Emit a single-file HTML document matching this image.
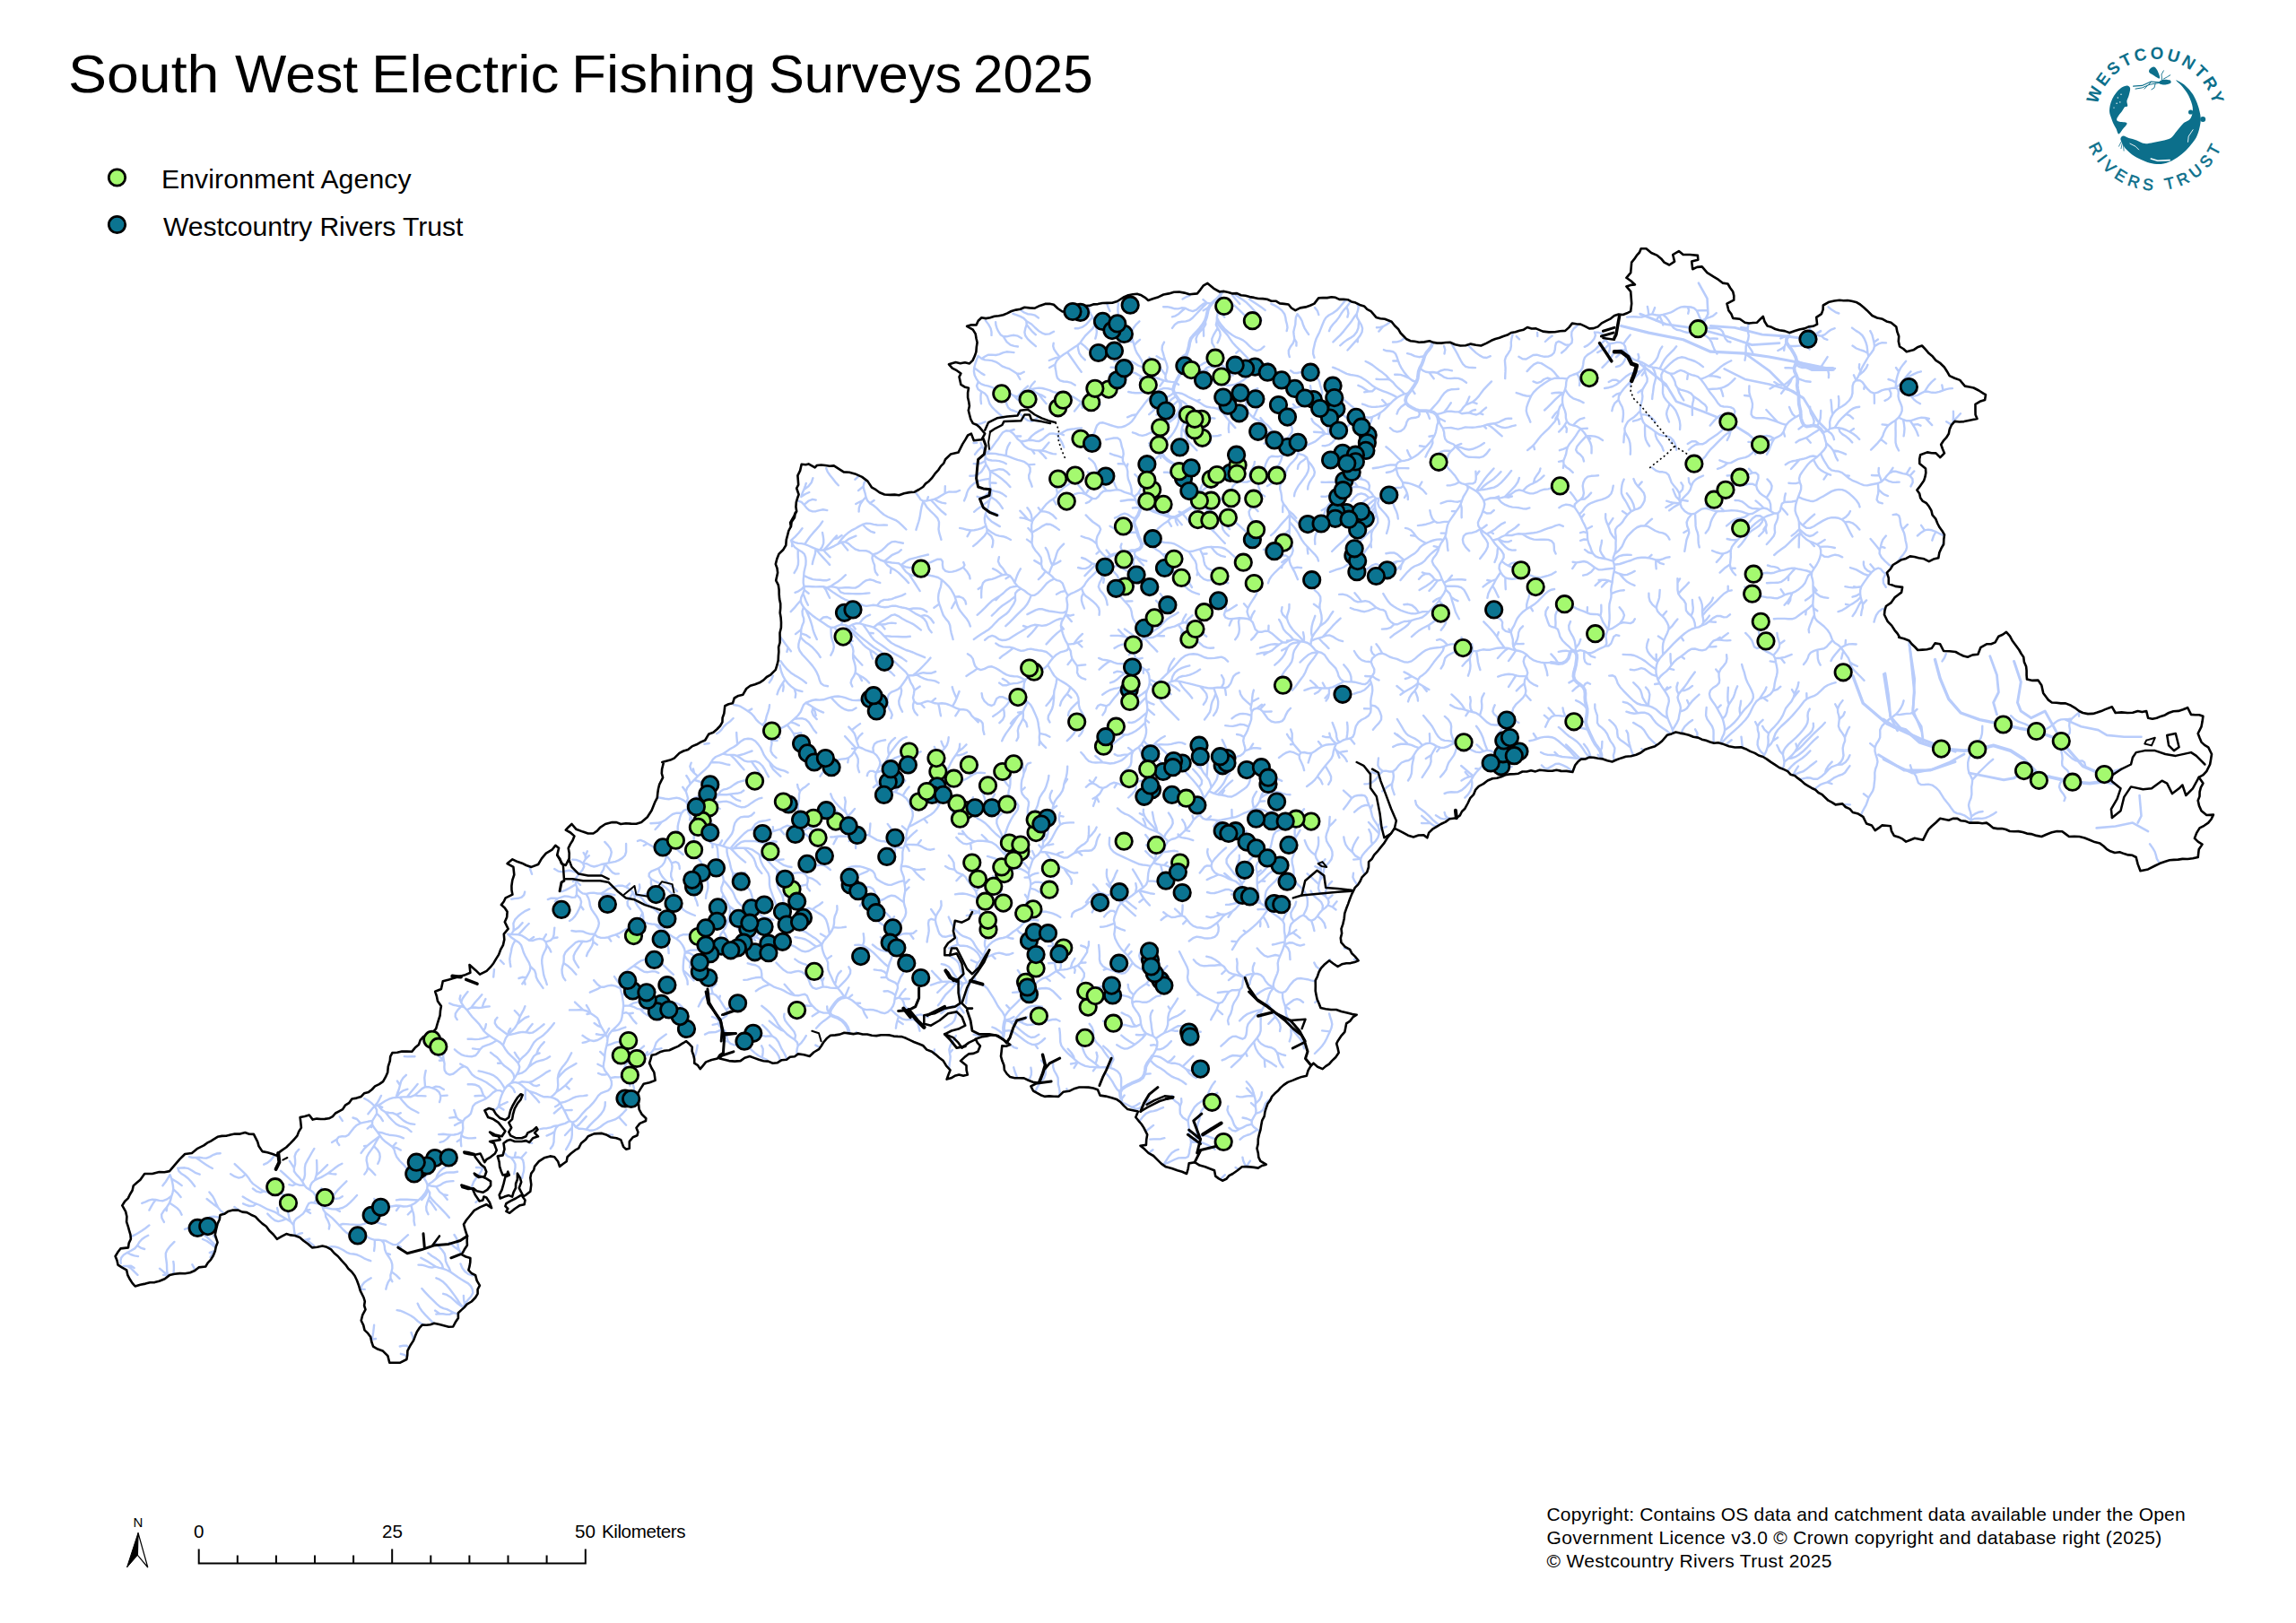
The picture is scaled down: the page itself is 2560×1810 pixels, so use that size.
<!DOCTYPE html>
<html><head><meta charset="utf-8"><title>South West Electric Fishing Surveys 2025</title>
<style>
html,body{margin:0;padding:0;background:#fff;}
body{width:2560px;height:1810px;position:relative;overflow:hidden;font-family:"Liberation Sans",sans-serif;color:#000;}
#title{position:absolute;left:0;top:47.5px;font-size:60px;line-height:70px;white-space:nowrap;}
.leg{position:absolute;left:180px;font-size:30.2px;line-height:34px;white-space:nowrap;letter-spacing:0.1px;transform-origin:0 50%;}
#copy{position:absolute;left:1724.5px;top:1676px;font-size:21px;line-height:26px;white-space:nowrap;letter-spacing:0.2px;}
#copy div{transform-origin:0 0;}
.sb{position:absolute;font-size:20.6px;line-height:22px;white-space:nowrap;}
svg{position:absolute;left:0;top:0;}
</style></head><body>
<svg width="2560" height="1810" viewBox="0 0 2560 1810">
<defs><clipPath id="land"><path d="M310.2 1285.9l4.4 -3.3l4.6 -3.1l4.5 -4.4l4.4 -4.6l3.3 -3.9l1.8 -4.7l2.7 -4.3l-0.6 -5.8l-0.7 -5.8l5.1 -1.1l5.1 -1.4l3.9 5.1l4.5 -1l4.5 0.4l4.5 -0.1l4.5 -0.6l4.2 -2.1l3.1 -3.7l4 -2.2l4.1 -2.2l2.8 -4.4l4.5 -2.9l3 -4.3l5.2 -0.9l5.1 -1.7l3.3 -3.6l5 -1.4l3.8 -2.9l3.3 -3.6l4.7 -2.3l4.3 -2.9l2.8 -5l2.3 -5.3l0.6 -6.5l2 -6.3l0.4 -4.8l2.2 -4.2l5.5 -0.3l5.3 -1.2l5.5 -0.1l5.5 0.3l3.5 -4.2l4.2 -3.5l1.7 -5l3.4 -4l7.8 -1.3l3.1 -3.9l3.3 -3.8l1.3 -4.8l1.5 -4.8l1.6 -5l0.4 -5.3l0.9 -5.1l-3.9 -5.7l-1.1 -5.4l-1.7 -5.2l6.7 -2.8l1.9 -8.7l6.7 -1.9l4.8 -1.5l4.8 -1.4l7.6 -1.9l6.7 -2.8l-0.9 -8.7l6.7 5.8l4.8 4.8l7.6 -3.9l4.1 -4.1l3.6 -4.5l2.8 -4.8l3 -4.8l2 -5.4l2.8 -5.1l1.4 -6.2l-0.5 -6.3l4.8 -5.7l-3.8 -7.7l2.4 -5.5l0.4 -6l-2.8 -4.2l-3.9 -3.4l2.8 -3.6l2 -4.1l7.7 -3.8l-0.9 -4.8l-0.1 -4.8l0.9 -6.4l2 -6.1l-0.9 -8.6l-6.8 -3.8l5.8 -4.8l5.7 2.8l5 1.6l4.6 2.3l5.8 1.9l7.6 -2.9l3.9 -6.7l4.8 -5.7l6.7 -3.9l3.8 -4.8l3.8 2.9l-1.9 7.7l3.2 4.4l1.6 5.2l4.8 1.9l3.8 -7.7l0.1 -5.8l-1 -5.7l2.2 -4.4l2.6 -4.2l1.9 -4.8l-4.4 -3.9l-5.2 -2.8l3.2 -3.5l3.5 -3.2l4.8 5.7l7.7 2.9l5.6 1.9l5.9 0l4.3 -2.8l3.3 -3.9l5.8 -3.8l7.6 -1.9l5 0l4.6 1.9l5.7 -0.8l5.8 0.4l5.9 0.1l5.6 -1.6l6.7 -5.8l4.8 -7.6l1.9 -4.8l2 -4.8l2.3 -4.5l0.5 -5.1l0.7 -4.8l1.2 -4.8l3.9 -7.7l-1.3 -4.7l0.3 -4.8l1.9 -7.7l-1.7 0l4.5 -1.2l4.6 -1.2l4.3 -2l5.8 -5.7l4.6 -2.4l5 -1.5l4.4 -3.6l5.2 -2.1l4.6 -2.7l4.9 -2.1l3.9 -6.7l5.3 -2.1l4.3 -3.7l3.3 -3.5l2.4 -4.1l0.2 -4.9l1.7 -4.7l1 -8.6l4.1 -1.9l4.5 -1l1.9 -5.8l4.5 -2.6l5.1 -1.2l3.8 -6.7l4.4 -3.2l5.2 -1.6l5.1 -1.9l4.5 -2.9l3.5 -3.4l4.2 -2.3l5.7 -5.8l1.6 -5.2l1.3 -5.3l0.2 -4.8l0.4 -4.8l-0.2 -5.2l1.5 -5l0 -5.1l-0.1 -5.8l1.4 -5.7l0.1 -5.8l-0.4 -5.7l-0.9 -5.1l0.5 -5.2l0 -5.1l-1.1 -5l-0.4 -5.2l-0.1 -5.1l-0.8 -5.5l-2.6 -5l1.9 -8.6l-0.6 -4.9l-1.7 -4.7l1.5 -5.9l2.3 -5.6l4.5 -4.3l3.2 -5.3l0.4 -5.8l1.5 -5.7l1.1 -4.5l2.2 -4.2l0.6 -4.7l2.6 -5.6l2.1 -5.9l-0.9 5.6l-3.3 4.8l-0.7 5.6l-0.8 -4.7l4 -7.1l3.1 -5.5l-0.8 -5l0.4 -5.1l1.6 -5.5l1.2 -3.2l-2.4 -7l2 -3.9l-0.4 -5.5l-0.4 -4.7l2.7 -5.5l1.6 -7.1l4.7 0.4l3.1 -0.8l7.1 4l2.3 -2.4l4.7 -0.5l4.7 0.5l4.7 0.7l4.8 -0.3l6.2 3.9l4.7 3.1l6.3 0.4l6.3 1.6l7.8 3.5l6.3 4.7l4.7 7.1l4.5 2.5l4.1 3l5.5 2.3l6.3 0.4l5 -0.3l4.9 0.6l5.6 -2l5.8 -1.1l5.9 -0.4l4.8 -2.7l4.7 -3l2.8 -3.6l3.7 -2.7l3.1 -3.3l3.6 -5l4.1 -4.6l2.5 -3.9l3.3 -3.3l1.8 -4.3l5.8 -5.7l8.6 -2l2.4 -4.8l2.4 -4.7l3 -4.7l2.8 -4.9l3.8 -1.9l2.9 7.6l8.6 -0.9l3.8 -6.7l-5.7 -6.8l-3.5 -3l-4.2 -1.7l-2.5 -4.6l-1.3 -5l-1.2 -4.7l1.1 -5l-0.7 -4.8l-1.1 -4.7l0 -5.3l0.9 -5.2l-4.6 -1.4l-4 -2.5l-1.9 -8.6l1.9 -3.8l-4.6 -3.3l-5 -2.5l-3.8 -4.4l7.6 -2.3l5.1 1.3l5.2 -1l5.1 1.1l3.6 -3.5l2.1 -4.6l1.7 -5l0.4 -5.2l0.8 -5.1l-1.1 -4.8l-0.8 -4.8l-2.9 -4.8l-6.7 -3.8l5.1 -1.5l5.4 0.1l2.1 -4.6l3.7 -3.6l4.8 0.9l4.8 -0.9l4.7 -1.5l4.9 -0.4l4.9 -1.1l4.6 -1.8l4.6 -2.4l5 -1.4l5 -0.8l4.6 -2.1l5.7 0.7l5.8 0.3l5.6 -2.8l5.9 -2l4.9 -0.2l4.7 1.1l4.5 4.2l5.1 3.5l7.6 0l4.1 -2.7l4.6 -1.7l4.7 -1.4l4.5 -0.6l4.6 -0.2l4.4 -1.5l5.1 -0.3l5.1 -1.1l5.1 -0.1l5.9 -0.1l5.6 -1.8l7.6 -4.8l4.6 -2l5 -0.9l4.9 -0.5l4.7 1.5l4.1 2.5l3.6 3.2l5.7 -2l5.8 -1.8l5.5 -2.7l6 -1.1l5.6 -1.6l5.9 -0.3l5.8 1.1l5.7 1.7l8.6 -0.9l3.5 -4.3l3.2 -4.4l4.8 -2.8l6.7 5.7l6.9 3.9l0 -0.3l4.9 -0.3l4.7 1l4.7 1.5l4.9 -0.3l4.5 2.1l5 0.6l4.7 1.3l4.9 0.8l4.8 1.1l4.9 0.1l4.9 0.7l4.6 1.9l5 0l4.4 2.7l4.9 0.5l4.9 0.6l3.2 4l4.4 2.7l5.4 -2.8l6.1 -1l4.9 -1.6l4.7 -2.2l4.8 -6.2l4.8 -0.4l4.8 0.1l4.8 -0.8l4.5 0.5l4.3 2.1l4.6 -0.1l4.7 0.4l4.2 2.2l4.5 1.2l4.6 2.3l5 1.5l3.3 3.5l4.3 2.3l5.8 6.7l4.7 1.4l4.9 0.5l7.6 2.9l3.5 4.6l4.2 4l2.4 4.2l3.4 3.5l3.3 3.3l4.3 2l4.8 0.4l4.8 1l5.8 -0.3l5.7 -1.1l4.3 1.6l4.5 0.7l4.6 0l4.8 -0.6l4.8 -0.3l5.6 2.5l5.9 1.3l5.9 -0.2l5.6 -1.7l5.7 1.1l5.8 0.8l5.9 -2.6l5.6 -3.1l4.4 -1.8l4.6 -1.2l4.4 -1.8l4.5 -1.4l4.2 -2.6l4.7 -0.8l4.6 -1.5l4.7 -1l4.1 -2.7l4.7 1.5l4.9 -0.1l7.7 3.2l6.7 0.8l6.7 -0.2l5.7 -0.9l5.8 -0.4l4.2 -3.8l3.5 -4.5l4.7 0.7l4.8 0.3l4.9 2.3l4.7 2.5l4.9 -0.3l4.7 -1.7l4.3 -4l5.3 -2.7l4.7 -2.4l4.1 -3.3l0 0l4.7 -1.4l4.9 0.4l4.4 -1.7l4.2 -2.1l1 -8.6l-0.5 -6.7l-0.5 -6.7l-4.8 -5.8l4.7 -1.5l4.9 -0.4l-4.6 -4.2l-5 -3.5l4.8 -5.7l0.5 -5.8l0.5 -5.7l3 -3.7l2.7 -4l3.1 -3.4l1.7 -4.3l5.8 0l5.7 4.8l6.7 2.9l4.2 3.5l3.5 4.2l5.7 2.9l5.8 -3.9l-1.9 -7.6l6.7 -3.9l4.8 3.9l7.6 0l8.6 0.9l0.4 4.8l-7.1 1.9l1 8.6l5 -2.3l5.5 -0.5l5.8 6.7l7.6 4.8l5 3l4.6 3.7l5.8 0.9l2.6 4.5l3.1 4.2l1.1 4.7l-0.1 4.8l-7.7 3.9l1.9 7.6l3 4l1.8 4.7l7.7 0.9l5.7 3.9l4.5 0.8l4.5 -0.5l4.5 -0.3l3.3 -3.5l3.4 -3.3l1.7 5.6l3.1 5l4.6 1.3l4.2 2.2l4.6 1.3l5.9 0.8l5.6 2l5.7 -2l5.8 -1.8l5 -0.9l4.6 -2l5 -0.6l4.5 -2.2l-0.9 -7.7l5.7 -3.8l1.7 -4.7l0.2 -4.9l6.7 -3.8l5.7 -1.2l5.8 -0.8l4.5 0.5l4.5 -0.2l4.5 0.7l5 1.2l4.5 2.6l3.9 3.3l3.8 3.4l5.8 5.8l5.5 2.5l6 1.3l4.5 2.6l5 1.3l5.8 4.7l1 5.4l1.9 5.2l-0.4 5.8l1.3 5.7l4.1 2.5l3.6 3.2l7.6 -1.9l4.5 -3l5.1 -1.8l3.9 4.2l3.8 4.4l4.2 3.5l3.5 4.2l5.1 3.4l4.4 4.3l3 4.7l2.8 4.9l5.7 2.6l5.8 2.2l5.7 6.7l4.8 0.9l4.8 1l5.9 3l5.6 3.7l2 1l-0.9 5.8l-5.6 1.8l-5 3l0 6.7l0.1 5l1.9 4.6l-4.8 1l-4.8 0.9l-5.1 1.1l-5.1 0.4l-5.2 -0.6l-3.5 3.9l-2.2 4.8l-1 5.1l-2.8 4.5l-3.2 3.5l-2.6 4.1l1.8 4.9l2 4.7l-4.7 4.8l-4.8 -4.8l-4.8 -0.1l-4.8 -0.9l-7.7 2.9l-1 4.7l0.1 4.9l6.7 5.7l0.3 4.6l-0.8 4.5l-1.4 4.4l-3.8 5.3l-3.9 5.2l2.8 3.9l1 4.7l2.7 3.7l4.1 2.3l2.8 3.6l2.6 4.5l1.2 5.1l3.7 4.3l2.1 5.3l2.3 4.3l2.9 3.9l2.4 4.2l-0.7 5.3l-0.2 5.3l-2.7 4.7l-2.1 4.9l-1 5.7l-5.5 1.3l-5 2.5l-5.5 -2.8l-6 -1l-4.7 -1.3l-4.9 -0.6l-4.6 2.5l-5 1.3l-4.7 2.9l-4.8 2.9l-2.8 4.7l-3.9 3.9l1.9 6.1l0 6.3l7.6 2.9l7.7 1l-1 5.7l-3.8 2.9l-3.8 2.9l-3.9 5.7l-5.7 3.9l-1.4 4.7l-0.5 4.8l3.8 7.7l4.4 4.4l3.3 5.2l3.2 3.8l2.5 4.4l-1 -0.3l5.8 1.6l5.7 2.2l2.9 3.8l3.5 3.2l3.2 3.5l5.2 -0.4l5.1 -0.4l5.1 -1.1l3.8 -5.7l5.7 0.9l3.9 7.7l6.7 0.3l6.7 0.7l4.2 2.4l4.4 2.1l4.8 1.2l5.5 -2.3l6 -0.6l2.9 -7.6l6.7 -3.9l5 -0.1l4.6 -1.8l3.8 -6.7l4.5 -2l4.1 -2.8l4 4.4l2.7 5.2l3.9 5.2l3.8 5.3l2.2 4l2.6 3.7l0.7 5.5l2.2 5l0.5 4.8l0 4.8l0.4 4.8l6.2 1.3l6.3 -0.3l3.8 5.7l1.9 8.6l2.8 3.9l2.9 3.8l3.9 2.9l5.1 0.2l5.1 0.7l5.1 0l6 2.4l5.5 3.4l3.6 2.8l4.1 2l5.7 1.1l5.8 -0.2l4.6 -1.3l4.5 -1.5l4.3 -2l7.7 -2.8l3.8 6.7l6.7 -0.6l6.7 0.6l5.9 -0.2l5.6 -1.7l4.8 1l4.8 -1l1.9 7.6l4.8 1l4.8 -1l4.5 -1.8l4.7 -1.5l4.2 -2.4l5.2 -1.8l5.6 -0.3l5.2 -1.6l5.1 -2.1l3.8 7.7l4.5 0.3l4.6 0.1l4.3 1.5l-0.8 5.8l-1.1 5.7l-3.8 7.7l1.8 4.8l2 4.8l3.5 3.3l4.2 2.4l3.8 7.7l-0.9 5.8l-1 5.7l-3.8 7.6l-3.7 4.1l-4.9 2.6l4.7 6.8l-2.5 4.5l-1.3 5l-0.1 5l-1.8 4.6l1.3 5.9l2.5 5.6l5.8 4.8l7.6 -0.4l-2.3 4.9l-3.4 4.1l-4.6 3.2l-5 2.6l-3.4 5.5l-2.3 6l3.8 3.8l4.8 2.9l-3.8 5.7l-1 8.7l-5.7 1.3l-5.8 0.7l-5.8 -0.1l-4.8 0.7l-4.8 0.3l-4.8 0.4l-4.7 1.4l-5.9 2.1l-5.6 2.7l-7.7 3.9l-8.6 1.9l-2.9 -7.7l-1.9 -7.6l-4.2 -2.2l-4.7 -0.4l-4.5 -1.3l-4.9 -1.8l-5.4 0.7l-5 -1.7l-4.2 -2.5l-3.4 -3.3l-3.9 -2.9l-5.9 -1.5l-5.6 -2.3l-5.6 -2.3l-5.9 -1.5l-5.7 -0.3l-5.8 0.3l-3.8 -2.9l-3.9 -2.9l-5.8 -0.2l-5.7 1.2l-5.8 2.3l-5.7 2.5l-5.8 -1.1l-5.7 -1.8l-4.8 -0.5l-4.7 -1.6l-4.8 -0.9l-4.9 0.1l-4.7 -0.2l-4.4 -2l-4.5 -1l-4.8 0.1l-4.6 -0.7l-3.7 -3l-3.9 -2.8l-4.8 0.6l-4.8 -0.7l-4.8 0.1l-4.8 0l-4.4 -1.8l-4.9 -0.5l-4.1 -2.5l-5 0.1l-4.6 1.9l-4.8 -1l-4.8 -1l-4.6 4.5l-4.9 4.2l-3.4 3.4l-2.4 4.2l-3.8 7.7l-4.6 -1.1l-4.7 -0.9l-4.8 1.9l-4.8 1.9l-3.8 -2.9l-4.7 -2.3l-4.9 -1.5l-2.8 -5l-1.1 -5.6l-4.7 -0.5l-4.8 -0.4l-3.7 3l-4 2.7l-3.8 -5.7l-5.8 -1.9l-3.8 -7.7l-5.4 -3.2l-6.1 -1.6l-3.3 -3.9l-4.7 -2.1l-3.5 -3.6l-7.7 1l-3.9 -2.6l-4.2 -2.1l-3.4 -3.2l-3.4 -3.3l-4.2 -2.2l-3.4 -3.3l-4.3 -2l-4 -2.4l-4 -2.5l-3.5 -3.2l-3.7 -2.7l-3.5 -3l-4.7 -1.2l-3.2 -3.6l-4.1 -2l-5.3 -2.1l-4.6 -3.1l-4.7 -3l-4.5 -3.3l-4.3 -2.6l-4.8 -1.5l-4.3 -2.6l-5.2 -2l-5 -2.7l-5.2 -2l-6.8 0.3l-6.6 -1.3l-7.7 -2.8l-4.4 -1.1l-4.6 0.5l-4.4 -1.4l-4.5 -1.6l-4.6 -1.1l-4.3 -2.1l-5.3 -0.8l-4.9 -2.1l-5.1 -1.3l-4.8 -0.8l-4.8 -1.1l-4.7 1.9l-4.9 1.4l-5.7 6.7l-3.7 3l-4 2.7l-5.8 1.9l-5.7 2l-4.5 3.4l-5.1 2.3l-5.7 1.5l-5.8 0.4l-5.2 1.7l-5.1 1.9l-5 2.2l-5.3 -1.3l-5.1 -1.8l-5.4 -0.7l-5.3 -1l-4.6 -0.1l-4.3 1.9l-4.5 0.1l-3.7 3l-3 3.7l-2.9 7.7l-6.7 -1.1l-6.7 0.1l0 -0.4l-4.6 -0.9l-4.6 1.1l-4.6 -0.1l-4.6 -0.5l-4.9 -0.5l-4.7 1.7l-4.9 -1.2l-4.7 1.3l-4.9 0l-4.5 2.2l-4.8 0.5l-4.9 0.2l-4.9 0.8l-4.6 2.1l-4.7 1.5l-5 0.4l-5.4 2.3l-4.7 3.6l-5.2 2.7l-3.7 4.1l-2.1 5.3l-3.8 4l-2.7 5.8l-3.1 5.7l-3.4 3.3l-2.2 4.4l-3.9 2.9l-7.7 0.9l-4.5 3.4l-5.1 2.4l-4.7 2.9l-4.7 2.8l-4 3.9l-1.9 5.7l-3.8 -2.9l-5.9 0.1l-5.6 1.9l-6 -1.7l-5.5 -3.1l-4.8 -2.4l-4.8 -2.4l-3.9 5.7l-4.2 5l-3.4 5.6l-3.9 4.8l-3.8 4.8l-3.5 3.6l-2.4 4.4l-3.7 3.4l-0.1 5.9l-1.8 5.6l-5.7 5.8l-1.9 4.3l-2.5 3.9l-3.3 3.3l-3.8 7.7l-2 5.2l-1.9 5.3l-2 5.2l-1.8 5.3l-0.6 5.9l-1.3 5.8l-1.9 5.6l0.6 5.1l-1.3 5.1l0.7 5.1l4.2 4.6l5.4 3.1l2.2 4.4l3.5 3.3l3.8 4.7l-4.3 1.8l-4.4 1l-4.7 0.1l-5.1 1.1l-4.5 2.7l-4.8 -3.3l-4.7 -3.4l-5.8 4.8l-3.3 3.5l-2.4 4.2l-1.6 4.9l-2.3 4.7l0.1 5.8l-0.1 5.7l0.9 4.8l1 4.8l2.1 4.7l1.8 4.8l5.7 1.2l5.8 0.8l5.9 0l5.6 1.9l7.6 1.9l4.7 1.3l4.9 0.6l-4.3 2.7l-3 4.2l-4.2 2.7l-0.9 4.8l-1 4.8l-4.2 4.8l-3.5 5.3l-1.4 2.8l1.4 5.1l1.1 5.2l-3.4 4.9l-4.3 4.1l-3 3.5l-3.9 2.5l-3.4 3l-5.6 -2.4l-4.6 -4l-2.6 2.5l-3.3 5.5l-1.8 6.1l-5.4 1.1l-5.1 1.9l-5 2.1l-5.4 2l-4.8 3.2l-3.4 3l-2.9 3.5l-3.5 3l-3.1 3.3l-1.9 4.2l-2.8 3.7l-1.6 4.4l-1.4 4.4l-0.8 5.3l-2.5 4.8l-1 5.2l-0.8 5.3l-1.5 5l-1.1 5.1l-0.1 5.3l-1.2 5.1l1.3 5.2l0.5 4.7l2.1 4.3l6.4 3.8l-4.8 1.3l-4.2 2.6l-4.5 -0.7l-4.5 -0.5l-4.5 -0.3l-4.5 0.2l-5 4l-5.3 3.7l-4.1 2.2l-3.1 3.6l-4.3 1.9l-4.1 -2.3l-3.7 -2.8l-1.2 -6.4l-5.2 -1.9l-5.1 -2l-6.2 -1.7l-5.4 -3.4l-6.4 1.2l-1 5.9l-1.6 5.7l-5.1 -2.2l-5.2 -1.6l-6.3 -2.2l-6.5 -1.7l0 0l-5 -3.4l-4.3 -4.3l-4.6 -4.6l-5.6 -3.1l-4.3 -4.3l-4.7 -3.9l6.4 -0.8l0.3 -5.8l1 -5.8l-3.9 -7.7l-2.7 -4.1l-3.2 -3.7l-3.1 -3.8l2.6 -6.4l-5.8 -1.3l-5.8 -1.2l-4 -3.7l-3.7 -4.1l-4.7 -3.4l-5.5 -1.7l-6.4 -1.6l-6.5 -1l-2.6 -6.4l-5 -1.7l-5.2 -0.9l-5.2 -0.1l-5.2 0l-5.1 1.4l-6.1 2.9l-6.7 1l-5.1 5.1l-5.2 -0.2l-5.1 -0.3l-5.2 0.5l-4.5 -1.7l-4.1 -2.4l-4.2 -2.3l-2.6 -5.1l7.7 -3.9l-5.4 -0.8l-5.1 -2l-4.9 -2.3l-5.2 -0.2l-5.1 0.1l-5.1 -1.2l-3.6 -3.5l-2.8 -4.2l-0.5 -5.3l-2 -5l-1.4 -5.1l0.7 -5.8l0.6 -5.8l4.6 0.3l4.4 -1.6l-5.2 -3.9l-5 -3.3l-5.2 -3.1l-5.2 -0.6l-5.1 1.2l-5.1 0.7l-7.8 2.6l2.1 4.2l3.1 3.5l-2.6 6.4l-4.9 2.1l-5.4 0.5l-4.6 3.7l-4.4 4l6.5 5.1l0.1 5.2l1.2 5.1l-4.7 1.3l-4.8 -1.3l-4.7 1.3l-4.2 2.5l-4.8 1.3l1.9 -5.1l2 -5.1l-4.4 -4.8l-3.3 -5.5l-4.3 -3.4l-4.2 -3.6l-4.4 -3.3l-5.6 -2.2l-4.2 -4.6l-5.6 -2.2l-4.6 -1.8l-4.4 -2.1l-4.4 -2.1l-4.6 -1.7l-4.5 -0.2l-4.5 -0.3l-4.5 -1.2l-4.5 -0.1l-5.1 0l-5.2 0.8l-5.1 -0.3l-5.1 -1.3l-5.2 0l-5.1 -1.2l-5.2 0.8l-5.1 -0.7l-5.1 -0.7l-5 1.9l-5.1 0.8l-5.3 0.4l-4.3 3.5l-3.5 4.2l-2.4 4l-2.7 3.7l-5.6 3.3l-4.7 4.5l-6.3 -1.8l-6.5 -0.8l-3.9 2.9l-5.1 0.5l-3.9 3l-5.4 0.4l-4.7 3l-5.3 0.5l-4.9 -2.1l-5.4 -0.4l-5.1 -1.4l-5.2 -1.9l-5.1 -1.9l-5.6 1.7l-4.7 3.4l-6.4 0.5l-6.4 -0.5l-5.1 -1.3l-5.2 -1.3l3.9 -6.4l-3.9 2.6l-2.6 3.8l-6.5 1.5l-6.3 2.4l-3.2 3.9l-3.2 3.8l-2.6 -3.9l-3.9 -2.5l0 -4.6l-1 -4.4l-1.6 -4.4l0.1 -4.6l-3.1 -3.4l-3.4 -3.1l-4.7 2.7l-4.4 3l-5 2.1l-4.9 2.3l-5.4 0.5l-5.1 1.5l-4.2 2.4l-4.8 1l-1.2 4.5l-1.4 4.5l2.3 5.3l2.9 4.9l0.7 4.5l0.6 4.5l-6.3 2.4l-6.6 1.5l-3.3 5.1l-3.1 5.2l0.5 4.5l-0.4 4.5l0.8 4.5l0.4 4.5l3.1 5.7l4.6 4.5l-0.3 2.7l-6.6 2.9l-3.9 4.8l1.9 4.8l-0.9 3.8l-4.8 1.9l-3.9 4.8l0 7.7l-3.8 1l-2.9 -2.9l-2.9 -7.7l-4.8 -1.9l-6.7 -1l-4.8 -2.8l-4.8 -1.5l-8.7 0.5l-6.7 2.9l-2.9 3.8l-4.8 3.9l-2.9 5.7l-3.8 2l-4.8 3.8l-3.9 3.8l-0.9 4.9l-3.9 2.8l-3.8 2.9l-1.9 -5.7l-3.9 -4.9l-4.8 -0.9l-6.7 1.9l-5.8 3.9l-4.8 5.7l-0.9 3.9l-2.9 3.8l-1 4.8l1 7.7l-1 7.7l-4.8 3.8l-3.8 2l2.8 3.8l-0.9 4.8l-4.8 1l-5.8 3.8l-5.8 4.8l-3.8 -1.9l1.9 -2.9l-2.9 -2.9l1 -2.9l4.8 -2.8l5.8 -2.9l4.8 -2.9l2.9 -1l-3.9 -7.7l2.4 -6.7l-1.4 -4.8l-2.9 -4.8l0 6.7l-1.8 4.6l-0.1 5l-2.4 4.7l-1.5 5l-3.8 -1.5l-4.8 1.5l-4.8 1.9l-1 -3.9l2.9 -5.7l1.9 -6.8l1.9 -7.6l4.4 -2l-1.5 -3.8l-0.9 2.9l-4.8 0.9l-2 -4.8l-1.5 -4.7l-0.4 -4.9l-1.9 -6.7l5.8 -1l1.9 -6.7l-1 -6.7l3.9 -2.9l3.8 -1l4.8 1.9l7.7 0l4.8 -0.9l3.8 1.9l3.9 -4.8l5.8 -1.9l-3.9 -3.9l3.4 -3.8l-1.5 -2.4l-3.8 3.4l-5.8 2.8l-1.9 3.9l-4.8 1.9l-6.7 0l-5.8 -2.9l-1.9 -3.8l2.9 -4.8l-2.9 -5.8l3.8 -3.8l1 -5.8l1.7 -6l3.1 -5.5l3.6 -4.4l2.2 -5.3l-2 -0.9l-3.8 4l-2.9 4.6l-2.6 4.7l-2.2 4.9l-1.9 7.7l-3.9 2.9l-5.7 -1.9l-4.8 -4.8l-2.9 -4.8l-4.8 -1.5l-4.8 2.4l3.8 7.7l5.8 2l5.7 3.8l3.9 4.8l3.8 4.8l-3.8 5.8l-7.7 -1.9l-5.8 -2.9l3.9 3.8l5.7 1l2 3.8l-5.8 1l-5.8 0.9l4.8 2l2.9 7.7l-1.9 3.8l-4.8 3.8l-4.8 2.9l-1.9 2.9l-2 -3.8l-2.8 -5.8l-6.8 1.4l-5.5 -0.7l-5.5 -1.2l-0.5 -1.4l5.8 0.8l5.7 1.6l1 3.3l3.8 4.9l2.9 3.8l3.9 2.9l1.9 4.8l-1.9 5.3l-6.8 0.9l-3.8 -2.4l-1 -1.9l4.8 2.9l4.8 1l3.9 1.9l4.8 2.9l0 4.8l-3.8 4.8l-4.9 2.9l-6.7 -1.5l-3.8 -2.9l-5.8 0.5l-6.7 -1.9l-1 -2.4l7.7 2.4l4.8 1.9l2.9 6.7l4.8 6.8l3.8 -1l1 -3.8l2.9 0.9l3.8 5.8l2 5.8l-5.8 -3.9l-6.7 2.9l-6.8 3.8l-5.4 6.6l-3.5 4.3l-2.9 4.7l1.8 6.5l2.1 6.4l-0.2 5.2l0.2 5.1l-3.3 5.1l-2.8 5.3l4.6 2.4l5 1.4l-0.1 4.6l-0.7 4.4l-1.2 4.4l3.3 3.7l4.4 2.1l1.6 6.1l3.2 5.4l-2.3 4.2l0 5l-2.5 4.2l-4.3 4.5l-5.3 3.1l-2.9 3.5l-3.4 3l-3.3 3.1l0 5.8l-3.1 4.6l-2.6 4.9l-4.9 0.3l-4.7 -1.2l-5.7 -1.5l-5.8 -1.4l-4.3 1.5l-4.5 0.6l-4.6 -0.2l-3.2 3.6l-2.6 4.1l-2 4.8l-1.8 4.8l-3.6 5.6l-3.1 5.9l-0.2 4.8l-0.8 4.8l-7.6 3.8l-5.7 0l-5.8 0l-1.9 -7.7l-5.8 -5.7l-5.5 -1.9l-5 -2.9l-1.8 -5.2l-1.1 -5.4l-3 -4.1l-3.7 -3.5l-1.3 -5.5l-2.5 -5.1l1.6 -6.5l3.2 -5.9l-1.4 -4.4l0.7 -4.6l-1.3 -4.4l-3.8 -7.7l-1.7 -5.8l-2.1 -5.7l-2.4 -5.1l-3.4 -4.5l-3.8 -3.4l-2.9 -4.2l-4.4 -4.7l-4.2 -4.9l-4.2 -3.5l-3.5 -4.2l-4.6 -2.5l-5 -1.3l-5.7 1.2l-5.8 0.7l-4.6 -4.1l-4.9 -3.6l-4.3 -3.7l-5.3 -2l-4.9 -0.6l-4.7 -1.3l-5.3 2.8l-5.2 2.9l-4 -5.1l-4.7 -4.5l-3.2 -4.4l-4.4 -3.2l-4 -3.7l-3.7 -4l-4.9 -2.2l-4.7 -2.6l-5 -0.5l-4.6 -2l-5.8 0l-5.7 1.5l-4 2.7l-4.6 1.2l-0.7 5l-2.2 4.6l-1.5 6.2l-1.3 6.2l1.4 4.3l1.4 4.3l-1.8 4.7l-1 4.9l-2 5l-2.8 4.6l-3.3 3.5l-2.5 4.2l-7.6 0.9l-4.4 3.6l-5.2 2.2l-5.7 1l-5.8 -0.1l-5.8 0.7l-5.7 1.3l-5.3 4.1l-6.2 2.6l-5 1.3l-5.3 0.1l-5 1.4l-5.8 1.1l-5.7 1.8l-3.2 -3.6l-2.6 -4.1l-2.6 -5l-1.2 -5.5l-4.9 -2.6l-4.7 -3.1l-1 -4.9l-1.9 -4.7l2.7 -4.4l3.1 -4.2l8.6 -1l0.7 -5l2.2 -4.6l-0.5 -4.9l-1.4 -4.7l-1.3 -4.8l-1.6 -4.8l0.3 -5.8l-1.3 -5.7l-3.8 -6.7l2.9 -4.7l3.6 -3.3l2.1 -4.4l2.7 -4.5l1.1 -5.1l3.8 -3.4l3.9 -3.3l4.8 -6.7l8.6 0l7.7 -1.9l5.8 0.1l5.7 -1.1l5.7 -6.7l5.8 -6.7l5.7 -5.7l7.7 -1l5.8 -4.8l7.6 -3.8l3.6 -2.7l4.1 -2.1l7.6 -4.8l4.8 -0.9l4.8 -0.1l4.8 -1.3l4.8 -1l5.9 0.1l5.6 -1.6l4.6 1.7l5 0.2l1.9 3.8l2.4 4.6l1.4 5l3.9 5.8l5.8 1.2l5.7 1.7l4.8 1.9z"/></clipPath></defs>
<g clip-path="url(#land)" fill="none" stroke="#b8ccfb" stroke-width="2.4" stroke-linecap="round" stroke-linejoin="round"><path d="M1205.3 839l3.3 3.6l2.6 3.6l2.9 2.7l3.7 1.2l4 0.4l3.9-0.1l3.8-0.2l3.9 0.6l4.2 0.7l4.5-0.5l4.2-1.3l3.9-1.5l3.6-2.7l4.1-3.9l5.4-3.6l2.9-2.6l3.5-2.2l3.1-3.1l2.4-4l1.8-4.4l1-4.2l0.1-4l-0.7-3.6l-0.6-3.7l0.3-3.9l0.8-3.7l0.8-4l0.6-4.2l-0.3-4.3l-0.6-4.2l-0.4-4.2l0-4.1l1.1-3.9l1.8-4l0.9-4.2l-0.1-3.9l-0.4-3.7l-1-3.5l-2.3-2.8l-3.5-2.4l-3.9-3l-2.9-4.1l-1.7-4.3l-1-3.9l-0.1-3.7l1.6-3.9l3.2-3.8l3.3-3.9l1.8-3.8l-0.6-3.9l-2.3-4.2l-3-4.3l-3.2-4.3l-2.4-4.1l-1.1-3.9l-0.5-3.8l-1.1-3.7l-2.7-3.8l-3.8-4.1l-4-4.4l-2.7-4.5l-1.1-4.1l0-3.8l0.8-3.6l0.5-3.9l-1.7-4.3l-3.7-4.1l-4.1-3.9l-3-3.8l-1-3.9l0.2-4.1M1234.6 809.5l3.5 1.8l4 1.2l3.9 2.2l3.9 3l3.9 1.8l4.2-0.3l4.3-1.8l3.9-2.2l3.4-2.4l3.3-3l3.9-3.6M1221.3 843l4.4 3.5l3.8 3.7M1262.7 774.3l3.2 2.4l3.5 0l4.2-2.7l5.5-4.3M1203 820.9l2.8-3.1l1.6-3.4l0.2-3.7l0.2-4l0.9-4l-0.3-4.1l-2.2-4.2l-2.3-4.1l-1-4l-0.2-4.3l-0.4-4.1l-1.7-3.8l-3.2-4l-4.1-3.9l-4-3.1l-3.7-2.2l-3.6-2.1l-3.6-2.3l-3-3l-2.2-3.5l-2.3-4l-2.7-4.4l2.6-3.8l3.3-4.1l3.9-3.8l4.1-2.5l4-1l3.7-1.3l1.7-2.8l-1.1-3.9l-2.4-4.1l-1.8-4l-1.3-4l-1.2-4.2l-0.8-4.3l0.7-4.1l2.3-4.1l2.2-4.1l1.2-3.9l0.7-3.9l0.2-3.6l-0.6-3.5l-0.4-3.5l1.5-3l3.2-1.9l4-1.7l4.2-2.1l3.9-2.4l2.8-2.9l2.1-3.6l2.8-3.6l4-3.7l4.1-4l3.2-4.4l2.5-4.4l2.9-3.8l3.9-3.3M1189.8 826.2l4.1-4.1l3.6-4.1l2.1-4.2l1-4.1l2.3-3.9l3.4-3.8l2.1-3.4M1234.6 831l3.4 0.4l3.8-2.2l4.2-3.6l4.1-3.1l3.7-3M1229.4 797.4l2.8-4.1l1.6-6l3.1-1.7l2.7-3.6l3.1-4l3.5-3.9l2.7-4l2.5-4l3.1-4l3.6-3.7l2.8-4l2.5-4.2l3.2-4l4-4M1366.5 674.8l0.7 3.6l-1.3 3.7l-1.1 3.6l1.6 2.9l3.8 1.5l4 0l3.7-0.5l4-0.3l4.3 0.2l4.3 0.5l3.7 1.5l2.6 2.7l1.4 3.7l1.4 3.9l3.1 2.7l4 0.3l4-1.2l3.6 0.3l3.9 2.5l4 3.4l4 3.7l4.1 2.7l4.1 0.3l3.9-2l3.8-1.4l3.8 0.8l4 1.3l4.1 0.6l4 1.2l3.5 2.4l2.8 3l2.4 2.8l3 1.7l3.8 1.1l3.3 2.2l2.4 3.6l2.7 3.8l3.7 3.8l3.8 4l2 4.3l1.1 4.2l2.3 3.6l3.6 2.4l4.2 0.5l4.1-0.1l3.8 0.4l3.7 0.9l4 1.1l3.9 0.4l3-1.9l2.3-3.6l2.6-3.7l2.2-3.8l0.1-3.9l-2.1-4l-1.5-4l1.3-3.8l3.4-3.1l3.8-2l4-0.6l4.2 1.5l4 2.3l4 1.3l4.1 1.1l3.8 1.8l4 1.5l4.3 0.4l4.2-1.2l4.1-3l4.2-3.7l4-3.2l3.8-2.4l4.1-1.6l4.2-0.8l4.1-0.4l3.9-0.4l4-1.1l3.8-1.5l3.9-0.9l4.1 0l4.2 0.4l4.2 1.1l4 2.1l3.6 2.3l3.9 1.6l4.2 0.4l3.9-1.1l3.7-0.9l3.8 0.4l3.9 0l4.1-1.1l4-0.9l3.9-0.2l4.2 0l4.3 0.5l4.3 1.3l4 1l3.9 0.7l4.1 1.4l4 2.7l3.4 3.4l3.8 2.6l4.2 1.5l4.3 1l3.9 0.7l3.7-0.2l3.9-0.2M1281.2 746.4l-3.2 1.2M1266.8 789.6l3.3-4l3.8-4l4.1-3.9M1258.3 805.6l3.4 0.4l3.7-1l4.2-2.7l4.4-3.7l4.7-4M1190.2 854.7l-0.2 3.9l-0.4 4l-0.9 4.2l-1.4 4l-1 3.7l-0.5 3.6l-1.2 3.8l-2.6 4.2l-3.5 4.1l-2.5 3.7l-1.4 3.8l-1 4.2l-1.1 4.2l-1.3 3.9l-0.9 3.8l-0.6 4l-0.6 4l-0.4 3.9l-0.3 4.2l-1.3 4.5l-3.8 4.2l-0.5 3.8l-1.2 3.9l-1.6 3.8l-2.6 3.1l-3.3 2.5l-2.5 3l-1.4 3.6l-1.2 3.8l-1.4 3.9l-0.7 4.2l0.7 4l1.2 4l0.5 4.2l-0.6 4.2l-1.1 3.9l-0.8 3.7l-0.8 4l-1.3 4.3l-1.7 4.1l-1 3.8l0 3.8l0.2 4l-0.1 3.9l-1.3 3.6l-3.1 3.6l-4.1 3.2l-4.1 2.7l-3.7 3l-3.6 2.6l-3.9 1.2l-4.4 0.8l-4 1.6l-3.8 2.4l-3.7 3.4l-3 4l-1.5 3.9l-1.5 3.9l-2.8 4.1l-3.3 4l-1.8 3.8l-0.4 3.8l-0.9 4l-0.7 4.1l1.1 3.8l2.7 2.8l3.7 1.6l3.8 1.6l3 2.7l2.3 3.6l2.4 3.8l2.6 4l2.3 4.1l2.1 3.9l2.5 3.6l3 3.8l2.3 4.3l0.2 4.6M1274.9 750.7l-0.4-5.5M1309.3 734.5l-2.6 3.6l-2.2 3.9l-1.6 4.1l-0.7 4.2l-3.8 3.8l-3.9 3.8l-4.3 3.8l-4.1-1.8l-4.4-2.3M1353.9 669.3l-2.8 4.5l-2.2 4.3l-1.9 3.8l-2.2 3.6l-3 3.7l-3.9 3.9l-4.3 2.7l-4 0.3l-3.8-1.3l-4-0.8l-4 0.8l-4 1.9l-4.2 1.9l-4.2 1.1l-3.9 0.8l-3.7 2.1l-3.8 3.2l-4.1 3l-3.9 1.9l-4.4 0.7l-6.8-0.6M1318.9 709.5l-1.7-3.2l0.4-4.2l-3.8-5.4M1166.1 833.9l-4.3-4.2l-2.7-3.8l-0.3-3.8l0.4-4.3l-0.5-4.3l-0.7-4l-0.5-3.8l-1-3.9l-1.6-3.9l-1.6-3.7l-1.8-4l-2.5-4.3l-4.4-4.1l-1.6-3.8l-1.3-3.7l-0.3-3.8l0.1-4l0.3-4.2l1.4-3.9l2.9-2.9l3.7-1.8l3.9-1.9l4.2-2.6l4-2.5l3.5-2.2l2.8-2.9M1222.2 866.9l-4 6.4l3.6 1.7l3.9 2.8l4.1 1.1l4.2-1.6l3.9-2.9l3.8-1.6l3.9 0.7l4.3 1.7l4.2 0.5l2.7-1.9l-0.4-3.6l-2.5-4.1l-1.2-3.9l1.9-3.1l3.4-2.5l2.4-2.9l1-3.8l0.1-4.1l0.4-4.1l1.4-3.7M1369.4 650.2l-3.6-0.4l-4-1l-3.8-1.4l-3.5-0.7l-3.7 0.4l-4.1 0.2l-4.4-1.5l-4.1-3.5l-2.9-4.3l-1.1-4.2l-0.2-4.1l-1.3-4l-3.1-4.2l-3.8-6.2l-3.8-1.4l-4.2-2.6l-4.2-2.6l-3.8-2l-3.7-1.1l-3.8-0.4l-3.8-0.2l-4-0.7l-4.1-1l-4.1 0.4l-4 2.1l-4.2 1.2l-5.3-1.3M1222.5 790.2l1.7-3.1l2.6-1.4l3.4 0.8l3.6 0.8M1378.9 674.7l-4.6 3.1l-4.2 2.6l-4.2 1.7M1242.7 841.1l3.2 1.6l3.8-0.2l3.9-0.9l4.3 0M1170.5 821.7l-4.6-2.3l-6.7-1.6M1387 673.2l4.4 5.1l-0.9 3.8l1.1 4l2.6 5.4M1397.5 649.6l2.8 4.4l1.4 4.3l-0.7 4l-2.1 3.7l-2.4 3.7l-2.7 4.2l-2.4 4.4M1214.9 870.3l3.3 3M1290.3 726.6l-4.2-4.4l-3.9-3.9l-3.3-3.7l-4.1-3.8M1329.6 686.2l-4.1 3.6l-3.7 4.2M1229.2 774.8l4.3-3.1l4.1-2.2l3.8-1.2l4.4-0.9l5.6-1.3M1413.9 650.4l1.5-4.2l2.6-4l3.6-3.9l4.1-4l4.1-3.9l3.9-4l3.8-4.1l2.9-4.2l1.3-4.1l-0.7-3.8l-1.6-4l-1.1-3.9l-0.6-3.8l-0.1-4l0.2-4l0.1-4.2l0-4.2l0.1-4.1l0-4.1l-1.1-4.1l-2.8-4.2l-3.1-3.9l-1.8-3.9l-0.2-4.1l-0.6-4.1l-1.2-4.2l0.1-3.9l2.2-3.8l2.4-3.8l1.3-3.8l0.7-3.9l1.6-4.2l3-4.1l3.9-3.9l3.3-3.9l1.6-4.1l0.7-3.5l2.1-2.7l4.1-2.1l4.4-1.9l4.1-1.6l3.8-1.8l3.5-2.9l3.6-3.4l4-2.3l4.3 0.1l4.3 1.1l4.4-0.5l4.2-2.7l4-3.7l3.9-3l3.5-2.5l2.5-2.8l2.2-3.3l3.2-2.4l4.1-0.2l4.1 1.2l3.9 0.7l4-0.9l4.2-1.9l4.3-2.4l4-3l3.9-3.7l3.8-3.9l3.8-3.8l3.8-3l3.9-2.2l4.2-1.6l4.7-1.1M1345.2 709.8l-3.7-2.8l-3.7-1.7l-3.6-1.2l-3.7-2.3l-4.2-3.8l-4.5-4M1158.6 831l0.5-5.1M1149.2 850.7l-3.2 1l-1.8 2.7l-0.9 4l-1.8 4l-0.7 3.5l-1.4 3.7l-0.6 4.2l-0.1 4.3l0.1 3.9l1 3.6l2.6 3.2l3.1 2.7l1.6 3.1l-0.3 3.7l-0.8 3.8l-0.2 3.7l0.2 3.9l1.3 3.9l2.7 4.1l2.9 4.2l2.4 4.3l2.8 4.3l3.4 4.1l1.8 4M1273.7 733.9l-3.8 0.9l-3.9-1M1286.6 785.6l-4-1.5l-4.2-2.2M1366.9 637.1l-4.7-0.8l-4-0.3l-3.9 0.1l-4.2-0.5l-4-2l-2.7-3.7l-1.1-4.2l-0.5-3.9l-1.4-4.1l-2.5-5.3l-4.4 1.2l-4 1.2l-3.7 0.5M1238 761.3l4.2-1.3l4-2.8l3.8-3.5l4-2.5l4.3-1l5.1 0M1258 833.9l5.3 4.1M1190 869.1l-3.7 5.4M1191 797.9l0.7-3.8l2.5-3.8l4.1-4.1l4.4-4.2M1169.4 865l-0.6 4.4l-1.3 4.2l-1.2 3.9l-1.7 3.8l-2.9 4l-2.5 4.2l-1.2 4.3l-1 4.3l-1.9 4.3l-2.4 4.2l-2.9 3.7l-2.5 3.3M1322.5 685.2l-2.9 4.6l-1.8 5M1298 709.3l-3.9 0l-4.2-0.5M1370.7 697.6l1.5-3.9l2-3.6M1210.8 877.8l3.7-3.3l3.7-1.2M1326.3 742.3l-4.1 1.1l-4.3 1.5l-4.3 2.1l-3.7 3.1l-2.5 4.3l-1.5 5.6l-4.2 2.3l-3.9 1.6l-3.8-0.6l-3.8-1.6M1336.9 662.7l-3.3-1.1l-4-1.4l-4-2.4l-3.6-3.1l-3.7-2.8l-3.7-2.6l-3.2-3.2l-2.4-3.9l-1.8-4l-1.1-3.8l-1.2-4.1l-2.4-4.2l-3.1-4.1l-2.9-3.7l-3.2-3l-3.9-2.3l-3.8-2.9l-3.3-4.3M1297.2 778.3l-3.7-4.2l-4.9-4.2l-2.7-4l-4.1-4.4M1170.5 805.5l-1.9-3.6l0.3-3.6l2.1-3.8l2.1-4.1l1.1-4.2l0.5-4l0.4-3.8l0-3.8l0.3-4.1l1.2-4.2l1.1-4.6l0.7-5.2M1447 646.2l-1.9-4.5l-1.8-4.1l-2.1-3.8l-2.1-3.7l-1.2-3.8l-0.4-4M1242.1 750.2l3.6-1.5l3.9 0.4l4.4 2.1M1301 773.9l-2-4l-1.2-6M1287 797.1l-3.7-3.1l-4-3.6M1281 805.7l-3.9-3.4M1242.7 878.2l2.9-4.7M1398.8 681.4l-2.8 4.8l-1.8 5.3M1305.5 774.3l-3.5-4.1l-4.2-6.3M1313.7 683.1l-3.7 2.3l-4.2 2.2l-4.3 2.8l-3.9 3.8l-3.7 3.8l-4.1 3.3l-4.1 2.6l-5.2 2.3l-5.7 4.6M1353.2 722.5l-3.4 0.2l-3.8-0.3l-4.1-1.6l-3.9-3.3l-3.7-3.7l-3.8-2.6l-4.3-2l-4.5-2.8l-4.1-4.3M1137.1 845.4l2.1 4.3l1.2 4.4l0.8 4.3l0.3 4M1382.9 631l-1.3-6.9l-4.3-2.4l-4-3.5l-3.7-3.5l-3.8-2.7l-4-1.4l-4-0.5l-3.7 0l-3.7-0.1l-4 0.1l-4.2 0.9l-4.3 1.4M1258.7 730.2l6.2-4M1315.1 770.4l-4.6-3.9l-4.6-2.8l-4.2-1.4M1218.5 890.7l4-2.2l3.9-3.5l3.4-6.1M1225.1 894.2l-2.6-5.7M1429 633.1l0.8-2.7M1145.3 810.4l-1.1-4.5l-3.6-4.4l0.3-3.9l-0.2-3.8l1.5-3.8l2.2-4.1l0.2-4.1M1126.5 866.5l0 3.9l-0.1 4l-0.5 3.7l-1.1 3.5l-0.5 3.6l1.6 3.5l3.6 3l3.9 3.2l2.1 3.6l-0.6 3.8l-2.3 3.7l-2.9 3.9l-2.5 4.2l-2 4l-1.7 3.9l-1.4 4l-1.6 4.5l-3 5.2l1.8 2.7l0.2 3.4l0.2 4l1.2 4.3l1 4.2l-0.6 3.9l-0.7 3.6l1.3 3.1l3.5 2.2l4.3 0.9l4.3 0.2l4.2 0.8l4.1 2.1l4.6 3.1M1365.8 620.9l-4.3-1l-4.1-2.1l-3.6-3.5l-3.4-4.3M1465.8 658.2l4 3.4l2.4 3.9l0.2 4.4l-0.9 4.4l0 4.1l1 4l0.9 3.9l0.3 4l-0.5 3.9l-1.5 4l-2.7 3.8l-3.3 4.2l-2.6 4.4l-1.3 4.4l-0.3 4.4M1329 655l-3-4.9l-3.7-4.2l-4.2-2.8l-4.2-2.1l-3.9-2.8l-3.9-3.8M1194.4 778l-4.7-4.2l2.5-3.9l1.1-3.7M1386.2 625.1l-4.6-1M1338.1 746.6l-3.7 2.4l-3.9 2l-4 1.7l-4 0.9l-4 0.4l-4.1 1.4l-4.3 3.7l-4.2 0.9M1181.9 786.8l1.4-4.5l2.9-4.4l3.5-4.1M1173 881.8l-2 4.1l-0.5 3.9l1.4 3.8l2.7 4.1M1142.7 878.3l-3.9 3.7M1451.1 633.2l-4.7-0.6l-5.2 1.2M1246 901.4l4.2 3.9l4.1 2.3l3.7 1.4l3.6 2.2l4 3.2l4.4 3.1l4 2.7l3.8 2.3l4.1 2.2l4.2 1.5l4.2 1.6l3.8 2.7l3.9 3.5l4.4 4.2l-2.5 3.8l-1.5 4.2l-1.7 4l-3 4.1l-3.7 3.9l-3.9 3.9l-3.1 3.8l-1.8 3.9l-0.9 4.1l-0.4 4.5l-0.3 4.2l-1.6 3.9l-3.6 3.5l-4.4 3l-4.1 2.8l-3.7 2.9l-3.7 2.6l-4.2 2.5l-4.1 3.2l-3 3.8l-1.7 3.9l-1.3 3.7l-1.5 3.9l-0.8 3.8l0.8 3.5l0.7 3.8l-0.5 4.2l-0.6 4.4l1 4.4l2 4.2l2.2 3.9l2.6 3.6l3.4 3.7l3.7 3.8l3.1 4.1l2.6 4l3.1 3.2l3.8 2.3l4 2.1l3.8 2.4l3.1 3.1l1.2 3.6l-1.1 3.6l-2.7 2.9l-3.5 2.3l-4 2.8l-3.7 3.5l-3 4l-1.5 4.3l-0.1 4.4l1.2 4.1l2.6 3.9l2.9 3.9l2 4l0.7 4l0.4 3.9l1.1 3.8l2 3.9l2.9 3l3.7 1.4l3.9 1.3l3.2 2.7l1.5 3.9l-0.2 4.2l-1.2 4.2l-2 3.8l-2.2 3.6M1334.7 641.3l0.6-3.3M1225.6 746.7l4.6-4.2l4.2-3.2l3.6-2.1l4 1.6l4 1.3l4.3 0.2l4.2-0.4l3.7-0.9l3.8-2.2l4-3M1437.5 673.9l-0.1 4.7l-1 4.1l-1.3 3.8l-0.1 3.7l1.4 4l2.1 4l2.9 4l3.7 4l4.3 4.3l4.6 5.3M1429.5 677.2l-0.8 4.4l1.7 4.1l4.6 4.5M1219 898.9l1.8-5.1l1.7-5.3M1377.2 713.3l2.7-3.8l1.5-3.8l0.5-3.9l-0.4-4l-0.5-4.2l0.9-4.3M1345.6 617.5l-5.2 0.2M1133.4 826l1.9-3.6l0-3.8l-0.5-3.9l1.1-4.3l2.5-4.6l2.2-4.3M1210.3 757.7l-4.2-1.5l-3.5-2.7l-1.6-3.5l0.3-3.9l-0.5-3.7l-2.6-3.7l-2.8-3.9l-1.1-4.3l-0.5-4.3l-2.3-3.9M1429.3 627l4.1-3l4.1-1.7M1274.3 850.3l-0.1-4.5l-1-4.3l-1.7-4l-1.8-4.3M1166.5 787l3.6-4.2l2.8-4.1l2.2-4.1M1306.1 669.2l-4.6 4.3l-5.3 4.6l-1.4 3.9l-1.1 4.2l-1.5 4.3l-2.7 4.3l-3.2 3.8l-2.7 3.6l-3.1 4M1418.4 621l3.7 0.6l3.8-0.9l4.1-1.4l3.9 0.3l3.6 2.7M1258.2 889.5l4-3.8l3.4-4l1.3-4.3l-1.3-5.7l-4-0.6l-5.2-0.9M1109.1 885.6l-2.3 3.9l-1.4 4.2l-1.5 4.1l-2.7 2.9l-4.4 1.1l-3.2 2.6l-3.9 2.5l-3 2.9l3.2 2.9l4.3 2.3l4.3 3l4 3.9l3.9 4.3l3.9 3.8l3.8 3.1l3.4 2.6M1482.9 637.8l3.4-1.2l3.9-1.4l4.2-1.2l3.9-1.5l3.7-2.4l3.8-2.5l4-1.6l3.9-1.6l3.3-2.7l2.7-3.5l2.8-4l3.3-4.3l2.6-4.1l0.8-3.8l-0.3-4l0.4-4l1.8-3.8l2.9-3.7l2.3-3.9l-0.1-4.3l-1.4-4.6l-1-4.4l-0.6-3.9l-0.1-4.1l1.1-5.4l3.3 0.1l3.8-2.3l4.4-3.5l4.4-3.5l4.1-2.4l4-0.4l3.9-0.1l2.4-2l-0.5-3.8l-2.6-4.1l-2.6-3.8l-1.2-4l-0.8-3.9l-0.1-3.8l2.2-2.9l3.7-1.4l3.8-0.4l3.5-0.8l3.8-1.7l3.9-2.2l4-2.8l4.1-3.8l4.3-4.3l4-4.2l3.1-4.1l2.3-4l1.4-3.7l0.8-3.8l0.7-4.2l1.7-4.6M1114.9 861.6l2.3 4.3l2.1 3.8l2.8 4.1l3.8 4.3M1242.5 722.9l3.7-2.2l3.9-1.7l3.7-0.6l3.7 0.8l4.1 1.5l4.9 1.6M1277.2 694.1l1.5 3.7l-1.8 2.9l-5 2M1225.1 733.9l4.1 1.7l4.4 0.7l4.4 0.9M1426.1 690.9l2.3 3.9l1.3 3.5l1.4 3.4l3.1 3.7l4.1 3.5l3.8 4.2M1298.8 821l-4.1 2.2l-4.4 3.4l-4.4 4.5l-3.9 0.4l-3.6-1.7l-3.2-3.7M1414.5 697.8l-0.2 6.1M1329.2 778.5l-3.5-4.4l-3.7-3.9l-3.9-4.5l-4-6.1l-4-0.5M1365.8 605.9l-3.8-3.9l-3.7-4l-3.9-4.2l-4.2-4l-4.5-4.1l-4.8-4.5l-2.5-3.7l-2.6-3.6l-2.7-3.9l-3.1-5M1464.9 673.8l6.6 4.6M1395.1 713.6l3.6-3.8l4-5.3M1178.2 898.8l-4.6 3.1M1314.1 802.6l-4-4.1l-4-4.1l-4.1-4.1l-3.9-4l-3.4-4.1l-2.6-4.2l-1.8-4.2l-1.7-3.9M1135 794.6l5.7-0.8M1409 613l5-1.8l4.4-2.2l3.9-3.2l3.7-4.1l4-3.8l4-3.6l3.8-3.8M1493.2 662.9l4.4-0.1l4.4 1.1l4.2 2.7l3.9 3.2l3.9 1.6l4.1-0.5l4.1-0.7l4.1 0.9l4.2 3l4 3.6l4.1 1.9l3.8 0.6l2.4 1.7l1.2 3.6l1.6 4.2l3.1 3.8l3.8 2.6l3.8 0.2l3.8-1.9l3.7-1.4l3.8-0.2l4-0.7l4.2-1.5l4.1-1l3.8-1.1l3.7-2.7l4-3.8l4.2-4.1l3.8-4l3.1-3.9l2.6-4l2.8-4.1l2-4.3l-0.1-3.9l-1.9-3.7l-2-3.7l-1.3-3.7l-1.7-4l-3.1-4.3l-3.5-4.5l-1.6-3.9l1.4-3.5l3.2-4l2.2-4.1l1.1-3.8l1.8-4.1l2.9-4.2l2.1-3.9l1-3.9l0.6-4.2l0.9-4.3l1.7-4l2.5-3.8l2.7-3.8l2.7-4l2.9-4.1l2.3-4l1.3-3.9l1.6-4.3l2.7-4.4l2.3-4.1l-0.3-3.4l-2.9-2l-3.7-1l-2.7-1.5l-2.1-3.1l-2.7-4.1l-3.7-4.2l-3.9-4l-2.1-4l0.3-4.1l1-3.9l1.5-3.9l2.6-3.3l3.1-2.8l1.4-2.6l-1.6-2.1l-3.5-1.4l-3.6-1.7l-2.4-2.9l-0.9-3.6l-0.3-4l-1.4-4.3l-2.7-4.1l-2-4M1470 625.5l-1.1-3.5l-2.9-3.7l-4.2-4.3l-4.1-4.3l-3.6-4l-2.7-3.8l-2.1-4l-2.2-4l-2.5-3.9l-3.2-3.9l-3.5-4M1210.2 741.4l-4.4 0.3l-5 0.7M1369.1 737.7l-3.7-3.6l-3.6-1.5l-3.6 0.6l-3.9 0.7l-4.1 0.2l-3.9-0.1l-3.7-1l-3.8-1.9l-3.9-1.4l-4.2-0.4l-4.4 0.3l-4.4 1.5l-4.1 2.8l-3.6 3.8l-3.7 4.3l-4.1 4.4l-4.2 3.9M1126.9 806.8l3.4-4.2l5.2-4.6l5.2-4.2M1458.4 617.5l-0.6-4.2l-0.1-3.6M1517.6 637l4.1-0.9l3.9-2.2l4.1-3.2l4.1-1.7l3.7 1.1l3.7 2.3l3.9 0.3l4.1-2.4l4.2-2.8l4.1-1.4l4.2-0.4l4-1.1l3.7-2.3l4.1-2.7l4.1-2.6l3.2-3.1l2.4-3.4l3.1-2.6l3.7-2l4.2-1.9l4.2-1.5l3.9-0.9l3.6-0.2l3.4 0.8M1289 669.8l4.1 4.2l3.1 4.1M1117.2 826.3l1.8-4l2.5-4.2l2.9-4l2.8-3.9l2.9-4.1l2.5-4l2.9-4.1M1253.9 701.5l4.2 3.1l4 2.9l3.7 3.1l3.7 3.7l3.5 0.3M1093.1 878.4l1.4 3.5l1.8 3.8l1.5 4.3l0.7 4.3l-0.1 4l-1.6 3.5M1084.9 889.2l-1.7 4.6l-1.1 4.9l-0.9 6.5l2.9 1.5l2.6 3.1M1114.2 897.5l-1.5 4.4l-0.1 3.9l1 4.3l-2.2 3.8l-0.1 4.3l1.6 4.3l2.1 4l1.8 4.1l0.7 5.1M1181.9 906.3l-1 3.3l-0.1 4.2l1.4 5.9l-2.8 3.1l-2.2 3.7l-2 3.8l-2.1 4l-2.7 4.2l-4 4l-4.8 3.8M1293.7 662.1l2.8 3.8l1.2 4l-0.3 4.1l-1.2 4.1M1370 597.7l-3.9-3.5l-2.6-3.9l-0.9-4.6l-0.1-5.5l-4.3-1l-4.2-2.1l-3.8-3.3l-3.7-4.1l-3.7-4.1l-3.3-3.8l-4.2-3.6M1362 753l2.5 4.6l-0.2 4.5l-2.6 4.7l-4.4-0.2l-4 0.6l-3.5 0.3l-3.4-0.3l-4-0.8l-4.3-1l-4.1-1l-3.8-1.1l-4.1-1l-4.3-0.9l-4-1l-3.7-0.8M1534.6 638.2l3-2.9l3.6-2.9M1346 589l-2.7-3.9l-2.4-3.9M1238.6 708.9l3.9 0l4 0l4.1 0.4l4.1 0.8l3.9 1.2l3.5 1.5l3.6 1l3.8 0.5M1295.1 851l-4.9-5l-4.2-3.4l-3.9-2.3l-3.6-2.8l-2.9-3.6l-2.8-3.8M1222.7 922.6l-1.8 3.7l-3.1 3.8l-4.3 4.4l-1.2 3.5l-2.7 2.7l-4 2.4l-4.1 3.4l-3.6 4.8l-3.8 2.5l-3.8 2.4l-4 0.4l-4.2-1.7l-4.4-1.8l-4.1-1.1l-3.9-1.1l-4.3-0.6l-5.4-0.2M1286.9 866.4l-4.7 2.5l-4.8 2.4l-4.1-0.6l-3.9 0.6l-3.8 0.4M1098 862.1l-4.4-0.4l-4.1 0.2l-3.7 1.4l-3.8 2.4l-4 2.6l-4.1 1.8l-3.9 1.5l-3.9 1.7l-4 2.2l-3.8 3.1l-1.9 3.8l0.1 3.8l-0.3 3.5l-2.6 2.7l-5 1.5l-1.6 3.9l-2.4 4l-3.1 3.8l-3.6 2.9l-3.9 2.3l-3.9 2.2l-4 2.3l-3.8 2.1l-4.2 2.3l-5 2.6l-1.5 4l-0.9 3.9l-0.3 3.8l-0.3 3.8l-1.1 4.1l-1.7 4l-0.9 4l-0.1 4.1l0 4.3l-0.6 3.9l-0.9 3.9l-0.1 4l1.4 3.9l1.5 3.9l0.5 4.1l0.5 4.2l0.6 4.1l0 3.7l-0.8 4l-0.6 4.2l0 4.2l0.9 4l1.2 3.8l0.3 3.7l-1 3.9l-2.5 4.2l-2.6 3.9l-1.7 3.7l-1.5 4l-1.7 4.3l-0.2 4.2l0.5 4l-1.5 4.1l-2.5 4l-0.8 3.7l0.1 3.8l-1.2 4.1l-1.9 4.3l-1.1 4.1l-0.8 4l-1.2 4l-0.3 3.5l2.1 2.6l3.9 1.8l3.9 1.7l2.5 2.6l0.3 3.5l-1.3 3.8l-1.4 4.1l-0.7 4.2l-0.5 4.1l-1.4 3.9l-2.5 3.7l-3.3 3l-3.5 1.4l-3.9-0.8l-4.2-1.8l-4.2-1.2l-4-0.3l-4.1 0.1l-4.1-1l-4-2.8l-3.9-3.6l-4-3.2l-4.2-2.3l-4-1M1185.6 910.6l-4.7-1M1247 702.2l3.7 3.9l4 4M1302.3 841.9l-4.2-4l-4-3.8l-3.9-3.7l-4.3 0.7M1353.7 589.9l-4-4l-3.9-4l-3.7-3l-3.7-1.4M1554.1 637.3l4.5-3.5l4-3.9l3.1-5.3M1510.5 661.2l3.9 4.7l3.7 5M1466.3 686.8l-1.2 3.5l-1.4 3.9l-1 4l-0.5 3.9l-0.1 4l1 4.5M1397.1 602.4l-3.3-4.5l-3.7-4.2l-4.3-3.9l-4.3-3.9l-4.1-3.5l-3.9-1.9l-3.7-0.2l-3.6 0.1l-3.7-0.2M1509.8 630.4l3.9-6M1533.3 650.4l4.6-3.9l4-4.2l3.8-4.1l4-3.8l4-4.1l3.8-4.2M1270.8 907.1l5.1 2.5l2.5 4.3l3.7 4.2l4.1 4.3l4.1 5.4M1214 921.6l0.1 4.6l-0.2 4.2l-0.4 4.1M1486.3 682l-3 4.3l-2.5 4.1l-3.4 3.9l-5.7 3.9M1341.8 785.7l2.8-4l1.4-4l-0.8-3.8l-3-4l-4.1-4.5M1237.1 934.3l-0.2 3.4l-0.1 4.1l1.4 4.3l3.4 3.9l4.2 2.7l4.3 2l4.2 1.9l4.1 1.9l4 1.8l4.1 1.9l3.9 1.6l3.6 0.7l3.9 0.4l5.1 1M1405 722.4l4.4-1.3l4-1.5l3.9-1l4.3-0.4l4.7 0.6l4-2.6M1274.9 902.7l-0.1 3l1.1 3.9M1197 917.4l-3.8 0l-3.8 0.2l-3.8 0.5l-3.4 1.6M1166.3 910l4 3.8M1114.4 806.2l3.6-3.5l1.8-3.9l-0.1-4.3l-0.9-4.5l3.8-3.9l3.6-5.1l4.1 0.8l3.4-1.2l2.1-2.9l0.8-4l1.6-3.8l3.3-3.4M1117 907.1l-3.4 3M1226.3 930.5l-2.2 3.7l-1.3 3.6l-0.8 3.9l-1.7 3.8l-2.9 2.7l-3.7 0.6l-3.9-0.2l-3.8 0.5l-4.1 0.9l-4 1.3M1561.5 634.8l1.1-4.9M1371 590.1l-4.1-4.3l-4.4-5.6M1190.6 741.1l2.4-3l2.4-3.3M1401.5 729.4l4.3-1.1l4.1-0.6l4.3-0.4l4.2-2l3.9-3.5l4-3M1061.8 905.9l4.3 2.2l4.1 0.4l3.9-1.2l3.6-1.5l3.5-0.6M1417 597.1l3.8-3.2l3.2-3.6l3.1-3.9l3.5-4l3.9-4.2l3.5-4.3M1070.9 893.8l4 3.6l3.5 3.4l2.8 4.4M1274.5 913.1l2 4.5l1.3 4.9M1329.7 586.7l-3.6-4.8l-3.8-4.6l-4-4.9M1466.3 606.9l-0.3-4.9l0.5-4.4l1.5-4l2.1-3.7l1.4-3.8l1-3.9l1.6-4l2-4.1l1.4-4.2l1.7-3.9l2.8-3.8l3.5-3.9l3.9-3.8l3.9-3.1l4.2-2.4l4.3-2.4l4.1-2.3l4.1-1.3l4.1-0.1l4.1 0.7l4.1 1.4l3.9 1.9l3.1 3l2.3 3.5l2.6 2.5M1289.7 878.6l-3.9-2.9l-4.2-2.6l-4.2-1.8M1485.1 615l4.8-4.8l4.4-4l3.9-3.6l3.7-4l4-4.3l3.9-4.3l4.2-4l4.3-3.9l3.9-3.8l3.9-4.1l3.8-4.4l3.3-4.4M1309 621l-2.9-3.2l-4.2 0.4l-5.4 0.1M1206.5 721.5l-5-4.9l-4.2 1.3l-3.6 0.5l-3.3 0M1381.6 750.2l-3.5 1.4l-2.7 2.5l-1.6 3.7l-1.6 4.3l-2.7 3.7l-3.6 1.5l-4.2-0.5M1561.5 647l4-4.8l3.9-4.4l3.9-3.7l3.9-2.6l4.3-1.7l4-1.9l3.3-2.8l2.8-3.5l3.3-3.4l4.2-3.7l5.5-4M1090.4 853l-1.9 5l-2.7 5.3M1309.9 617.5l-3.8 0.3M1505.8 678l4 1.6l3.7 0.8l4 1.1l4 0.7l4.1-1l4.2-1.7l4.7-1.8M1585.8 638.4l4 1.4l3.9 0.2l3.3 2.7l2.6 3.5l3.2 1.4l5.1-1.3M1435 714.4l3.3 0.1M1321.5 829.8l-3.5-1.4l-3.6-0.5l-4.1 0.8l-4.4 1.2l-4 0.5l-3.5 0l-3.8-0.2l-4.4 0.2M1409.4 730.2l4.8-2.9M1343 802.5l3.2-4.3l2.6-3.9l1.2-3.9l0.5-4.1l1.1-3.8l1.9-3.8l2-5l-2.2-6.5M1494.6 689.6l-4.7 4.4l-4.1 4.2l-3.5 4l-3.7 3.9l-4.1 4.4l-4.1 1.2l-4.4 1.2l-4.2 2.1M1453 705.1l0.9 4.9l0.1 5.8M1367 775.1l-1.1-7.8M1107.1 798.9l3.6-2.3l4-3l4.1-3.6M1262.4 670.4l-4.4 0.1l-3.9 0.2M1206.2 714.7l-4.7 1.9M1542.3 662.1l2.6 4.2l2.6 4.1l2.9 3.4l3.5 2.5l3.7 2.2l4.1 2.1l4.1 1.5l3.9 1.2l4.2 1l4.3 0.1l3.9-1.1l3.5-1l3.7-0.2l4.1-0.1M1284.9 905.7l0.8 4.3l0.8 4.3l1.3 4.2l1.5 4.2l1 5.1M1297.7 625.3l1.7-3.3M1097.4 818.8l-1.3-4.6l-0.1-4.1l-0.4-3.5l-2.2-2.8l-3.4-1.6l-3.7-1.4l-2.9-2.7l-2.2-3.6l-3.1-2.6l-4-0.6l-4.1-0.2l-4-1.4l-4-2.1l-3.9-1.6l-4-1.3l-4.1-0.5l-3.9 0.4l-3.7-0.3l-4-1.5l-4-0.9l-3.9 1.1l-4 1.7l-4 0l-3.3-2.6l-1.2-4l0.9-4.2l0.6-4.2l-1.5-4.3l-2.5-4.1l-1.6-4.1l-1.3-4l-2.8-3.8l-3.8-3.5l-3.9-3.6l-4-3.8l-4.2-3.1l-4-2.4l-3.6-2.9l-3.8-3l-4.1-2.6l-4.2-2.7l-4.1-3.3l-3.9-3.1l-3.8-2.9l-4.1-3.4l-4.2-3.6l-4-3.6l-3.9-3l-4-2l-4.2-0.3l-3.9 1.2l-3.8 1.8l-3.8 0.2l-4.1-2l-4.3-3.1l-4.2-2.8l-4.2-2.6l-4.1-3.1l-3.8-3.2l-3.2-2.8l-2.7-3.1l-2.2-3.7l-1-3.6l0.7-3.8l1.9-4l1.4-4.1l-0.2-3.9l-0.8-4l0.1-4.1l0.4-4.1l0.3-3.9l0.9-4l1-4.2l0.2-4.2l-0.4-4l-1.4-3.6l-3-2.7l-4-2.2l-3.8-2.9l-2.7-3.7l-1.3-3.7M1277.2 931l2.8 3.6l1.8 3.8l1.8 3.8l2.6 3.9l2.4 4.1l0.3 4.2l-1.4 4l-1.4 3.7M1402.1 585l-4.2-3l-3.2-3.6l-1.7-4l-0.5-3.7l1.7-3.3l3.4-2.8l3.2-3l2.3-3.4l1.7-3.9l0.5-3.9l-0.8-3.9l-1.3-4l-0.8-4.1l0.7-4.7l2.4-5.5l3-3.1l1.6-3.5l1.1-4.1l1.8-4l2.2-3.3l2.6-1.5l3.5 0.3l4 0.2l4.5-1.1l4.5-1.6l4.1-1.7l4.1-1.6l5.5-0.7M1161.3 922.2l2.1 4l2.1 4.1l1.6 4.1M1350.8 569.8l-4.1-2.3l-3.9-1.9M1086.4 846.1l-3.8 3.6l-1.7 3.8l0.3 4.3l0.7 4.1l0.1 3.8M1453.7 589.8l-4-4.2l-3.8-3.8l-3.8-3.7l-4.1-4.2M1582 645.9l3.7-3.9l4.1-2.2M1666.5 627l2.1-5.3l0.9-4.5l0.2-3.8l0.6-3.2l-3.3-3.7l-2.7-3.9l-2.9-4l-3.7-3.2l-3.8-2.5l-3.3-2.9l-2.3-3.6l-0.4-3.7l1.7-4l2.2-4.3l1.5-4.3l1.3-4.1l0.8-3.9l-1.1-4l-2.4-3.9l-2.7-3.7l-3.3-2.8l-4.1-2.5l-5.5-3.1M1317.8 585.2l-3.4-3.9l-3.9-4.7M1545.4 617.2l4.6-0.7l4.2-0.1l3.7 1.8l3.8 3.3l4 3.1M1353.1 797.9l3-4.4l1.5-4.1l0.5-3.6l0.1-3.5l-0.8-3.8l-1.9-4.8M1429.1 725.4l6.7-3.6l2.6-2.9l3.5-1.7l3.9-0.7l4.1-1.3M1509.1 610.1l4.7-4l4.3-4.1l4.1-4.2l4.1-4l4.8-3.6M1206.9 706.9l-3.6 3.4l-3.1 3.8l-2.9 3.8M1033.8 917.4l-3.7-4.4M1278 942.3l4 3.9l4 4.1l2.9 4.1M1650.2 623.1l3.8-5l2.9-4.3l1.9-4l0.2-3.8l-2-4l-3.2-4.2l-2.3-4l-0.9-3.8M1263 969.6l2.7 4.2l2.6 4.5l2.5 4.2l2.1 3.9l1.5 3.6M1689.6 627.1l-3.8 1l-4.3 2.7l-3.6-2.1l-3.5-2.9l2.2-3.8l0-3.7l-2.5-4.1l-3.8-4M1312.9 585.6l-1.8-3.8l-0.6-5.2M1277.2 949.2l4.7 4.8l5.6 4.4M1382.3 770.5l0.9 3.9l2.5 3.9l4.2 4.1l5.2 4.4l-0.6 3.5l1.2 3.6l-0.4 4.1l-0.1 4.1l-1.3 4.1l-1.6 4.1l-1.2 3.9l-1.9 3.9l-2.2 3.8l-0.8 4.1l0.9 4.1l1.2 3.8l-0.2 3.6l-2.1 3.1l-3.4 2.3l-4 1l-4.2-0.1l-4.3 0.4l-4.3 2.4l-3.7 3.5l-2.5 3.9l-1.2 4.2l-0.5 4l-0.3 3.7l-1.2 3.8l-2.7 4.2l-3.1 4.3l-2.6 4.1l-2.8 4.1l-3 3.8l-2 3.7l-0.3 3.8l0.6 4.2l-0.4 4l-2.5 3l-3.5 2.2l-3.2 3.1l-2.4 4l-3 4l-3.8 3.6l-3.8 3.7l-3.7 3.4l-3.9 2.1l-4.1 1l-3.8 2.2M1262.8 657.6l-4.7-2.7l-3.8-2.2l-3-2.7l-3.7-3.6M1073.1 926.7l2.5 3.5l3 3.4l3.6 2.7l4.1 2.3l3.9-0.9l3.8-0.1l4 0.4l4.1 0.5l4.2 1.2l3.9 2.5l3.7 3.8l4 4.3l4 4M1225.6 685.9l0.3-4.1l-0.8-3.8l-2.9-3.9l-4.2-3.9l-4.1-3.2l-3.5-2.4l-2.5-3.3l-1.9-5.3M1022.3 926.2l-4.1 3.4l-4 3.8l-4.1 4.4M1528.9 610.4l-0.5-4.6M1618.9 641.7l-4.8 5.9l-4.2 2.4M1786 602.8l-0.5 3.7l-1 3.8l-0.4 3.7l1.9 4.1l3.9 5.1l4.1 1.2l4.7 1.4l1.1 3.9l0.4 3.9l-0.6 3.8l-0.9 3.9l-0.6 4.1l-0.4 4l-0.9 4.1l-0.6 4.3l0.3 4.3l-0.1 4.1l-1 3.8l-0.9 3.6l-0.2 3.8l0.1 4.2l0.2 4.2l0 4.1l-0.3 4.1l-0.5 4.3l-1.1 4.1l-1.5 3.8l-0.8 3.6l0.6 3.8l0.4 4l-1.6 3l-3.1 1.6l-3.9 1.7l-4.4 2.4l-4.5 2l-4-0.2l-3.7-2l-4.3-0.9l-5.5 1.8M1734.6 617.6l-1.7-3.8l-0.1-3.9l-0.4-3.7l-2.3-2.8l-3.8-1.5l-4.4-0.3l-4.2 0.1l-3.8 0.2l-3.7-0.3l-4.1-1.2l-4.4-2.1l-4.5-2.8l-3.9-0.2l-3.7 0.6l-3.7 1.1l-3.9 0l-3.9 0l-3.6 1.5l-4.3 2.5l-5.9 1.6M1689.8 613.5l-4 0.1l-3.9-1.1l-3.7-2.8l-3.7-3.8l-4.3-4.9M1068.9 929.8l6.7 0.4M1762.1 602.8l4.1-1.3l4 0.5l1.2 3.9l1.7 3.9l1.3 3.9l1.7 3.6l2.9 3l3.5 1.6l3.6 0.6l3.8 0.7M1114.1 761.6l3.9 2.6l3.9 0.1l4.2-1.4l4.4-0.8l4-0.2l3.8-1.2l4.9-2.3M1061.1 870.8l1 4.7M1322.3 861.4l3.7 4.1l3.7 4l3.6 4.2l3.3 4.2l2.5 3.9l1.8 4.1l1.3 4.3M1090.7 805.4l-4.4-4.6M1078 839l-4 2.1l-4.2 1.1l-4.3 0.1l-2.8 3.9l-2.3 4.1l-2 4.3l-2.3 4l-3.6 3.6l1.1 3.8l0 4.1l-0.8 4.3l-1.7 4.2l-1.8 4l-0.6 3.8l0.2 3.8l-0.3 3.7M1334.8 842.8l1.9 3.6l1 3.5l0.6 3.6l1.2 4.1l2.6 4.5l3.4 4.2l2.8 4l1.4 4l0.9 3.9M1767 612.9l4 3.1l5.1 1.3M1421.3 741.7l4.3-3.9l4-4.1l2.9-4.3l1.7-4l1.6-3.6M1094.7 931l3.8 3.6l3.6 3.9M1445.3 577.7l-3.4-4l-5-3.9M1614.5 614l-0.6-3.9l-0.2-3.9l-0.5-3.8l-1.8-4.1M1638.2 614.4l-4-4.3l-2.6-4.2l-0.7-4.2l1-3.8l2.4-2.4l3.2-0.9l3.8-0.4l4.4-1.3l4.9-2.9M1314.6 570.7l3.7 1.7M1582.6 658.1l3.7-2.3l3.9-2.3l4.3-2.9l5.1-4.4M1702.4 629.4l-4.6 2.1l-4.4 1.5l-4.2 0.3l-3.9-1l-3.8-1.5M1234.7 674.6l-0.8-4.4l-1.4-4.1l-2.6-4l-3.4-3.9l-1.7-4l1.1-4l2.3-4.1l0.7-4.3l-1.3-4.1l-2.6-3.9M1117.8 756.9l4.1 2.3l4.2 3.7M1306 586.8l-3.6-5.9l3.8-4M1245.8 970.7l-2 3.9l-1.5 4l-1.9 3.8l-2.7 3.7l2.5 4.3l2.2 4.2l1.8 4.1l1.7 3.9l4.3 4.4M1094.6 773.1l0.8 4.9l2.4 4.2l3.9 3.4l4 1.4l2.8-1.5l1.3-3.2l1.5-3.3l3-1.8l3.8 0.1l3.9 1.8l4.2 1.9M1066.3 933.8l3.8 4l3.9 2.8l3.9 0.8l4.2-1.1l4.2-1.7M1266.3 985.2l0.9 4.8l-1.3 5.8M1077.5 830.3l-4.1 4.2l-5.2 3.7l-2.7 4.1M1302.9 906.5l2.4 3.7l2 3.8l0.4 4.2l-2 4.4l-3.5 4.2l-2.8 3.7l-1.4 3.5M1140.9 933.1l0.5 4.8l-0.1 4.5l-0.1 4.2l1.5 3.9l3.7 3.9l5.2 4.3M1330.1 857.7l3.9 4.4l3.7 4.4l2.4 3.9l-0.3 3.8l-3.2 3.7M1130.7 933.8l-4.7 2.6l-6.7 2M1402.6 570.2l-5-5.6M1634 646.7l-4-0.4l-4 0l-3.8 0.1l-3.9 0.1l-4.2 1.1M1598.7 609.1l5.9 1.4M1877.3 594l5.5-3.3l-1.6-3.9l-0.6-4.3l1.8-4.5l3.8-4.6l3.9-0.8l3.6-2.5l3.8-2.5l4.1-0.7l4.4 1l4.3 1.5l4.1 0.8l3.9-0.1l4-0.2l4.1-0.3l4-0.3l3.9 0.1l3.8 0.4l4 0.9l4 1.5l4 1.2l4.1-0.6l4.1-2.5l4.2-2.6l4-1.2l4 1l4 2.7l4.2 2.3l3.7-0.1l2.4-2.8l1-4.1l1-3.7l2.6-1.8l3.9-0.3l4.6-0.2l5.5-1.1l1.6-4.3l1.7-4.3l1.4-4.2l0.1-3.9l-1.4-3.9l-0.8-3.9l1-3.9l2.5-3.9l3-4l2.9-3.8l2.9-3.1l3.7-2.6l4.1-3.1l4.1-3.9l3.7-3.9l2.3-3.7l0-3.8l-1.2-4.1l-1-4l-1.4-3.9M1278.3 625.7l-4.6-1.2l-4.3-1.9l-3.5-2.5l-1.1-2.8l1.4-3.5M1593.5 658.9l4.6-4.9l4.7-6.4M1275 630.5l-4.6-4.8l-4.5-5.6M1333.1 852.9l6.4 4.7M1174.3 941.4l-3.8 0.8l-4.1 0.3M1366.9 558.5l-4.3-1.6l-4.1-2.3l-4.2-1.6l-4.1 0.3l-4.1 1.9l-4.5 1.9l-6.3 1.1M1397.9 769.6l-1.1 4l-0.6 4.4l-0.3 4.6l-0.8 4.2M1206.2 953.7l-4.3-3.7M1041.8 885.8l0 4l1.5 4.1l3.7 3.9M1470.1 577l4 1.2M1762 594.1l3.7-1l4.1 1.3l0.1 3.8l0.3 3.8M1753.6 626.7l4.2 0.7l4.1-0.7l4-0.7l3.9 1l4.1 2.7l4.3 3.3l4.1 2.2l3.8 0.2l3.9-0.6l4.6-0.5l5.6-0.7M993.5 933.8l4.1 4.7l4.7 6.6l5 0.8M1430.2 571l0-4.9l0.8-4.4M1026.9 936.9l-4.2 5.3l-3.9-0.2l-4.5-0.1l-5.3 0M1366.2 809.1l4.2 0.5l4.2 0.3l4-0.9l3.8-1.2l4.3 0.3l5.6 2.2M1234.1 969.8l-0.3 4.2l0.3 3.8l1.3 4l2.3 4.3M1497.1 715.1l-3.7-0.9l-3.8-1.9l-3.7-2.5l-3.7-1.4l-3.9 0.5l-3.8 1.6M1267 634.3l-3.1-4.2l-0.4-4.6l2.4-5.4M1658.3 647l4.6 1l5.2-2l2.5-4l2.6-3.8l-1.7-4.2l0.4-4.2l2.5-4M1565.3 674.2l4.6-0.4l4.4 1.2l4 3.3l3.8 5M1005.9 921.3l5.7 5M1158.4 942.5l3.2 3.8M1194.8 693.1l-3.3-3.9l-3.4-3.7M1185.9 701.5l-3-3.7M1373.5 801.3l4.2-3.2l4.1-1.8l4.1-0.4l4.4 0.5l5 1.6M1517.6 594.9l4.4-4.8l4.2-4.4l3.7-3.9l2.7-3.8l2.2-4.3M1185 950.2l-3.8 0.9l-3.5 2M1321.4 882.4l4.2 4.1l3.2 3.7l2.6 3.5l3 3.8l5.5 0.2M1070.2 829.6l-0.4 4.4l-1.6 4.2M1314.6 898.5l3.7-4.2l3.7-1.7l3.7 1.4l4.1 2.4l4.6 1.1M1684.9 603l-3.3 1.4l-3.6-0.1l-3.6-1.2l-4.2-2.1M1166.6 718.4l3.9-4.3l3.8-4l4.3-4l5.1-4M1842 578.7l-4 3.5l-4.2 4.1l-4.1 0.2l-4.2 1.5l-3.9 2.9l-3.8 3.7l-3.5 3.7l-2.5 3.8l-1.6 3.7l-1.7 3.7l-3.2 4.1l-5.2 4.5l-1.4 3.9l0 3.8M1481.5 723.1l-3.3-3.4l-3.6-3.4l-4.2-4.6M1209 678.6l-2-4.8l-1.1-4.2l0.1-3.8l1.9-4.5M1258.2 637.9l-4.4-2.9l-4.2-2.5l-4.3-1.4l-3.9 0.7l-3.3 2.3M1861.2 569.2l5.2-3.8l7-3.9l1.6 4.5l3.4 4l3.8 2.5l4 0.9M1197 685.7l-3.8 1l-5.1-1.2M1514.2 589.1l4.2-3.7l4-3.8l4-3.7l3.9-4.1l3.5-4.5M1449.5 738.6l4.6-4.4l4.5-3.9l4.1-2.1l3.7-0.4l3.3-0.9M1861.5 601.6l-1.7-3.1l-2.6-2.6l-3.3-1.5l-3.9-0.8l-4.3-1.6l-4.2-2.5l-3.8-2.3l-3.9-0.9M1326.2 549.7l3.8-3.2M1775 587l-6.1 3.3l0.9 4.1M1290.7 590l4.1-3.6l3.8-3l3.8-2.5M1573.1 597.1l5.4 0.7l3.2 3.2l4 2.5l4.3 2.4M1346.3 850.2l0.1 3.7l-0.3 4l-0.3 4.2l-0.3 4.2M1041.3 946.8l-3.7 0.9l-3.9-0.6l-3.8-1.8l-3.6-1.9l-3.6-1.2M1546 594.8l1.5-4.8l1-4.4l0.4-4.1l-1-4l-2.9-4l-3.9-4.2l-3.5-4.1l-1.4-4.1l1.3-5.1M1403.1 778.8l-7.2 3.8M1270.4 1006l4.9-3.9l-2.6-4.1l-2.7-5M1429 753.8l2.4-4l2.9-3.8l3.3-4l2.7-4.2l1.1-4.2l0.4-4.1l1.3-4.1l2.9-4.5l3.9-5.7M1362.7 824.9l2.3 4.7l2 4.7l1.7 4.5l1.4 5.4M1353.8 838.4l1.3 4l2.8 3.8l4.2 3.9M1489.1 578.6l4.6-4l4.3-2.9l4-2.1l4.2-1.6l3.8-1.3l3.6-1.6l4.2-3.2l4.4-3.9l4.4-2.9l5-1.7M1753.2 634.1l4.6-6.7M1082.9 947l-0.8-6.7M1350.4 540.9l-4.4 1.9l-4.2 3.3l-5.1 4.1l-3 4.1M1653.6 654.4l4.7-3.6l4.6-2.8M1473.6 569.2l5.6-3.2M1373.6 549.3l-0.4-3.7l1.6-3.7l3.2-3l3.9-2.5l4.2 1.2l4.4-0.1l4.1-1.3l3.7-2.5l3.5-2.8l3.7-2.7M1742.9 586.9l-4.3-1.7l-4.1 0.9l-4.2 1.9l-4.2 1.2l-4.2 1.5l-4.2 1.7l-4 1.2l-3.8 0.6l-4.1 0.5l-4.4 0.6l-4.2 0.2M1734.6 637.7l-4.2 2.6l-4.2 1.5l-4.2 1.2l-4.3 1.1l-4.2-0.3l-3.7-1l-3.5-1.2l-3.9-0.6l-4.4 0.8l-4.2 1.8l-3.8 1.7l-4 0.4l-4.1-0.4l-3.5-1.2l-2.8-2.3l-2.4-3.6M1857.4 566l4.3-2.5l4.9-2.7l6.8 0.7M1045.6 863l4.3 3.2l3.7 3.9M1506.7 582.7l3.9-4.8l4-4.4l3.9-3.9l3.9-3.8l3.8-3.5l3.8-3l4.2-3.4M1598 671l4.1-3l5-2M1150.9 948.9l3.2 6.8M1901.7 594.5l3.1-4l1.7-4.1l1-4.1l1.6-4l2.3-4l3-4.1M1798.4 578.1l-2.7 4.1l-2.7 3.9l1.4 3.8l1.2 3.9l2.4 3.9l3.7 4l-0.2 4.1l0.1 4.1l-0.2 4.1l-1.3 4.1M1894.8 610.4l-1-4.2l-0.3-4.4l0-4.2l-0.8-3.9l-1.4-3.6l-0.7-3.7l-0.1-3.8l-0.2-4.3l-0.2-5.7M986.8 945.3l3.3 0.9l3.8-0.1l4.3-2l4.1 1M1297.7 557.6l1.7 4.5l2.3 4.2l1.2 4.3l-0.9 4.9M1502.6 576.9l3.8-3.5l3.6-3.7l3.6-4.6M1077.4 753.9l4-2.6l4-2.6l4.3-3.1l3.9 1.5l4.1-1.2l4.2-2.2l4-0.4l4.1 1.7l4.2 2.4l3.9 2.7l4 2.3l4.4 1.4l4.1 0.4l3.7 0.2l3.8 1.3l5.1 2.7M1664.9 595.1l-2.9-1.8l-4.3 2.1M1013.8 949l-1.7-3.6l-3.1-3.5M1606.7 594.6l5.7-0.2M1567 588.9l3.2 0.8l3.1 1.6l2.7 2.9l2.5 3.6M1057.9 953.9l3.5 4.3l2.1 4l0.2 3.9l0.7 3.8l2.5 2.9l3.5 1.5l3.4 1.3l2.8 2.5l2.3 3.7l3 4.1l3.6 4.2l2.6 4.1l1.1 3.9l0.5 3.7l1.1 3.7l0.9 3.9l0 4l0.3 3.9l1.3 4l0.9 4.1l0.8 4.3l2.3 4.3l2.6 4l0.4 4l-1.3 4.4l-1 4.2l0 3.9l1.4 3.7M1318.1 913.9l2.7 4.2l1.2 3.9l-0.3 3.8M1301.2 961.7l-3 3.1l-4.2-0.4l-4.1-0.9l-3.8-1.4M1410.2 553.4l-4.9-3M1233.9 985.7l4.3 4.5l4.2 4.4M1818.7 618.9l-4.5-0.1l-4.3 0.2l-4.3 1.1l-3.9 2.5l-3 3.2M1881.7 558.8l-4-0.8l-2.9-0.7l-1.4 4.2M1230.2 649.7l0.8-4.2l-2.1-3.7M1379 819l3.7 0.6l4.3 2.3M989.7 918.9l2.6 3.5l2.5 4l2.7 4.2l2.6 4l1.5 4.5l0.7 6M1313.6 930.4l0.6 2.5M1540.9 701.6l5.2-0.3l4.5-1.4l3.9-3.8M1509.9 726l2.4 4l2.7 3.5l3.2 2.6l4.2 1.5l6.3 0.6M1406.9 785.8l-5.6 4.1l-3.5 1.1l-2.1 2.9M1286.8 996.9l-4.7-0.7l-4.4-1.2l-4-1l-3.7-1M1266.7 1013.2l-4.8-3.6l-4-3.3l-3.6-2.5M1678.8 657.2l-0.2-3.7l-0.2-4.2l0-5.2M1514 577.3l0.6-3.8M1901.9 562.2l4.1 5.7M1790.2 573.2l-0.1 4.6l1.1 4.3l1.8 4M1443 553.2l0.6-3.4l1.6-3.7l2.5-4.2l3.1-4.2l3.1-4.2l2.6-3.9l1.9-3.8l0.8-3.9l-0.2-3.9l-0.6-4l-1.2-3.7l-3.4-2.6l-6.5-1.7M1878.3 614.8l0.8-4.5l0.7-4.2l0.7-4.1l1.5-4l1.3-3.7l-0.5-3.6M1858.2 558.7l3.8 1.1l4.6 1M1057.7 822.3l-0.5 4.3l-1.3 4.1l-2.7 3.8l-3.4 3.6l-2.5 4l-0.9 4l0 4.1l1.2 4.1l2.5 4.1l2.4 3.8M1101 954.9l4.2 1.2l4.4 1.4l4.8 1.9l6.2 2.4M1281.9 1009.6l-3.7-3.9l-2.9-3.6M1519.1 577.3l3.2-3.5l3.2-3.5l3.4-4l4.2-5M1065.3 798.3l4.7-7.2M1114.8 734l3.2-2.8l3.7-2.4l4.1-3l4.1-3.2l4.4 1.9l4.1 1.4l3.6-0.4l3.7-1.4l3.7-0.5l4 0.9l4.3 0.8l4.6 0.5l4.3 1.2l3.7 2.9l3.8 3.8M1765.2 641.7l4.6-1.1l4.4-2.9l4-4.7M1293.3 985.2l-3.4-1.9l-4.2-0.7l-6.1 0M1693.5 585l-3.9 3.5l-4 2.7l-3.9 2.4l-3.6 3.4M1018.1 886.4l-2.4 4l-2.5 3.8l1.6 4.2l1.6 3.6l1.2 3.7l0.2 4.1l-1 4.3l-1.8 4.1l-1.9 4.1M1625.5 670.2l-3.6-1.6l-3.8-2.6l-1.9-4.4l-4.3-4M1918.9 566.6l3.4 3.3M1808.9 570.1l5.8 3.9l-3.2 4.2l-2.4 3.9l-2.7 2.9l-3.2 2.4l-2 3l-0.1 3.7l0.5 3.7l0.1 3.9M1410 785.7l-5 5.2l-3.7-1M997.5 954l0.3-4.1l0.4-5.8M1766.3 573.6l-3.3 4.2l1.8 3.9l2.2 4.2l1.9 4.4M1841.5 618.8l-3.5 3.4l-3.7-0.4l-4.1-0.1l-4.2 0.5l-3.9 1.2l-3.7 1.6l-3.9 1.2l-4 1.3l-4.6 1.5l-6.1 0.7M1069.6 771l-1.5 3.9l-1.5 3.9l-1.8 4.1l-2.8 4.7M1201.2 973.3l-3.6 0.3l-3.6-0.9l-3.7-2.1l-3.8-2.1l-4-1.8l-4.3-2l-3.9-2.9l-3.1-3.8l-2.8-4l-3-3.7M1580.9 586.1l4.8-0.6l4.4-0.8l4.4-1.4l4.9-2l3 1.6l3.7-0.3l4.4-0.7l5.1 0M986 954.5l3.8-4l4.1-4.4M954.1 946l0.1-4.1l-0.1-4.3l0.9-3.8l2.4-3.4l3.8 0.3l4 0l4.1 1l4.3 2.6l4.4 2.6l4.3 1.1l4.1 0.3l3.9 1.3l3.9 2.5l4 2M1657.7 585.5l-3.9 3l-3.2 1.5M1353.8 530.7l-4 2.6l-3.8 2.3l-3.6 2.7l-2.6 3.5l-1.5 4.2l-1.6 4.2M1658.4 666.8l1-4.8l2.2-4.6l2.6-4l2-3.6l1.9-3.8M1638.3 669.3l-1.6-3.4l-2-4l-2.3-4l-3.2-2.8l-3.8-1.1l-3.7-0.3l-4.1-0.1l-5.8 0.1M1313.1 949.6l-3.4-0.8l-3.7 0.3l-4.3 0.7l-5 0.4M1146 710.2l4-4l3.8-4.5l3.7-4.6l4.3 0.8l4.4-0.6l4.3-1.8l3.9-2.2l3.8-2l3.9-1.3l3.8-0.4M963 934.7l2.2-4M1218.9 986.4l3.6 3.8l3.3 5.2l4.3 1.3l4.3 2l4.3-1.5l3.6 1.6l3.6 3.8M1049.5 826.7l1.4 3.7l2.3 4.1M1329.5 909.5l1.4 4.7M1473.4 553.8l4.4 0.1l4.3-0.9l4-1.6l3.9-2.3l4.1-2.9l4-1.2l3.7 1.6M1909.1 614.1l4.7 1.9l4.1 1.2l3.8 0.2l3.9-1.2l4.2-2.6l1.2-3.7l2.9-3.9l4-4.4l4.2-4l4.1-3.5l3.8-3.5l3.8-3.8l4.1-3.7l4.2-3.1l4-2.5l4-2l4.2-1.3l4.4-1.7M1670.8 665.9l-1.7-3.5l-2-4.2l-2.9-4.8M1266 1021.3l-4-3.5l-4.1-3.6l-4-3.7l-3.7-3.5M1141.1 961.8l3.4 4.1l3.1 4.1M1677.9 582.6l-3.6 1.7l-3.8 2.9l-4.1 3.4l-4.4 2.7M1534.5 718.3l3.2 4.2l3.5 6.2M1054 966l4.4 2.6l6 1.3M1558.8 578.6l-0.6-4.5l-1.4-4.1l-1.9-3.9l-1.4-4l-1.2-4l-2.7-3.9l-3.9-4M1865.3 545.6l1.7 4.3l1.7 3.9l3.6 3.5l1.1 4.2M1458.1 545.6l0.3-3.3l1.4-3.9l2.6-4.3l2.7-3.8l0.8-3.7l-1.3-4.2l-2.8-4.4l-3.4-4M1861.6 621.2l-3.9 0.7l-3.6 1.4l-3.7 1.2l-4.1-0.1l-4.3-1.2l-4-1M1529.1 721.4l-0.4 3.9l1.5 3.3l3.2 2.7M1705.5 662.7l-1 3.6l-1.3 3.8l-1 4.1l0 4.9l-4 3.1l-3.7 3.8l-2.8 3.8l-1.8 3.8l-1.7 4l-2.4 4l-1.1 3.8l1.1 3.9l1.1 4.1l-0.1 4.3l0.7 4.1l2.7 3.5M1326.1 926.9l-4.4-1.1M1550.4 710.9l3.7-3.1l3.9-2.6l4.2-2.7l4-2.8l3.7-3l3.7-4.6M1013.6 877.4l-3.8 4.7l-3.2 5.2l3.8 2.9l2.8 4M1413 542.1l4.6-2.9l4.5-1.2l4-0.2l3.4-0.1M1041.8 832.9l2.5 4.9l3 4.3M1440.9 769.8l3.6-4.1l2.8-4l2.9-4l3.1-4.1l2.1-3.9l1.5-3.8l1.7-3.7l2.9-4l3.8-4.8l4.4-6.5M970.4 918.5l-0.2 3.5l-0.4 4l-0.5 5.7M1061.7 766.1l1.1 3.8l1.6 4.2l2.2 4.7M1498.2 741.3l4 4.7l2.8 4.3l1.4 4.4l0.3 5.6M1493.1 558.2l4.3-4.1l3.1-3.9l1.3-3.6M1461.1 758.9l4.6 3.9l4.1 4.2l4 0.5l4.2 0l4-0.3l3.8-0.9l3.8-1.6l4.1-2l4.7-2.8M1306.7 984.9l-4.6-3.2l-3.8-3.6l-2-4l-0.9-4.3l-1.4-5.4M1782.6 647l3.4-0.2l3.8 0l4 0.8l3.9 1.8M1913.9 626.9l4.2-4.7l3.6-4.8M1733.1 657l-3.4 0.7l-3.4 1.6l-3.7 3.1l-3.9 4.1l-4 4.1l-4.1 3.5l-4.2 2.7l-4.2 2.3M1738.3 566.2l3.8-2.4l3.9-1.2l4.2 0.6l5.4 2.4l2.5 3.8l2.8 4.2l2.1 4.2M1629.7 577.2l-0.1-3.5l0.1-3.6l0-3.8l-1-4.1M1112.9 966l7.7-4.2M1417.7 793.5l-4.4 0.1l-5.2 0.1l-3.1-2.8M1934.5 558l3.9 0.1l3.9 1.2l3.8 2.8l3.7 3.2l3.9 1.8l4.2 0.2l4.6 0.4M1313.8 979.1l-1.1-5.1l-2.6-5.5l-3.8-0.5l-4.1-1.9l-4-1.3M1250.5 606.5l-1.1 3.4l1.3 3.7l3.2 3.4M1874.3 538.2l2.2 3.5l-0.4 4l-3.7 4.3l0.4 3.6l-0.5 3.7M1281.7 546.3l-4.1 3.4l-3.9 1.5l-4.6-1.1l-4.3 3.9l1.5 3.8l1.6 3.9l4.1 4.7M946.7 938l3.5-3.9l4-5.3l3.2 1.6M957.3 922.5l-5.8-0.5l0.8 3.9l1.9 2.9M1031 969.3l-4.9 0.5l-4.5 0.1l-4-1l-3.8-1.9l-4.1-1l-4.9 0.1M1854.9 629.1l-4.2-1.3l-4.4-3.4M1377.2 525.6l0.5 4.1l1.3 3.8l2.9 2.9M1506.5 558.9l3.6-4.2l3.6-3.2l4.1-1.2l4.3 1.2l4.5 3.6M1297.9 526.8l4 0l3.9 0.7l4 1.1l3.6-0.3l2.8-2.5M1925.1 586.4l4.7-3.8l4.2-3l3.8-1.4l3.9-0.6l4.2-1.3l4.2-2.9M1049 798.3l-0.9-4.1l-0.7-4.5l-1.3-5.1M1330.3 937.1l-4.5-1.5l-4.1-0.9l-3.8-0.6l-3.7-1.2M926.2 957.6l-3.5 1.4l-3.9 2.3l-4.3 3.3l-3.9 0.6l-4 0.6l-4.3 0.2l-4.2 1.8l-4.1 5.3l-4.4 0.1l-4 0.6l-3.9 0.3l-3.8 0.2l-3.9-0.3l-3.8-1.2l-3.9-2.7l-4.2-3.8l-4.1-4.3l-4-4l-3.7-2.8l-3.6-2.2l-4-2.8l-4.4-2.9l-4.6-1.4l-4.3-0.2l-4-0.1l-3.7 0.1l-3.5 0.5l-3.7 0l-4.1-1l-4.3-1.6l-3.9-1.2l-3.7-0.5l-4.1-1l-4.2-2.8l-4.1-4.1l-4.2-4.1l-4.2-3.1l-3.7-2.4l-1.8-3.2l0-3.8l-0.3-3.7l-2.1-3.6l-2.4-3.8l-0.7-4l0.1-4l-1.5-3.4l-3.3-2.5l-3.9-1.9l-3.8-0.8l-4.3 0.7l-4.3 0.8l-4.1-0.4l-4-0.8l-4.3-0.8M1174.6 978.5l-0.7-4.6l-0.3-4.2l0-4l0.7-3.9M1157.5 973.6l-3.7 0.7l-3.3 1.4l-2.9 2.5M1194.6 985.9l0.4-3.8l-1.8-3.7l-3.3-4.4l-3.4-5.5M1370.9 862.3l-2.9 3.8l-1.8 3.6l-1.9 3.8l-3.1 4.1l-3.8 4.2l-3.8 3.1l-5.6-2.6M1778.6 653.1l3.4-3.3l4-3M1110.3 717.4l4.2 2.8l3.8 1.2l3.6 0.2l3.8 0l4.2 1M1209.5 642.2l4.1-4.3l4.1-4.2l4.4-4.2l5.4-0.1M1141 698l4.8 1.6l3.8-1.8l3.9-1l4 0.3M1078.9 729.2l3.4 2.2l2.4 3.2l1 3.9l1.3 3.9l2.7 3.2M1322.3 964.9l-4.6 2.1l-4 0.9l-3.6 0.6M1294.6 1026l3.7-3l3.6-2.1l4.2 2.1l3.9-0.1l4-1.2l3.7-0.7l3.2 1.4l2.7 3.3l3.1 3.9l3.7 3.1l3.9 1.5l4 0.3l3.8 0.7l4.1 0.2l3.9-1.4l3.6-2.5l3.4-2.5l3.3-3.1l2.7-3.5l3.2-2.6l3.9-1.7l3.9-1.8l3.5-2.8l3.1-3.5l2.8-3l3.2-1.6l3.8 0.7l3.9 1.2l3.6-0.3l3.5-0.8l4 1l4.3 3.1l4.2 3.8l4.1 3.5l4 3l4.3 2.9l3.7 3.3l1.8 3.8l0 4l0.1 4.1l0.7 4.1l0.2 3.9l-0.3 3.6l-0.6 3.4l-1.3 4l-1.7 4.3l-1.7 4.1l-1.7 4l-0.9 4.2l0.3 4.1l0.1 3.7l-1 3.5l-1.6 3.9l-1.7 4.3l-1.1 4.3l0.5 3.5l2.5 2.8l3.4 2l3.8 0.7l3.3-1.4l2.6-3.3l2.8-4.2l3.6-4.1l3.9-2.7l3.9-0.4l3.9 0.6l3.9 0.6l3.9 1.1l3.9 0.9l3.5 0.1M1454.4 769.8l3.8-1.3l4-1.3l3.9-0.6l3.7 0.4M1009.3 870.6l-4 3.6l-3.5 4l-3.1 5.3l3.9 1.8l4 2M1705.4 566.4l-3.7 1.1l-4-0.3l-3.8-0.9l-3.7-0.4l-3.9-0.3l-3.9-1l-4.2-1.7l-4.2-2.7l-4-4.6l-4-0.3l-4.3 0.2l-3.9 1.4l-3.5 1.2M1822.7 636.9l-4.3 2.3l-4.1 1.7l-3.9 0.3l-4.6-1.2l-6.2-2.6M1297.2 1017.2l4.7 3.7M1846.7 634.4l-0.4-4.6l0-5.4M1178 662.8l4.5-2.6l5.3-1.2l2.9 5.1M1917.6 638.6l5.1-4.8l6.2-4.3l0.5-4.2l0.4-3.9l-0.1-4l0.1-3.8M1594.3 569.1l1 4.9l1.7 4.2l2.4 3.1M925.8 970l-3.8-3l-3.7-2l-3.8-0.4M1925.7 601l4.4 1l4.1 0.2l3.7-0.6M1665.8 569l-3.8 3.3l-4.3 0.2l-4.4-2.4M1127 974.5l2.7-6.5M1473.5 537.7l4.4 0.2l4.1-0.2l3.9-0.1l3.9 0.1l4.1 0.1l4.3-0.5l4.1-1l4.1-0.3l4 2.2l3.7 4.7M1618.9 570.1l4.6 0.2M1786 654.5l3.6-3.9l4.2-3M1573.9 710.1l4.5-4l4.1-3.2l3.6-2.2l3.4-1.7l3.8-1.9l4-2.8l4-3l3.9-2.4l3.1-2.8l1.6-3.8l0.3-4.1l-1.6-4.1l-4.1-4.1M1474.8 761.5l3.2 6M1813.8 550.1l2.8 3.9l2.6 3.9l2.1 4.5l1.4 6l-4 2l-4 3.6M1626.9 690.3l-1.9-3.6l-2-3.9l-1.3-4.3l-1.2-4.2l-1.4-4.1l-1-4.2M1882.7 533.2l0.6 4.6l2.6 4.1l-1.2 4.1l-2.5 3.9l-3.8 3.7l-3.6 3.7M1397.2 829.4l-3.8 6l-5.3 2.1M1233.6 613.4l4.8 6.3M1593.5 701.7l-0.2-4.6M1334.1 513.5l-4 1.5l-3.2 2.9l-1.4 4.2l-0.3 4.4l-1 3.8l-2.5 2.4M1026.6 838.3l-4.3 2.4l-4.2 1.1l-3.9 0.1l-3.9 0.1l-3.8 0.6l-4 0.9l-4.2 1.6l-3.9 2.1l-3.9 2.1l-4.3 2.3l-5.5 2.8l-1.9 3.8l-1.9 3.5l-0.8 3.7l0.6 4.2l1.8 4.6l2 4.4l2.4 3.5l3.3 1.6l4.1-0.4l4.3-0.6l4.1 0.8M1365.1 881.4l-3.2 5.1l-3.8-0.3l-4.5-1.3M1142.6 978.6l5-0.4M953 914.1l1 3.8l-2.5 4.1M1925.6 541.8l4.7-0.6l4.1-0.6l3.8 0.2l3.9 0.6l3.8-0.5l3.8-1.2l4.1 0l4.4 2l1.1 4.1l2.8 3.9l3.6 2.9l3.9 2.5l3.1 3.3l1.4 3.9l0.2 3.9l0.2 4M1145.4 685.1l4.9-2.5l4.4-2.2l3.9-1.3l3.7 0.2l3.6 1.2l3.7 1l4 0.5l4.2 0.6l4.3 0.8l3.9-0.2l3.3-1.6M1439 789.8l-3.3 3.6l-2.1 4l-1.6 4l-2.4 2.7l-3.6 1.2l-4.2 0.3l-4.3-1.1l-3.8-2.9l-2.9-4.1l-2.7-3.8M1374.1 870.4l-4.3 3.7l-4 3.9l-3.8 4.2l-3.9 4M1350 910.3l-4.6 3.8l-3.9-1.3l-3.9-3.9M1106.9 977.3l3.4 1.9l3.6-1.1l3.1-3.7l2.3-4.5l2.6-5M929.4 941.3l2-3.9l2.6-4.6l3.7-0.3l4.1 0.2l4.4-0.2l4.1-1.4l3.9-2.3M1774.1 549.6l-3.6 4l-3.7 2.9l-4.4 0.6l-3.7 2.5l-2.9 2.7l-0.2 3.3M1254 1037.7l-4.4-1.5l-6.2-2.8M1542.1 558.9l-0.8-5.2M1666.3 687l4 2.2l3.4 2.1l1.5 2.7l-0.3 3.6l0.7 3.6l3.1 2.6l6 1.6M1066.4 982.2l3.7-4.1l3.7-2.5M1098.1 713.7l4.1-3.3l4-1.5l3.7 1.3l3.6 2.6l3.8 1.2l4-0.2l4.2-1.5l4.2-2.7l4.4-2.9l4.3-2.4l3.8-2.4l3.6-2.3M1262.9 566.5l3.7-0.5l5.4 0.4M1167 985.4l-4.7-0.7l-4.2-1.1l-4.2 0.2l-4.6 2.6M1937.3 581.6l4.4-4M1606.7 702.7l3.2-4.2l2.2-3.9l-0.2-4l-3.6-4.5M906.7 961.8l-4.4 4.2M1046.6 761.5l-4.1-2.1l-4.1-0.8l-4-0.5l-3.9-1.3l-4-1.8l-4.5-2.5l-4.2 0.8l-5.2-0.1M1465.9 773.7l3.9-2.1l4-4.1M1029.9 981.1l-3.9-3.1l-4.2-3.9l-4.2-5.2M1210.9 1006.3l3.5-4.6l3.5-3.8l3.8-2.3l4.1-0.2M1222.5 617.6l3.7-3.3l3.7 4.1l4.4 3.9M1310 1013.6l4.1 3.7l3.6 3.7M1751 549l3.8 4.8l3.9 5.8M1013.7 980.9l-5.1 5.3M1285 514.9l4.6-4.4l5.9-4.7M1739.1 549.3l-4.4-2.5l-4.7-2.6l-3.6 1.2l-4.3 0.3l-4 1.1l-3.9 2l-4.1 1.4l-4.3 0.2l-4-1.2l-3.8-1.9l-4.1-1l-4.2 1.2l-4.2 2.9l-3.9 2.5l-3.8 1.2l-3.9 1l-3.9 0.5M1606.5 561.3l3.6-1.2l3.6-1.2l3.8-0.3l3.9 0.8l4.1 0.3l4.5-1.4M1202.1 633l4 1l4 0.1l4-1.7l3.9-3.9l4.1 1M953.3 979l4.9-3.5l4.4-1.9l3.7-1.4l3.4-2.6l3.5 2l2.1 3.1l0.8 3.4l1.9 2.7l3.9 2.3l4.5 2.4l4.1 1.4l3.8-0.2l3.9-1.5l4.5-1.8l5.4-1.4M1709 681.3l-2.6-4.5M1121.3 698.2l4.1-3.8l4.2-4.2l4.1-4.3l4.1-4l3.9-3.7l3.2-3.9l2.5-4.4l2.3-5.8l3.9-0.3l3.9-2.6l3.7-3.7l3.2-3.8l2.7-3.2l3.5-2.6l4.9-2.4l2.8 1.6l3.4 0.8l2.9 2.4l1.6 4.1l1.6 4.6M1830.7 537.4l-4.4 5l3.5 3.5l3 3.8l1.3 4.3l-0.5 4.4l-1.9 3.9l-2.4 3.3l-3 1.8l-3.6 1M1569.8 557l0-3l-0.8-3.8l-1.7-4.2l-2.8-4.2M1522.2 754l4.2 0.2l3.6-0.3M1043 778.9l-4.6 3.9M1231 1022.4l3.3-4l3.9-2.6l3.6 0.1l2.4 2.5M1899 530.5l-4.7 2.1l-3.9 2.4l-2.8 3l-1.7 3.9M1726.1 677.2l-2.6 4.4l-0.3 4.3l1.5 4.3l1.4 4.1l1.5 3.4l3 1.5l3.7 0.8l2.7 2l1.3 3.8l1.2 4.4l2.8 4.3l3.9 3.9l3.8 3.3l3.5 3.8M1085.8 713l4.5-3.2l4.1-2.8l4-2.4l4.1-2.7l3.9-3.6l3.7-4l3.7-3.8l4-3l3.9-2.7l3-3l2.7-4l2.9-4.3l1.8-4.1l-0.2-4.1l0.2-3.8l2.5-2.9l3.8-2.1l3.9 2.3l3.6 2.9l3.8 2.4M1405.3 834.8l-3.8-0.6l-3.9 0l-4.2 1.2M1422.4 522.8l3.6-4.5l2.3-4.8l1.5-5.4M1751 673.9l2.9 2.5l3.8 2.2l4.3 1.8l4.1 1.5l3.6 1.6l3.8 1.3l4 0.2l4 0.1l2.9 1.7l1.3 3l1.5 3.7l2.7 4.2l2.8 4.7M1654.3 693.3l3.9 4l3.9 4.2l3.7 4.3l3.2 4.3l2.5 4l2.8 3.9l3.3 4.5M1798.8 541.6l-0.9 4.7l-1.5 4.2l-2.9 3.1l-3.7 2.1l-3.9 1.4l-3.9 1l-3.8 1.2l-3.8 1.5l-3.8 2.1l-3.3 3.1l-2.8 4l-3.6 3.6M937.4 921.1l4.5 2l4.6 1.7l5.8 1.1M1294.1 510.7l1.4-4.9M1566 554.9l3-4.7M1934.7 633.8l-5.1-0.1l-0.7-4.2M1043.1 749l-5.1 1.8l-4.5-0.1l-3.9-0.5l-3.8 0.8l-3.8 1.5M1094.5 986.2l-3 4.4l-3.4 3.6M1446.9 522.9l0.7-4.2l2.5-3.2l3.8-2.6l3.3-2.6M1935.1 641.3l-3.2-3.6l-2.3-4M1870.4 645.1l0.1 4.7l0 4.2l0 4l0.8 4.1l2.7 4l3.5 3.6l2.1 3.7l0.1 3.9l0.3 3.6l2.3 3.1l3.3 2.9l2.6 3.5l1.4 4.3l0.7 5.5l-4 1.3l-4 2.1l-4 2.9l-4.1 3.5l-4.3 4l-4.3 4.1l-3.9 4.3l-3.8 3.9l-3.7 3.8l-3.4 3.9l-2.6 4l-1.3 4.1l-0.5 4.3l0.1 4.1l0.8 3.7l1.3 3.9l1.9 4.1l2.7 4.2l2.8 4l2.4 3.7l2 3.9l0.5 4l-0.9 3.9l-1.1 3.8l-0.6 3.8l0.2 3.9l1 3.9l1.8 4.2l2 4.4l1.6 4.1l0.6 3.7l-0.2 3.2M1873.1 645.4l-2.6 4.4M937.8 982.9l2.8-4.8l1.4-4.3l1.3-3.6l2.7-2.5l3.8-1.3l4.2-0.4l4.4 0.2l3.9 1l3.7 1.2l3.7 1.2M1926.7 653.6l0 5.6l-4.4 2.8l-4.4 4.2l-4.1 4.2l-4 3.8l-3.9 3.7l-3.9 4.1l-3.7 4.5l0.8 4.1l0.1 3.8l-1.9 3.2l-3.3 1.8l-3.7 0.8M1738.2 678.4l-2.6 3.7l-1.3 3.9l-0.1 4.1l0.3 4.3l-0.2 5.6M1353.2 921.6l5.1-6.6l-4.1-0.5l-4.5-0.5l-4.3 0.1M926.2 933.5l4-0.2l3.8-0.5M953 902l-3.5 4.1l-4.1 4l2.5 3.9l2.3 3.9l1.3 4.1M1318.6 1009.5l-0.1 4.8l-0.8 6.7M1217.7 1017.4l1.9-3.7l2.9-3.8l3.3-5.3l4.2-2.6l4.4-3.3M1938.3 610.1l3.6-3.8l3.1-4l2.4-4l2.7-3.9l3.6-3l4.2-2.6l3.8-2.7l2.9-3.8l1.5-4.8M1334.4 502.3l-4.2-4.5l-3.9-3.9l-2.4-3.4l-1-3.8l-1.9-4.5l-3.2-4.8l1.4-3.6l1.7-3.9l-0.1-3.9l-2.5-3.8l-3.5-3.7M1398.9 514.9l-0.5 3l-1.5 3.6l-2.6 4.4l-1.6 4.2l1.6 2.8l4 0.8M1822.5 652.9l-4.4-1.9l-3.9-2.2l-3.7-3.4l-4.7-5.4M890.3 989.1l3.9-1.5l5.6-1.1l0.9-4l-0.4-4.1l-2.4-3.6l-3.9-1.7M1810.8 658.2l-4.3 0.4l-4.6 1.2l-5.4 2.3M1346.6 947l-0.5 3.1l0.8 3.8l1.8 4l2.7 4l-0.9 3.9l1.3 4l2.8 3.5l3.7 2.1l4 1l4 1.6l3.7 2.1l4 1.4l4.2 1.7l3.7 3l3 3.8l2 4l2 3.9l2.2 3.8l3 3.2l3.9 2.1M1001.8 853.7l-0.8 4.3l-1.6 4l-1.5 4l-0.3 4.1l0.4 4.2l0.4 4.3l0.3 4.9M1685.9 553.5l-3.7 1.2l-4.4-0.6M1265.3 529l4.5 4.4l2.6 4.3l0.2 4.2l-1.2 4.2l-2.3 4M1821.4 534l1.9 4.5l3 3.9M1957.5 558.4l4.8 4l4.2 4.1M914.2 986.5l-3.9-3.8l-4.4-2.8l-5.6-1.5M1930.7 658.3l-4 0.9M1337.7 973.5l2.8-3.6l2.3-3l3-1.5l4.7 0.4M1925.6 530.5l4.6-0.4l4.3 0.4l4.2 0.6l4.1-0.2l3.7-0.6l3.6-1.3l3.8-1.7l3.9 0l2.6 2.3l0.1 3.8l-1.5 4.2l-0.8 4.1M1206.1 622l4.3 1.5l3.9 2.5l3.7 2.5M1671 553.6l-5 1.7M1602 713.8l3.6-0.9l4 1.9l4.4 4.5M1883 649.6l-4.2 4.6l-4.2 4.2l-3.3 3.7M1237.6 586.7l4.4 2.5l4.1 2.1l3.9 1.8l3.9 1l4.1 0l4.6-0.3l5.5 0M1769.9 677.3l-0.2 6.2M1013.5 989.5l-4.3 4.5M1290.2 1062l-2.2 3.9l-2.9 3.9l-3.4 4l-3.4 4.2l3.6 4.3l1.4 4.1l-1.4 4M1477.5 778.5l4.4-5l0.1-6.3M1810.7 534.5l-1.6 3.7l-0.8 3.6l-0.5 4l0.1 4.4l1.8 4.3l2.6 4l2.1 3.7l1.9 3.7l2.4 4.5M1243 577.7l3.2-1.3l3.7-2.4l4-1.4l3.9 1.3l3.8 2.7l4.4 2M1950.1 582.7l3.8-4.4l4.1-3l4.1-0.2l4 2.4M1062.6 713l-0.8-3.1l-1.1-3.8l-0.9-4.4l-0.6-4.4l-1.7-3.8l-3.1-3.6l-2.7-3.9l-1.5-4.2l-1.4-4.2l-1.5-4l-1-3.7l-0.2-3.6l0.4-3.9l1-4l1.4-4.1l0.7-4.2l0.2-3.7l-3.9-2.4l-4.1-1.2l-3.9-0.8l-4-1l-4.2-0.2l-4.3 0.8l-4 0.6l-3.7-0.3l-3.9-1.4l-3.8-2.9l-2.9-3.8l-2.4-3.5l-2.7-2l-3.7-0.4l-4.1-0.4l-4.2-0.8l-4.1-0.7l-4.3-1.5l-4.3-2.7l-4.2-3.4l-3.9-2.9l-3.7-1.3l-3.7-0.1l-3.7-0.1l-4.1-1.3l-4.2-3.1l-3.9-3.5l-3.8-1.9l-3.9 0.6l-4.1 1.9l-3.8 2.1l-3.8 1.8l-3.9 1.8l-4.4 1.1l-4.4-0.1l-4.3-1.3l-4.1-1.8l-4.1-1.8l-4-1.6l-3.8-0.8l-3.7-0.2l-3.8-1l-4-2.2M1030.6 789l-4.1-4.3M1393.8 862.1l0.1 4.4l-0.3 4.1l-1.3 3.8l-2.4 3.3l-3.7 2.9l-4.3 2.8l-4.4 3l-4.2 2.1l-4.1-0.1l-3.8-1.2l-3.5-0.7M1166.8 998.3l-4.5-1.5l-4.5-2.6l-4.4-2.4l-4.7-1.2M1037.5 733.6l-3.5 4.1l-4 4.3l-4.3 4.3l-4 3.8l-3.9 3.2M990.3 861.6l-4.1-1.6l-4.5 0l-4.8 1.7M1785.3 674.8l0.1 3.6l0 3.9l-1 4.5M973.9 878l4.6-3.8M1273.8 1058.9l-2.7 3.5l-0.9 3.5l1.1 3.7l2.9 4l4.1 4.4M1259.1 1053.2l-3.3 4.5l-2.3 4.1M1349.4 493.5l-2.6-3.9l-0.7-4.6l-2.6-2.9l-1.2-4l-0.5-4.1l-1.1-3.9l-2.7-4l-4.1-3.9l-4.1-3.7l-3.9-4.1l-4-4.2l-3.9-2.9l-3.6-1.3M1590.2 550.7l-3.9-4.4l-4.2-3.1l-4.2-1.9l-3.9-1.5l-4.2-1.1l-5.8-0.7M1842.1 521.6l4.2 3.2l3.8 1.4l3.7 0.1l3.7 0.8l3 2.6l1.6 4.1l1.6 4.3l3 4l3.3 4l2.4 3.9M1478.5 781.6l2.4-3.5l1-4.6M1501.2 529.3l5.2 6.7M1249.7 558.8l4-0.6l4.1-0.7l4.3-0.3l4.2 0.6M1698 698.3l-3.2 3.3l-1.7 3.8l-0.4 4l-1.1 4.1l-2.3 4.2l-1.8 4.1M961.7 989.7l4.4-0.8l3.9 0.5l3.3 1.9l1.8 2.9l1.1 3.6l2.3 3.5l3.7 2.8l4-1.8l3.9-2.3l3.9-1.3l3.9 0.6l4.2 2.8l5.7 4.3M902.9 993.4l-2.7-3.2l-0.4-3.7M1373.4 903l0.1 3.9l0.1 5.1l-4.3 0.9l-3.9 0.8l-3.5 0.8l-3.6 0.5M1227 1033.7l3-0.1l3.8-0.8l4.3-1.5l4.6-1.7M1319.1 1030.3l4.5-4.6M1915 522.9l3.1-1.1l3.8-1.8l4.3-3.5l3.8-0.4l4.2-2.2l4.2-2.1l3.9-0.9l3.8-0.8l3.9-1.8l3.6-2.9l3-3.8l2.5-3.9l3.1-3.5l3.9-2.1l4-0.6l4-0.8l4.1-1.6l4.1-1.9l3.7-2.3l2.6-3.3l1.4-3.9l1.6-3.8l2.9-3.4l3.6-2.8l4.1-2.6l5.5-2.9M1537.6 758.6l-3.7-1.7l-3.9-3M1065 997.4l4.3-0.7l4.3-0.2l4.2 0.6l4.2 1.2l3.9 1.6l3.8 1.9M1629.5 710.9l1.6 3.2l1.9 3.7l1.4 4.2M1439.1 813.4l1.6 4.7l0 4.3l-0.2 3.7l1.7 3.7l3.5 4.1l4.8 5.5l3.7-0.4l4.1 1l4 0l3.8-2.3l4-3l4-2.5l3.7-1.4l3.8-0.5l4.2-0.3l4.2-0.7l3.8-1.6l3.7-2.2l3.9-1.3l4-0.7l3-1.8l1.6-3.5l0.7-4l1.1-4.3l2.5-4.1l3.7-3l4.2-2.1l3.8-2.7l2.2-3.7l0.4-3.9l-0.2-4l-0.1-4.2l0.5-4.1l0.9-4l0.6-4.2l-0.3-4.4l-1.2-4.1l-1.4-3.8M1435 818.8l2.2 3.7l3.3 3.6M1488.9 777.6l0.6-3.6l0.2-4.1l-0.1-5.2M882.5 967l-4.5-0.8l-4.1-1.3l-3.8-2.4l-4.3-2.9l-4.3-2.5l-3.8-1.7l-3.6-0.8l-3.8 0.6M1970.5 534.4l3.4 3.7l1.7 3.8l-0.5 3.8l-2.2 4.1l-3.3 5.3M1022.9 797.5l-3.1-3.6l-1.6-4l-0.2-3.9l1.2-3.9M1142.9 997.8l3.1 4.4M929.6 915l4-3l4.3-0.4l4.5 2.4l4 3.9l2.9 4.2l3 3.8M1850.7 657.9l-0.3 4.2l-0.3 4.1l-1.1 4l-1.5 4.1l-0.6 3.8l1.1 3.3l2.4 2.9l3.1 2.8l2.9 3.2l2.3 3.8l1.7 3.8l0.1 3.9l-1.5 4.1l-2 4.2l-1.6 3.8l-1.1 3.7l-0.4 4.1l0.1 4.2l0.2 4.2M1682.4 701.6l2.3 3.8M1010.8 821.9l-4 1.6l-4 3l-3.4 4l-2.9 3.9l-2.8 3.7l-2.5 3.8l-2.1 4.3l-2.9 5.4M1367.1 922.3l-4.6-2.1l-4.2-5.2M874 977.2l-3.8-4.4M1894 513.6l3.9-1.2l3.3-3l2.6-3.9l2.8-3.6l3.6-3.6l4.1-4.1l4.3-4.4l4.1-3.9l3.6-2.8l3.3-2.5l2.6-3.1l0.9-3.6l-1.8-4l1-4.2l1.3-3.9l0.9-3.3l-1.6-2.7l-3.4-1.7l-3.8-0.5l-3.8-0.1l-3.5-0.9l-2.8-2.7l-2.6-4l-3-4.1l-3.1-3.7l-2.5-3.8l-2.6-3.9l-2.8-4l-2.8-3.6l-3-2.6l-3.2-1.2l-3.7-0.8l-4.2-1.7l-4.4-2.4l-3.9-1.2l-3.6 1.5l-3.7 2.1l-3.9 0.3l-4-1.7l-4-2.1l-4-1.8l-4.1-1l-4.1-0.6l-4.1-1.1l-4-2.4l-4.1-2.3l-4.3-1.3l-4.3-1.6l-3.9-2.8l-3.2-3.7l-1.7-4l-0.7-3.9l-1.9-3.1l-3.6-1.5l-4.2-0.1l-4 1l-3.6 0.6l-2.6-1.4l-1.7-3.5l-1.7-3.8l-2.6-2.6l-3.7-1.3l-4.6-0.4M1341.4 490l4.7-5M1782.1 530.3l-3.9 0.3l-4.1 0.2l-3.9 0.9l-3 2.7l-1.8 3.7l-0.7 3.8l0.6 3.9l0.6 4.1l-0.9 4l-2.6 3.2M1741.8 533.6l-4.2 0.6l-3.6 1.1l-1.7 2.5l-0.5 3.6l-1.8 2.8M1157.9 646.2l4.1-4l3.7-5l3.9 2.6l3.3 2.8l2.6 2.9M1281.6 497.1l4.7-3.2l6.3-0.2M1117.7 998.8l-3.2-4.7l-2.4-4.3l-0.4-4l1.1-3.8l1.1-3.9M1509.3 773.9l4.2-1.5l4.1-1.1l4.1-2.1l3.8-3.7l3.3-4.1M1345.7 981.1l3.9-1.9l4.2-1.7l4.5-2.1M1317 494.1l0.3-4.3l0.1-4.4l0-4.2l0.4-3.8M1257.4 517.5l-1.1 3.8l1 4.4l0 4.5l0.6 4.1l1.5 3.7l1.4 3.9l0.9 4.3l0.1 5.1l3 2.7M1838.4 661.8l0.1 4.2l1.1 4.3l2.9 4.1l4.4 3.7M1490.2 517.3l3.6-3.8l4-3.1l3.9 1.2l2.5 2.6l0.2 3.5l-0.4 4l1 4.1l2.3 3.8l3.1 3l4 1.5l4.1 0.4l3.8 1.1l3.2 2.4l1.5 3.8l-0.8 5.1M1292.9 1073.4l-3.5 4.9l-3 4.3l-3.1 3.8M1945.4 654.6l3.1 3.4l2.5 3.1l2.9 1.9l3.9 0.4l4 0.6l3.8 1.3l4 0.9l4.3 0.2l4.3 0.6l3.8 0.2l3.7-1.5l4.1-2.3l4.4-1.4l4.2-0.8l3.6-1.6l3.6-2.4l3.9-3.3l3.2-4l1.7-4l1.7-3.9l4-3.5l2.4-4.3l2.9-4.2l2.1-4l1.6-4l1-4.1l0.1-4.1l-1.1-3.9l-2.9-2.8l-3.9-1.6l-4.1-1.5l-4.2-2.6l-4-3.5l-2.7-3.8l-1.1-4l-0.2-4.2l-0.2-4.2l-1.2-4.1l-1.9-4.1l-1.1-3.9l0.1-3.5l0.6-3.7l1.1-4M1670.9 705l-1.9 5.1M1031.1 733.2l-4.7-2l-4.5-1.9l-4-1.8l-3.8-1.3l-3.9-1.2l-3.9-1.8l-4.1-2l-4.2-1.9l-4.1-2.3l-4.1-3.5l-4-4.1l-3.9-4l-4-3.3l-3.9-2.4l-3.9-1.4l-4.1-0.9l-4-1.1l-3.8-1.1l-4 0.1l-4.1 1.4l-3.9 2.2M1315 1061.2l2 4.1l2.1 4.2l2.3 4.5l2.1 4.2l1.2 4l-0.1 3.8l-0.6 3.9l0.7 4.1l2.4 4.2l3.4 3.9l3.6 3.6l3.9 3.1l4.2 2.5l4.4 2.2l4.2 2.1l4.1 2.2l4 1.3l3.7-1.4l2.8-3.6l2.2-4.3l2.7-3.8l3.7-1.9l4.4 0.1l3.9-0.4l2.4-2.5l0.8-3.7l0.3-4l1.2-3.7l3-2.5l4.1-1l4-0.4l3.8 0l3.7 1.1l3 2.8l2.3 4l3.4 4.1l5.9 3.6M1261.6 1061.1l-4.4 4.5M1182.4 625.6l-4.4 2.6l-4.7 2.2l-1.9 4.3l-1.8 5.1M1081.9 698.5l-1.6-4.3l-2.8-4.5l-3.6-4.3l-3.1-3.8l-2.2-3.8l-1.6-4l-1.1-4.2l-1.2-4l-1.9-4l-2.3-4.1l-3.1-3.9l-3.7-3.8l-3.9-3.4M883.1 1005.5l-2-3.6l-3.6-2.7l-5.7-1.4l-2.3-4.1l-2-3.8l-0.9-3.7l0-4.1l0-4.3l0-3.8l-0.3-3.9M1301.4 1077.2l-3.9 4.6l-3.7 4.1l-4.4 2.8l-6.1-2.3M1025.7 765.6l-6.2 4.1M1869.1 501.7l-0.5-3.5l-1.2-3.8l-2.1-3.8l-3.1-2.9l-3.9-1.3l-4.1-0.5l-4.4-1.4l-4.2-2.9l-4.1-3.2l-3.9-2.7l-3.4-2.3l-2.3-3.1l-1.2-4l-1.1-4l-0.8-4.1l0.2-4.5l1.1-4.3l1-4.1l0.3-3.5l-0.6-3.5l0.6-4l2.6-4.5l2.5-4.1l0.2-3.8l-1.5-4l-1.1-4.1l-0.1-4.1l0.3-3.6M1105.8 686.6l4.3-4.1l3.7-3.9l3.7-3.1l4.2-2.8l4.8-3.3l5.4-4.1M910.6 929.8l-4.4-4l-4.2-2.8l-3.8 1.9l-3.9 2.1l-4.2 1.6l-3.9-0.2l-2.9-2.8l-1.4-4l-4.3-0.8l-4 1.7l-3.9 2.4l-3.8 1l-3.7 1.1l-3.8 1.5l-4 0.5l-3.9-0.3l-4.1-0.9l-4.3-1.6l-4.2-1.1l-4.1 1.3l-4 3.1l-3.9 3.8l-4 4.2l-3.9 4.3l-3.5 4.4M1049.3 1005l0.3 4.8l-1.3 4.1l-2.6 3.8l-2.1 4.1l-0.7 4.4l0.8 4.3l1.4 4l1.1 3.8l1.5 3.4l2.8 2.5l3.6 0.6l3.8-1l3.7-0.7l3.4 0.7l1.9 2.5l0.2 3.6l0.8 3.4l2.6 1.4l3.7 0l3.9 0.4l4.2 1.8l4 2.4l3.4 3.1l2.5 3.7l1.4 4M873.1 1009.9l0.5-3.9l-0.4-4l-1.4-4.2M1297.7 493.6l4.3-3.8l3.9-3.9l2.9-4l2.2-4l1.9-4l1.3-4.1l-0.1-4.1l-1.4-3.6M1721.5 530.4l-3.9 3.7l-3.9 2.8l-3.8 1.9l-3.8 1.7l-4 2.6l-4.1 4.2M1910 666.5l-1.6 3.8l-3 3.6l-3.8 3.8l-3.6 4.5l0.3 4.3M1281.1 494.4l5.2-0.5M1613.6 541.4l4.1-0.2l4.3-1l5-2.6M866.7 1013.8l-1.2-4.1l-1.4-3.9l-1.5-4l-1.5-4.2l-1.4-4l-1.2-3.8l-0.6-3.6l0-3.8l-0.1-4.2l-1.2-4.2l-2.7-3.9l-2.9-4.1l-2.1-4.2l-1.3-4l-0.9-4.8M1194.8 1022.4l0.8-3.5l2.5-2.6l4.1-1.6l4.3-1.9l3.9-3.1l3.6-3.3l3.7-1.4l4.1 0.2l4-0.6M1361.1 485.2l-2.9 0.8l-3.8 0.4l-4.3-0.2l-4-1.2M941.8 889.5l1 4.3l-0.5 4l-0.4 4.1l1.2 4.2l2.3 4M930.3 902.4l4 4l3.6 5.2M1346 995l4.1 1.1l4.1-0.1l4.2-1.1l4.3-1.5l3.9-1.4l3.7 0l3.8 1.8l3.8 2.5l4 3.3l4.8 5.8M1917.4 513.3l4.7 1.9l4.1 1.3M901.8 933.4l-3.9-3.1l-3.6-3.3M1950 522.7l3.9 4.6M1751.1 693l-1.9 4.7l0.3 4.2l2 4.2l2.5 4.2l1.7 4.2l0.7 4.1l0.5 4.1l-0.5 4.3M1038.7 705.2l-2.8-3.4l-1.5-3.8l-1.4-4.1l-2.8-3.9l-3.9-2.9l-4.5-2.2l-4.3-2.7l-4-2.7l-3.9-1.4l-3.8-0.6l-3.7-0.8l-3.6-1.1l-3.6 0.1l-4 1l-4.3 0.6l-4.4-0.7l-4.3-1.3l-4.2-0.5l-4 0.6l-3.8 0.5l-3.7-0.8l-3.8-1.7l-3.9-1.4l-4-0.8l-4.4-1.1l-4.5-1.8l-4.2-2.2l-4-2.5l-3.7-2.5l-4-2.9l-3.9-2.7l-3.7-1.3l-4 0l-4.2 0.2l-4.1-0.2l-4.2-0.2l-5.1 0M1805.7 677.3l3.7 4.6l1.6 4.3l-1.4 4.2l-3.5 4.9l-4 2.7l-4.4 2.8l-5 1.6M1585.4 537.5l-3.3 5.7M1894.7 666.3l2 4.2l1.1 4l0.3 3.7l-0.1 4M1882.9 501.7l3.8-3.5l4-2.4l4-0.5l3.5 0l3.4-1.6l3.9-3.2l4.5-3l4.4-2.9l4.2-3.5l3.8-3.6l3.7-2.6l3.2-2l2-3M1753.7 526.9l-3.5-3.3l-3.9-2.7l-2.8-3.2l-0.2-4l1.6-4.1l1.3-3.6l0.6-3.6l1-3.8l2.4-3.9l3.5-4.2l3.1-4.4l2.7-4.3l2.9-3.7l-4.2-2.7l-4.3-1l-4-1.2l-2.9-3l-1.1-4.2l-0.1-4.1l-0.9-3.8l-1.7-4.1l-1-4.2l-0.2-3.9l0.3-3.9l1.2-3.9l1.6-3.9l0.9-3.9l0.3-4.1l0.9-3.7l2.6-2.8l4-1.7l4.5-1.5l3.8-2.5l2.3-3.6l0.8-3.9l0.5-4.1l1.4-3.9l3-2.9l3.9-2.3l4.1-3l4-4.1l4.1-3.9l4.3-3.8M1565.5 749.4l4 2l4.7 2.8l6.9 3.8l1.9-2.9l3.5-2.4l3.4-2.9l3-3.4l2.8-3.8l2.9-4l3.4-4.3l3.8-4.4l3-4.3l1.4-4.8M1693.9 533l-1.5 4.5l-2.9 4.4l-3.9 4.1l-3.9 4l-3.9 4.1M1641.2 718.3l0.5 3.5l0.2 4.1M873.6 958.4l-3.9 0.4l-3.9 0.8M1854.8 502.7l-1.8-4.8l-2.9-4.3l-2.7-4l-1.4-3.8l-0.4-4.2M1439 830.3l3.2-0.5M1205.7 598l4.3 1.7l4 0.9l4 2l4.6 3.6l1.1 4l2.5 4.1M966.8 865.1l0.9-3.1l2.2-2.1l3.4 0l3.6 1.8M910.6 921.8l-4.4 0.2l-4.2 1M1367 945.4l-4.6 4.1l-4.2 4.2l-3.9 4.2l-2.9 4M1426 845l3.8-2.9l4.1-2.6l4.2-1.3l4.5 1l6 3l1.9-2.8M1329.5 483l-3.6-4.2l-2.6-4.5l-2.4-4.4M1961.1 598l4.4-4.5l3.1-4.2l1.1-3.9l-1-3.8l-2.6-4.1M1414.2 861l-1.1 4.4l-1 4.4l0.1 4.2l0.8 4l-3.2 3.8l-2.8 3.9l-1.4 4l-1.3 4.1l-2.6 4.1l-3.6 3.7l-3.9 2.5l-3.9 1.6l-4 1.5l-4.2 2.1l-4.2 1.8l-4.3 0.9M1485.5 505.5l4.1 2.8l4.1 1.5l4.1 0.6M1089.6 685.8l4.7-4.1l4.1-4l3.6-3.8l3.8-3.6l4.1-2.8l4.5-2.6l4.3-3.4l4-3.8l3.9-2.6l3.9-0.9l3.9-0.6l4 2.9M1182.3 1023.1l-4.5-2.8l-4.1-1.7l-3.7-1l-3.4-0.8l-3.9-0.1l-4.2 0.4l-4.3 0.5l-4.2 0.7l-3.9 1.5l-3.9 2.4M1370.2 482.1l-0.4-4l0.3-4.2l0.7-4.1l-3.1-3.8l-2.8-3.7l-3.1-3.6l-3.8-2.7l-4-1.2l-4.1-0.4l-3.9-0.6l-3.8-1.7l-3.8-2.6l-4.1-2.4l-4.3-1.9l-4.2-2l-3.9-2.3l-3.9-1.9l-4.2-0.9l-4.8-0.1M1474.6 497.1l3.3 0.1l3.7-1l3.8-2.6l3.2-3.8l2-5.3M998 822.9l-4.2 3.7l-2.6 3.6l-0.9 3.8l0.1 4l0.8 3.9M1401.1 882.7l-2.3 3.7l-1.8 3.6l-0.5 3.8l0.7 4.1l0.9 3.7M1424.9 498.2l5.4-6.1l3.1-1.8l3 3.8l2.6 4.1l3.5 5M917 1006.3l-3.4 2.7l-3.9 2.3l-3.9 2.8l4.6 2.9l4.4 2.6l3.8 2.7l2.5 3.5l1.4 4.1l1 4.1l0.8 3.8l0.6 4l-3.3 3.8l-3.3 3.9l-1.9 4l0.3 4.1l1.1 4.2l1.6 4.1l2.3 4l1.5 4l-0.1 3.9l0.4 4l1.8 4.2l1.9 4l1.7 4l2.1 3.9l3.1 4.1l3.8 4.5l3.9 5.7M1325.8 1049.5l4.4-3.3l4.2-1.6l4 0.6l3.9 1l4 0.3l4.2-0.4l3.8-1.2l2.7-2.6l1.5-3.7l0.2-4.4l-1.6-5.2M1966.4 590.4l3.3-5M1225.1 1053.9l0.4 3.9l0.3 3.8l0.2 4l-0.1 4.3l1 4.2l3 3.7l4.3 2.6l4.4 1.5l4.2 1.3l3.8 1.6l3.8 0.9l3.8-0.7l3-2.6l2.5-3.9l3.2-4.8M1886.9 669l0.3 4.5l0.6 4.3l-0.3 4.2l-1.9 4.9M1026.9 702.6l-4.9-3.8l-4.2-3l-3.8-1.8l-3.7-1.7l-4.2-2.3l-4.5-2.9l-3.9-1.8l-3.5 0.8l-3.6 2.4l-3.9 2.5l-4 2.3l-4.2 2.7l-4.5 3.7M1409.7 494.7l4.5-1.8l4.2-1.3l4.1 0.1l4.1 0.7l3.7-0.3M1742.9 521.9l0.6-4.2M839 1030.6l-4.8-2.8l-4.4-2.7l-3.9-3.3l-3.8-3.8l-4.1-3.8l-5.2-4l-1.9-4.2l-2-4l-2.4-4.2l-2.1-4.1l-0.1-4l1.6-4l1-3.8l-0.7-3.9l-1.8-4.1l-2.5-4.2l-1.5-3.9l0.1-3.8l0.4-3.7l-0.3-3.9l-0.3-4.1l-0.4-4.1l-1.4-4.3M1863.1 493.9l2.2-3.3M1717.5 522.5l-1 3.4l-2.7 3.8l-2.7 4.2l-1.2 4.9M1246.6 517.2l3.5 0.1l3.8 0.3l2.4 3.7M1250.2 1070l-1.5 4.2l-2.5 4.3l-3.4 4.7M1990.8 550.4l-1 4.2l-0.4 5.4M1545.9 527l3.9-0.7l3.8-1.5l3.2-2.6M1038.1 1014l2.6 3.8l2.9 4M1530.8 522.3l3.4-0.6l3.5-0.5l3.9-0.9l4.1-1.2l4.6-0.6l6.4-0.1M862.4 1025.8l-4.6-1.8l-4.4-0.9l-4-1.5l-3.7-3.3l-2.8-4.1l-1.5-4l-1-3.7l-1.3-4l-1-4.4l-1.4-4.3l-2.9-4l-4.2-3.3l-4.1-2.8l-3.5-2.6l-2.6-3.2l-2.1-3.9l-1.7-4l-1.1-3.9l-0.7-3.8l-1.1-3.9l-1.4-4l-0.8-4.4l-0.1-4.8M1110.4 669.2l4-4.3M1566.8 757l3.1-0.9l4.3-1.9M1881.7 495l4.6-2.8l4.4 0l4 3.1M1006.1 793.7l-2.2-4.3l-1.4-3.9l-0.3-3.6l0.9-3.6l1.5-4l0.6-4.2l-1-4.1l2.7-3.8l3.1-4.4l2.6-4.6M1082.2 1014.8l4.2 0.9l5.6 1.6M1305.7 1093.7l-3.8-2.6l-4.1-1.2l-4.1-0.2l-4.3-1M1994.4 538.8l4.1 0.3l3.9 0l4.4-1.3M1377.3 477.1l-3.1-3.5l-3.4-3.8M1990.7 518.2l3.4-2.3l3.7-1.4l4.3-0.9l4.3-1l4-0.8l3.5-0.9l3.6-1.6l4.1-0.8l4.5 1M1186.1 606.6l-3.7 3.7l-2.9 3.6l-1.5 4l-1.2 4.3l-1.6 4.2l-1.9 4M1557.4 765l4.2 3.4l4.1 3.4l3.9-2.3l3.8-2.1l4-2.6l3.5-2.9l0.2-3.9M933.3 1010.2l0.2 4.1l-1.1 3.9l-1.6 3.6l-0.7 3.7l-0.1 4.2l-0.8 4.4l-1.8 3.9l-2.5 3.8M1969.7 594.5l-1.1-5.2M1961.9 642l4.2-2.7l4.3-0.5l4 0.4l3.7-0.5l3.6-1.4l3.7-0.9l4.1-0.8l4.1-1.1l4.1-0.9l4.1 0.2l4.4 1l4.1 0.8l4.2 0.9l5.6 2M1698.7 718l-4.7 0.1l-4.7-0.4M958.8 1010.3l3.4-4.6l3.9-3.5l4.1-1.2l4 1.1l3.9 1.8l4.1 0.2M1262.9 482.3l3.4 1.1l3.6 1.7l3.8 0.8l4.1-1l4-1.9l4.3-1.3l5.9-0.2M1214 1050.1l-0.2 4.2l-1.4 4.1l-0.3 3.4l-2.4 3.9l-2.7 4l-2.3 4l-2.9 3l-4 1.7l-4.1 1.3l-3.9 1.2l-3.8 0.5l-4.1 0.2l-4.2 1.4l-4.1 2.8l-4 2.7l-3.7 1.6l-3.8 1.3l-4 2.5l-4 3.6l-3.9 3.4l-3.5 2.8l-2.9 3l-2.7 3.5l-3.4 3.9l-3.9 4l-3.8 3.7l-3.7 3.6l-3.1 3.8l-2.9 4.2M1153.3 625.1l7.7 4.5l1.3 4.2l3.4 3.4M958.1 861.2l-1.2-3.4l-0.6-3.8l0.5-3.9l-0.1-3.8l-1.7-4l-2.6-4.2l2.2-3.6l2.9-1.4l3.8 1.4l4.2 2.2l4.3 1.3l4.1 1.4l3.5 2.9l2.7 4l1.3 4.1l-0.7 4M926.2 885.3l1.8 4.8l2.9 4.3l3.6 3.9l3.9 3.9l4.7 3.9M1237 530.8l3.3 3.5l1.7 3.4l1.3 3.6l2.4 4.7l3.9 0.9l4.1 1.9l4.2 1.3l3.9 1.2M1365.2 974l4.4 3.7l4.4 3.8M894.1 1017l3.9-3.1l3.7-1.3l4.1 1.5M1766 514.4l-1.2-4.2l-2.8-3.2l-3.4-2.5l-1.5-2.9l1.2-3.5l3.2-4.1l3.8-4.1l3.6-3.7l-2.8-4l-3.7-4.1M1997 523l4.7-5.1l4.7-5.3M1685.1 525l-3.7 4.7l-3.8 4.4l-4 4.2l-3.9 3.4l-3.9 1.9l-4.1 0.9l-3.8 0.9l-3.6 0.6l-3.9 0.4l-4.5 1.3M1929 685.3l-3.6 2.8l-3.4 0.3l-3.8-1.4l-4.1 0l-4.2 2.4l-4.2 3.6l-4.1 3l-4.3 1.6M1041 694.5l-3.2-4.5l-3.5-2.9l-3.7-0.9l-4.3 0.9M1241.2 1074.5l1.1 4l0.5 4.7M1817.8 506.8l0.2-4.4l-0.2-4.2l-0.4-4.1l-1.2-4.1l-2.2-4.2l-2.3-4.1l-0.3-4l1.5-3.9l2.2-3.6l3.3-2.8l3.8-2.5l3.3-3.1l3.3-3.6M1057.7 1022.6l1.6 3.8l2 4l2.2 4l3 3.8l3.7 3.5l3.9 2.5l4.1 1.3l3.9 1.7l2.9 3.1l2.2 4l2.6 4.1l3.5 3.9l3.1 3.7M987.1 825.3l-4.5 0.8l-4.2 1.2l-3.5 2.5l-1.5 4l0.5 5.6M1137.6 1017l4.6 5.2M1330.9 1070.2l3.1 3.5l3.9 2.6l4.5 1l4.2-0.3l3.9-0.4l3.7 0.1l3.8-0.4l3.8-0.2l3 1.9l2.4 3.5l3 3l3.8 1.6l3.7 0.9l4 1.2l5.3 1.7M1839.1 497.5l-2.3-3.5l-1.8-3.8l-0.8-4l-0.1-4.1l-0.1-4.1l0.2-4.6M1345.3 1022.1l4.2 1.1l4.1-0.5l4-1.5l4.1-1.4l4.6 0M1673.5 526.1l-3.7 3.9l-3.9 3.7l-4 2.9l-4 2.6l-3.8 3l-3.7 4.2M982.7 1014.4l3 2.5l3.4 2.4l3.1 3.2l1.5 3.8l-0.4 3.7l-0.4 3.9l1.7 4.1l4.6 3.9M1969.8 607l4.3-4.8l3.6-4.4l1.4-4l-0.4-3.9l0.3-4.1l1.8-4l1.5-4.1l0.1-5.3M1521 790.3l7.6 0.1M826.6 1010l-4-4.2l-2.6-4.1l-1.4-3.9l-1.9-3.8l-3-3.9l-3.2-4.2l-3.6-4M1570.4 522.2l-4.3-0.1l-4.4 0l-4.9 0.1M1014.8 709.8l-4.4 0.4l-4.4 0l-4.4-0.2l-4.1-0.1l-4-0.2l-3.9-0.3l-3.8 0M1738 514.8l5.3-1.1M1645.4 525.8l0.3 4.6l0 4.1l-0.9 3.2l-2.5 1.6l-4 0.1l-4.9 0.7M1649.4 525.6l-3.7 4.8M1010.6 737.4l-4.8-3.5l-4.4-2.5l-3.7-2l-3.5-2.1l-3.8-2.4l-4-2.9l-3.8-2.8l-3.9-2.5l-3.9-2.8l-3.3-3.9l-2.8-4.4l-3.1-4.5l-3.6-4.8M1485.6 805.9l1.7 4.4l1.5 4.1l1.1 3.8l0.4 3.8l0.9 3.4l2.6 2.3M1210.7 574.4l4 4.1l3.8 3.5l3.7 2.6l3.5 2.4l1.5 3.2l-1.4 3.7l-2.3 4.1l-1 4.1l0.1 4.1M1786.2 706l4.2 3.8M1157.4 1026.5l-3.5-0.5l-3.4-0.1l-4.1 1.1l-5.6 2.7M1354.4 466.6l-4.3-0.6l-4-1.4l-4-2.4l-4.1-2.5l-4.2-1.3l-4 0.1M1237.9 505.8l4.2 1.7l4.4 1.2l5.4 1.9l0 3.6l2 3.4M1137.9 634.3l-2.4 4.2l-1.6 3.8l-1.3 3.6l-1.2 4l3 3.7M1389.5 927l-1.9 3.4l-1.5 3.9l-1.8 4.1l-2.7 3.9l-3.7 4l-4 3.8l-3.7 3.9l-2.6 4.2l0 4.3l2.6 4l3 3.9l2.7 3.8l4.4 3.6l2.1 3.8l2.2 4l0.3 4.4M849.3 974l-3.6-4.2l-2.5-4.2l-1.1-4l-1.4-3.8l-2.8-3.9l-4-4l-4.5-4.2M1077.8 1021.1l4.4-1l4.5-1.4l5.3-1.4M1513.4 506.1l0.7 3.6l0 3.8l-0.2 4.1l-0.1 4.3l0.4 4l1.5 4l2.8 4.6M1606.6 745.6l2.6-4.2l1.1-4l1-3.5l2.5-2.6l4-2.3l4.2-2l4.2-1.4l4.2-1.4l4-2.2M993.5 801l1.3-3.6l-1.2-3.6l-2.4-3.8l-1.3-4l-0.4-4.1l0.2-4l1.3-3.6l2.8-2.5l3.8-1.5l3.7-1.6l2.9-2.7M1410.2 893.4l-5.9 0.4M1957.3 506.6l-0.7-5M802.9 1030.1l3.6-1.5l5-2.1l1.3-3.8l1-4l0-4.3l-1-4.2M1970.9 630.5l3.6 1.1l3.8 0.5l3.7 1.1l3.4 3.2M1858.1 681.7l-4.6 5.4M1822.9 690.2l-2 3.5l-3 1.4l-3.8-0.5l-4.1-0.5l-3.9 1.2M1665.5 522.5l-3.7 4.1l-3.5 3.9l-3 3.8l-2.7 3.8l-3.1 4.3l-3.6 5.3M845.2 1042.1l-2.8 3l-3.9 0.2l-4.1 0.2l-4.1-1.1l-3.1-2.8l-2.4-3.8l-2.9-3.7l-4-2.9l-3.8-2.2l-2.6-2.5M1774.5 505.4l0.1-3.8l-0.1-3.7l-1.1-3.8l-2-3.9l-2.5-4M1335.1 1109.6l2.9-0.8M1165.8 610.9l2.2 3.8l1.2 3.6l0.9 3.8l1.3 4.1l1.9 4.2M1413.8 482.4l5.2-1.2l3.1 2.8l3.7 1.7l4 1.7l3.6 2.9M1969.9 650.2l3.8-0.2l4.1-0.1l4.2-0.1l4.2-1l4-2.8l4-3.9l3.9-4.4l3.7-3.9M1906 686.6l-2.8 3.8l-4 4M1958.9 698.2l1.6 4.2l0.9 3.9l0.4 3.5l0.5 3.8l0.7 4.1l1.1 3.9l2.3 3.1l3.6 2.2l4 1.8l3.4 2l1.8 3.4l0.8 4.4l0.9 4.3l0.7 3.8l0 3.5l-0.7 3.5l-1.2 4.1l-1 4.5l-0.5 4.2l-1.3 4l-3 3.8l-4 2.6l-4.1 1.3l-4 1.3l-3.6 2.9l-2.7 4l-2.1 4.2l-1.9 4.1l-2.3 4.1l-3.1 4l-3.8 4.1l-4.1 4l-4.2 3.8l-4.3 3.8l-4.1 3.8l-3.7 3.8l-3.2 3.9M997 1022.3l-3.3 4M1561.5 774.8l4.2-3M1205.2 1054.5l4.5 1.5l2.7 2.4M1121.5 645.3l4.7-3.1l2.9 3.6l2.3 4.1M1077.1 673.6l-0.8-3.3l-2.6-3.3l-4.1-1.7l-4.9 0.3M1970 506.8l2.4-4.8l1.5-4l1.7-4l2.6-4.9M1094.2 666.5l-0.1-3.9l0.2-4.2l0.5-4.4l1.2-3.9l2.6-2.5l3.7-1.1l3.8-0.6l3.6-1.3l3.9-1.7l4.3-1.7l4.4-0.7l3.9 1.7M1381.8 953.8l0 4l-1.2 3.8l-1.3 4.1l-0.3 4.1l0.4 4l0.9 4M1873.1 479l0.3-4.8l-0.6-4.6l-1.3-4.2l-1.5-3.9l-1.7-3.8l-2.9-3.7l-3.8-3.7l-3.6-3.8l-2.7-3.9l-1.3-4l0-4.1l0.2-4.1l-0.5-4l-1.2-4l-0.2-4.5l2.3-4.9M865.8 938.7l-3.4-0.4l-3.9 0.8l-4.3 1.3l-4.4-0.2l-4-1.3l-3.7-0.8l-3.7-0.1l-3.9-0.1l-4.1 0.1l-4.2 1.2l-4.1 3l-3.9 4M1465 481.7l4.6 0.3l4.2 0.3l3.8 1.5M1474.9 821.2l3.4 0.9l5.1 0.1l2.9 4l3.7 3.1M1429.2 870.9l-3.8-1.9l-3.7 0.4l-3.5 2.2l-2.7 3l-2.5 3.4M1061.1 678.3l2.3-4.4l2.5-4.3M1630.5 742.7l3.5-4l4.8-4.3l1-4.2l2.1-4.3M1762.3 713l-1.6 4.7l-3.8 5M1230.7 1081.7l3.5-1.3M1599 517l1.7-3.5l1.3-3.5l1.5-3.6l3-2.6l4-1.1l3.9-0.1l3.5 0.4M1470 827l4.1 5.2M874.5 930.5l-4.8-5.6M1233.3 490.2l4.1-0.8l4.4-0.9l4.3 0l2.8 2l1.1 3.7l0.8 4l1.4 3.9l0.5 4.3l-0.8 4.2M1502 805.7l0.5 4l0.1 4.1l-0.4 4.6l-0.8 5.8M1357.4 1018.1l4.3 1.7M1100.9 1026.6l0.7 3.4l0.1 3.8l-1.8 4.2M1281.1 1098.9l-3-2M1401.6 473.6l4-3.8l4.3 1.9l3.7 2.8l2.9 3.3l2.5 3.4M1210.8 561.1l3.5-1.5l3.8-3.7l3.8 0.2l2.8-2.3l2.6-3.5l3.1-2.5l3.6-0.6l3.9 0l4-0.6l3.8-0.6M1482.3 817.6l1.1 4.6M1669.9 734l4-4.5l4-3.9l4-2.6M1993 573.8l-3.5-4.2l-3.7-4.1M1313.1 1113.6l-2.9 4.7l-2.7 4.1l-2.4 3.8l-1.8 3.9l-0.9 4.1l-0.1 4.2l-0.2 4.2l-1.3 4.3l-2.8 5.1l-4.1 2.6l-5 3.5M1978.2 619l4-3.6l4-2.8l3.9-2.8l3.9-3.6l3.8-3.8l4.2-3.9l5.3-4.4M1326.9 462.3l-5.1-3.7l-5.5-3.8M1912.9 693.8l-3.6-0.3l-3.6-0.5M1375.1 461.2l-5.2 0.5l-5 0.6M1925.7 491l2.5-5l1.4-5.4M1033.4 682.3l-3.6-2.4l-3.6-1.2l-3.8-0.3l-4.2 0.1l-4.7 1M1181 590.9l-3.1-2.3l-3.4-2.2l-3.9-1.7l-4.1-0.2l-4 2.1l-3.9 2.7l-4.1 2.3l-3.8 2.4l0.4 3.8l-0.4 3.9l-0.2 3.9l1.1 3.9l2.7 4.2l3.5 4.1l2.8 3.8l0.7 3.8l-0.3 4.2M806.3 1013.4l-1.7-3.6l-2.3-4.2l2.9-4l1.3-3.8M1367 1008.9l3.6-0.1l3.9-0.8l4.2-1l4.8 0M997.2 753.5l-3.5-3.5l-4-3.1l-3.8-2.7l-2.5-2.7l-1.3-3.3l-1.3-3.9l-2.7-3.9l-3.7-3l-4.1-2.4l-4.3-2.9l-4.1-3.8l-3.8-4.2l-3.9-4.3l-4-4.2l-4-4.4l-4-4.3M978.1 1026l3.4 3.6l4.5 2.8l6.9 1.5M833.1 981.8l-3.6 0.5l-4 1.4M1738.9 502.2l4.1-1.4l4.8-2.2M1870.4 690.4l-2.9 3.7l-2.8 3.7l-4.2 4M842.1 1048.9l-3.6-3.6M1810.3 493.3l0.3-3.2l0.2-4l0.9-4.4M1373.2 997.5l4.7-1.2M1949.4 492.9l4.8 0.3l4.2 0.4l3.8 0.6M1257 465.3l4.6-2l5.6-1.1l2.8-3.9l3.3-4.3l3.2-4.2l3-3.8l3.1-3.4l3.6-2.9l3.8-2.7l3.7-2.7l4-1.4l4.6 0.4l5.8 1.2M1041.4 677.8l5.9-4.2M1386.7 461.3l4.2-3.3l2.7 4.1l3.7 3.6l4.1 2.4l4.2 1.7M1213.7 546.2l-3.5 5l3.9 2.4l4 2.3M1711 501.1l-1.2-4.6l2.7-3.2l2.6-3.6l3.1-3.7l3.9-3.8l4.3-4.1l3.9-4.3l3.5-4.1l2.4-4l1.1-3.9l0.4-4l1.4-4l3.1-4M1345.2 1066.7l5 1.2l4.6 2.3l3.8 2.7l3.2 3.2M945.3 850.3l0.8-5.2l3.7-3l2.6-4M1946.2 705.9l4 4.1l3 3.9l1.5 3.9l1.3 3.6l2.9 1.6l5.2-1.4M1861 470.6l-2-4.8l-0.9-4.1l0.6-3.8l1.6-3.8l1.3-3.8M1293.9 1110.3l-4.3 0.8l-3.9 2.4l-3.8 2.8l-3.8 1.5l-3.9 0l-4.1-0.9l-4.2-0.1l-3.6 1.4M1737.8 726.9l4.4-0.9l4.1-0.3l4.8 1.1M1589.5 509.6l1.6-3.7l2.3-4l2.5-4l1.5-3.9l-0.3-4.2M1090.6 656.9l4.2-2.9M1682 737.1l2.3-3.1l2.6-3.8l3.3-4.9M1805.3 709l-3.4-0.8l-2.6 1.7l-1.4 3.7l-1.6 4l-2.6 2.6l-3.9 0.4M1410.7 917.4l-3.2-3.5l-2.7-4l-2.9-4.2l-3.8-4.1M1320.9 1126.9l-3.6 3.3l-3.8 2.4l-3.7 1.6l-3.7 1.7l-3.8 2.5M829.4 1055l0.5-4.8l0.4-5.8M1289.6 462.6l4.7-4.5l4-4.3l3.6-4.1l4.1-4.1l5.4-3.8M1570 782.4l1.5-4.4l2.6-4.1l3.5-3.7l2.6-4l0.7-4.3M1281.2 462.2l4.5-4.1l4-4l3.8-4.1l3.8-4.6l4-2.3l3.8-2.4l3.9-2.7M1977.8 690.2l4.2-0.3l4 0l3.8 0l4.1 0.3l4.1 0.1l3.8-1.2l3.9-2.8l4.1-3l4-2.7l3.6-2.9l3.9-3.5l0.2-3.8l0.4-4l0-4.1l-0.3-4.4l-0.1-4.4l0-3.8l-0.5-3.4l-1.1-3.7l0.2-4.1M998.7 695.1l-4.5-0.5l-4 0.5l-3.8 1.2l-3.9 0.2l-4-0.5M1703.1 502.1l3.5-2.8l3.2-2.8M1729.4 729.4l4.5 5l3.7 5.6M893.8 1037.7l4.2 1.6l4 2.7l3.9 2.6l3.7 2.2l3.2 2.8l3.6 3.9M810.2 1045.6l-1.5-3.4l-2.4-3.9l2.6-3.9l1.5-4l1.1-3.9M1458.7 850.5l1.5-4.8l2.1-5.7M1210.5 1073.5l-5.8 0.2M1650.4 747l-1.5-4.5l-1-4.3l-0.6-4.9l-1.2-7M1590.8 770.9l-4.8-6.1l-5.1-2.9M1405.4 466.1l4.5 5.6M1257.7 1098l0.4 3.5l1.7 3.8l4.1 4.2M1926.8 706.1l-4.8 3.6l-4.4 3.9l-3.8-0.1l-3.3 1.2l-2.7 2.8l-2.6 3.7l-3.3 3.1l-4 1.1l-4.2-0.7l-4-1.2l-3.8 0.3l-3.7 2.1l-3.8 3.1l-4 3l-4.1 2.7l-3.8 3.4l-3 3.8l-2.6 3.7l-2.9 3l-3.2 2.5l-3.2 2.9l-3 4.1M1454.1 859.1l-1.2-4.6l-2-4.4l-1.9-4l-0.4-3.9M794.3 1014.8l4.2-4.9l3.8-4.3M1501.4 481.3l-2.6-3.2M1593.4 769.1l-3.6-2l-3.8-2.3M870.9 1049.9l3.1 2l3.4 1.1l3.8 0.7l4.3 1.6l4.4 2.8l4.1 2.4l3.9 0.9l4-0.9l3.9-2.2l4.4-2.6l6.2-2.2M1173.2 1050.8l1.3 3.9l0.9 3.7l0 3.7l0.1 4.1l0.4 4l0.2 3.6l0.5 4l1.1 5.2M2018.8 493.7l-4.8-5.5l3.9-2.5l4.1-2.7l4-2.4l3.8-2.4M1981.4 705.9l0.5 3.9l1.2 4.1l1.2 4.3l-0.5 4l-2.4 3.8l-4 4.7M1021.7 1037.9l-3.4 2.8l-3.9 0.6l-4.3-0.3l-4.3 0.6l-3.9 1.9l-2.9 2.6M1437.6 469l1.8 5l1.4 4.2l-0.3 3.8l-2.6 3.8l-4.5 4.5M1787 491l-4.3-2.8l-4.5-1.6l-4.5-0.5l-4.8 0.1M830.8 973l-4.7 1l-4.4 0.3l-4.4-0.3M1361.7 449.8l-3.7 6.2M1845.9 470.6l-3.9-4.2l-3.8-2.9l-4-1.1l-4.6-0.1M1569.1 502.2l1.9 4.5l2.7 4.5M769.2 1042.2l-3.9-0.1l-3.8 0.2l-3.7 1.3l-3.6 3.4l-4.3-2.4l-4.2-2.9l-4.1-3.8l-3.9-3.7l-3.9-2.5l-3.6-0.9l-3.6-0.3l-3.9-0.6l-3.5-1.3l-1.9-2.6l-0.1-3.7l-0.7-4.2l-2.6-4.2l-3.2-4l-2.1-3.8l-0.7-3.8l-0.5-3.8l-1.9-3.8l-3.4-3.1l-4.1-2.4l-4.2-1.5l-4.3-0.1l-4.1 1.2l-3.8 1.2l-3.5 1.4l-3.7 2.6l-3.9 2.3l-4.2 0.2l-4.3-0.9l-4.3 0.3l-4.1 1.1l-4-0.6l-3.5-2.7l-2.7-3.6l-1.4-3.9l-0.1-4.2l1.2-4l2.8-3.8l3.5-3.9l1.9-3.9l-1.3-3.5l-3.6-2.6l-4.1-1.4l-4.1-0.3M1773.1 489.3l-4.2-3.1M2002.4 493.4l3.6-2.4l4-1.4l4-1.4M942.9 1033.8l-4.5 0.6l-4.2 0.2l-5-0.5M914.5 865.7l2.3-3.5l2.5-3.5l3-3.1l3.7-2.6l4-2.9l3.9-2.5l4-1l4.1-0.3l4.1-1.2M1369.5 1022.8l4.6-6.5M1145 601.6l5.5 4M1425.2 901.3l-3.3 1.7l-3.8 1.9l-4.2 1.4l-4.2-2.5l-3.8-1.1l-3.7-0.4l-4.1-0.7M1478.7 466.8l-1.6 2.6l2.2 4l1.5 4.6l1.1 5.9M1545.4 498.2l4.5 3.7l4.3 4.1l4.1 4.1l4.3 4M1906.7 474.6l3.9-4.7l4-4.3l3.9-2.6l3.9 0l4.2 1.3l5.7 1.4M1212.9 526.4l4.9 3.3l4.5 4l4.8 4.6l3 4.1l3.9 4.8M1636.9 753.7l1.3-3.8l1-3.9l0.3-3.8l-0.4-3.8l-0.3-4M886.5 1045.1l3.4 0.7l3.8 0.6l4.1 1.1l4.4 2.5l4 3l4 2.7M1490 469.2l-1.7 4.3l-2.8 4.8l-3.6 5.6M861.8 922.2l0.4 4.8M1985.6 657.3l4.2 6.1M1141.6 1042.6l-4.3-2.3l-3.7-3.8M1557.8 801.9l2.8 4.6l2.5 4.2l2.2 3.8l2.4 3.3l2.8 2.5l3.4 1.7l4.1 1.9l4.1 2.9l3.9 4.4l4.2-2l4-0.6l3.7 1.3l3.7 2.2l4 1.5l4.3 0.3l4.4-1.4l4.1-2.4l3.7-1.2l3.6 0.5l3.8 1.4l4 1.8l4.1 2.1l4 2.2l4 1.7l4.2 0.5l4.4-1.3l4.2-1.1l3.9 0.7l3.6 2.1l3 3l2.7 3.9l2.9 4.2l2.9 4l1.7 3.8l-0.3 3.5l-1.5 3.3M1198.4 1068.9l-3 5l-1.7 5.8M1306.1 453.8l4.3-4.2l4-3.6M1177.5 578.3l-3.5-3.7l-4-2.7l-4.3-1.3l-5.1-0.6l-3.3 3.5l-3.8 3.8l-2.5 4.2l-0.9 4.3l0 4.3l0.6 3.9M950 834.9l4.6-0.4M774.9 1021l-4.7-1.9l-4.3-1.9l-4.1-2.8l-3.3-3.8l-2.4-4.2l-2.6-4.4l-3.4-4.3l-3.7-3.9l-3.9-3.6l-4.2-3.2l-4.3-2.7l-4.3-2l-3.7-2.1l-2.4-3l0.2-3.2l2.5-2.4l3.7-1.5l4.2-1.7l4-3l2.7-3.8l1.3-3.9l1-3.6l1.7-3.5l2.3-3.8l3.1-4.4l3-4.7l2.1-4.3l0.7-4l-0.4-3.9l0-4l0.8-3.9l1-3.6l0.9-3.5l1.6-3.9l2.7-3l4-1.3M1302.7 1122.6l2.4 3.6M1581 781.6l-0.4-3.6l-1.3-3.7l-1.7-4.1M961.5 817.8l-3.8 3.7l-2.6 4.7l2.4 6.9M1438.5 886.3l-4.6-0.4l-3.9-1l-3.7-1.5l-4.1-0.5l-4.3 1l-4.2 1.3l-4 1.7l-4.1 2.8M1462.4 467.1l1.4 3l2.8 2.7l3.6 2.5l3.7 3.3l3.7 5.2M1997.6 597.6l4.5-3.5l4.1-4M1917.8 710.8l-4 2.7M849.2 1062.8l0.7-4.8l0.2-4.4l-1.2-4l-2.9-3l-3.6-1.5M1337.7 445.9l-3.4 1.2M1661 501.2l-3.6 4.8l-3.6 3.2l-3.9 1l-4.1-0.2l-4-0.1l-3.9-0.1l-3.8-1.3l-3.5-2.7l-3.5-3.8l-4.7-4.4M901.8 874.2l-3.5 3l-3.6 2.4l-2.8 2.8l-0.9 3.8l0 4.1l-0.6 4l-0.8 3.9l0.2 4.1l1 4l1.7 3.9l0.8 4l-1 3.8l-2.5 3.3l-3.7 1.4l-4.2-1.1M1094.8 1042.3l4.2 4.1M1285.2 454.7l4.2-4l4-3l3.9-2.3M1169 1055.1l5.5-0.4M1965.1 486.8l4.7-0.8l4.3 0.8l4.1 2.3M1929.4 714.1l-3.8 0.3l-4-0.3l-4-0.5M1530.9 813.8l3.1-3.8l3.5-3.6l2.5-3.7l0.2-4.1l-1.4-4.3l-2.1-4.1l-3.4-2.7l-4.9-1.1M818.3 981.3l-1.3-3.4l0.3-3.9M1107 634.2l3.1 1.4l3.7 2.5l4.1 3.1M714.7 1045.9l-4.1-4.1l-4.3-3.6l-4.1-2.4l-3.9 0.1l-3.7 2.3l-3.9 2.5l-4.2 1.6l-4.2 1.4l-4 1.5l-4.1 0.7l-4.2 0l-4-1.3l-3-2.8l2.1-4.1l2-4.2l0.8-3.9l-0.9-3.8l-2-3.9l-2.8-3.9l-2.8-4.2l-1.5-4.2l-0.6-4.1l-1.2-3.9l-2.5-4.6M1582.9 497.3l3.7 0.5l3.4 0.3M1214.2 511.1l3.8 3l2.8 3.5l1.5 4l0.9 3.9l1.1 4.2l1.2 4.3l1.6 4.3M1989.5 714.5l-5.2 3.7M914.9 1041.4l3.1 1.9l3.6 2.3M1886.9 462.9l-0.1-4.7l0-4.4l0.5-4l1-3.9l-0.1-3.9l-2.5-3.1l-3.9-2l-4-1.3l-3.9-1l-3.4-1.7l-2.1-3.2l-0.8-3.9l-1.8-4l-3.2-5M1406.2 946.2l-4 3.9l-4.1 3.9l-4.1 4.2l-3.6 4.1l-2.8 3.9l-1.2 3.9l0.6 4.3l0.9 4.2l-0.6 3.8l-2.7 3.2M1202.3 541l4.1 4.6l3.8 5.6M831.1 961.6l-4.7-3.8l-4.3-4l-3.8-3.9l-3.8-3.7M1193.2 554.1l4.8-2.9l4.4-1.3l3.9 0l3.9 1.3M1129.5 1046.7l-3.3-0.5l-4-1.4M1989.6 674.8l3.9-4.6l3-4.4l1.9-4.6M1018.4 1046.7l-4-5.4M1322.8 1142.2l-4.7 2.1l-4.3-0.2l-4.2 2.1l-3.9 2.6l-3.7 1.7l-4 1.5M1990 486.5l-1.4-4.9M1214.7 490.9l3.4-4.7l2.5-4.3l1.1-3.9l1.5-3.7l2.9-2.7l3.8-0.3l3.9 1.3l4 1.4l4.4 1.3l4.2 1.2l4.1-0.1l4.1-1.4l3.9-2.2l3.6-3l2.8-3.7l2.3-3.9M1113.9 621.2l-1 4.9l1.8 4l3.8 4.2l3.8 6.2M1994 647.1l0.2-5M986.6 701.4l-4.1-4.9M1778.3 733.2l-4.1-1.4l-4.3-3.7M962.7 1041.2l0.6 4.7l0 4.2l-1.4 4.5l3.9 1.8l3.8 2.6l4.2 3.4l4.2 4.1l4 4.1l4 3.9l4.6 3.7M1357.8 1107l4.1-0.5l4.1-0.5l4.3 0M1350.2 1137.3l1.5-3.2l2.3-3.8l2.7-4.7l2.2-6.5M1338.7 1150.7l-4.4-0.8l-4.1-0.4l-3.9-0.9l-4.1-2.1l-4.1-2.2M1670.2 754.6l4.2-1.5l3.9-0.8l4-0.6l4.1 0.4l4 1.2l3.8 0.8l4 0l4 0l1.1-3.8l-1.3-4.1l-2.2-4.5l-1.1-4.1l0.9-3.8l2.6-3.7M1997.7 729.9l-3.8 1.4l-3.9 1.6l-4.6 0.8l-6.2 0.4M750.9 1026l-4.3 1.1l-4.3-1.7l-4.2-3.7l-4.2-4.1l-4.4-3.8l-4.1-2.9l-3.8-2.3l-2.9-2.6l-2.1-3.4l-3.2-2.8l-6-1.3M805.7 1056.9l-1.2-3l-1.6-3.8l-0.7-4.2l1.3-3.9l2.8-3.7M1081.6 645.4l-0.7-3.6l-2.5-4l-4.5-5l-3.9 2.1l-4.2 1.7l-4 1l-3.8 0.3l-3.7-1.1l-2.7-2.8l-0.7-4l0.1-3.8l-1.8-2.4l-3.8-0.1l-4 1.6l-3.9 1.9l-3.9 1l-3.9 0.5l-3.7 0.7l-3.6 1.4l-3.9 1.6l-4.2 0.7l-4.6-0.9l-5-1.9M1433.4 906.5l-3.4 2.6l-3.7 1.3l-4.1 0l-4.1-1.3l-4.2-2.8M1033.6 1050.5l0.6-4.3l0.9-4.2l0.6-3.9l-0.2-4l-0.5-4.1l0.7-3.8l2.6-1.4l4.6 1.4M1848.9 709.4l6.5 4.5M858.3 914.1l-4.5 1l-4.1 0.7l-3.6 0.7l-3.8 2.4l-4.4 6.2M777.9 1009.8l-1-4l-1.7-3.9l-0.8-3.9l1.1-4l2.6-4l2.7-3.9l2.8-4.1l3.4-4.3l-1.9-3.8l-1.2-3.8l-0.6-4.2l-1.6-4.3l-3-4.1l-2.8-3.8l-1.6-3.8l-0.5-3.7l-0.1-3.6l-0.1-4.1l0.1-4.4l0-4.5l0.3-5.2M981.9 1045l3.9 4.8l4.2 4.3l5.5 4.1M1821 469.7l4.9-1.4l4.8-2M1146.4 589l4.3 5M1429.1 918.4l-1.1 3.4l-1.9 4.1l-3.5 1.5l-2.3 3l-1.2 3.9l-0.9 3.9l-0.8 3.8l-1.2 4.2l-2.8 4.4l-4 4.2l-3.9 3.7l-3.3 3.6l-1.6 3.8l0.3 3.8l0.8 3.9l0.1 3.9l-0.2 4.1l0.1 4l0.3 4.3l0.8 4.6l0.6 4.3l0.5 3.9l1.6 4.5M1838.1 713.1l-1.6 4.8l-0.6 4.4l1.1 4l2.7 3.9l3.6 3.8l4.9 4M1746.6 482l0.3-4.2l-2.4-3.6l2.5-4M1993.8 673.3l2.3-3.7l0.4-3.8M1363 1131.1l-6.3-5.5M1769.9 477.7l-3.6 0.2l-3.9 0.2M1555.1 817.8l3.2 2.4l3.6 2.5l3.9 3.1l4.3 4.2l3.7 0.9l3.9 1.7l4.4 1.6l3.9-3M1182.6 1069.8l0.2 3.8l0.1 3.8l-1 4.2M1362.3 1086.1l4.9-4.6M1738.1 481.6l3.6-3.7l2.8-3.7M1629.3 494.9l-6.9 2.7M1654.9 494l-4.5 3l-4.4 2.2l-4.2 1.6l-4 0.7l-3.9-0.7l-4.6-1.6l-6.9-1.6M1009.3 662.3l-3.6 1.8l-3.8 1.2l-3.8 1.2l-3.9 1.6l-4.1 0.7l-4.4 0.1l-4.2 2l-3.6 4.4M1557.9 819.1l4 3.6M1006.5 1049.8l-4.3 3l-4.2 1.4M1405.3 449.4l-2.5 4.5l-1.9 4.3l-1.8 4l-1.8 3.5M1057.8 1057.5l4.6-2.1l5.5-2.1M1285.2 1126.7l-1.8 3.1l-0.8 3.8l0.3 4l0.7 4.2l0.4 4.2l0.7 4.2l1 5.2M1497.5 462.6l3.8 3.3l4.2 1.5l5.4-0.9M2023.1 573.6l-5.1 4.4l-4.4 4.1l-3.7 3.7l-4.1-4.1M787 1001.9l0.4-4.1l1.1-3.8l0.9-3.7l0-4l-0.7-4.4l-1.7-4.2M959 807.1l-4.5 3.3l-4.8 3.9l2.8 3.5l1.5 3.7l1.1 4.7M841.2 922.4l-3.3 2.7M1618.5 774.4l3.5 3.2l4.1 4l4.1 4.7l3.4 5.3l4.1 1.5l4.1 0.9l4.2 1.2l4 2.6l3.9 3.8l4 3.8l4.4 2.6l4.4 0.5l3.9-0.2l3.7 0.3l3.5-0.5l3.3-2.5l2.7-3.9l1.7-4.1l0.7-3.9l1.1-4l2.8-4l4.2-3.9l3.8-3.7l2.6-3.9l0.7-4l-0.9-4l-0.9-3.9l0.5-4.2l2.1-4M1510.2 829.5l-4.8-6M989.6 1049.9l0.4 4.2M1206 1094l2.7-4.5l0.2-4.2l-2.7-4.1l-4.4-4.5M1177.7 562.5l-3.6-5.9l-3.9 2.5l-3.8 3.3l-3.1 3.8l-2.7 3.8M1127 602l-4.7-2.5l-4.1-1.3l-4.1-0.6l-4.2-1.3l-4.3-2.6l-5-3.5l-1.3-3.7l-1.2-4.3l-0.3-4.5l0.9-4.3l1.7-4l1.4-4l0.6-3.9l1-3.7l1.5-3.6l0.6-3.7l-0.7-3.9l-0.8-4.1l-0.5-4.2l0.2-4.4l0.5-4.4l-0.4-4l-2.1-3.8l-2.4-3.9l-1-3.7l0.3-3.9l0.1-4.2l-1.4-4.3l-2.2-3.9l-1.6-3.9M1457.1 877l5-3.7l4-3.7l2.8-3.7l2.3-3.5l3-3.9l3.5-4.4l3.6-4.4l3.1-3.8l1.7-3.6l0.6-3.9l1.2-4.4l2.1-4.7M1198.1 1084.9l0.6-3l-0.9-3.5M1405.8 970.6l-4.1 3M662.1 1093.1l4 4.7l3.9 2.9l3.7 0l3.9-1.3l4.2-0.7l4.4 0.9l5.4 2.5l1.1 4.1l1.1 4.1l0.5 3.9l0.6 3.8l0.2 3.8l-0.4 4.2l-0.7 4.3l-0.5 4.1l-1.1 3.9l-2.5 3.8l-3.8 3.9l-4.1 3.8l-3.1 3.9l-1.4 3.9l-0.3 4.1l-0.8 4.3l-1.1 4.4l-0.7 3.9l-0.3 3.5l-0.3 3.7l-0.9 4.2l-0.3 4.3l1.7 4l3.1 3.9l2.8 4.2l1.4 3.9l0.2 3.6l-1.1 3.7l-2.7 2.8l-4.1 1.5l-3.9 1.5l-3.1 2.8l-2.7 4l-3.3 4.3l-3.7 3.9l-4 3.6l-3.7 3.9l-3.6 4.4l-3.9 4l-3.9 1.7l-3.2-1.6l-2.2-3.8l-1.9-4.2l-2-4l-2.3-4l-2.3-4.1l-2.7-3.1l-3.6-2l-4.1-1.3l-3.8-0.3l-3.6 0l-3.8-1.4l-4.4-2.2l-4.4-1.6l-4.1-1.3l-3.9-2.6l-3.9-3.6l-4.1-2.9l-4.2-0.8l-3.9 0.9l-3.8 2.6l-3.2 3.7l-2.2 4.1l-1.7 3.9l-1.3 4l-0.9 4l-1.1 3.8l-2.5 3l-4 1.8M915 851l2.8-0.6l3.6 0.8l4.6 1.8M889.1 874.9l0.6 3.4l2.2 4.1M1989.6 739.1l-4.2-5.4M2033.5 534.6l4.2-6.3l-3.8-1.8l-3.6-2.1l-2.9-2.5l-2.6-3.9l-2.8-5.4M1193 539.1l-2.9 1.8l-3.3 2.1l-3.5 3.3l-4.3 4l-1.6 3.5l-3.3 2.8M1809.6 729.9l4.2 0.2l4.4 0.1l4 0.8l3.9 1.7l4 2.1l4.3 2.6l3.9 3.2l3.9 3l4.2 2.8M2011 741l2.8-3.5l1.9-3.5l1.1-3.5l2.2-2.8l3.6-1.8l3.9-1.2l3.7-0.8l3.5-0.7l3-1.9l2.7-3.2l3.8-4l-1.4-3.8l-1.6-3.9l-2.7-3.9l-3.8-4l-4-3.3l-3.6-2.7l-2.3-2.9l-0.9-3.6l-0.3-4l-0.7-3.9l-0.6-3.9M781.9 1057.5l-4 1.9l-3.8 0.1l-4.4 0.2l-5.9 2.1l-0.7-3.7l-2-4l-3-4l-3.9-3.1M1226.8 450.9l-4.9-0.5l-4.3-0.9l-4-0.6l-4.1 0l-3.7-0.5l-3.6-2.1l-4-2.7l-4.2-2.3l-4.1-1.9l-3.9-1.3l-3.9-0.1l-3.9 0l-3.8-0.9l-3.8-1.7l-4.1-1.3l-4.3-1.1l-4.1-0.4l-3.7 0.5l-3.7 0.8l-3.8 1.5l-4.1 2.9l-4 3l-4.2 1l-4.4-1.1l-4.3-2.1l-3.9-1.7l-3.7-0.9l-3.7-0.7l-3.8-1.6l-4.1-2.1l-4.4-1.5l-4.5-1l-4-1.4l-3-2.5l-2.2-3.4l-1.9-3.8l-0.8-4.2l0.3-4.2l1.1-4.1l1.5-4.3l1.8-4.8M1902.8 458l0.2-3.7l-1.9-2.8l-3.4-2.5l-3.9-3.3l-5.6-3.7M1809 470.2l0.7-4.4l0.3-4l-0.2-3.8l-1-4l-2.3-4.2l-1.9-4l0.3-3.8l2.2-3.9l3.1-4.1l3.5-4l4-4.2l4.6-4.3l4.4-4.2l3.8-3.9l3.5-3.7M2005.7 610.4l0.1-4l0-4.1l0.3-4.1l1.2-4.1M1381.7 438.8l-1.2 3.5l-2.7 3.8l-3.8 3.8l-4.1 3.6l-4 3l-4.1 2.2M1206.8 454.9l-1-6.5M1025.7 659.1l-2.9-4.4l-2.6-4.2l-2.9-4.4l-3.5-5.6M1206 477.4l-4 0.3l-4.2 0.6l-4.1 0.4l-4 0.8l-3.8 2l-3.9 2.2l-4 0.4l-4-0.7l-3.9 0.4l-3.8 2.7l-4 3.6l-3.9 2l-3.9-0.4l-4-0.9l-4.3 0.2l-4.4 1l-4-0.1l-3.1-2.2l-2.6-3.5l-3-3.3l-3.5-2.3l-3.7-0.4l-3.8 2.1l-2.8 3.6l-2.4 3.9l-3 3.8l-2.8 3.9l-3 4.1l-5.4 4.4M2005.5 478.5l5.8-4.4M1877 714.3l-2.8-4.3M833.7 1074.3l4.4 1.2l4.1 0.7l3.8 2.1l2.6 3.6l0.7 4l0 3.9l1.7 3l3.4 2.4l4 2.7l4 2.4l4 1.5l4 1.3l3.8 1.8l3.5 2.1l4 1.8l4.4 1.3l4 0.2l3.7-0.9l3.5-0.6l2.6 1.8l1.5 3.6l1.5 3.8l2.9 3.7l3.8 3.7l3.9 2.8l4.8 1.4l6.8-0.1M1773.1 740.9l-3.3-0.5l-2.5-2.4l-1-3.7l0-4.1l-0.1-4.1M1877.3 446.4l-2.8-4.4l-2.3-4.2l-1.7-4.9M1913.5 721l-3.9 0.4l-4.4-0.2M973.1 734.7l-1.7-4.5l-1.1-5.2M966.8 782.7l-4.4-1.5l-4.1-0.5l-4 0.4l-4-0.2l-3.9-1.3l-3.9-1.4l-3.9-1.1l-3.9-0.6l-4 0.3l-4.2 0.8l-4.2 1.3l-4.2 1.4l-4.3 0.3l-4.2-0.3l-3.9 0.7l-3.8 1.3l-3.5 1.5l-2.5 2.4l-1.5 3.5l-1.6 4.1l-3.2 4.2l-4.1 3.9l-4 3.5l-3.7 3l-3.9 2.2l-4.1 1.9l-4.2 1.7l-4 0.7l-3.8-1.3l-3.9-2.6l-3.9-2.6l-3.8-2.8l-3.2-3.3l-2.5-3.5l-2.8-3.1l-3.9-2.6l-4.2-2.8l-3.8-2.4l-3.7-1.2l-4.1-0.7M1501.9 837.6l-4.2 0.6l-4.4 1l-3.4-2.5l-2-2.7M1373.4 1049.7l5.9 0.4l2.9-3.9l3.5-3.3l3.8-2.9l3.9-3l3.9-3.3l3.9-3.6l3.8-3.9l3.3-4.2l2.8-4l2.9-3.9M942.1 821.1l4.3 4.7l4 4.3l4.2 4.4M713.4 1030.2l-0.6-4l1.5-4l2.2-4.1M1526.7 474.7l1.9-4.6l1.6-5.2M1725.4 753.2l-0.6-4l-1.3-4.4l-1.7-5.5M865.5 1073.6l4.2 4.2l4.2 4l4.2 2.6l4.2 0.3l4.2-1.2l3.9-0.6l3.9 1.1l3.6 2.8l2.8 3.5l1.5 3.8l1.4 3.9l2.6 3.4l3.9 1.4l4-1.2l3.6-1.2l3.8 0.3l4.2 0.9l4 0.3l4.4 0.1M969.2 761.6l-3.4-3.6l-3.8-2.7l-4.1-2.2l-4.3-2.8l0.4-3.9l-0.4-3.9l-1.1-4.1l-1.3-4.3l-0.1-4.1l0.4-3.9l-0.7-4l-1.9-3.8l-3-3l-3.6-2.6l-3.8-3.3l-4-4.3l-4.2-5.5M745.6 1063.1l-0.3-5.1l-1.2-4.4l-2-3.9l-1.4-3.7l-0.9-3.8l-2-3.9l-3.7-3.8l-3.9-3.7M1587.1 798l3.3 4.1l3.4 4l2.8 3.6l2.1 3.6l2.1 4l2.7 4.1l3.3 3.1l3.9 1.4l3.9 0.2l3.7 0.5l3.8 2.3M1493.4 845l-1.5-3.8l-2-4.5M1674.7 486.3l-4.5-3.8l-4-3.6l-3.9-3.1l-4-2.3l-4.1 1.3l-4.3 1l-4.2 0.6l-4.1 0.4l-3.9-0.2l-3.9-0.2l-4 1.2l-4 1l-3.9-0.7l-4-0.9l-4.2 0.1l-5 0.5M1373.9 1059.1l2.9-4.7l2.5-4.3M1313.1 1149.8l-3.4-0.1l-4-0.9M1593.5 486.8l5.9-1M657.8 1106.7l4-1.8l4.1-1.7l4.1-2.5M972.9 1053.5l5 4l4.3 2.1l3.9 0.9l3.8 0.8l4.8 0.6M1226.6 1113.1l3.5 0.1l3.8-0.9l4.2-2.5l4-4l3.9 2.5l4.1 1.5l4.1 0.8l3.9 1.1l4.3 2.1M1441.9 450.8l3.7 3.5l3.8-1l4.2-1.7l4.3-1l4.2 0.9l3.9 3.1l3.1 4.1l2.4 3.8l2.8 3.4l2.8 3.5M1738.6 473l-0.5-3.5l-1.9-3.8M973.7 706.3l-5-0.7M953.3 1053.9l4.4-0.1l4.2 0.8M1059 1065.8l3.8 2.6l3.6 2.6l2.6 3.2l1.1 3.8l0.9 4.2l1.9 4.2l2.5 4.3l2.8 4.8l4.4-1.3l5-0.6M1369.9 1093.1l4.1-3.3l3.7-2.8M1258.2 437l3.6 0.7l3.9 0.5l4.3 0l4.3-0.4l3.7-0.9l3.8 0.3l4.4 2.5M1198 458.6l3.6-4.7l4.2-5.5M1973.7 737.4l6.3 1.1M1413.8 965.7l-3.4 4.1l-4 4l-4.6 3.7M946.3 810.6l3.4 3.7M690 1045.2l-3.5-2.9M1421.2 445.8l2.3 3.9l3 3.6l3.8 2.8l4 0.7l3.9-1.1l3.8-1l3.6-0.4M1549.9 477.2l3.7 3.1l4.1 1.3l4.1-0.8l3.6-2.7l2.1-3.7l1-3.8l1.8-3l3.6-1.4l4.2-0.4l3.6-1.2l1.2-2.7l-1-4M2045 490.2l-1-3.6l-2.2-3.1l-4.2-2.9l-5 1.6M1925.1 730.3l0.4 4.3l-0.9 4l-2.8 3.9l-3.4 3.9l-1.9 4.2l0.1 4.1l0.6 3.7l-0.4 3.3l-2.7 2.8l-4 2.5l-3.1 3l-1.1 3.8l0.9 4.2l2.5 4l2.9 4l2.5 4.2l2.1 3.9l2.1 3.7l1.8 3.9l1.2 4.2l0.9 4.1l0.3 4.2l-0.9 4.2l-1.9 3.8l-1.3 3.8l-0.3 3.9M1410.2 982.8l-3.9-0.5l-4.6 3.3M681.3 1049.6l-3-4.4M1169 1074.2l7.1-0.4M1209.4 1114.6l3-4.6l2.5-3.8l3.2-2.5l4-1.6l4.1-1.4l4.1-0.7l4.1 0.7l3.9 2.2l3.8 2.9M2041.1 529.7l-3.4-1.4M1386.7 1037.7l2.8 2.3M685 1089.1l3.3 5l3.4 4.2l-0.1 3.8M1106.2 610.1l0.9-3.6l0.2-4l-2-4.5l-5-4.3l0.3-3.5M1682 766l2.7-4.1l2.6-4.1l3.1-4.5M1402.4 1014.2l3.9-0.3l3.9 0.1l3.8 0.1M798.1 1069.6l-0.1-3.7l-1-4.1l-1.4-4.3l0-4.3l2.3-4l4.3-3.3M1430.7 939l3.1 1.9l4.2 2.4l5.9 2.8l-0.5 4.1l-1.4 3.9l-1.5 4.1l0.2 4.3l1 3.9l0.7 3.6l0.1 3.8l0 4.1l1 3.9l2.6 3.7l4.1 3.8l3.9 4.3l2.6 4.5l1 4.2l0.2 3.9l-0.2 3.9l-1.3 4.3l-3.2 6.3l-3.4 1.3l-3.6 2.8l-3.7 2.7l-3 3.1l-1.3 3.9l-0.4 4l-1.4 4.1l-3.5 4.1M1241.7 438.1l4.1-4.2l4.1-4.2l3.7-4.1l2.7-4.3l1.6-5.1l4-0.8l3.6 0.5l3.8 2.2l4.1 2.5l4.1 1.3l3.9-0.5l3.8-1.9l4.2 1.9l4.4 1.6l4 1.3l3.8 1l4.2 0.6l5.1 0.4M1129.4 1062.9l-4 1.6l-3.9 0.2l-3.7-1.2l-3.8-0.9l-4 0.8l-4.3 1.8l-4.2 1.8l-3.9 1.7l-4 1.4M981.3 649.9l-3.9-1.1l-3.8-1.7l-4-0.8l-3.9 1l-4 2.8l-4.1 3.5l-3.9 2l-3.5 0l-3.7-0.4l-4.2 0.1l-4.5 0.3l-4.2-0.1l-3.7-0.9l-3.9-0.6l-4.2 1.5M969.4 661.4l-4 0.3l-3.6 0.4l-3.5 0.2l-4 0l-4.2-0.2l-4.3-0.1l-4.3-0.1l-4.1-1.5l-3.8-4.9M750 1011.1l-4.3-4.7l-4-4.2l-4-3.2l-3.9-2.6l-3.7-2.7l-2.8-3.7l-1.4-4.6l0.1-5.2M886.3 1069.6l4.1 3l4 1.7l4 1.4l4 2.4l4 4l4.3 4.3l3.8 4l2.4 4.1l0.8 5.9M1617.2 786.1l4.5 2.7l4.2 1.4l3.8 0.4l3.9 1M954.6 789.5l-4.2 2.5l-4.4 0.3l-4.3-1.3l-3.7-2.1l-3.6-2.9l-3.8-3.8l-4.1-4.6M641 1117.6l4.5 4.2l4.8 4.5l4 1.2l4.2 2.5l4.1 2.7l3.3 2.4l1.7 3l1.1 3.7l2 3.9l2.5 4.1l2 4l2.3 3.8M1334.7 425.4l-3-3.5l-1.4-4.1l-0.5-6.2l-3.8-2l-4.2-3.9M1314.1 429l-3.2-2.7M1842.2 445l0.2-3.3l0.6-3.8l0.5-3.9l0.5-4.1l1.1-4.1l1-3.8l-0.1-3.9l-1.3-4.3l-2.3-4.2M1766.3 466.1l-4.3 1.2l-4.2 3l-3.9 4.1M1013.1 650.1l-3.6-4l-3.8-3.7l-3.8-3.8l-4.1-3l-4.2-2.4l-4-2.8l-3.7-4.4M970.1 685.7l-4.1 1.7l-3.8 2.9l-4 4.9M1714.1 765.2l-4.6-2.1l-3.8-2.5l-2.5-3.1l-1-3.4M1639.1 777.3l0.7 4.2l-0.6 4.3l0.4 4.3l2.2 3.9M1474.5 874.4l-1.8-4.2l-3.8-4.3M1001.7 1061l-6.9 4.7M1157.8 566.3l2.8 3.7M2054.6 781.1l-3.6 4.8l-2 4.5l0.2 4.1l1.2 4l0.4 3.7l-0.5 3.7l-0.4 3.9l1.5 4l3.1 4.3l2.5 4.3l0.1 3.8l-1.5 3.9l-0.9 4.2l0.3 4.2l0.5 4l-1 3.9l-2.2 3.6l-3 2.7l-3.5 1.3l-3.7 1.4l-3.5 3l-3.7 3.9l-4.2 3.8l-4.2 2.6l-4.2 0.1l-3.9-1.3l-3.8-0.2l-4.3 1.1l-4.9 0.8M1186.9 1090.3l-4.5-3.9l-4.7-3.4M1369.9 1142.4l-0.9-4.1l1.1-4l2.2-4l1.3-4.3l0.7-4.1l1.6-3.8l2.5-3.7l2.4-4.4l1.5-6.2M1217.7 442.9l-4.1 6M1654.8 773.3l-2.4 4.6l-0.6 4.1l0.5 4l-0.1 4.1l-1.1 3.9l-1.1 3.8M1706.4 470.7l-1.7-4.3l-1.9-4.2l-1-4l0.4-4.1l1.4-4.3l1.7-4.1l1.8-4l2.7-4.1l4-3.9l4.2-3.5l4.2-2.9l4-2.5l3.8-2l4.1-1.1l4.2-0.1l4.1 0.3l4.8 0.6M1454 902.2l-2.8 3.6l-2.5 4.1l-3.3 3.9l-4 3l-4 2.6l-3.8 2.8l-3.7 2.3l-3.8 1.4M665.9 1053.6l-4.5-3.4l-0.5-4.4l2.1-4M1402.3 433.2l-4.8 2.1l-4.1 3l-2.8 3.6l-1.2 3.8l-0.1 3.9l0.3 4.1l1.3 4.3M1185.7 530.9l-3.9 3l-3.3 3.8l-1.3 4.3l1 4.3l0.8 4M1137.5 577.4l4.4 0.5l4.3 1.4l4.8 2.2M1378.9 1069.5l0.7 4.6l-0.3 4.5l0.2 4.1l2.6 3.6l4.9 3.6M1501.8 849.1l-1.8-3.3l-3-3.5l-3.7-3.1M840.9 906.3l-3.1 3.1l-3.7 1.4l-4.2-0.1l-4.2 0.7l-3.7 2.8l-2.6 3.7l-1.2 3.9l-0.6 4l-1.5 3.9l-2.7 3.8l-3.6 4.4l-3.7 5.7M606.8 1162.1l-3.9 4.3l-2.9 4.1l-1.7 5l-3.1 2.4l-2.4 3.9l-1.7 4.4l-2.1 4.2l-3.1 3.7l-4.2 2.6l-5.4 1.5l-2.8 4.3l-3.6 5.3M1689.7 474.3l-3.6 0.8l-3.9 1.3l-4 0.7l-4-0.6l-4.1-1.6l-4.1-2.6l-3.9 0.4l-3.8 0.8M961 759.1l-3.1-6M653.9 1121.1l2.7 4.5l1.9 4.4M2026.3 593.4l-4.6 3.4l-4 1.2l-3.7-1.3l-3.8-3l-4-3.6M778.4 1069.5l-4.5-3.5l-4.4-2.8l-5.7-1.4M635 1126.4l3.6 0l4 0l4-0.1l3.7 0M2046.2 785.2l2.8 5.2M1445.2 921.5l-1.6 4.6l0 4.3l0.8 3.9l0.3 3.4l-0.4 4l-0.4 4.4M1049.8 1075.1l4 0.9l3.9 2l3 3.4l2.4 4.1l3 4.5l3.8 4.1l4.1 2.8l4.2-1.4M1293.3 430.5l4.5-6.2M1690.8 770.4l3.9-4.1l4.9-4M1794.2 753.6l3.8-0.4l2.9 1.7l1.5 3.3l1.3 3.9l2.7 4.1l3.7 4.1l3.7 3.9l3.7 3.7l3.8 3.6l4.1 3l4.4 1.5l4.2 0.5l4 0.7l4 1.4l3.9 2.1l3.8 3.3l4.3 3.8l5.5 3.5M1553.2 832.9l4.4-2.2l4.4-0.9l4.2 0l3.9 0.2M1185.4 442.6l-3.3-4.6M1730.8 465.8l3-4.1l3.9-3.9M1734.4 467l2.9-5.2M1657 477.7l-2.8-2.9M2049 513.4l-2-3.6l-1.4-3.7l-1.5-3.6l-3-3.8l-4.9-4.5M961.4 741.7l-3.5-3.7l-3.7-4l-3.1-4M965.1 1061.9l4.5-2.9M1001.3 1065.5l-6.5 0.2M2005.4 760.9l-0.9 4.7l-1.9 4.3l-1.7 4l-1.2 4l-2.2 4.2l-3.5 4.1l-3 3.9l-1.6 3.8l-1.5 3.7l-2.5 4.3l-3.2 4.4l-3.6 4l-3.8 3.8l-2.8 3.8l-0.7 4l0.3 3.8l-0.1 3.9l-0.9 4.1l-1.4 4.3l-1.9 3.8l-2.1 3.3M2056.9 794l-1.6 3.8l-4.5 4.4M1537 466.7l1.7-6.1M1846.7 729.6l0 4.2l1.5 4.2M702.6 1090.4l-4.3 4l-4 3.8l-2.7 3.9M1797.3 458.2l1-4.2l1.9-4.1l4.4-4.1M1481.2 874.8l2.8-4.6l0.1-4.2l-1.8-4l-2.3-4l-2.3-3.9M2022.9 609.1l-4.7-5.1M1250.6 1129.4l4.1 2.1l3.5 1.4l2.6 2.2l1.4 3.4l1.6 3.5l3 2.6l5.3-2.6M1942.1 741l1.2 4.4l1.5 4.2l1 4.1l1.1 3.9l1.7 3.9l2.2 4l2.1 4.3l1.7 4.3l0.3 4l-1.8 4.1l-3.4 4.3l-3.7 3.8l-2.9 3.4l-2.6 3.6l-2.9 4.1l-3.6 4.1l-4.5 4.2l-6.4 4.5M790.2 975.1l-3.3-4.6l-3.6-4.6M1082.7 1070.7l3.1 1.4l4.5 2M1382.1 1138.4l4-4.1l4.1-3.1l4-1.7l3.9-1.3l4.1-1.3l5-1.1l2.4-3.8l2.5-4l1.6-3.8l1-3.9l1.7-4.1l3.8-4.6M617.9 1140.9l-3.9 5l-3.9 4.5l-4 3.8l-3.9 2.9l-3.8 2.4l-3.1 3.1l-2.2 3.8l-2 3.6l-2.3 3.3l-2.9 3.1l-3.4 2.8l-2.7 3.1l-2 3.3l1.5 4.2l-0.9 4.3l-2.1 4.1M1330.4 1177.8l-3.8 3.7l-3.9 3.9l-4.1 4l-4-2.6l-4.2-1l-4.3-0.1l-4.2-1.2l-4.1-2.9l-4.1-2.6l-4.3-1.1l-4.6-0.1M2066.1 466.7l-3.7-3.3l-4.1-1.6l-4.2 4l-4.2 4.6l-4.2 6.6l-5.6 1.1l-2.5 2.5M1074.2 627l1.3 3.1l-1.6 2.7M878.5 861.6l-3.9-1.9l-4.3-1.2l-4.3-1.5l-4-2.9l-3.7-4l-3.7-4.1l-2.8-4.1l-1.8-4.1l-1.9-3.9l-2.7-3.8l-3.2-3.6l-3.9-2.2l-4.3-0.6l-4.1 0.7l-3.8 2.3l-3.9 3.5l-4 2.8l-4.2 2.3l-3.9 2.6l-3.8 2.6l-4.2 1.9l-4 1.6l-3.1 2.6l-2.2 3.7l-2.9 4.2l-3.8 3.8l-4 3.6l-4.1 3.8l-4.1 4.2l-4.2 4.3l-3.5 4.3l-1.4 4.2l1.2 3.8l1.1 3.9l-1.8 4.5M1610.9 798.9l3.8 3.4l2.7 4l0.8 3.9l-0.3 3.7l0.1 3.8l1.4 4.8l2.7 6.4M2018.3 629.3l4.2 4.9M978.5 641.2l-2.5-3.4l-0.8-3.6l-0.1-3.8l-1.5-3.8l-1.2-3.9l0.7-4.3M2013 669.6l4.8-3.4l4.1-3.9M926.9 1066.1l-5.2 3.8M2030.2 458l-0.2 3.9l-0.2 4.1l-1.1 4.2l-2.7 5.1M1862.5 729.2l0.1 4.3l0.2 4.3l0.7 4.1M654 1066.2l1.3-3.7l2.5-3.8l2.5-4.2l1.1-4.3M1453.3 438.7l3 3.1l2.6 3.9l3.2 5.8M1145.4 566.2l2.9 4.1l1.6 3.8l0.5 3.7l0.6 3.7M2029.7 741.6l-1.8-3.2l-1-3.6l-0.3-4.6l-0.1-5.5M654.5 1131l4-1M2013.3 685.4l0.5-4.8M1109.6 1069.1l-3.9-3.9M1857.6 430.4l-3.9-4M1137.3 569.7l4.5 4.7l4.4 4.9M1817.7 746.7l4.5 0.7l4-1l3.8-1.3l3.9 1.1l4.1 3.2l4.2 3l5.1 1.8M1449.6 925.9l-2.6 4.5l-2.6 3.9M637.2 1174.2l-2.4 4.5l-2.2 4.2l-2.8 3.8l-3.2 3.9l-2.5 3.9l-1.5 3.8l-0.7 3.9l0.1 3.8l0.2 3.8l-0.3 3.9l-1.5 4l-2.9 3.2l-3.5 2.7M1969.4 457l4.3 4.7l4.2 4.5l4.1 4.4l4.4 1.7l5.2 1.6M1749.4 761.4l6.2-3.5M2046.7 761.2l-4.3 1.2l-4.3 1.6l-4.1 2.6l-3.6 3.6l-3.8 3.5l-4.1 2.5l-4.2 1.5l-3.8 1.8l-3.1 2.7l-2.5 3.3l-2.9 3.7l-3.6 4.3l-3.8 4.4l-3.9 4.1l-4.3 4l-4.4 4l-3.8 4l-2.6 4l-1.6 4.2l-1.3 4l-2.3 3.7l-3.8 3.8M1305.9 1161.1l-4.3 4.6l-4.2 3.1l-4.1 1.5l-4.3 0.1M1114.8 587.1l-5-3l-4.4-2.7l-3.7-3.5l-3-4.5M849.4 889.8l-3.5 0.9l-3.9 2l-4 2.7l-3.9 2.8l-3.8 1.9l-4 0.1l-4.3-1.3l-4-2l-3.9-2l-3.8-1.1l-4 0.1l-4.1 0.6l-4.3 0.1l-4.2-0.4l-4 3.6l-4 2.6l-3.8 0.2l-3.8-2.5l-4-3l-4.1-1.1l-4.7 0.9M1374.6 418.7l-4.5-4.6l-4.5-4.4l-4.4-3.7l-4.2-2.6l-3.9-1.2l-3.8 0.1l-3.7 1.2l-4 1.9l-4.1 2.6l-4 4l-3.7-0.4M1519 450.6l3.3 1.1l3.4 1.4l4 0.8l4.2-0.1l4.1-0.4l4.1-0.7l4.2-1.3l4.1-1.4M2014.3 773.2l0.2 6.3M1430.9 962.3l-4.3 3.9l-4.4 3.1l-4.2 2.6l-3.9 3l-3.7 3.7l-4.1 3.7M613.1 1178.3l-3.5 2.2l-3.6 1.5l-3.9 0.9l-4.3 1.3l-4.2 2.6l-4.6 3.6M2017.1 705.4l-0.5-3.4l1.2-3.9l1.7-4.1l1.4-4l2-4M645.1 1078.9l-3-4.5l-2.3-4.2l-0.2-4.2l2-4.4l2.8-4.1l2.5-3.7l2.7-4l4.4 0.3l4-1.2l2.9-3.1M1341.6 1190.2l-3.9 2.5l-3.5 1.3l-3.7 0.3l-4-0.4l-4-1.6l-3.9-2.9M1346.3 413.5l-4.9 1.1l-4.1-2l-3.8-0.6M1271 422.2l2.4-1.6M1186.3 498.9l-1.9-4.7l-2.8-4.8l-3.6-5.3M2005.6 770.7l-2.7 3.2l-3.2 4M870.4 865.8l-4.6-4.1l-3.9-3.9l-2.5-3.9l-1.1-3.8M1685.2 466.7l-3.5-0.1l-3.5 0.7l-3.8 1.8l-4.1 2.1l-4.3 1.1M1425.7 978l-3.3 4.1l-4.1 3.9l-4 3.9l-2.6 4l-0.9 4.1l-0.2 4.2l-0.2 4.1l-0.6 4M642.4 1086.7l-4.4-5l-4.4-4.1l-5.2-3.6l0.3-4l0-4.1l1.9-4.1l3.7-3.9l4-3.6l3.5-3.1l3.6-1.6l4.2 0.2M1722.1 457.5l3.6-3.3l4-4.1l4.3-4.4l4.4-4.1l5.1-3.5M2058.1 506.6l-4-1.8l-4.4-1.5l-5.6-0.8M829.3 1092.9l4.2-0.3l4.1-1.3l4.8-1l6.9-0.5M1877.9 734.5l-3.5-2.5M702.8 1013.7l-3-4l-0.3-4.2l2.4-4l2.6-3.6l1-3.2M769.3 1079.1l0.4-5.5l-3.7-3.9l-2.8-4.1l0.6-3.8M1611 469.7l-7.8-4M1186 485.2l-4-1.5M992.9 639l0.7-5.8M1773 762.8l-3-1.5l-2.5 1.3l-2.3 3.7M2067 478.1l-4.8 3.4l-4-2l-4.2-1.5l-4-0.9l-4.3-0.1M1085.1 609.1l4.8-3.9l4.2-4l3.7-3.9l2.5-3.6M755 994l-4.5-4.2l-4.5-4l-4-4.1l-3.4-3.9l-2.6-4.1l-1.8-5.3M1361.4 1166.7l4.5-4.1l4.2-4l4.1-2.7l4.1-0.1l3.8 1.7l3.3 1.2l2.6-1.3l1.5-3.4l0.6-4.2l0.3-3.9l1.1-3.6l2.9-3.8l3.9-4.3l4.1-4.4l4.8-4M1921.2 441.8l-0.9-3.7l-1.8-5.1l-4.4 0.6l-4.5 0.2l-5.2 0.5M950.3 765.6l-1.7-4l0.9-3.8l2.4-3.6l1.7-3.9M1826.4 437.8l5-3.5M1405.1 1033.2l0.3-3.4l-0.4-3.6M1353.4 410.3l-3.8-1.6l-4.1 1.4l-4.1 4.5M1393.1 418.4l-3.6 3.2l-3.6 2.6l-3.5 2.1l-3.7 1.8l-3.9 1.2l-4 0.4l-4-0.1l-4.1-0.2l-4.3-0.9l-4.3-2.5l-4.1-3.8l-4.4-4.2l-4.2-3.4M1537 845.4l-0.5 4.4l-0.1 3.9l1.6 3.1l3.7 3.2l3.5-0.4l4 0.9l3.9-0.2l3.3-2.5l2.9-3.9l3.4-3.4l4-1.7l3.9-0.8l3.3-2.2l2.6-3.9l2.5-4.1l3.1-3.6M1481.3 426.2l3 3.9l1.7 4l1.5 3.7l2.9 2.9l4 2.4l4.1 2.7l3.8 3.2l3.7 3.2l4 2.9l4.2 3.7l4 5.1M1149.2 1081.3l-4.1 4.3l-6.4 4.4l-1.4 4.2l-2 4.1l0.2 3.9l2.6 3.9l3 4.1M734.4 1085.1l-3.8-1.7l-4-0.1l-4.3 0.9l-4.1-0.4l-4-2.4l-3.9-2.6l-3.9-1.6l-4.3 3l-3.8 2.9l-2.9 3.5l-1.7 3.9l-1.1 4l-0.9 3.8M2034.7 601.9l-4.3 2.8l-4.2 2.4M805 937.3l-2.8 5.1M1881.2 422.8l0.9-6.3M1170.7 1093.9l-4.8-3.8M601.6 1174.5l-3.3 1M2018.2 453.7l-0.1 3.6l1 3.9l2.2 4.1l1.4 4.2l-0.8 4.9M1557.5 461.6l1.5-4l3.2-3.8l5.6-4.1M1593.9 818.2l0.3 4.4l0 6M1461 430.2l0.6 4.1l0.7 4.1l1 3.8l0.1 3.9l-1.3 5.4M1594 466.8l-1.7-4.7l-2.4-3.9M1666.7 786.3l-1.6 3.7l-0.7 3.4l1.4 2.9l3 2.6l2 3.7l-0.2 5.7M606.6 1142.2l-4.5 3.7l-4.4 3.4l-3.9 2.3l-3.6 0.4l-3.7-0.8l-3.8-0.3l-4.1 0.6l-4.3 1.2l-4.2 0.9l-3.7 0.6l-2.6 3.7l-1.4 3.7l-1.6 4.1l2.4 4l3 4.1l3.8 3.9l4.2 3.9l3.6 4M2041.4 446l0.5 3.7l0.3 4l0.3 4.1l0.9 4.3l-2.3 4.5l-1 4.2l0.2 4l-0.2 3.3M1913.2 746.5l3.3 4.1M1039 1082.8l3.6 3.9l3.8 3.9l4 4.3l4-0.2l4 0l3.8 0.7l3.8 1.1l3.9 0.8l4.1-0.4M649.5 1154.8l4.3 2.9l4.1 2.4l4 0.9l4.3-1l4.3-2.4l4.7-3.8M441.9 1338.4l4.1-0.6l4.2-0.1l3.9 0.1l3.8 0.2l4.2 0.2l4.6 0.2l3.9-3.9l3.5-4.3l2.2-4.5l0.3-4.2l-1.5-3.9l-2.3-3.5l-3.1-2.3l-3.7-0.3l-3.9 0l-3.6-1.9l-2.8-3.5l-2.7-3.6l-3.3-3.9l-4.1-4.1l-3.3-4.3l-1.7-4.1l-1-3.9l-2.1-3.2l-3.6-2.7l-3.8-2.7l-3.5-3.2l-2.9-3.8l-2.8-4.1l-3.3-4.2l-2.6-4.3l0.2-4.1l2.5-4l2.4-4.1l-0.1-4.2l-2.4-4.1l-3.4-3.4l-3.9-2.8l-4.1-2.3M1765.6 449.1l-3.9-2.1l-3.8-1.3l-3.8-1.4l-3.6-2.5l-2.9-3.6l-2.5-4M1998 769.1l2.9 4.8M1409.7 423l-1.3-4.3l-2.9-3.2l-3.7-2.4l-3.1-2.7l-2.2-3.6l-2.6-4.1l-3.6-4.2l-4-4.1l-4.1-4.2l-4.2-4.1l-3.7-4.1l-2.9-4.1l-2.6-4l-3.1-3.5l-3.6-3.7l-3.4-4.2l-1.9-4.4l0-4.1l0.8-4.1l0.3-4l0.1-4l0-4l-0.6-4.9M1198.7 429.5l-4.2-2.6l-4.2-1.1l-4.4-0.3l-4-1.2l-2.9-2.7l-1.1-3.7l-0.5-3.8l-0.8-3.8l-0.2-3.8l1.7-4.1l3.7-4l4.2-3.2l4.1-2.5l3.8-2.8l4-2.7l3.7-2.2l3-2.8l2.6-4l3.2-4.1l4-3.9l3.9-3.9l2.4-4.3l-0.2-4.2l-2.3-4.1l-2.3-3.8l-1.2-3.5l-0.6-3.3M2049.9 442l0.5 4.1l-0.1 4.4l-0.4 4.9l-3.5 2.8l-3 3.9M2062.1 810.8l-1.8 3.1l-1.5 3.9l-1.8 4.6M1945.1 441l6.3 0.8l1.6 4.3l1 4.3l-0.2 4.1l-1 4l-0.2 3.7l1.8 2.8l3.8 1.3l4.3 0l4-0.2l3.6 0.5l3.7 1.2l4 1.4l4.2 1.4M1995 453.9l1.7 4.1l2 3.9l3.5 3.2M953.8 701.4l-3.7-4.7M1706.6 780.9l-2.9-3.1l-3-3.6M2025.5 658.6l-4-5.1M1422.1 1005.1l-4.4 0.9l-3.9 1.5l-4 2.8M2073.2 453.7l-3.3 0.5l-3.7 1.3l-3.8 2.6l-4.1 3.7M2065.2 493.4l-3-3.4l-3.8-3.2l-4-2.4l-3-2.9l-1.4-4.4M1177.2 506.4l-3.3-0.3l-3.9-1.1l-4.2-1.6l-3.9-0.9l-3.9-0.1l-3.9-0.3l-3.8-0.5l-3.8-1.2l-4.3-2.9l-4.4-5.6M2061.8 530.6l-4-0.3l-4-3.2l-3.9-1.5l-4-0.4l-3.9-0.9l-3.1-2.5l-2.3-3.6l-2.5-4.1l-2.5-4.4l-1.4-4.1M1113.3 574.7l-3.5-2.1l-4.1-1.3l-5.3-1.9M1753.4 770.6l4.3-3.9l4.4-3.1M1634.4 798.2l3.3-5.1M730.4 997.1l-4.7-1.1l-4.2 0.7l-3.8 1.4l-4.3 1.7M874.7 1097.7l3.7 4.3l3.8 4.2l3.9 3.9M649.7 1162.9l4-0.9l4.2-1.9M642.5 1186l-4.1 2.4l-4.2 2.3l-4.2 2.9l-4.1 4l-4 4.6M1985.3 765.7l-3.6 3.1l-4.8 1.6M910.2 817.3l-3.2-3.8l-2.5-4.1l-2.7-4l-3.4-3.1l-4.3-1.2l-4.5 0.3l-4.1 0.5M1454.7 937l2 5.2l2.3 4.4l3.2 3.6l4.4 3.4l1 3.6l2.5 3.9l2.1 4.1l0.6 4.2l-0.1 4.2l-0.4 4.1l-0.7 4.1l-1.1 4.3l-0.6 4.4l1.2 3.8l3 2.8l3.7 2.5l2.9 3l0.9 3.5l-1 3.4l-2.8 2.9l-3.4 2.5l-2.9 2.9l-2.6 3.9l-3.2 3.5l-3.5 1.6l-3.2-1.4l-2.8-3l-3-1.7M2063 570l-1.8 3.4l-3 3l-4.4 2.9l-3.8-1.5l-3.8-0.6l-3.9 0l-4.3 1l-4.3 1.9l-3.9 2.3l-3.6 2.2l-3.8 2.4l-4.1 1.9l-4.3-0.2l-4.1-2.9M1134.8 1082l2.7 3.9l1.2 4.1M750.9 1086.8l-4.9-4.3l-4.2-4.2l-3.7-3.1l-3.7-2.2l-4.1-1.7l-4.3-1.1l-4.1-0.2l-3.7 0.3l-3.6 1.1l-4 2.6l-4.2 3.2M782.2 1085.5l-4-4l-4.2-4l-4.3-3.9M442 1350l3.8-5.2l4 0.7l4.2-0.1l4.4-1.3l4.3-2.4l4-3.3M1165.3 443l-3.3-2.1l-4-1.5l-3.9-2.1l-3.4-3.4M794.8 1090.6l-2.8 3.3l-0.4 3.9l1.5 4.4l1.7 5.8l3.7 2.1l3.4 4l2.7 4.1l2.4 3.9l2.7 3.9l1.6 3.6l-1.3 3.1l-3.7 2.7l-3.9 3l-1.7 3.2l1.7 2.9l3.5 2.7l2.8 3.2l1.2 3.8l0.6 3.8l1.4 3.4l2.5 2.5l3.7 1.3l4 0.2l3.7 0.3l3.8 0.6l4.1 1.7l4.2 2.8l3.9 3.6l3.8 2.9l4.3 2.2l5.1 2.3M1333.8 1202.2l-3.8-2.1l-3.9-3.1l-3.6-4.7M1230 1138.7l3.7 1.8l3.8 1.4l3.9 1.2l4.2 0.5l4.3-0.4l4-0.3l3.9 0.9l4.3 1.2l4.7-0.4M1237.2 417.3l4.4-1.1l4.2-1.5l4.1-1.3l3.9 2.4l4.1 0.4M950.6 714.8l-4.7 0.5M1653.4 462.2l-3.6-1.3l-3.6 1.6l-4-0.9l-4.3-1.3l-4.2 0.4l-3.8 0.5l-3.4-1.8l-4 0l-4.2-0.7l-4.1 0l-4.1 1.1l-4.1 1.3l-4.5 1.1M2026.3 681.2l-4.4-3.1M2041.5 737.1l1.7-3.3l2.9-3.8l3.5-4.1l3.1-3.7l-3.3-3l-3.6-2.2l-2.6-2.9M1414.3 1033.8l-1.4-4.1l-2.1-3.9l-2.5-3.8M946.3 1078.2l1.9 3.7l-0.2 3.8l-2.4 4l-3.5 4.2l-4.1 4.2l-3.9 3.9M1393.3 1097.7l0.7-4l1.5-3.9l2.6-3.8M1309.4 1178.2l-3.4 3.9l-4.1 2.4M630.3 1093.2l-2.3-3.4l-1.2-4.1l-0.3-4.2l0.7-3.9l1.2-3.6M1117.9 567l-3.5-5.1l-4.1-4.2l-5.4-3.5M857 866.3l-2.3-4.1l-2.1-4.2l-2.6-4l-3.6-3.4l-4.3-1.7l-4.4 0.2l-4.2 0.3l-3.8-1.1l-4-2.7l-3.9-2.6l-3.6-1.1l-3.7 0l-4-0.3l-4.2-1.1M1182.5 1113.8l-4.2-4.2l-4-4l-4.1-2.8l-4.3-0.8l-4.2 0.3l-4 0.4l-3.8-0.3l-3.7-1.5M2210.3 809.7l-0.1 4.1l-0.3 4.5l-1.2 4.5l-2.7 4l-2.9 3.6l-2.3 3.7l-1.8 3.8l-2.1 4l-1.8 4.3l-0.9 4.2l0 3.8l0.3 3.8l1 4l2.1 3.9l1.6 3.7l-0.3 4l-0.7 4.2l0.1 3.9l0.1 4.1l-0.8 4.2l-1.7 4.1l-0.9 4l0.8 4.1l1.4 4l0.7 4.3l-0.3 4.3l-0.5 4.1M825.3 893.2l-3.9-1.3l-3.9-2.6l-3.6-3.6l-3.6 0.6l-4 0l-5.4-0.2l-3.2 4.2l-4 3.9M794.5 945.1l-0.1-4.2M662.6 1141l3.8 2.8l4.3 1.9M418.3 1310.3l-3.8-4.2l-4.4-4.1l-0.6-4l-0.9-3.9l0.4-3.9l2.1-4l3-4.1l2.7-3.9l2.1-3.9l2.2-4l2.6-3.7M2017.8 790.6l-1.9 3.9l-0.4 3.8l0.4 3.8l-0.6 3.8l-1.8 3.8l-2.9 4.1l-3.7 4.3l-4.2 4.2l-4.4 4l-4.3 3.8l-3.4 3.9l-2.1 3.7l-0.6 3.8l0.9 4l0.7 4.2l-0.6 4.4l-2 4.9M1401.7 1057.5l3.9 4.5l4.1 3.7l4 1.5l3.9-1.1l4.4-1.1l5.3 1.1M1798.5 442.4l3.8-2.8l4.8-1.5M1266.8 1154l3.7 0.2l3.7-0.1l3.9-1.4M1521.2 437.4l4.9-0.9l4-0.2l3.9-3.7l4.3 2.1l4.2 1.6l3.8 1.4l3.6 1.4l3.7 1.8l4.4 2.3M1398.7 1074l-1.7 4.3l-0.3 4l1.4 3.7M2085.2 829.1l5.4 4.5l-0.1 4.1l1 4l1.3 4l0.7 3.9l-0.9 4l-1.5 3.9l-0.8 4.2l0.1 4.2l-0.2 4l-0.5 4.1l-0.4 4.1l-1.1 3.8l-2.4 3.9l-2.3 3.8l-1.3 3.9l-1.5 4.2l-2.5 4.5l-2.2 4.1l-1.2 3.5M1362.5 402.6l-5.5 0.8M1166.6 450.2l-4.2-4.9l-4.4-5.9M1362.6 1182.4l4-1.6l3.9-2.3l4.1-1.5l4.1 0.2l4 0.6l3.4-1.1l2.8-2.9l2.5-3.7l3.2-4.1l3.6-4.3l3.4-4.2l2.7-4l1.3-3.8l0.1-3.9l-0.1-4.3l0.1-4.3l0.1-3.9l0.2-3.8l1.2-3.7M613.2 1193.9l-3.5 1.7l-3.8 2.6l-4.2 2.8l-4.2 2.6l-3.8 2.4l-3.7 1l-4.2-0.4l-4.1-0.3l-3.7 1.4M1514.4 429.8l3.9 1.7l3.8 2.6l4 2.4M1150.7 542.7l-1.6-4.8l-1.8-4.1l-0.1-3.8l1.4-3.9l0-4.2l-2.4-4l-3.8-2.7l-3.8-1.3l-4-1l-4.2-1.5l-4.5-1.8l-4.2-1.4l-4.1-0.8l-4-0.7l-4-0.8l-4.6-0.1l-6.3 0.2M1498 881.6l4.2 3.8l5 4.6l3-2.1l3.9-0.9l4.2-0.3l3.4 0.7l2 2.3l1.1 3.9l1.6 4.4l1.8 4.5l1 4.1l0.9 4l1.8 3.8l2.6 3.8l2.3 3.9l1 3.8l-0.1 3.9l-1.3 4.1l-2.7 4.1l-3.6 3.7l-3.9 4l-3.9 4.1l-3.4 4.1l-1.7 4l0 4l0.6 3.8l1.3 3.8l1.6 3.9l1 4.1M974.7 1081.4l3.7 0.5l3.8 0.3l3.5 1.3l2.9 2.7M593.6 1142l-3.5 4.3l-3.6 4.9M417.3 1336.9l1.8 4.4l2.9 3l3.8 1.3l3.9 0.3l3.8-0.1l3.9-0.6l4.2-0.7l4.2 0.3M1866.2 746.9l-5.3-1.3M2222.2 846.8l-4 3.3l-4.1 3.9l-4.1 4l-3.7 3.7l-3.2 3.7l-3.9 4.2M1645 457l-3.5 0.9l-3.6 2.4M945.4 686.2l-3 1.3l-2.6 3.1l-1.8 6M937.8 1082.8l-3 3.1l-1.8 3.8l-0.9 4.1l-1.1 4.1M1007 1085.3l-2.9 4.6l-1.7 4.3l-1.7 4.2M842.8 1105.2l3.8-2.6l3.7-1.9l3.9-1.5l4.2-1.3M1214.7 1141.7l2.7 3.8l1.6 4l0 4.2l0.6 4.3l2.7 4.3l3.9 4l3.2 3.7l2.4 3.8l2.9 3.9l3.2 3.9l1.3 4.2l-1.3 5l4.3 1.6l3.8 2.4l2.7 3.3l1.3 4l0.2 4l-0.2 3.9l0.6 4.8M2073.2 489.9l-3.3-3.4l-3.7-2.7l-4-2.3M1969.5 766.4l-1.4 3.6l-2.8 4.1l-3.5 5.3M1817.6 430.7l0.1-4.9M1821.2 761.2l4.8 4.6l3.1 4l1.3 3.9l1 4.1l2.5 4.4l4.1 5M1541.1 445.9l5.2 5.5M942.9 641.2l-4.8 4.4l-4 3.2l-3.7 2.3l-4.4 2.9M1726.6 789.5l3.5 3.9l3.8 4.5l3.8 0.2l3.8 0.4l3.8 0.1l3.9 0.7l4.1 1.4l4.1 1.9l4.7 1.6l6.1 1.5M886.8 826.6l-0.5-4.4l-1.6-4.3l-3.1-4.5l-3.8-5M865.5 845.1l-3.9-3.4l-2.2-4l0.2-4.3l0.9-4l-0.3-3.8l-1.8-3.9l-1.2-3.9l0.6-4.2M749.9 981.5l-1.7-4l0-3.8l0.9-3.7l0.4-3.8l-0.7-3.7l-2.4-4.1l-3.2-4.3M798.5 1097.4l-5.4 4.8M1889.8 749.5l-3.5 4.8l-2.9 4l-2.4 3.8l-2.9 4l-3.5 4.1l-2.9 3.8l-1.2 3.7l0.9 3.8l1.7 3.9l0.8 3.9l-0.7 4.2l-0.9 4.3l-0.7 4.1l-1.6 3.7l-2.4 4l-2.7 4.4M386.4 1317.3l-4.7 4.7l-4.3 4.3l-3.7 4.4l-3.2 5.4l-4-1l-4-0.7l-4.3 0.7l-5.9 2.9l-2 3.5l-3.4-0.5l-2.7 1.2l-1.8 3.3l-1.8 4.2l-2.7 3.9l-3.7 2.8l-3.8 2.5l-2.5 3.4l-0.5 3.9l0.4 4l0.5 4.2l1.2 4.4M1153.8 425.5l-3.8 4.2l-3.1 5.7M1078.6 598.2l3.8-6.7l3.9-0.3l4.1-0.8l4.2-1.3l4.7-2.6M1529.4 861l4.7 1.6l4.9-0.1l2.7-2.5M797.1 925.4l-3.8 0.6l-3.7 0.3l-4-0.1l-4.1 0l-3.8 0.6M637.5 1202.9l-3.2 3.5l-3.9 3.9l-4.6 3.9l-5.4 3.5M2034.9 805.8l-4 4.4l-4.3 4l-4.2 3.8l-4.2 4.3l-4.2 4.4l-4 4.2l-3.9 3.9l-4.9 3.7l-3.4 4l-4 3.6l-4.3 3.6M2129.9 853.3l1.5 4.7l2.5 4l2.5 3.7l1.3 4l1.3 3.6l2.8 1.8l4.1-0.1l4.2-0.4l4.2 1l4.2 2.8l3.6 3.6l2.6 4.1l2.5 4.1l3 3.9l3.2 3.9l2.8 4.1l2.6 3.3l3.3 1.7l4.1 0.7l4 1.5l3.6 2.5l3.8 3M1283 1165.7l3.5-0.5l3.7 1M406.3 1309.6l2.7-3.7l1.1-3.9M942.7 717.2l-0.4-4.5M1238.6 409.6l3.8 0.2l3.8 1.1l3.7 2.5M1169.5 493.5l-3.9 4.6l-3.7 4.4M773.5 1093.5l-3.5-4l-4.1-3.8l-4.1-3.5l-0.1-4.2l0.3-4.3l0.4-4.1l0.8-4M1486 409.7l3.6 1.3l3.8 1.7l4.1 2.2l4.1 1.9l4.2 1.2l4.5 0.6l4.2 0.9l3.7 1.7l3.6 2.2l3.9 2.9l4 3.4l4.3 2.9M1166.3 511.1l-3.8-4.3l-4.5-4.4M893.3 817.3l-3.8 0.5l-4.8 0.1M573.8 1173.7l2.7 4.3l3.3 4.3M1657 454.6l-3.7 3.1l-3.5 3.2M637.4 1038l4.7 0.7l3.9-0.3l3.7 0.3l3.8 1.6l4.2 1.3l5.3 0.2M1401.3 1108.9l4.7-3.1l4.4-2.6l4.3-1.3l5.5-0.3M1950.4 430.4l-0.1 3.8l0.1 3.6l1 4M2045.8 611l-4-0.9l-4.1-0.5l-4 0l-4.6 0.3M802.6 902l-4.4-0.9l-3.9-0.7l-4 0.1l-4.6-0.1M1250.3 1154.6l4.1 3.4l4 2.8l3.6 2.2l3.4 1.8l4-3l4.1-3.7l4.6-5.4M1354.8 1206l-3.3 4.4l-2.3 4.2l-1.9 4.3l-1.4 5.1l-3.8 2.4l-3.7 2.7l-3.5 2.5l-3 3.1l-2.2 3.7l-2.2 3.8l-2 3.8l-0.9 4.1l0.5 4l0.7 4l0.1 4l0.4 4l1.1 3.9l0.6 3.9l-0.6 4.1l-1 4.2l-0.5 4.2l-1.2 3.5l-2.7 1.4l-3.7-0.2l-4.2 0.3l-4.2 1.6l-4.1 2l-4 1.8l-4.2 1.5M446.8 1282.6l-4.6-2.5l-4.7-1.1M918.1 794.6l-4.1-1.8l-3.7-1.8l-3.8-2.2l-4.1-2.7l-4-2.3M829.3 881.6l-3.4 2.3l-4 0.9l-4.2 0.3l-3.8 0.6M1482.7 910.9l-0.3 3.8l-0.2 3.6l-0.4 3.7l-1.1 3.8l-1.5 3.8l-0.8 3.9l0.7 4.3l2.3 4.2l2.5 3.9l1.5 3.8l0.2 4.2l-1.1 4.3l-2.8 3.9l-3.5 3.6l-2 3.7l-0.6 4.1l-1.3 4.2l-2.7 4.1M421.3 1297.8l1.7-3.7l0.7-4l-0.5-4l-2.2-3.8l-4.2-4.1M1318.5 397.2l4.8-2.9M1034.9 618.5l-4.8 1.1l-4.1 1l-3.7 1.1l-3.8 0.9l-4.1 1l-4.4 2.4l-5.3 4.3M918.4 1090.7l-1.5 3.8M910.7 802.1l-3.8-4.1l-1.6-4.1l1.2-5.1M2089.9 449.8l0-4.4l-0.2-6.8l-3.9-1.5l-3.7-3.4l-3-4l-2.5-3.5l-3.2-2.1l-3.8 0.1l-2.8 2.4l-1.2 3.8l-0.1 4.1l0 3.9l-1 3.9l-2.6 4.2l-4 3.9l-4.1 2.8l-3.9 2.2M1589.8 846.1l6.1-4.1l2.4-4.3l3.3-5.6M1830.7 418.6l3.4-4.8M1917.8 421.2l-3.6-1.2l-4.1-0.6l-4.8-0.4l-4.3 2l-4.8 1.8M1121.8 553.6l-4.1-3l-4-1.9l-4.2-0.8l-4.7-1.3M2038.3 666.9l-4.4-0.6l-4.4-1.3l-4.1-2.9l-3.8-4.2M1757.1 781.1l4.8 2.3l4.2 3l3.5 4M1469.9 933.6l0.3 4.3l-0.2 4.2l-1 4.1l-1.6 3.9l-0.8 3.5M982.6 1090.1l5.7-0.4M1133.6 1094.1l1.7 4.2M1037.8 1098.6l4.4-1.5l4.2-1.4l4-0.8M730.8 1106.4l-4.8-2.7l-4.2-1.3l-3.8-0.6l-3.7-1l-4.1-1.3l-4 0.1l-3.9 2.3l-4 4l-4.5 4.4M664.9 1153.3l4.8 0.8l5.5-0.3M1205.7 414.7l-3.2-4.2l-2.9-4.1l-2.7-3.9l-3.1-4.5l-3.7-5.3M1789.1 433l4.7-0.8l4.2-1.2l4-2l4.2-3.1l3.8-3.5l3.7-3.2l3.9-2.4l4.2-1.5l4.4-1l4.3-0.9M2073.6 565.4l-1.2-3.7l-2.6-3.7l-3.7-3.8l-4-3.6l-4.1-2.9l-4.1-1.6l-3.8-0.2l-3.8 0.6l-4 1.4l-4.2 2.5l-4.4 2.7l-4.3 2.2l-3.9 2.3l-3.6 1.4l-3.7-0.3l-3.9-1l-4.2-1.4l-5.1-2.2M945.2 613.6l-3.3-4l-3.7-4.8M1937.2 765.3l-1.8 4.2l-1.2 4.1l-1.4 4l-2.5 4.1l-2.6 4l-1.6 4.3l-0.7 4.2l-1.5 3.9l-3.2 3.6M454.8 1354.5l4.9-5.1l-1.3-5.3M757.8 969l-0.3-3.3l-1.3-3.2l-2.9-1.3l-4.5 1.3M1439 413.3l3.4 2.5l3.7 0.2l4-0.9l3.9 0.2l3.7 1.5l3.7 1.3l4 1.4l3.7 2.5l2.1 3.7l0.8 3.9l1.3 4.1l1 4.3l-1.4 4.4l-3 4l-2.4 3.9l-1.5 4.3M1986.1 438.7l3.9-4.9l3.7-4.1l2.7-3.8l1.6-4.1l4.8-3.7M1438.6 1005.2l-1.4 4.1l-1 4.3l-1.9 4.5l-2.3 4.3l-1.9 4.4M1617.8 449.3l-3.5 5.1l-4.2 5.4M2137.5 790.9l-3.3 3.3l-3.8 1.4l-4.4 0.3l-4.4 0.6l-3.9 0.6l-3.7-0.6l-3.6 2.7l-3.9 2.8l-4.2 3.6l-4 4.1l-2.1 4.3l0.1 4.3l-0.1 4.2l-1.8 3.8l-2.4 3.5l-1.4 3.8M713 986.5l0.4 3.6l-1.4 4l-4.6 4.4M1342.7 1234.8l-3 3.6l-1.4 3.9l-0.5 3.9l-1 3.6l-1.3 3.6l-0.8 4.1l-0.3 4.5l-0.4 4.3l-0.9 4.1l-5.1 3.5M455 1377.2l-4.7 4.2l-4 3.8l-3.7 2.7l-4.1 0.2l-4.3-2.1l-4.4-2.4l-4.6-0.4l-3.5-0.6l-3.8 0.2l-4-1.1l-3.9-2l-3.9-1.1l-4.1 0l-4.3 0.1l-4.4-0.5l-4.1-1.6l-3.8-2.7l-3.7-3.6l-3.7-4l-3.9-4.1l-3.7-3.8l-4-3.3l-3.8-2.8l-2-2.9l-0.8-3.4l-2-2.6l-3.6-1.2l-3.9-0.7M1414.1 404.9l-4.4 5.2l-4.2 5.4M1146 430.6l-3.9 3.5l-3.9 4.2l-3.6 4M1730.3 438.6l3.8-0.6l4.4-0.3l5 0.4M1646.6 450.2l-4.9-1.8l-4 1.8l-3.5 1.5l-2.7 2.6l-2.1 3.2l-2.9 1.9M2053.1 734.6l1-4.4l1.2-4.2l-2.6-3.8M1926.9 766.6l-0.2 3.3l-0.2 3.5l-0.1 3.9l0.1 4.2l1.2 4.2M1742.5 789.4l0.8 4.3l2 4.9M1721.8 797.7l5.4 4.6l3-3.1l3.7-1.3M702 985.3l-4 3.9M766.7 1097.9l-0.2-4l-1.3-3.8l-2.1-3.9l-1.3-4M1209.2 1149.8l4.6 4l5.8 4.2M466 1294.6l-1 3.2l0.5 3.9l0.7 4.6l-0.2 5.2M398 1333l-3.6 4l-4.1 4.1l-4.3 3.7l-4 2.2l-3.8 0.9l-4 0.6l-4.3-0.1l-4.4-1.1l-5.7-1.3M909.7 797.9l-1-4.1l-2.2-5M846.8 861.9l-2.6-4l-3.2-4.2l-3.3-4.6M589.4 1133.6l-3.8 1.4l-4 3l-4.9 4.2l-2.8 4.3l-3.8 3.9l-3.7 3.8M417 1349.6l5-5.3M1973.5 433.5l4.3-2.5l4.5-2.4l4 1.1l3.9-1l3.8-3l4-3.9M1646 809.8l3 4l2.5 4.4l1.9 4.2l1.1 3.8l1.4 4.2l2.5 6.3M794.1 918.1l-4-2.1l-4.1-2.7l-4-3.2l-4.2-3.5l-4.8-4l-6.2-4.3M818.3 1118l-4.4 5.2l-4.2 2.8M1899 409.1l-4.4-3.4l-4.6-2.7l-4.1-1.5l-3.7-1.2l-3.5-1.4l-3.9-0.6l-4.1 1.1l-4.3 2.6l-4.3 3.6l-3.9 3.7l-3.6 3.7M2021.8 806.6l0.2 3.8l-1.3 4l-3.2 4l-4 3.5l-3.9 3.6l-3.3 4l-2.6 4.5l-2.5 4.5M1521.4 874.4l4.3-0.3l4-1.5l3.7-2.9l3.1-3.6l2.5-3.6M802.8 1110.6l-0.9 3.5M1322.3 1209l-4.3-3.2l-4.4-2.4l-4.1-1.5l-3.7-1.8l-4-2.8l-3.9-3.4l-4-2.6l-4.1-2.2l-3.9-3.1l-3.7-4.3M2066.9 418.3l2.7 5.9M1835 766.5l3.1 3.8l1.3 4.2l-0.5 4.2l-0.7 4.1l-0.2 4.4M1418.9 1053.5l3.4-0.6l4.4-1.3l5.9-1.3M1181.6 1138.8l-4-2l-4.1 0.2l-3.9 1l-3.7 0.4l-3.9 0.7l-4.3 1.5l-4.2 1.4l-4.1 0.9l-3.9 0.1l-3.8-1.3l-3.7-1.9l-3.7-1l-4.1 0.1l-4.5 0.2l-5.2-1.1M569.1 1147l-2 3.1l-0.7 4.1M1378.3 393.7l3.9-3.5M1170 410l6.4-3.5M1045.3 1106.9l4.5-4.4l4.4-4.2l4.2-3.6M1869.2 386.3l-3.4 4.1l-3.8 3.8l-3.5 3.4l-2.8 3.7l-2.5 4.4l-2.6 5.5M685.4 998.2l-3.8-0.9l-4-0.6l-3.8 0.2l-3.3-0.6M1156.9 1109.6l-3.3-3.8l-3.4-4.9M430.1 1365.8l-4.3-1l-4.3-1.2l-4.1-0.9l-4-0.1l-3.7 0.8l-3.7 1.5l-3.8 1l-4.2 0l-4.5-0.3l-4-0.2l-3.7-0.3l-3.7-0.1l-4.1 1.3M1242.4 403l3.5-0.8l3.9-0.2l4.3 0.2l4.2 0.3l3.8 0.8l3.5 2.1l4.1 2.5l5.6 1.9l2.6 4l3.5 3.3l3.8 2.4M1934.5 422.1l-3.7 3.8l-3.8 3.2l-4.2 2.3l-4.3 1.6M2078.3 433.7l0.8-4M2078.5 758.9l-4.2-4.4l-4.2-4.1l-3.7-3.7l-2.4-3.9l-1.3-4.4l-1.7-4.4l-2.9-4.1l-2.8-3.9M1602.2 838.1l3.4-4.5M834.5 869.3l-3.7 1l-3.9 0.8l-4.1 1.3l-4.2 2.5l-4.3 3.1l-4.2 1.9l-3.8 0.8l-2.9 1.9l-2.5 3.5M677.5 1006l-3.6-4.3l-3.4-5.4M826.5 1117.1l-4.2 2.8l-4.2 1.7l-4.2 1.6M1761 429.8l0.5-4.5l-0.9-4.3l-2.3-4.5M1845.1 763l5.4-0.8M547 1173.8l3.4 2.6l3.5 2.5l2.9 3.1l2.5 3.5l2.9 3.1l3.8 2.6l3.8 3l2.7 3.8l1 4.5M1163.1 478.3l-4.7 2.3l-4.2 2.5l-4 3.3l-4 4.6M1153.4 517.9l-3.5 0.2l-3.7-0.2M1809.8 782.8l4.7 1.2l4.1 2.8l3.6 4.1l3.8 4.4l4.1-0.5l4 0l3.8 1.3l3 2.6l2.4 3.5l2.8 3.6l3.6 3.3l4.1 2.8l4.2 2.9l3.9 3.1l3.4 3M1498 902.4l3.5-4.3l3-4.4l2.7-3.7M726.6 1114.1l-4.5 0.1l-4.2 1l-3.8 1.5l-3.9 1.1l-4.1 0.9l-4.5 2.7l-6.5 0.4M634.7 1214.4l-4.3-4.1M446.9 1390.7l-4.3-2.8M1289.6 397.3l4.4 2.5l5.1 1.6l1.6 4l1 4.2l-0.6 4.5l-1.5 4.1l-0.2 3.7l2.2 3.4M635 1026.9l3.1-1.9l2.9-3.1l2.4-3.8l2-3.9l1.9-4.2l0.8-4.2l-1.3-4.1l-3.9-3.8l0.1-3.8l0.4-4M1281.4 398.5l4 3.8l4.2 3.9l3.9 3.9l3.1 4.1l3 4M1004.9 613.2l-3.1 2.7l-3.6 1.5l-3.9 1.8l-4 3.3l-4.4 3.5M1778.3 785.5l0 4.3l1.2 4l1.4 4.1l0.1 4.4l0 3.9l1.7 2.8l3.2 2.4l3.4 3.2l2.7 3.9l1.7 4.1l2 4l2.8 3.8l1.9 3.9l-0.3 4l-1.2 4.2l0.6 4.1l2.6 3.9M1353.9 386.8l-2.5-4.4l-0.1-4.5l1.8-4.3l2.3-4l2.3-3.6l-1.9-3.8l1-4.1M1690.7 438.1l3.4 1.1l3.7 1.3l4.1 1l5.2 0.2M1157.2 465.5l-3.5 3.1l-3.6 1.3l-4-1l-4.2-3l-3.9-3.7l-3.9-2.7l-3.9-1.5l-3.5-1.2l-2.7-2.5l-1.7-3.9l-0.5-4.3l0-4.3l0.2-4.4M2122.6 781.3l-1.3 4.5l-2 4l-2.4 3.5l-2.9 3.2M890.9 809.1l-4.9-2.4l-4.5-1.3M1414.3 1141.8l3.8-4l3.9-3.9l-2.7-4l-1.8-4l-1.9-3.8l-3.5-4.1M679.1 1146.9l-1.9 3.5l-2 3.4M1181.2 1146.9l0.5 3.6l0.3 3.6l0.1 4l0.2 4l1.1 4l2.9 4.1l3.9 4.1l3.9 3.6l3.8 3.3l3.9 3.2l4 2.5l4.3 1.9l4.3 0.9l3.9 0.2l3.8 0.2l3.9 0.3l3.7-0.1l3.9-0.1l4.3 0.6M1357.3 1218.8l-3.4 2l-3.9 1.6l-4.1 1.6M450 1269.3l-4.1-1.7l-4.1-1l-4-0.5l-3.9-0.4l-4-1.1l-4.2-1.4l-4.8-0.7M609.8 1098l-1.2-4l-1.4-3.7l-1.1-3.7l-0.6-4l-0.6-4.2l-0.6-3.9l-0.1-4l0.7-4.3l1.8-4.2l2.1-4l0.8-3.9l-1.1-3.7l-2.9-2.7l-3.9-0.9l-4.1 0.9l-3.9 1.4l-3.7-0.4l-3.9-2.6l-4.1-2.7l-3.9-1.1l-3.9-0.2l-4-0.2l-4-0.2M441.6 1274.7l-4.1 4.3M2098.6 473.4l3.5 0.3l3.4 0.6l4-3l4.1-2.6l3.3-3.1l2.4-3.8l1.4-3.8l-0.1-4l-1.5-4.3l-1.8-4.2l-0.8-3.8l0.3-3.8l-0.5-3.6l-2.7-1.8l-3.7 0.4l-3.7 0.8l-3.8 0.5l-4.3 1.2l-4.4 2.2l-4 1M866.6 826l-6.4-0.4M1489.2 914.3l-3.5 3.9l-3.9 3.8M1372.9 1190.2l4.5-4.3l4.6-4.2l4.1-5M1070.1 588.9l3.9 0.7l4.2 1.2l4.2 0.7M2073.4 590.6l-3.8-4.2l-4.1-3.1l-4.1-1.4l-4.6 0.2l-3-2.8M2065.5 598.5l-2.6-4.7l-2.2-4.2l-1.8-3.9l-2.1-3.6M869.1 822.7l-3.6-3.6l-3.9-4.2M1793.7 426l4.2-2.3l4.2 0l4.1 2.2M381.8 1334.2l-3.6 2.2l-3.8 0.5l-3.9-0.8M2086.1 501.6l4-3.9l3.7-3.9l3.3-3.9l2.2-3.8l1.2-3.7l1.9-4l3.1-4.1M1126.4 543.1l-4.3-4.6l-4.2-3.7l-4-3.1l-4.4-3l-5.7-3.2M1585.7 866.9l3.3-5.1l3.1-4.6l2.4-4.2l1.1-3.9l-0.2-3.6l0.5-3.5M666.4 1186.7l6.4 3.3M458.6 1262.1l-4.6-3.7l-4.3-1.8l-4.1-1l-3.9-2.1l-3.7-3.5l-4-4.2l-4.4-5.5l-4.2-2.7l-4-4.8l-3.8 0.7M2038.9 421.3l0.2-4l-1.2-5.6l-4.1-1.1l-3.8-0.7l-3.7-0.1l-3.8 0.2l-4.3 0.1l-4.3 0l-4.3-0.1l-4-1.2l-3.7-2.4M2101.5 446.8l3.7-1.8l2.9-2.8l0.3-3.8l-2.2-4.7M1049.5 601.8l-1.1-3.7l-1.2-3.9l-0.7-4.1l0.4-4l0.1-4l-1.7-4.2l-3.5-3.9l-4.1-3.9l-4.3-4.5l-4-6.8l-2.8-1.5l-2.4-3.6l-3.2-4.4M923 765.2l-4.5-0.8l-3.2-2.4l-1.6-3.8l-1.2-4.2l-1.8-4.1l-2.2-3.8l-2.7-3.7l-3.3-3.9l-3.9-4.2l-4-4.3l-3-4.2l-1.3-3.8l0.1-3.8l1-3.9l1.3-4l0.5-4l0-4.2l1.2-4.3l1.8-4.3l0-3.8l-1.3-3.6l-0.4-4.2l1.4-4.8M1970.5 781.5l-4.7-3.4M1445.2 1005.7l-1.2 4.1l-2.5 4.1l-2.2 4.2l0.3 4.5l2.9 4.9M605.5 1101.9l-3.2-4.5l-2.8-4.1l-1.7-3.7l-0.4-3.6l-1.4-3.8l-4.6-4.2l-1.4-4.2l-2.3-3.9l-2.1-3.9l-1.9-4l-1.2-4l-1.4-3.9l-2.6-3.1l-4-2.4l-4.3-3l-4-3.9M1570 870.5l2.6-4.2l1.3-4l0.3-4l0.2-4.2l0.8-4.3l1-4.1l0.3-3.8M849.3 1121.8l4.7 3.7l4.4 3.9l3.8 4.3l2.8 4.3l2.3 4.2l3.1 3.8l3.8 4l3.8 3.8l4 3l4.1 2.7l2.9 3.1l0.7 3.7l-1 3.6l-0.4 3.7l1.4 4.3M669.2 1172.9l5.1 4.9M925 646.2l-3.6 1.1l-3.4 0l-3.6-0.5l-3.9-0.2l-4.2-0.5l-4.5-1.6l-5.6-2.7M1693.4 806l-3.7-2l-2.5-2.9l-1.7-3.5M1577.5 439l-3.4-4.9M1638.4 442.4l-1.8 4.3l-2.4 5M1145.7 450.4l-3.7-0.8l-3.8-1.4l-3.9-2.8l-4.1-4.2M926.3 730.7l2.5-4.8l1-4.2l-0.5-3.8l-1.3-3.7l-1-3.9l-0.4-4.6l-0.1-5.9M1870.7 761.4l-1.3 4.7l0.3 4.1l2 3.8M1009.5 1103l-3.4 3.7l-4 6l-4.5 1.3M1205.4 1156.9l0.4 5l0.7 4.5l1.1 4.1l1.6 4l2.2 3.8l2.7 2.8l3.3 2.2l4.1 3l4.5 4.1M374.5 1309.5l-4.4-0.4l-4.4-0.7l-3.8 2.4l-3.7 2.1l-3.6 1.5l-3.6 1.7l-3.1 2.7l-1.8 3.6l-0.6 4.5l3.9 2.9l2.7 4.1l0.2 4.1M462.4 1366.3l-0.9-4.5l0.1-4.2l-0.5-4l-1.4-4.2M1153.3 505.8l-3-4.2M2086.9 530l3.6 0.2l4.8-0.1l1.6 3.7l1 3.3l-4 1.9l-4.1 0.7l-4 0.8l-3.8 0.9l-3.9-0.3l-4.1-1.6l-4-1.8l-3.9-1.5l-4.1-2.4l-4.2-3.5M1086.1 570.8l3.7-3.1l3.8-2.6l4.3-3.2l5.5-4.1M2054.2 621.3l-4.2-1.9l-3.9-0.7l-3.8 0.9l-4 1.5l-4.1-0.3l-4.1-2.9M2070.9 743l-4.2-1.8l-4-2.8M761.6 953l-3.9-3.2l-3.6-3.5l-3.8-3.9M1457.6 974.3l4.2 3.7l4.2 4l4.5 4.1M1161.8 1122.6l-3.4-0.4l-3.9-0.4l-4.1 0.2l-4.1 1.4l-4.3 2.9l-4.2 3.8l-3.8 4.2l-3.8 4.6M1390.5 1177.7l-1.6-3.9M358.5 1325.3l-3.2 4.6l-3.2 4M954.4 597.7l-4.1 1.6l-4.1 1.9l-4.1 3M1245.2 1165.2l4.6 2.9l4 1.5l3.8-0.4l3.8-1.8l4-2.6M470.3 1338.1l3.8-4.5l2.4-4.2l-0.2-3.7M1357.6 382.3l1.9-4.3l1.2-4.2l-0.6-4l-2.4-3.8M1169.8 402l4-1.6l3.9-1.5l4.1-0.5M1209.8 401.4l-4-3.9l-2.5-3.7l-1-3.9l-0.7-4.9M1141.8 414.8l-4.2 2.1l-3.9-0.4l-3.9-2.6l-4.1-2.5l-4-1.2l-3.8-1.5l-3.6-2.6l-4-2.5l-4.4-1.5l-4.1-0.5l-3.6-0.2l-3.6-1.3l-4-3.2M1709.5 425.4l4.3 1.7l4.1-1.2l3.6-2.9l3.8-1.5l4.7 1.3M1978.3 425.9l4 2.7M2018.6 425.8l-4.8-0.5l-4.4-1.4l-5.2-1.9M1534.5 422.7l3.9 0.4l3.9 0l3.9-0.2l3.8 0.8l3.1 2.5l2.7 3.4l2.9 2.9l3.4 2.7l4 4.2M1137.4 423l-3.7-6.5M938.6 597.1l-4.3 2.9l-4.9 1.4l-3.8 4.3l-3.8 4.2l-3.6 3.6M1859 766.4l-3 4M1887 764.9l-4.4 3.3l-4.1 1.8l-3.9 0.2M1129.1 1106.9l4.7-0.4l4.3-0.4M705.8 1129.7l-4.8 0.8l-3-1.3l-4 1.1M490 1229.1l1-3.2l0.3-3.8l-1.7-4.1l-3.5-3l-4.2-1.7l-4-1.1l-3.8-0.1l-3.6 2l-4 3.7l-4.2 3.6l-4.2 1.8l-4.2 0l-4.2 0.2l-4.1 0.4l-4 0.1l-3.8 0.5l-4 1.3l-4.2 2.1l-4.2 2.8l-4 2.2M466.5 1410.6l3.8 0.1l3.8 0.9l3.7 1.4l3.8 0.6l4.1-1l4 1.3l4.4 1l4.3 1.6l4.2 2.3l4 2.8l3.9 2.7l3.8 2.5l3.9 2.3l3.9 2.3l2.9 3l1.8 3.6l0.5 3.9l-2 3.9l-3.8 4.2l-3.4 4.2l-1.5 4l0.6 4.2M2062.5 842.2l-1.9 4.1l-2.9 3.7l-3.8 2.5l-4.6 0.2M601.1 1210.1l-3 1.1l-3.6-0.9l-4.5-3.3M462.3 1253.9l-4.5-0.6l-4.1-1.4l-3.9-2.3l-3.8-3.2l-3.8-3.2l-4-1.9l-4.2-0.3l-4.4-0.7M1862.6 766.2l-6.6 4.2M621.5 1045.5l-5 0.7l-2.8 2.6l-5.2 1.6M585.4 1122.2l-1.4 3.6l-2.1 3.8l-2.1 4.1l-1.4 4.2l-1.7 4.3M925.1 666.8l-2.3-4.7l-2-4.3l-2.7-3.6M555 1185.7l4.3-0.2M1334.1 381.7l-0.6-3.8l1.4-4.1l3.3-4.2l3.8-4l2.3-4l-0.5-4.2M1006.9 605.7l-4.8-0.9l-4.1-0.9l-3.9 0.5l-3.8 2.5l-3.7 3.7l-4.1 3.7l-4.5 2.7l-4.9 1.4M2049.5 682.1l4.5-1.5l4.2-2.6l4.2-3l4.3-2.4l4-2.8l3.9-3.9l-0.5-4l0.1-3.8l1.1-3.9l2.6-4.1l3-4.2l2.7-3.9l3-3.6l3.8-3.2l3.8-1.7l3 1.2l2.2 2.9l2.9 2.4l4.3 1.1M926.1 690l-4-2l-4.1 0.5l-4.1 3.4M1723 810.7l2-4.3l2.2-4.1M946.4 1101.4l-2 4.9l-2.6 5.9M477.8 1293.6l-2.1 4.2l-0.4 4.3l0.8 4l-0.4 3.8l-2.9 4.2M1678.9 813.2l-1.1-5.1M650.4 1014.3l-3.1-4.3M985.5 1105.5l4.2-0.3l4.2 1.6l4.4 3M667 1196.9l3.8 1.6l3.6 0l3.2-0.6M925.1 629.9l-3.5-3.9l-3.6-3.9l-4-4.4l-4.5-5.6M2026.8 821.8l-4.6 4.1l-4 4.1l-3.9 4.2l-4.4 4.1l-4.3 3.5l-4 2.4l-3.9 1.3l-3.9 0.6M1466.3 966.2l6.5 3.2M1427 1150l0.7-4.3l-0.7-4.1l-2.1-3.9l-2.9-3.8M1465.5 398.8l-1.4-4.4l0.2-4.1l1-4.3l1-4.4l1.4-4.1l1.8-3.6l1.7-3.5l1.6-4l1.7-4.4l1.8-4.3l2.2-3.6l3.2-2.6l4.3-2.3l4.2-2.9l3.8-4l3.6-4.4l3.8-4.2M1941.1 781.7l-0.5 4.2l-0.9 3.7l0 3.7l0.8 4M1445.3 1037.1l-3.8 3l-5.1 2.5M494.8 1215l-4.5-2.8l-4.3-0.6l-4.1 1.7M1317.1 1225.2l0.3 4l-1.6 4.4l-0.2 4l0.3 4.5l2.9 4.2l5.8 3.8M1494.2 385.3l3.9-3.4l3.7-2.8l3.8-2.2l3.9-2.7l3.2-4l1.8-4.4l0.3-4.1l0.4-3.8l-2.1-3.9l-0.4-3.9l1.3-3.9l0.7-3.8l-1.5-3.6M1853.3 386.6l-2.3 3.5l-1.4 3.9l-1.4 4.3l-2.4 4.1l-3.5 3.6l-4 2.5M829.5 858.3l-3.7-4.2l-3.6-4.2l-3.6-4.1l-4.1-3.9M2073.2 406.3l-0.4 3.8l1.7 4l-2 4.4l-2.9 5.7M2046 410.9l-4 1l-4.1-0.2M933 597.4l-3.6 4M2057.9 714l-0.4 5.6l-4.8 2.6M689.8 974.4l-3.6 0.2l-3.2-1.5l-2.6-2.7l-2.7-3.1l-3.2-4.1l-4.1 0.8l-4 1.5l-4.1 1l-4.1-1.2l-4-2l-4.2-0.4M614.3 1061.6l-1.6-3.7l-3.1-3.8M874.5 1130.7l-0.4 3.3l1.1 3.7l2.9 4.1l3.8 4.5l3.5 4.2l1.6 4.1l-0.9 4.9M541.9 1142.2l-0.8 3.7l-1.8 3.7l3 2.9l3.6 2.6l3.9 2.7l4.1 2.5l3.9 2.3l3 3.1M1230.2 1166.6l4.3 3.8l3.7 3.8l2.5 3.8l0.8 3.7l-2.3 4.1M381.4 1297.7l-3.6 1.8l-3.9 2.8l-4.2 3.3l-4 2.8M1437.8 398l-0.9-3.4l-0.1-3.7l2-4.1l3.1-4.3l1.4-4.4l-0.6-4.2l-0.4-3.8l0.9-4.1l1.1-4.2l0.2-3.9l0.4-3.9l1.6-3.8M1670.3 819l3.5-5l4-5.9M1502.5 390.5l3.7-4.1l4-4.5l3.7-4.2l2.8-3.7l1.9-3.7l0.5-4.1l-1.4-4.2l-2.5-4.1M1522.6 403l3.9 1.9l3.8 2.2l3.8 3l3.8 2.9l3.7 2.6l4 3.3l4.4 4.8M2094.8 521.9l-0.3 4.2l0.8 4M2057.4 654.1l4.1 0.8l4 0.5l4.3-0.4l5.5-0.8M1510.1 905.7l3.8-3.4l4.1-2.9l4.2-1.4l4.2 0M618.3 1034.7l-0.4 3.7l-0.3 4l-1.1 3.8M489.2 1265.1l4.9-0.3l4.2 0.5l3.9 0.3l4-0.1l4.4-0.9l5-2.4l0.7-4l-0.3-3.9l0.1-3.7l2.3-3.3l3.7-2.5l2.8-2.9l1.2-4l1.1-4.1l2.8-3.2l4.1-2l4-1.6l3.9-1.9l3.9-3l3.9-3.7l4-2.4l3.8 0.1l3.1 2.1M469.3 1402.8l4.3 2.3l4.2 2.3l4 2.7l3.9 2.5M1409.5 386.4l-4 3.5l-4.1 1.3l-4.2-1.8l-4.1-3.5l-3.7-3.7l-3.5-2.9l-3.6-1.7l-4-1.4l-4.2-2.4l-4.5-3.3l-4.3-3.9l-3.6-4.2l-2.9-4.3l-2-4.1M1626.4 433.8l-4.4 0.3l-4.1 0.2l-3.9 1.2l-3.5 2.7l-2.9 3.7l-2.5 4l-3.2 4.1l-3.8 4.1l-3.9 4.5M925.5 621.3l-3.6-3.6l-3.7-4.2M1894.5 774.6l-4.2 3.7l-3.8 3.9l-3.1 4.1l-2.6 3.7l-3.3 2.2l-4.3 1.3M1813.4 793.7l4.4 1.3l4.2 0.7l4-0.4M1737.8 810.9l4.2 3.5l3.9 3.7l3.8 3.1l4 2.5l4.1 3l3.8 3.8l3 4l2.5 3.9l3.1 4l3.8 4.2M498.7 1221.6l-7.4 0.5M1125.4 529.3l-3.1-3.1l-3.7-2.5l-4.5-0.5l-4.8 1.1l-5.5 1.2M1089.6 553.8l4.2 1.3l3.9-1.5l3.7-3.5l3.4-3.5M866.4 809.6l-0.8 4.6M573.8 1127l3 3.1l3 3.6M466.5 1241l-4.2-2.2l-4.2-2.2l-3.8-2.9l-4-4.3l-4.7-5.6M1477.5 958.3l-2.7 3.7l-2.6 3.2M1110.5 538.8l-7-0.5M1541.3 882.4l4.7-4.3l6.1-4l1.3-4.4l0.5-4.2l-0.8-5.2M1045.9 1121.2l2.8-3.5l2.5-4l2.8-4l3.6-3.6l4.1-4.1l4.3-5.5M1801.9 409.1l4-1.1l3.1-2.4l2.3-3.5l1.7-3.9l1.5-3.8M402.6 1285.9l3.2-4.4l3.9-3.8l4.4-3.7l4.7-3.6l4.9-3.8M434.9 1398.9l-4.2-1.3l-1.6-4.1l-0.4-4l-1-3.7l-2.5-2.6M1298 381.6l-2.1 4.2l-0.3 4l1.2 3.9l1.1 3.9l1.2 3.8M1461.5 993.6l1.9 3.6l3 3.1l3.5 2.8l3.3 3.1l1.7 3.8l-0.5 4.9M554.5 1134.8l-2.4 2.9l-0.3 3.5l2.5 3.8l4 3.3l4 2.9l4.1 3M533.6 1194.4l4 0.7l4.4 1.2l4.3 1.4l4.1 1.7l3.9 2.9l3.7 4l2.7 4l2.2 3.8M654.6 1221.5l-4.1 0.6l-4 0.3l-4.1 0.7l-4 1.6l-4.2 2.3l-4.5 1.9l-5.3 1.1M445.5 1425.8l-3.8-3.7l-5.2-3.8l0.9-4.1l-0.1-4.1l-1.2-4.1l-2.6-4.3l-2.8-4.1M2242.1 798.2l4 3.8l4.2 2.7l3.9 1.4l3.6 1.3l3.6 1.7l3.9 1.7l4.2 1.5l4.2 1.2l4.1 0.4l4.1-1.1l4.3-2.6l4.1-3.4l3.8-2.9l4-1.5l4.2-0.3l4.1-0.2l3.8-0.5l3.9-3.5l3.9-3.2M897.3 1121.2l4.3 0.5l4.2 0M1342.1 374.7l-0.1-4.7l0-4.4M2063 633.1l3.3 1l3.6 1.3l3.9 2.2l4.4 2.5l5.4 1.9M2058 673.8l4.4 1.2M1794.4 802.9l3.8 3.4l3.2 3.8l1.7 4l0.2 4.1l0.6 3.8l2.5 3l3.7 2.6l3.9 2.8l3.9 3.2l1.2 4.1l2 4.3M1190.7 1169.7l3.8 4.3l2.5 3.9l0.9 3.3M1213.2 389.8l-4-3.9l-4.6-3.7M2103.1 494.6l-6-4.7M1646.5 830.4l3.9 3.6l3.8 3.8M1077.1 1119.1l0.4-4.8l0.4-4.3l0.9-3.9l0.9-3.9l1-4.1l1.9-3.9M474.5 1222.4l-4.7-0.3l-4-0.1l-3.5-0.6M490.6 1273.9l3.9-1l3.8-2.8l3.9-4.5M202.6 1354.7l-2.1-4.2l-2.9-3.1l-3.7-2.7l-4.9-3.2l1.4-4l0.9-3.7l1.2-3.7l0.8-3.8l-0.4-3.8l-0.7-3.9l-1-4.1l-1.6-4.3M1882.2 349.7l0.9-3.8l-1.5-3.7l-3.5-0.2l-3.6 0.4l-3.9 1.6l-4.2 2.6l-4.1 2.1l-4.2 1.1l-4.1 1.1l-3.9 0.8l-4-0.5l-4.1-0.8l-3.8 0.6l-3.8 1.6l-4.1 1l-4.4-0.1l-4.4-0.2l-3.9 0.1l-3.5 0.2M1013.9 1114l-4-0.2l-4.2 0.4l-3.6-1.5M697.4 1145.6l-3.8 1.2l-3.8 1.6l-4 1l-3.8 0.4M1282.7 1197.4l-6.6 0.5M1249.2 382l4.4-1.3l4.8 0.1l5.2 0.6l1 3.9l1.2 4.1l1.9 4.3l2.8 4.1l2.3 3.8l1.2 4l1.3 4.2M914.7 733l-1.8-2.9l-3-3.8l-3.8-4.1l-4-3.4l-3.9-2.6l-3.1-2.8l-2.4-3.1M1709.8 818l3.9 6l3.8-1.4l4.3-0.7l4.4-0.2l4.1 0.5l3.7 1.5l3.8 2.8l4.1 3.6l4.3 3.8l4.1 3.8l3.7 4l3.7 4l3.9 0.1l4.2 0l4.1 0.3l4.1 0.5M950.1 1109.6l-4.3 3.6M1930.3 402.2l-4.1 2.1l-4.2 2.3l-4.3 3.2l-4.3 3.8l-4.1 3l-4 2.4M975 594l-4.3-1.4l-4.4-3.1l-4.6-4.5l-4.1 2.1l-3.6 2.1l-3.7 1.9l-4 2.6l-4.4 3.7l-4.1 4.5l-3.7 4.8M1918.7 786.4l-4 3.8M857.8 1138.6l4.4 3.6l4.2 3.4l4 2.7l3.8 1.7M1486.4 381.4l3.8-3.7l4-3.8l3.8-4.3l3.4-4.3l3.2-4l2.7-3.6l2.3-3.6l3.1-4M2082.4 406.8l-1.5 3.4l-3 3.9l-5.4 4.4M2141 450.2l-3.6-1.9l-3.6-3l-3.4-3.8l-4-1l-4.4-2.6l-5.7-3.6M1749 809.3l4.5 1.6l4.4 0.6l4.2 0.2l4.2 0.8l4.5 1.4M838.5 837.5l-4.5 1.6l-4.5 1.8l-4.1 1.1l-3.6 1M2062.5 854.1l-2.9 3.9l-2.4 3.5l-3.1 2.2l-4.1 1.3l-4.5 2.1l-4.2 3l-3.9 2.3l-4 1.3l-3.9 1.5l-4 2.9l-4.4 4.5M1606 866.5l3.8-4.4l2.7-3.8l1.1-3.7l1.6-4.1l3-4.1l2.8-4l1.6-3.7l1.3-4.2l1.8-5.1M798.5 873.5l-3.5 4.4l-3 4l-2.8 3.7l-3.4 2.5l-3.8 0.4l-3.8-0.2l-4 1.6l-4.2 4.1M733.9 1129.4l-4-1.2l-3.5-3.1l-4.2-0.3l-4.2 0.4l-4 0.5l-3.8-0.9l-3.9-2l-4.7-1.4M1306.9 1221.9l0.7 3.3l2.7 2.8l3.7 2.5l1.8 3.1M1369.3 1233.6l-0.9 4.3l1.6 4.2l2.7 4l1.8 4l1.4 4.1l2.5 3.6l3.4 1.3l4-1.7l4.3-2.4l5.5-1.2l2.5 3.3l3.8 2.7l4.4 2.6M365.1 1299.1l-3.6 3.6l-3.9 3.9l-4.9 4l-1.7 5.5M1271 378.8l-3.7 3.2l-2.7 3.3M1826.5 394.9l1 3.8l-1.6 3.8M2069.7 718.5l-4.2-0.3l-4 0.2l-4 1.2M1449.5 1046l-3.9-3.1l-4.1-2.8M778.8 1122.5l2-4.2l2.4-4.1l3.4-3.4l4.1-2.3l4.1-0.5M1350.2 1257.8l-4.2 3.8l-4.6 4.5l-4.1 1.3l-4.2 3M406 1278.1l3.7-0.4M378.9 1350.9l-4.7-2.4M477.5 1354.2l-2-4.3l-0.3-4.2l1-4l1.4-3.8l1.4-3.8l0.2-4.1l-2.9-4.3M2085.6 601l4 4.8l3.5 4.2l2.7 3.4l-0.2 4l2.3 4.2l4 4.2l3.9 3.6l3.9 2.6l4.1 1.1M513.2 1186.4l4.6 2.8l3.3 1.6l2.5 3.7l2.7 3.8l3.5 2.7l3.8 1.9l4.2 1.8l4.4 2.3l4.1 2.9l3.7 2.8l3.8 3.3M1914.5 394.5l-2.8-4.4l-1.8-4.2l-1.5-4.2l-2.4-3.9l-3.6-2.9l-4.2-2.5l-4.1-2.4l-4.1-1l-4.3 1.2l-4.2 0.8l-4.1-1.2l-4.1-1.4l-3.8-0.7l-3.4-1.9l-2.8-3.6l-2.5-4.4l-3.2-4l-3.6-2.9M1786.5 409.9l3.7-3.7l3.6-3.9l2.8-4.1l2.3-3.9l3.1-2.9l4.5-1.1l6.3 0.1M1702.6 414.1l3.8-4.2l3.9-3.6l4.2-1.9l4 0.7l3.5 2.1l3.5 2.2l3.8 2.3l3.1 2.9l2.8 3.5l3.1 3.5M1555.1 417.7l2.9-0.1l3.4 0.3l4.5 1.5l5.6 2.6l3.5 2.5l4.3 1.5M1678.2 422.1l0.1-3.9l0.2-3.8l0.1-4.1l-0.4-4.4l-0.3-4.1l1.1-3.8l2.6-3.9l2.5-4.1l0.8-4.2l-0.1-4.1l0.6-4.1l1.2-4.7M2098.9 561.3l-4.4-1.2l-1.9-2.7l0.6-3.6l1-3.6l0.2-4.4l-0.5-6.8M1498.3 933.5l0.7 4.1l1.4 4.3l2.8 4.3l4.7 4.1l2.9 3.8l6.4 3.8M619 1005.4l3-3.5l3.8-1.2l3.8-1.3l3.8 0.3l4.3 1.2l3.6-0.3l1.6-2.7M1049.4 1130.1l4.2-3.6l4.4-2.9l4-1.4l3.7-0.1l3.7 0.3l1.7-4.1l0-4.2l-0.7-4.2l-0.1-4.1l1.3-4.2l2.4-4.7M709.5 1141.4l-3.5-3.8l-2.7-3.8l-2.3-3.3M1165.1 1158l-3.8 3.5l-3.6 2.5l-3.6 1l-3.8-0.3l-3.9-1.7l-3.8-2.5l-3.9-3l-4.2-3.2l-4.4-3.3l-4.9-1.8l-6 0.6M527 1169.4l3.7 0.5l4.5 0.4l3-2.9l3.8-1.5l3.8-1.3l3.9-1.8l4.2-2.5M486.4 1425.3l3.8 1.6l3.9 2.7l3.9 3.8l3.4 4.1l3 4l2.9 3.9l2.8 4.1l2.7 4.3l3.8 4.4M1663 425.4l-4.4 4.5l-4 4.2l-3 3.8l-2.6 3.7l-3.3 3.7l-4 3.1M2067 654.2l2.8 0.8M1554.7 886.2l-1.3-3.8l-1.3-4.1l0-4.2M608.9 1042.1l-3.3 5.6M1222.5 1173.6l1.1 4.5l-0.7 4l-1.4 4.2M489.7 1297.3l-3.7 4.2l-4.4 4.2l-5.9 4.2M470.4 1437l3.8 4.4l4.3 4.5l4.4 4.3l4 3.9l3.8 3.2l3.8 1.8l3.8 1l3.8 1.9l3.8 2.1l4.1 1.2l4.2 0.5M1154.9 386.2l-4.8-4.2l-4.2-3.9l-2.7-3.8l-0.8-3.9l0.9-4.2l1.4-4.3l-0.4-4l-2.9-3l-3.8-2l-3.9-1.6l-4.3-1.5M1130.5 393.1l-4-0.5l-4.2-0.3l-4.1 1l-4 1.8l-4 0.9l-4.2-0.4l-4.3 0.1l-3.8 2.1l-3.3 2.3M1945.5 401.7l0.7-3.8l0.4-4.1l0-4.1l0.1-3.6l1-3.6l1.5-4l0.6-4.2l-0.8-4l-0.4-4.3l1.1-5M1635 426.7l-4.6-3.2l-4.4-1.6l-4.3-0.1l-4 0.3l-3.9-0.2l-3.8-1.3l-3.7-2.5l-4.1-2.3l-4.5-0.8l-4.3 0.3l-3.7-0.5l-3.4-1.7l-3.2-2.6M2129.5 434.1l-3.8 0.2l-4.2-0.1l-5.2 0.1M501.3 1246.6l7.5-0.9l2.4 2.9l4.9 2M185.7 1350.3l0.5-4.4l2.8-4.4M477.3 1397.4l4.3 3.4l4.4 2.6l4.1 3l2.8 3.9l1.2 4.6M619 1234.2l3.1-1.7l2.3-2.5M2065.5 385.6l4.2 2.9l4.3 1.6l4.2 1.4l4.2 2.2l1 3.8l-2.6 4.3l-2.5 4.3l-2.2 4l-1.6 4M2065.5 665.7l4.1-1.2l4.5-2.6M769.1 914.5l0.7-4.4M1379 1222.6l3.3 0.8l3.4-0.2l3.7-0.7l4.1-0.4l5.1 0.1l1.1 4.2l0.2 4.2l0 3.9l0.6 3.7l-0.3 3.6l-2.2 3.9l-2.3 4.1l-0.1 4M257.1 1309.2l4.8 3l4.3 1.4l4-1l3.7-3l3.1 3.8l2.3 3.6l2.7 3.1l3.9 2.8l4.3 3l4.1 2.6l3.8 1.2l4.1 0.1l4-0.1l3.8 0.2l4 1.2l3.8 2.7l2 3.7l0 4.1l-0.1 4.3l0.9 4.3l1.1 4.2l0.8 4.1l1.6 4l3.3 3.7M1075 558.4l2.1-4.8l1.1-4.2l1.5-3.5l2.6-3.4l3.6-3.2l3.9-2.3l4-1.4l4.5-1l5.4-0.7M1530.1 898.2l-1.9 4.3M793.9 1133.9l4 1.5l4.5 3M182.9 1362.9l-2.5-4.6l-0.3-4l2.5-4l3.6-4.4M1965.6 802.8l-3.5 3.4l-2.4 3.8l0.1 4l1.2 4.1l0 4.1l-1.2 4.2l-0.2 4.2l1.3 4l2.6 3.8l3.8 3.4M1438.5 1070.1l-0.3-4.2l-0.2-4l-1.7-4.2l-4.3-4M585.6 1097.7l-1-3.8l2.2-3.7l2.2-4l1.9-4l0.5-4.2M637.7 1238l-4.2 0.1l-4.5 0M1598.7 422.2l-5.3-6.9M1021.4 590.9l1.4-4.6l1.4-4.3l1.1-3.9l0.7-4l0.7-4.3l0.9-4.7l1.8-6.3M910.8 713.1l-1.6-3.7l-1.7-3.9l-1.2-3.9l-0.8-3.5l-1.1-3.6l-1.4-4.1l-1.9-4.7l-2.5-5.5M1881.1 780.9l2.3 5.4M850 1143l3.8 3.7l3.7 3.9l3.6 5l3.9 2.4l3 3.9l1.8 4.1l1.8 3.9l2.5 4.1l2.2 4.4l1 4.6M601.1 1229.2l-3.2-3.9l-3.7-3.8l-4.3-4.7M507 1254.9l3.7-2l5.4-2.3M437.4 1429.2l-1.9-3.6l-0.1-3.6l1.1-3.7M1990.4 410.2l3.9 0.1l6.1 0.3M1122.2 1121.1l4.1 4.3M762.8 1126.5l-2.4-3.7l-3.2-2.8l-3.5-1.5l-3.5-0.4l-3.7 0.1l-4.1 1.1l-4.1 1.9l-3.9 2.2l-4 1.5l-4 0.2M506.3 1237.9l1.4 4l1.1 3.8M205.9 1370.9l4.2-1.5l4.1-0.4l4 1.4l3.9 2.5l3.6 2.7l3.9 3.1l4.1 3.6l3.9 3.7l3 3.6l2.1 3.5M194.4 1384.9l-4.6 4.7l-3.4 4.3l-1.6 3.9l0.1 4l0.6 4.2l0.5 4.2l0.1 4l0.2 4.1l1.2 4l2.2 3.9M1221.3 377.6l1.1-3.9l0.5-3.8l-0.4-4l-1.8-3.9M1445.4 385.6l0.1-3.9l-2.2-3.6M1802 398.2l4.8-3.9l6-3.9M1138.2 486.5l-6.1-0.3M1010.4 590.5l-4.1-4.1l-3.8-3.6l-3.9-2.7l-4.2-1.8l-4.4-1.8l-4.4-2.5l-4.2-3.5l-3.9-3.9l-3.8-3.1l-3.8-2.3l-2.9-3l-1.5-4l-0.9-4.1l-1.2-3.7l-0.8-3.9l0.9-4l2.7-3.9M2065.6 687.1l3.2-4.6l2.3-4.5l2.1-4.2l2.6-3.8l-1.2-4.1M1705.4 826.2l4.3-0.8l4-1.4M2301.5 893.1l1.3-3.5l-1.8-3.7l-3.3-4.1l-1.7-4.3l0.9-4l2.5-3.3l3.1-2.6l3-2.4l1.2-3l-1.6-3.1l-3.2-2.6l-2.5-2.8l-0.3-3.7l0.5-4.2l-0.4-4.1l-0.8-3.8l-0.3-3.8l0.2-4.1l1.2-3.7l2.6-3.2l3.4-2.8l2.2-2.9l0.3-3.7l-0.8-4.2l0.3-4.3l2.7-3.8M959.1 1118.7l-5.1 0M1074.6 1129.4l-2.2-3.2l-3-3.8M1389.8 1206.2l3.5 3.9l2.8 3.9l1.4 4.1l1.1 4.1M521.7 1209.2l4.4 0l4.1 0.6l3.6 1.6l2.4 2.6l1.3 3.5l1.6 4.1l2.9 3.5M674.8 1229.1l-0.2 4.3l-1.4 4.5l-3 4.5l-4 4.2l-4.1 3.8l-4.2 4.2l-4.3 5l-3.9-0.7l-3.9-0.1l-3.9-1.8l-3.6-5.3M310.3 1326.7l3.7 4.4M329.4 1341.3l-4.3 4.8l-4.5 4.1M1121.9 517.2l-3.7-1.9l-4-1.2l-4.2-0.5l-4.2-0.1l-3.9-0.8l-3.3-2.5M1054.4 573.8l-4.3-3.5l-4.2-4.1l-4-4.4l-3.9-4.2l-4.5 0.8l-4.1 0.4M813.3 853l-3.2-0.7l-3.8-1l-4.4-0.9l-4.4-0.2l-4.7 0.1M1145.2 1134.1l-3.3 2.7l-3.9 3M1445.7 1150.9l-3.5-1.1l-2.8-4.1l-1.5-3.9l-1.2-4.1l-1.7-3.9l-1.2-3.7l-0.3-3.7l-0.6-4.3l-1.5-4.5l-1.2-4.7l-0.3-5.8M1437.7 1161.4l1.2-3.7l0.8-3.9l-0.3-4.1l0-4M417.1 1395l0.6-5.1l0.2-7.1M1854.3 362.4l-1.4-4.7l-2.8-6M1513.7 381.4l0.2-3.7M1134.9 386.5l-4.2-0.6l-4.1-1.3l-4-3.2l-3.9-6.1l-3.2-2.1l-2.4-3.8l-1.7-3.7l-1-3.4l-0.3-3.2M2037.6 398.1l-2.4 3.8l-2.5 3.8l-2.7 4.2M1902.7 789l-0.4 4.6l-0.2 4.3l1.3 4l2.8 4l2.8 4.1l1.4 3.9l0.2 3.9l-0.1 4.2l0.1 4.2l0.4 4.1M2042.7 849.6l-4 4.3l-2.6 4.3l-1.2 4.1M1578.1 893l1 4.3l2.6 3.3l3.8 2.6l4 3.1l4.1 3.8l4 4.2l4.3 3.7l4.4 2.5l3.9 0.9M670 974.4l2.9-4.8l1.6-6.4M922.2 1122.5l0.3 3.7l2.6 3.3M735 1137.7l-4.4-2.2l-4.2-1.5l-4-1.5l-4.2-2.7l-4.2-4.1M1370.4 1257.8l3.6 2.8l3.7 0.9l4.1-2.4M486.1 1349.2l-2.7-4l-2.6-3.8l-3.2-3.5M1174.7 382.7l-0.5 3.3l1.1 3.6l2.8 4.1l3.7 4.7M610.8 1003.1l3.7-1.5l3.7 0.1l3.8 0.2M1158.3 1153.8l-4.5 2.7l-4.1 0.5l-3.7-1.7l-3.6-2.5l-3.9-3.2l-4.2-3.6l-4.3-3.3l-4.3-3.6M322.4 1321.2l3.8 0.9l3.8-1.7l4.4 1.4l5 0.1l2.5 2.9l3.6 2.1M485 1385.6l4.2 4.4l3.9 4.3l2.7 3.9l0.8 3.8l0.3 4.2l1.7 4.1l2.3 4l1.7 4.5M2105.5 423l4.2 1.3l4.4 2.6l-0.5 5.6M2110.6 574.1l3.9-0.6l2.7 1.5l1.2 3.3l0.4 4l0.8 4.1l1.7 4.2l1.8 4l0.9 3.9l0.6 4.2l1 4l0.5 3.6l-1 3.6l-2.7 4l-3.6 4.4l-2.9 4.2l-1.5 3.5l-0.6 3.1M917 593.9l0.8 4.3l0.5 3.8l-0.1 3.9l-1.5 4l-2.9 3.5M2102.9 597.6l-3.5 4.2l-1.6 3.9l-0.8 3.8l-1.2 3.9M905.8 629l0.6-3.2l1.1-3.6l1.4-4.5l0.6-5.6M898.9 761.7l-4.8-3.8l-4.2-2.7l-3.9-2.1l-4-2.7l-4.1-3.7l-3.9-4.5l-3.8-5.2M894.4 771.1l-4.5-1.1l-4.1-1.7l-3.8-2.9l-3.7-3.6l-3-3.9l-2.3-4.1l-1.7-4.3l-1.1-4.1l-0.7-3.6M1821.1 805.9l4.8 2.9l4.1 2.3l3 3l2.5 4.1l2.8 4.2l3.7 3.8l4.1 3.6l4.1 3.5M2018.4 837.3l-4.5 4.5l-4.4 3.7l-4.2 2.8l-3.9 2.7l-3.7 3.4l-3.5 4l-3.4 3.8M793.1 866.2l-3.4 3.7l-3.8 2.3l-3.9 0.1l-4-1.3l-4.1-1.1M582.3 1097.2l2.3-3.3M446.8 1241.2l-4.6 2M1307 365.9l2.9-3.9l3.5-2.5l4.3-0.8l4.5-0.3l4-1.2l3.8-3l4-4.2l3.9-4.1l3.8-4l4.2-4l5 0.7M2122.6 486.3l0.6-4.2l0.3-4.3l-0.5-4.5l-1-5.3l-5.1-2.4M886.7 777.8l0.6-4.1l-1.5-5.4M741.3 942.2l5.9 4.6M1454.1 1053.4l-4.4 1.2l-4.1-1.1l-4.1-2l-4.3-0.2l-5.2 2.4M794.7 1142.9l6-1.3M521.6 1158.8l4.2 0l4.1 0.3l4-0.2l4-0.8l4.1-1.2l3.9-1.8M702.6 1157.6l-4.8 3.1l-4.2 1.2l-3.8 0l-3.9 0.7l-4.4 1.7l-5.1 1.7M1410.5 1189.7l-0.4-3.9l-0.2-4.5l-3.7-3.2l-3.5-4.2l-2.5-4.4l-1.3-4.1l-0.7-3.7M465.6 1208.9l-3.9 4.8l-3.8 4.6l-4 4.9M617.8 1241.5l4.2-3.7l4.7-3.7M414.1 1257.1l0.9-3.1M2110.5 521.8l-3.9 5.8l-2.8 2.9l-2.6 3.4l-3.3 3.2M545.8 1122.4l-4 0.4l-4.2 0.8l-4.1 0.4l-4-0.5l-4.2 0.2l-4.6 2.6l2.7 3.7l3.1 4l3.8 3.9l3.7 3.9l2.9 4.2l2.4 3.6M1014.3 1126l-3.8-1.8l-2.1-2.7l-0.9-3.7l-1.8-3.6M1437.6 1125.4l-4.7-3.3M1157 1169.1l-2.9-4.1M1249 369.9l4.3 1.3l4.1 1l3.1 1.9l1.9 3.5l1.2 3.8M1954.2 393.1l-1.7-3l-2.4-3.5l-2.4-4.1M2105 553.1l-3.2-1.2l-3.4-2.2l-4-3.9M989 585.6l-3.2-0.1l-3.8 0.1l-3.9-0.1l-4-0.6l-3.9-1l-4.2-0.2l-4.3 1.3M1465.4 1038l-1.1-4.8l-2.1-6.4M498.8 1332.9l-4.5-0.7l-4.2-3.1l-3.9-5.8l-4.3-0.5l-5.3-1.3M442.6 1461.1l3.6 0.6l3.6 1.4l4 1.9l4.3 2.3l4.1 2.8l3.7 3.4l3.8 2.7l4.1 1.5M922.3 569.1l-4.6-0.8l-4.2 0.8l-3.8 1.1l-3.8 0.2l-3.6-1.3l-3.1-2.7l-2.7-3.6l-2.9-2.9l-3.2-1.1M2077.9 626.4l0 3.4l1.3 3.5l3 3l4.4 2.1M2002.4 829.4l1.3 4.6M1034.6 1134.3l-4-1.4l-4-1.5l-4.2 0.7l-4.5 4.7l-3.5 0.2l-3.9 0.4l-4.4-1.1l-4.2-2.6l-4.2-3.7l-4.5-4.3M1390 1213.4l4 4.5l4.6 4.3M1366 1274.1l-4-2.1l-4.2-1.3l-4.1-0.9l-3.8-1.3l-4.1-1.7l-4.4-0.7M498.7 1337.8l-4.4-5.6M345.4 1349.1l-4.8 0.6M1481.9 369.2l1.7-3.9l2.8-3.8l3.7-3.9l3-4l2.3-3.8l2.6-3.7l3.5-3.9l3-3.9l1.8-3.7M2126.9 584.9l-5.6 5.7M1629.2 854l4.9 4.2l4.4 3.8l4.4 3.4l2.9-3.9l3.6-3.8l3.2-3.8l2.5-3.7l2.9-2.8l3.8-1.1l4.6 0l5.2 0.1M905.7 1133.3l3.8-2.6l4-2.5M585.8 1226.1l-0.2-3.8l0.1-3.9l0.3-4.2M353.1 1293.9l0.2 4.1l0.1 3.7l0 4.1l-0.7 4.8M233.4 1329.4l3.7 4.6l2.3 4.3l1.6 4.1l2 4l2.9 3.7l3.6 2.8l3.5 1.5M2141.5 474.7l-3.4-1.6l-5.2 0.7l-3.1-4.5l-3.7 0l-4.1-1.3M1957.1 805l2.6 5M1965 809.7l2.3 3.9l4.7 4.3M426.9 1250.1l-2.6-4.3l-4.2-4M1174.1 1186.1l0.1 3.8l1.2 4.1l2.4 4.1l1.8 3.8l0.2 3.6l0 3.7l1.1 3.9l0.7 4.3l-0.3 4.6M574 1218.1l-1.7-3.9l-2.9-2.8l-3.3-1M1297 1235.1l-3.3 1.2l-3.5 1.7l-4 1.1l-4.2 0.7l-4.2 2l-4 4.1l-3.9 5.1M409.7 1258.6l5.3-4.6M494.2 1442.8l3.9 1.1l4.1 2.5l3.9 3.5l4.3 3.9l6.2 4.4M1139.1 377.2l-4.2-2.5l-4.3-0.9l-4.2 0.6l-4 0.9l-3.7 0M1130.7 479l-5.1 1.6M917.2 581.4l-3 4.3l-3.8 4.4l-3.9 4.3l-3.2 3.8l-2.8 3.8l-3.2 4.9M901.6 661.8l-4.9-3.9M1813.4 814.8l1.7 3.1l0.4 3.7l0.3 4l1 4l1.1 4M1433.1 1177l-4.1-1.1l-5.1-2.1l-2.7-3.6l-3.6-2l-3.7-0.7l-3.9-1.2l-3.8-2.3l-2.9-3l-1.7-3.5M378.2 1277l-2.2-3.1l-0.4-3.4l2.1-2.6l3.7-0.6l3.8 0.1l3.2-1.6l2.7-3.5l3.2-4.1l3.6-3.5l4.1-2.1l4.2-0.9l4-0.9l5-0.9M1793.2 394.5l1.7-4.9l-0.1-6.2M1618.9 413.4l-4.7-1l-4.2-0.1l-3.9 1.2l-3.9 2.3M957.6 570.6l0.2-4.2l1.5-4.2l2.8-4.2l3.4-3.8M902.8 711.1l-4.3-3l-5.3-1.8M1982.2 822.5l-5.5 3.7M1526 917l4.2 4.6l4 4.3l3.5 3.9M626.4 994.2l3.8-1.3l3.9-2l3.8-2.3l4.1-2.4M1053.3 1146l4.3-2.4l3.8-2.4l2.7-3.2l1.4-4l0.6-4.1l1.1-3.7l2.2-3.8M1194 1186.5l4.2-0.9l3.6-1.2M261.7 1298.1l4.3 4l4 3.8l3.9 3.7M502 1298.2l-3.9 2.2l-4 2.5l-3.8 3.4l-2.6 3.9l-1.5 4.3l-4.2 3.5l-5.4 3.5M298.1 1318.9l4.3 3.5l3.9 3.6l3.7 3.9M505.5 1317.1l-3.7 0.3l-4 0.5l-3.8 1.5l-3.8 2.5l-4 1.4M346.1 1353l-5.5-3.3M1398.8 361.8l-4.1-3.9l-4.3-3.8l-4.1-3.9l-4.1-4.1l-4-3.7l-3.9-3.5l-4.3-2.9l-6.2-1.8l-3.8-4.1M1154.9 373.3l-4.3-4l-3.3-3.8l-2.6-3.6M900.9 674.8l-2.3-4.9l-1.7-4.3l-1.6-3.6M2075.1 686.1l0.6-4.4l1.1-4l0.2-3.8l-1.2-3.9M843 1149.2l3.6 3.3l3.3 2.3l3.4 0.9l3.8-0.3l4 0.2M1914.8 377.8l-4.4-0.4l-4.4 0.4M2150.9 467l-4.3-1l-4.3-0.3l-4.3 0.9l-4.3 1.6l-3.9 1.1M1070.1 546.9l-3.8 1.6l-4.1 0.1l-4.3-0.1l-4.3 1.7l-4.2 2.6l-3.8 2.3l-3.7 1.6l-3.9 0.9M1054.3 561.4l-4.2-0.8l-4-1.5l-4.2-2.4M2025.1 849.1l-3.7 2.9l-3.7 2.8l-3.6 3l-3.8 2.6l-4 1.3l-4 1.7l-3.9 3.6M1610.6 885l3.6-1.3l3.8-0.4l3.7 0.2l4-0.3l4.2-2l4.2-3.7l3.8-4.1l2.8-4l2.2-4M1514.3 933.8l-2.7 4.4l-2.2 4.1l-1.5 4l0 4M509.7 1273.1l4.1-3l0.6-3.9l1.2-4M217.2 1323l-3.5-4.6l-3.9-4.2l-4.1-3.2l-3.7-2.3l-2.6-2.5l-1.2-3.5M230.6 1337l3.4 2.7l4 3.2l5 3.5M1846.7 357.5l3.4-5.8M1553.3 402.5l5.6-0.2l1.5 3.9l2.1 4.2l2.8 4.3l3.1 3.9l3.1 3.4M2117.1 502.5l-2.4-4.6l-1.1-4.1l-0.1-3.8l0.1-3.9l0-4.4l-0.1-4.2l0.1-3.9l0-4.9M1746.1 830.4l4.4 4.3l4 4l3.6 3.7l3.5 3.4M2325.1 854l-1-3.8l-2.4-1.8l-3.5 0.2l-3.8-0.3l-4-2.4l-4.3-3.7l-4.1-3.9l-3.9-4.2M1485.1 982.9l-3.3 3.5l-2.5 3.6l-1.2 4.2l-0.3 5.4M578.5 1091l3.6-1.2l4.7 0.4M1130.5 1134l-4.4 2.4l-5.6 1.6M1065.8 1154.9l-1.4 3.2l-2.3 3.8l-2.6 4.3l-1.2 4.3l0.6 3.9l0.8 3.8l-0.3 3.9l-0.7 4.1l-0.4 4.5M1161 1182.6l3.4 3.5l1.4 3.8l0.1 4.1l-0.2 4.2l-1.5 4l-2.9 3.9l-3.2 3.9l-2.4 4.2l-1.4 4.6M281.9 1325.5l4.3 3.2l4.3 1.1l3.8-1.3M201.6 1335l-3.9-4.7l-4.4-4M430.3 1437.7l0.9-3.7l1.6-4.2l2.7-4.2M1365.3 353.7l-3.5-3.9l-3.9-3.9M1459.1 372.9l-2.2-3.2l-2.4-3.9l-1.7-4.1l-1.1-3.7l-2.1-3.8l-3.1-4M1126.2 493.7l-2.6 4.5l-1.4 4.5l-0.5 5.5M595.1 1045l-5.1 3.7M465.7 1453.7l2 4.4l2.9 4.2l3.6 4.1l3.9 4l4 3.9l3.9 3.4M1542.9 390.1l3.2 1.2l3.6 0.2l3.6 0.7l2.8 2.5l1.6 3.8l1.2 3.8M1081.3 530.7l4.3-0.1l4.6-1.4l4.1-3.2l2.8-4.3l2.2-3.9M647 987l-5.1-5M489.9 1182.7l4.9-0.5l0.8 4l-0.2 3.8l0.3 3.7l2.2 3.3l3.6 1.6l3.9-1.1l4.2-3.3l4.2-3.5l4-1.5M413.3 1406.2l-3.4-1.2l-3.9-1.7l-4-2.3l-3.9-1.7l-4-0.8l-3.9-0.4l-3.8-1.5l-3.9-2.6l-4.5-2.3l-4.4-1.3l-3.9-0.1l-3.3 0.4M1929.5 381.5l-3.1-0.9l-2.6-2.8l-1.6-4l-1.3-3.7l-2.6-2.8l-3.9-1.2l-4.4 0l-4.1-0.1l-3.7-1.3l-2.8-3l-2.3-3.9l-2-3.9l-1.6-3.9l-1.7-3.6l-2.9-2.7l-3.6-1.2l-3.7-0.3M1781.2 393.1l4.2-2.4l4.5-2.6l4.9-4.7M1118.9 465.6l-4.5-3.8l-4.3-3.8l-3.9-3.9l-2.8-3.9l-1.3-4.1l-1.3-4l-2.8-3.3l-3.9-2.3l-3.7-2.6l-1.4-3.6l1.8-4.6M954.2 562l4.2-2.2l3.7-1.8M2137.9 597.5l4.1-3.6l3.9-2.5l3.9-0.8l4.2 0.7l4.5 1.7l4.2 2.2l3.5 1.7l3.1 0.6M2101.5 610.9l-4.5-1.4M1526.3 925.1l2.2 4.6l0.4 4.1l0 3.9l1.2 4M2397 941.3l3.3 4.6l2.4 4.1l1.2 3.8l0.9 3.8l2.2 3.8l3.8 3.6M506.9 1170.3l3.7 3.3l3.7 2.5l3.7 1.3l4.2 0.6l4.4 0.2l3.7-1.2l2.6-3l2.3-3.7M1422.9 1189.2l-4.7-3.3l-4.4-2.5l-3.9-2.1M309 1347.1l0.9 3.3l0.3 3.7l4.4 2.6l4.4 2.6l5.1 3.2M166.4 1349.6l2.3-4.2l2.3-3.9l2.6-3.5l4 0.9l4.2 0.3l4.5-1.8l5-3.6M1845.1 343.1l-1.3 3.4l-1.8 3.9M1902.5 346.2l-4.9 0l-5.8 0.2M1230.7 364.9l-2.2-3.2l-3.2-2.4l-4.8-1.5M1645 410.1l-3.2-0.1l-3.7-0.1l-3.9-1.1l-3-2.7l-2.3-3.8l-2.1-3.9l-2-4l-2.4-4.3l-2.4-3.9l-1.6-3.4M1718 839l3.8 1.9l4 1l4.1 0.1l4.1 0.1l3.8 0.9l4 1l4.3 0.4l4.1 0.3l3.8 0.6l3.7 0.4M1733.5 838.8l4.3 4.2M541.4 1114.1l-2.3 4.7l-1.5 4.8M898.8 1155.1l-2.3 3.8l-2.9 3.9l-3.9 3.5M1197.6 1190.9l4.2-6.5M370.1 1274.1l5.5-3.6M1270.4 358.3l-3.6 3.5l-3 3.9l-1.9 4.1l-1.4 4.3M1175 369.8l-4.9 2.6l-4.4 0.4l-3.9-1.5l-3.8-2.4l-3.8-3.4l-4.1-4l-5.8-3.6M1434.7 369l0.8-3.8l-0.6-3.7l-1.1-3.8l-0.5-3.7l-1.1-3.8l-2.8-3.8l-3.7-3.1l-4-2.4l-4.3-2.1M1693.4 397.8l4.2 2.5l4 0.2l3.9-2.3l3.9-2.2l4.1-0.3l4.2 1.2l4.3 0.9l4.2-0.2l3.8-1.4l2.7-2.7l1.1-3.6l0.3-3.9l1-3.7l2.6-1.6l3.6 1.5l4.3 2.4l4.1 0.2l2.8-2.4l0.5-3.8l-0.8-4.3l0.2-4.2l2.5-3.9l3.9-3.2M2138.8 485.8l-1.6-4.3l-2-3.9l-2.3-3.8M2117.7 537.6l-3.4 0.2l-3.8 0.1l-4.3-1.2l-5-2.8M2085.4 629.3l5 5.9M2081.1 669.4l-4.1 4.5M858 786.3l-0.5 3.7l-1.2 4.1l-1.5 4.2l-0.9 4.2l-1.2 3.5l-2.7 2.4M765.3 865l3 4.7l1.4 4.5M825.1 1158.7l4.2 4l4.4 5.3M474.7 1194l-0.9 4.2l-0.5 4l0.3 4.1l0.5 5.8M454.4 1214.7l-4.4 1.4l-4.4 2.8l-4 5M653.7 1245.1l-4.3 4.8l-3.9 4.3l-3.6 2.8M1385.6 1246.5l4.7 1l5.4 2.3M236.9 1303l-3.3-1.8l-3.7-2.3l-4-2.6l-3.8-2.7l-3.8-2.7l-3.8 0.1l-3.5-0.9M510.1 1306.7l-4.2 0.8l-4-0.1l-4 0.2l-4.1 1.5l-3.9 2.3l-3.7 3.1M2065 365.6l4.4 3.3l4 2.4l3 2.7l2.2 3.5l1.8 4.2l1.2 4.2l0.5 4l0.3 3.8M1981.3 831l1.5 3l1.5 3.5l3.6 4M1633.7 860.9l4.2 5.4l5-0.9M2077.9 885.3l5.6 4.3M1585.2 909.8l4.9 4.3l4.5 3.9l3.9 2.7l3.8 0.8l4-1M1538.8 913.2l0.1 4.4l-2.1 4.5M590.3 1013.9l-4.4 1.9l-4 2.6l-4.1 3.3l-3.6 3.9l-1.8 4.2l0.3 4.2l-0.2 4l-2.3 3.9M529.5 1222.3l4.3-0.3l5.3-0.4M1281.8 1226.6l-4.2 3.5l-4 3.5l-3.9 2.6l-3.7 0.4l-4-1.7l-4.2-2.4l-3.8-1.8l-3.5-0.9M630 1266l3.9-4.2l3.9-4.2l0.5-5.9M514.3 1278.2l-0.4-4.1l-0.1-4M393.3 1385.8l-1.3-4.2l-2.8-5M1306.9 353.3l3.7-1l3.8-2.4l3.7-3.4l3.5-2.7l4.2 2.1l4.1 1.2l4.2-1.8l4-3.7l3.7-2.9l4.1-0.8M1406.4 357.1l-2-3.5l-2.8-3.9l-3.7-4l-3.8-4.1l-3.8-3.8l-4-3l-4.2-2.7l-4.4-3M761.2 877.7l3.6 5M717.7 943l4.2-2.2l4.2 2.3l4.3 2.7l4.2 2.8l4.2 2.6l4.4 2.9M1485.5 998.4l-4.8 4.2M589.7 1030l-3.5 3.5l-3.7 4.1l-4.4 4.7M1474.1 1149.4l4.1 0.5l4.6 0.5l1.7-4l0.8-4.2l-0.9-4.2l-1.4-4l-0.9-3.6M1233.3 1196.9l3.9 4.7l3.1 4.5l2.4 4.4l2.6 4.1l3.7 3.6M1395 1230.1l4.9 4.4M350.4 1280.9l-2.8 4.6l-2.5 4.5l-2.4 4.2l-2.1 3.9l-0.7 3.9l0 4.1l0.1 4l-0.8 3.8l-2 3.9l2.2 4.1M1313.9 1281.9l-3.6 1.3l-3.8 2.5l-3.1 3.7l-2.7 4.2l-3.1 4.7M222.7 1309.7l-4.3-1.5l-4.2-2.6l-4-2.4l-4.2-0.9l-4.2 0.2l-3.6 0.2M166.4 1366.4l-4.2 3.3l-4 2.8l-4 2.5l-3.8 2.2l-3.5 1.7M1817.7 373.5l-3.7 4.4l-3.8 5.5M2093.9 378.5l-4.5 3.2l0.6 4.4l-1.1 3.9l-2.6 3.7l-2.9 3.8M2017.7 389.6l-3.5-2.9l-3.9-1.4l-4.2 0.3l-4.4 0.4l-4.1 0l-3.4-0.4M1741.1 393.5l4.7-3.9l3.9-4.8M705.9 1194l-3.7 4.1l-4.2 5.3l-3.7-2.8l-3.9 0.8l-4.6-0.1l-5.4 0.8M530.1 1269l-4 0.4l-4.1 0l-4.1-1l-3.5-2.2M1382.6 1270.7l3.8-3.1l3.9-1.6l3.8-1.2l3.7-2.4l4.1-2.6M1354.6 1281.8l-3.9-2.7l-4.2-2.2l-4.3-1.9l-4.1-1.2l-4.5-0.1l-5.6 0.2M2130.5 414.3l-3.8 4.1l-3.1 3.9l-1.9 3.5l-3.9 3.3l-4.2 3.4M1786.4 826.9l-0.2 3.4l-0.2 3.6l-1.7 3.8M1677.3 846l-2.8 4.6M698.1 941l0 4.7l0 4.4l-1.3 3.9l-3.1 3.1l-3.9 2.3l-3.6 1.4l-3.7 0.8l-3.9 0.8l-4.1 0.8M656.9 954.2l-4.1 3.8l-2.8 4.9M1478 1034.7l-1.4-4.9l-3-4.2l-4.7-3.9M537.3 1109.2l-3.6 4.3l-3.9 4.3l-4.5 5.9M966.8 1134.9l-3-4.8l-1.9-5M806.6 1161.2l5.3 0.2M1218.9 1194.3l3.2-4.2M366.8 1370.5l0.7-4.3l-1.7-4.5l-2.5-4.5l-0.7-4.9M165.2 1377.8l-3.3 1.7l-3.6 2.5l-3 3.3l-2.2 3.8l-2.9 3.3l-4.1 2.4l-4.4 2.2l-3.9 2.4l-2.5 3l-0.9 3.5l0.3 3.1M1362.1 346.2l-4.1-4.3M1982.3 391l3.7-1.8l3.7-2.8l2.1-4.8M2114 410l3.1 4.5l-1.4 4.2l-1.1 4l-0.5 4.2M2141.8 414.3l-3.8 1.1l-4 1.7l-4.1 2.1l-4.1 3l-4.1 3.6M2154.2 474.1l-4-4.2l-3.6-3.9M1085.7 517.1l4.3 0.4l4.1-1l4.2-2.4M1887.1 803l-4.6 3.3l-4 3.8l-2.7 4.3l-1.1 4.5M821.2 817l0.2 4.3l0.4 4.5l0.4 4.4M773 857.4l1 4.8l4 3.5M1645.3 857.1l4.1 0.6M1629.5 870.6l4.1-2.6l4.3-1.7M1509.2 958.6l8-0.7M1454 1169.3l-0.7-3.4l-1.2-3.7l-2.5-3.8l-3.6-4.2l-3.8-4.4M1430.6 1190.2l-3-4.2l-1.7-4.2l-0.7-4l-1.3-4M500.9 1385.8l5.2 4.4l6 4.3l2.7 3.5l3.1 2.4l3 1.1M2045.7 366.2l-3.8 1.4l-3.7 2.5l-3.6 3l-3.8 1.6l-4.1-0.7l-4.1-2.1l-3.2-2.7l-1.9-3.1M2037.4 378.8l-3.3-1.1l-3.3-3M1097.5 418.1l-3.4-2l-3.8-2.8l-4.1-3.2M873 770.7l0.7-4.8l-0.8-4.4l2.4-3.6M910 1146.7l4.2-4.6l3.8-3.2l3.8-2.7l4.9-4M786 1153.6l4.2-2.1l3.9-0.3l3.6-0.1l3.8-1.5l4.4-2.4M497.2 1169.7l-2.2 4.1l-0.9 4.1l0.7 4.3M1341.7 346.3l6.6-4.1M1366.6 345.8l-1.5-3.6l-0.3-3.9l-1-4.1M1502.4 353.6l1-4.1l-0.6-3.7l-1.3-3.6M1766.7 386.8l3.5-1.7l3.8-3.2l3.5-4.2l1.5-3.9l-1.1-3.4M1766 829.8l3.4 4.4l2.4 4.3l1.3 4.1l0.9 4M638.9 983.1l4.2-5.1M513.4 1110.3l-0.9 3.7l1.7 4.1l3.6 5.4l2.9 2.8M509.7 1137.1l-2-3.3l0.1-3.5l2.6-4l4-4.1l3.4 1.3M742.8 1153.4l-4.6 3.4l-3.9 3l-2.7 3.1l-1.3 3.7l-1.3 3.7l-2.7 3.4l-3.7 2.5l-4.1 1.5l-4.3 1.5l-4.2 1.6l-3.9 1.2l-4 1.7l-3.9 2.8l-1.9 3.6l0.2 3.7l0.1 3.9l-2.3 2.9M452.9 1198.8l-3.4 3.3l-2.3 3.8l-1.2 4.4l-1.1 4.2l-1.7 4.3l-1.6 5.1M500.9 1357.9l-3.4-3.9l-3.6-3.9l-3.8-4l-4.2-4.1l-3.9-4.1l-3-3.8M1368.9 346.2l-2.1-3.9l-2-4M1198.7 366.3l3.8-0.1l4.1-1.3l4.2-2.8l3.7-4.1l3.7-4.3M1989.2 390.8l0.5-4.4M909.7 557.6l-3.7-0.8l-4.3 1.7l-5.2 4.3M2142.1 585.8l3.8 5.6M858.1 1165.6l4.1 4l3.7 4l2.5 4.2l1.2 4.2l0.5 4.1M486.1 1174.7l3.7 3.6l5 3.9M410.4 1242.2l3.8-4.6l3.4-4.1M312.9 1305.7l4.9 4.3l4.5 4.1l3.9 3.6l3.8 2.7M161.2 1393l-3.7-1.1l-4.4-2.8M193.3 1406.9l0.5 3.6l0.1 3.8l-0.2 4l-1.2 4l-2.8 3.9M1836.9 342l0.8 4l0.5 5M2085.3 369.1l2.1 4.1l1 4.1l1 4.4M1105.5 373.9l0-3.7l-0.9-3.9l-2.4-4.4l-3.4-4.5M2103 382.4l-4.4-0.3l-4.1 1.3l-4.5 2.7M885.6 638.9l2.8-4.8l1.5-4.4l0.2-4.2l-0.3-4l-0.1-3.9l0.1-4.6M866.5 774.3l1.4-4.2l2.3-4.4l2.7-4.2M1697.3 846.6l-3.6-0.3l-3.9 1.1l-3.9 2.8l-3.3 3.9l-3.5 4.3M2042.5 874.1l-5.1-1.7M1585 918l4.7 0.1l4.9-0.1M710.9 937.9l3.1-1l3.8 1.4l4.1 2.5M654.9 949.3l-2.2 5l0.1 3.7M1490.6 1005.3l-5.1 6.1l-4.9-1.9M521.5 1106l-3.2 4l-2.8 4l-1.3 4.1M1453 1117.7l-3.3-2.5l-3.5-1.1l-3.8 1.1l-4.1 3l-5.4 3.9M1006.7 1142l-6.1-3.9l1.3-4.4M718 1166.6l-4.1 3.6l-4.1 3.8l-3.9 4.2l-3.8 5.5M1061.8 1171l-2.9 3.4M1149.4 1190.8l0.6 3.9l-0.2 3.9l-1.3 3.6l-2.4 3.1M1406.9 1218.1l-0.5 4l-2 4.2l-4.5 4.3M565.7 1229l-3.9 1.8l-6.1 3.1M426.2 1234.9l-4.8-2.1M698.3 1237.4l-4.2 4.6l-4.1 3.8l-4.2 2.6l-4.3 1.4l-4.2 1.4l-4.1 2.5l-3.8 3l-3.8 2.3l-4 1.5l-4.1 0.2l-3.9-1.1M1298.4 1269.2l-4.1 1l-4 0.2l-4 0l-4 0.2M202.7 1322.1l-4.9-3.6l-6.6-4M270.7 1334.4l3.6 2.3l3.8 2.2l3.9 2.1l3.8 1.5l3.8 1.5l4.2 2.3l4.6 2.4l4.1 1.4l3.7 1.5l4 2.5M226 1382l4.6 2l4.3 2.9l4 3.3l3.8 2.9M413.7 1425.3l-3.9 2.3l-3.7 2.7l-2.7 3.5l-1.2 4.1M485.1 1461.6l5 3.4l3.8 0.3l3.9 0.6l3.9-0.2l4.2-1.6M1537.3 369.6l5-5.6l4.3-2.4l4.4-3.1M2157.6 422.7l-3.7 3.2l-3.8 4.2l-4.1 6.6l-4.1 1.9l-3.9 2.2l-3.8 0.8l-3.8-0.1M934.8 541.3l-3.4-3.7l-2.9-3.8l-3.1-3.8l-2.7-3.9l-1.5-3.9M2154.3 602.7l1.6-4.9l2.6-4.8M886.5 660.9l3.8-1.6l3.5-2.3l2.7-3M2005 854.6l-2.5 3.8l-2.3 4.2l-1.8 4.4M2225.7 905.7l-4 2.7l-3.9 2.1l-3.9 1.6l-3.9 0.8l-4.2-0.1l-4.3 0.2l-3.9 1.8M582.6 1029.1l-4.3 4.8l-5.8 4.1M569.4 1078l-0.7-4.3l-0.4-4.3l0.7-4.1l0.9-4l0.6-3.8l1.3-4l2.7-4.9M1025.5 1149.7l-1.1-4.1l-1-4l-2.2-3.4l-3.3-1.4M849.1 1166.3l1.6 3.4l-0.1 4.2l-0.7 5.6M702.4 1210.8l-0.9-5l-3.5-2.4M586.6 1285.3l-5.6 6.2l-3.4-1l-3.9 0.2l-3.9 0.2l-3.9-1.6l-3.4-3.5M158.2 1341.9l4-1.6l3.7-1.7l3.8-0.9l3.9 0.3M178 1414.7l4.2 3.5l5.3 4.1M2165.3 429.4l1.2 5.9l-4.1 1.6l-4.3 1l-4-0.1l-4-1l-4.1-0.1M1053.8 542.3l-0.1 4.1l-0.1 3.8M838.2 790.6l-4.4 2.5M1600.9 909.2l5.1 3.4l4.4 1l3.7-1.6l3.1 1M730.6 925l3.3-3.6l3.8-4.7l4.4-2.5l4-3.3l3.9-2.9l4.5-1.3l5.5-0.1M710.3 1202.9l-1.9 3.2l-3.2 1.1l-3.7-1.4M154 1401.1l-4.1-0.7l-4.1-1.4l-4.1-2M1370.6 341.2l-5.8-2.9M1913.7 349.1l-3.8 3.2l-3.8 1.5l-4 1.4l-5 2.6M1534.9 365.2l3.5-0.1l3.9-1.1M1569.1 394.1l4 1l4.2 2l4.8 1.1l6.2-1M1661.8 397.2l-4.2 1.8l-4-0.5l-3.8-2.1l-3.9-2.8l-4.1-3.7l-4.7-4.8M2177.9 458.7l0.1 3.6l-0.1 3.7l-0.3 3.8l-0.4 3.7M1087 506.8l3.5-4.5l4.6-4.5M2129.8 521.7l-4.2 7l-3.8-0.6l-3.7-1.1l-3.9-1.2l-3.9 0l-3.7 1.8M906.4 533.2l-1.6 4.8l-3.3 4.2l-5.2 3.9l-1.7 3.9l-1.3 4.1M957 547.1l5.6-4.6M2089.5 693.6l1-3.6l1.5-4l2.7-3.9l3.8-2.8l3.7-1.1l2.8 0.6M650.6 950.9l2.1 3.4M1509 973.8l-0.6 4.4l1.7 3.9l2.5 3.6l1.4 3.7M1489.5 1014.5l-4-3.1M698.1 1254.7l-3.9-4.2l-4.2-4.7M609.5 1266.6l4.6-1.9l4.3-2.7l1.5-4.1l2.7-2.7l3.5-1.2l4-1.1l5-2.8M245.7 1286.2l-3.9 0.3l-3.8 1.3l-4 2.3l-3.9 1.5l-3.9-0.2l-4-0.6l-3.9 0.1M233.9 1357.1l4.2-0.4l4.1 0.5l4 0.8l3.7 0.6M506.5 1377l2.6 4.2l1.2 4.4l0.4 4.6l1.4 4.3M445.8 1501.5l4.1-0.9l3.7 0.2l2.5 2.1l1.1 3.7M1246.8 350.2l-0.4-3.6l0.1-4l0.4-4.1M2050.3 349.5l-3.9-1.4l-3.9-2.5l-3.9-3.3M1094 450.2l-0.5-4.2l0-4.4l0.6-5.1M894.5 589.3l-3.9 4.9l-4.1 4.4l-4.5 4.1M887 707.1l6.2-5M881.9 726.2l-3.3-4.2l-3-4l-2.8-4l-3-3.9M1941.5 821.7l0.5 3.9l0.4 4l0.5 3.9M1685.7 855l-6.6 3.4M2210.6 905l-4.6 0.8l-4 1.9l-4.1 2.8M585.2 994.6l-1 3.5l-2.6 2.6l-3.9 1.1l-3.9 0.3l-3.5 0.6M998.9 1146.7l0.6-4.4l1.1-4.2M1106.4 1145.5l4 1.7l4.2 2.8l4.3 3.8M1465.9 1175l4.3-4.3l3.9-4.2l2.9-4.1l2.2-4.1l1.8-4l1.8-3.9M1385.4 1290.6l0.8 4l1.6 3.6l2.5 3.5M573.2 1309.2l0.7-3.4l0.6-3.8l0-3.8l-1.7-3.4l-3-3.9M582.1 1313.7l0.8-3.7l1.1-4l0.3-4.2l-0.4-4.3l-0.8-3.6l-2.1-2.4M181.4 1322.3l3.3-4.3l2.6-4.1l2.3-3.7M486.3 1465.6l3.8-0.6M1553 381.5l4.5-0.1l4.2-1.2l3.8-2.6M1722.9 381l3.6-3.4l4.2-3M2134.3 525.4l-4.8 5.2l-3.9-1.9M2130.5 542.4l2.2-4.4l-0.3-4l-2.9-3.4M974.6 557.9l-4.7 3.3M770.7 850.7l-1.4 3.9l1.3 3.9l3.4 3.7M1610.6 906l1.1 3.7l2.4 2.3M1545.9 921.9l-3.9 1.5l-4.2 2.5M674.3 938.9l3.5 3.7l2.8 3.8l1.2 3.9l-0.8 4.1l-1.6 4l-0.8 4M618.2 969.1l4.1 2.5l4.2 0.7l4.1-0.8l3.6-0.7l3.5 0.5l3.8 1.4l4.4 1.5M1465.3 1073.6l2.3 4.2l3.1 2.6l3.6 1M501.2 1118.8l4.5 2l4.6 0.9l4.1 0.5M1085.6 1153.7l4.4 1.3l4.3 1.3l4.3 0.7M1270.8 1230.3l-4.3 2.7l-4.5 1.9M393.5 1246.5l4.4 1.5l4.1 4.6M602.4 1259.1l3.6-0.7l3.9-0.2l4.1-0.9l4.2-1.6l4.4-0.5M631.1 1281.9l2.6-4.5l2.1-4.1l1.5-4l0.5-3.9l0-3.8l0-4M294.2 1298.7l3.9-1.8l3.8-3.1l3.5-4.3M298.3 1353.6l4.2 4.3l4 3.1l3.8 1.1l4.1-1l4.6-1.8M513.5 1409.4l1.9 4.6l3 4l3.7 2.9l3.9 1.3l4.2 0.1M516.9 1445l0.3 5.1l0.9 4.1M1410.6 345.9l-4.5-3.5l-4.3-2.9l-4.3-2.8l-4.6-3.2M2176.9 433.1l-3.5 0.3l-3.4 0.7l-3.5 1.2M2170.2 470.2l3.8 2.3l3.2 1M902.3 549l-4.5 2l-4.5 3.1M2165.5 737.4l2.6-3.9l1.7-4.4M817.6 801l-3.7 3.6l-3.9 2.8l-3.1 3l-2.5 3.5l-2.6 2.6l-2.8 1.6M1890.1 813.3l2.4 4.2l-0.3 4.4l-3.3 4.5M1134 1169l-3.4-0.9l-3.6-2.5M442.9 1205.5l3.1 4.8M561.5 1237.6l-5.8-3.7M1286.1 1254.9l-4.2 3.4l-4.3 3.2M574.8 1285.4l-1.1 5.3M322.8 1294.7l2.6 4l2.5 3.8l0 3.8l2.6 3.6l3.6 3.7l3.1 4.2M149.6 1414l-3.5-2.2l-4.1 0.2l-3.9-0.1l-3.3 1.9M153.5 1421.8l-3.8-3.7l-3.7-3.6l-4-2.5M417.1 1477.8l-0.4 3.8l-0.5 4.1l-0.7 4.2l-0.5 3.8M446.9 1509.8l3.7 1l4 2.3M1382.3 338.9l-4.2-4.7l-4.1-5M1297.1 342.3l4.3-0.2l4.2 0.9l4.2 1.3l3.8 0.1l3.9-1.1l4.1 0.5M1157.9 354.5l-3.8-2.8l-4.1-1.1l-4.2-0.4l-3.9-1.7l-4.2-3M2013.5 378.6l-3.2 6.7M1610.5 394.5l0.8-4.5l-1.3-4.1M2125.1 402.7l-3 3.7l-2.9 4l-2.1 4.1M2185.9 461.2l-4.1 4.5l-4.2 4.1M881.7 682.2l3.8-4l3.4-4.2l3.8-4.2M877.4 726.9l1.2-4.9M1718.9 853.4l3.3 3.2l3.9 0.3l4.3-2.5l3.9-2.5l3.7-0.2l4 1.5l4.2 1.9l3.7 2.5l3.2 3.5M706.9 1217l0-3.7l-1.7-6.1M613.8 1281l2.7-3.8l1-3.5l0.1-3.4l0.2-3.9l0.6-4.4M1394 1294.6l-2.3 3.2l-1.4 3.9M271.1 1342.3l3 1.3l3.9 1.4l4.2-0.1l3.6-2.4M1318.6 333.6l4.1-2.5l4-1.4M1341.5 334.1l4.4 3.8M1237.5 347l-2-4.6l-1.5-4.7M1470.3 351l-1.4-4.3l-2.9-3.6M1985.3 377.4l4.8-2l4.6-1.1M1098.7 470.4l-4.3 1.7l-4.2 1M1034.9 554.2l-1.4 4.2M1633.3 889.6l3.7-3.8l2.6-4.2l1.5-4.2l0.3-4.1l-0.7-3.9M909.3 1165.6l4.8 2.4l4.7 1.2M721.8 1173.2l-3.3 4.5M1130.2 1190.3l1.1 4l1.6 4.2l1.6 4.3M425 1221.9l-2 3.9l-2.2 4l-3.2 3.7M1253.7 1221.5l-3.5 4.6M333.3 1281.8l-3.3 3.7l-1.4 4l0.5 4.3l0 4.4l-1.2 4.3M525.7 1326.4l0.8-4.2l1.6-4.2l2.9-4.2l3.3-4.2l2.5-3.7l1.3-3.3M337 1375.1l-3.6 0.9l-3.9 2.8M214.3 1410.2l2.2 4l1.2 3.9M458.5 1486l1.7 4.4l0.7 4.1M1941.2 365.2l7.4 0.8M898.8 538.9l-1.1 3.6l-1.4 3.6M2102.8 654.8l-2.8-4.5l-0.3-4.5l2.6-5.8M1930.7 825.2l-5.1 4.1M1830.3 835l3.8 3.6M725.4 918.2l3.8-0.2l4.2-0.2l4.3-1.1M1482.9 1069.9l-3.2 4.2l-2.1 4.8M561.8 1075l-3.8-3.9M550.2 1089.6l0.4-4.2l0.4-4.3M777.6 1165.8l-0.5 3.8l-1 4.4l-1.7 4.8M381.8 1249.9l-3.1-4.6M1285.4 1282.3l-4.3 3.2M531 1302l3.2 0l3.9 0.6M1377.6 1302l4.9 3.1M1365.9 1310.2l-4.1 3.8M530.5 1340.9l2.8-2.6M261.3 1346.1l4.9 3.3M345.2 1381.5l-3.5 0.9l-3 0.5M233.8 1397l4.5-1.5l4.4-2.4M182.1 1421.9l5.4 0.4M1714.3 375l-0.2-4M1694.1 378.3l-3.3-3.2M953.3 534.8l4.2-3.9M2166.3 606.3l3-4.6M883 609.2l0.3-2.8M2318.1 798.7l-0.1-4M1781.6 841.8l3.8 4.5M593.1 974.8l-1.8-4.9l-1.3-4.9M1466.3 1118l4.6-3.7M954.8 1150.9l0 3M737.5 1169.2l-3.7 0.9l-4.8 0.2M462.5 1178.2l-4.4 0.1l-3.8 0.1l-3.5-0.3M1189.4 1214.3l0.4 4.3M237.8 1378.2l3.2 3M234.5 1402.1l3.8-6.6M406.7 1437.9l-4.5 0M419.1 1493l-4.1 0.7M1205.6 345.7l4.5-2.8M1085.5 494l3.8-0.3M857.7 761.2l2.6-3.7l1.6-4M790.7 829l-5.3 0.8M2062.9 897.4l-5.6-0.3M1498.8 1057.5l4 0.5M1509.9 1070l4.5 0.3M1041.9 1170.4l-0.3 2.6M1421 1223l-3.4 2.3l-3.8 2.3l-2.8 2.9l-1.3 3.6l-1.4 3.5l-3 2.6l-5.1 1.6M541.6 1237.5l5.1 0.4M683 1265.6l-4.2-0.2M589.6 1273.8l3.6 1M349.8 1389l-3.9-3l-4.2-3.6"/><path stroke-width="3.8" d="M1234.3 622.3l4.1-2.6l3.8-1.4l3.8-0.3l3.9-0.1l4-0.9l4-1.7l4.1-1.1l4.2-0.4l3.9-1.4l2.6-3l0.1-3.7l-1.6-3.9l-1.9-3.9l-1.2-4.1l-1.1-3.9l-1.7-3.8l-0.9-3.7l1.6-3.8l2.8-3.9l1.7-4.3l1.5-4l2.6-1.9l3.8 1.2l4.2 2.6l4.1 1.9l3.7 1.3l3.7 1.2l3.9 1.2l4 1.6l4.2 1.4l4.3-0.3l4-1.9l3.8-2.3l3.8-2.4l3.9-2.5l4-2.5l3.8-3.1l1.5-3.7l-1.6-3.9l-2.5-3.9l-1.2-3.9l-0.5-4.1l-1.4-4.2l-2.9-3.2l-3.5-2.3l-3.1-2.9l-2.4-4l-2.6-4.1l-3.3-3.2l-4-2.5l-4.3-2.7l-3.9-3.5l-2.6-4l-1.3-4.1l-0.9-4l-0.7-4l-0.6-3.8l-0.6-4.1l0.6-4.3l2.7-4l3.7-3.5l3.5-2.9l3.8-2.5l3.9-3l3.1-3.5l2.1-3.6l1.5-3.7l0.1-4.2l-2-4.6l-3-4.2l-2.4-3.8l-0.9-3.5l0.9-3.9l1.9-4.3l2-4.2l2.4-4.1l3-4.2l2.4-4.2l1.1-3.9l0.2-3.7l0.4-3.9l0.9-3.8l1.3-3.9l1.1-4.2l0.7-4.4l1.3-4l2.7-3.4l3.6-3.7l3.7-4.3l3.5-4.5l2.6-4.5l1.4-4.1l0.8-3.8l0.8-3.6l1.5-3.7l2.6-3.6l3.3-2.9l3.2-2.7l2.6-2.9l1.8-3.2M1729.4 738.9l4.1 0.5l4.1 0.6l4.3-0.3l4.1-2.1l2.9-3.6l1.1-3.9l1.1-3.3l2.4-1.3l2.9 1.5l1.6 3.3l0.1 3.6l-0.5 3.9l-0.6 4.1l-1 4.2l-1.2 4.1l-0.4 4l1.2 3.7l2.8 3.1l3.7 2.6l3.1 2.7l1.8 3.3l0.5 3.9l-0.2 4.3l0.3 4.4l1.1 4.2l0.9 4l0 3.9l-0.4 3.9l-0.7 3.8l-0.3 3.7l1 4l1.6 4.2l1.8 4l1.9 3.9l1.9 4.1l2.2 3.9l3 3.9l2.7 4l1.2 4.2l-0.1 4.4M1120.5 1138l-1 4.2l-0.5 3.9l0.2 3.7l-0.3 4l-0.9 4.4M1570.8 438.3l3.3-4.2l2.9-4.2l2.3-3.9l1.4-3.9l0.5-3.9l0.5-3.7l1.4-4l2.3-4.4l1.7-4.6l1.2-4.3l2.1-3.9l3.1-3.5l2.4-3.5l1.3-3.8M1284.8 1177.8l-2.6 3.9l-2.9 4l-1.9 3.9l-0.5 4l-0.8 4.3l-2.1 3.9l-3.5 2.8l-4.1 1.7l-4.5 1.8l-4.2 2.1l-3.8 2.2l-3.3 2.4l-1.6 3.4l0.3 4l0.9 3.9l0.3 3.7M1604 469.5l-0.8-3.8l-1.7-3.5l-3.3-2.4l-4-1.2l-4.3-0.4l-4.2 0l-3.8-0.3l-3.7-1.2l-3.9-2.1l-3.8-2.2l-2.7-2.7l-0.8-3.5l1.1-3.9l2.7-4M941.8 1112.2l-3.7 0.7l-3.6 2.1l-3.1 3.3l-2.8 3.8l-2.5 3.8l-1 3.6l1.6 2.7l3.6 1.5l4.2 1.6l4.2 2.7l3.6 3.6l2.7 4.1l1.3 4.1l0.6 3.9M2032.6 482.2l-2.8-4l-3.8-2.9l-4.1-0.9l-4 0.7l-3.6 0.5l-3-1.5l-2-3.6l-1.3-4.3l-0.3-4l-0.1-3.8l-0.9-3.8l-0.9-4l-0.2-4.1l0-4.1l-0.4-4l-0.9-4.3l-0.6-4.3l0.5-3.9l0-3.9l-1.4-3.9l-1.8-3.7l-0.6-3.8l1.5-4.2l1.3-4.1l-1.1-4.2l-2.3-4.4l-2.5-4.2l-3.1-3.9l-2.4-4l0.3-3.9l2.6-3.4"/><path stroke-width="3.8" d="M2100 802.6l11.5 7.7l13.4 3.8l15.3 13.5l23 7.6l26.9 1.9l14.7-1.3l17.8-4.4l19.2 5.7l14.8 9.6l16.8 17.3l18.2 3.8l19.2 4.4l19.2 1.4l16.3-2l10.5 2"/><path stroke-width="3.4" d="M2157.5 735.6l5.7 21.1l9.6 23l13.4 15.3l21.1 7.6l26.3 5.4l17.8 4.2l19.2 3.3l17.2 6.3l10.5 4.8l10.6 12.5l13.4 15.3l13.4 5.7l10.6 3.5l18.2-5.4"/><path stroke-width="3.0" d="M2245.6 737.5l7.7 23l-3.8 23l3.8 9.6l11.5 7.6l15.3-7.6l9.6 17.2l8.6 16.3"/><path stroke-width="2.8" d="M2128.7 716.4l2.9 26.8l2.9 28.8l-1.9 23l9.6 15.3l1.9 15.3"/><path stroke-width="2.8" d="M2101.9 750.9l3.8 24.9l2 23l11.5 13.4"/><path stroke-width="2.8" d="M2100 846.7l15.3 7.7l17.3 7.7l21.1-3.9l19.1-7.6l17.3-9.6"/><path stroke-width="2.8" d="M2218.8 731.7l7.7 21.1l1.9 19.2l-5.8 11.5l3.9 13.4"/><path stroke-width="3.0" d="M2195.8 862.1l19.2 3.8l19.1 3.8l11.5-1.9l11-8.2"/><path stroke-width="2.6" d="M2303.1 802.6l17.3 7.7l19.1 3.8l9.6 5.8l19.2 1.9l19.2 0"/><path stroke-width="2.6" d="M2337.6 923.4l21.1-1.9l19.2-3.9l17.2 9.6"/><path stroke-width="2.6" d="M2385.5 887l2 23l-3.9 7.6"/><path stroke-width="3.4" d="M2065.8 753.7l11.5 30.6l26.8 23l38.3 17.3l37.6 13.4"/><path stroke-width="2.6" d="M2100.3 751.7l3.8 25l3.8 23l7.7 15.3"/><path stroke-width="2.6" d="M2129 719.2l5.8 38.3l-1.9 34.5l9.5 23"/><path stroke-width="3.0" d="M2094.5 841.8l28.8 17.3l28.7 0l28-9.6"/><path stroke-width="3.2" d="M1807.7 363.5l30.6 7.6l38.4 7.7l30.6 13.4l38.3 1.9l26.9 3.9l30.6 5.7l36.4 7.7"/><path stroke-width="2.8" d="M1828.7 350.1l28.8 11.5l35.8 5.1l31.3 8.3l28.7 9.6l30.7-2"/><path stroke-width="2.8" d="M1907.3 363.5l26.8 1.9l30.7 7.7l26.8 1.9l24.4 3.2l14-9"/><path stroke-width="2.8" d="M1945.6 394.1l26.9 19.2l19.1 19.2l19.2 11.5l15.3 24.9l11.5 11.5"/><path stroke-width="2.8" d="M1828.7 405.6l28.8 23l11.5 19.2l30.7 11.5l27.2 10.9l22.6 14l13.2 11.5"/><path stroke-width="2.6" d="M1922.6 411.4l23 11.5l26.9 5.7l26.8 7.7l11.5 7.7"/><path stroke-width="5.0" d="M2003.1 403.7l17.3 7.7l23 0"/><path stroke-width="2.6" d="M1893.9 315.6l9.6 17.2l0.9 17.3l-4.7 9.6"/></g>
<path d="M310.2 1285.9l4.4 -3.3l4.6 -3.1l4.5 -4.4l4.4 -4.6l3.3 -3.9l1.8 -4.7l2.7 -4.3l-0.6 -5.8l-0.7 -5.8l5.1 -1.1l5.1 -1.4l3.9 5.1l4.5 -1l4.5 0.4l4.5 -0.1l4.5 -0.6l4.2 -2.1l3.1 -3.7l4 -2.2l4.1 -2.2l2.8 -4.4l4.5 -2.9l3 -4.3l5.2 -0.9l5.1 -1.7l3.3 -3.6l5 -1.4l3.8 -2.9l3.3 -3.6l4.7 -2.3l4.3 -2.9l2.8 -5l2.3 -5.3l0.6 -6.5l2 -6.3l0.4 -4.8l2.2 -4.2l5.5 -0.3l5.3 -1.2l5.5 -0.1l5.5 0.3l3.5 -4.2l4.2 -3.5l1.7 -5l3.4 -4l7.8 -1.3l3.1 -3.9l3.3 -3.8l1.3 -4.8l1.5 -4.8l1.6 -5l0.4 -5.3l0.9 -5.1l-3.9 -5.7l-1.1 -5.4l-1.7 -5.2l6.7 -2.8l1.9 -8.7l6.7 -1.9l4.8 -1.5l4.8 -1.4l7.6 -1.9l6.7 -2.8l-0.9 -8.7l6.7 5.8l4.8 4.8l7.6 -3.9l4.1 -4.1l3.6 -4.5l2.8 -4.8l3 -4.8l2 -5.4l2.8 -5.1l1.4 -6.2l-0.5 -6.3l4.8 -5.7l-3.8 -7.7l2.4 -5.5l0.4 -6l-2.8 -4.2l-3.9 -3.4l2.8 -3.6l2 -4.1l7.7 -3.8l-0.9 -4.8l-0.1 -4.8l0.9 -6.4l2 -6.1l-0.9 -8.6l-6.8 -3.8l5.8 -4.8l5.7 2.8l5 1.6l4.6 2.3l5.8 1.9l7.6 -2.9l3.9 -6.7l4.8 -5.7l6.7 -3.9l3.8 -4.8l3.8 2.9l-1.9 7.7l3.2 4.4l1.6 5.2l4.8 1.9l3.8 -7.7l0.1 -5.8l-1 -5.7l2.2 -4.4l2.6 -4.2l1.9 -4.8l-4.4 -3.9l-5.2 -2.8l3.2 -3.5l3.5 -3.2l4.8 5.7l7.7 2.9l5.6 1.9l5.9 0l4.3 -2.8l3.3 -3.9l5.8 -3.8l7.6 -1.9l5 0l4.6 1.9l5.7 -0.8l5.8 0.4l5.9 0.1l5.6 -1.6l6.7 -5.8l4.8 -7.6l1.9 -4.8l2 -4.8l2.3 -4.5l0.5 -5.1l0.7 -4.8l1.2 -4.8l3.9 -7.7l-1.3 -4.7l0.3 -4.8l1.9 -7.7l-1.7 0l4.5 -1.2l4.6 -1.2l4.3 -2l5.8 -5.7l4.6 -2.4l5 -1.5l4.4 -3.6l5.2 -2.1l4.6 -2.7l4.9 -2.1l3.9 -6.7l5.3 -2.1l4.3 -3.7l3.3 -3.5l2.4 -4.1l0.2 -4.9l1.7 -4.7l1 -8.6l4.1 -1.9l4.5 -1l1.9 -5.8l4.5 -2.6l5.1 -1.2l3.8 -6.7l4.4 -3.2l5.2 -1.6l5.1 -1.9l4.5 -2.9l3.5 -3.4l4.2 -2.3l5.7 -5.8l1.6 -5.2l1.3 -5.3l0.2 -4.8l0.4 -4.8l-0.2 -5.2l1.5 -5l0 -5.1l-0.1 -5.8l1.4 -5.7l0.1 -5.8l-0.4 -5.7l-0.9 -5.1l0.5 -5.2l0 -5.1l-1.1 -5l-0.4 -5.2l-0.1 -5.1l-0.8 -5.5l-2.6 -5l1.9 -8.6l-0.6 -4.9l-1.7 -4.7l1.5 -5.9l2.3 -5.6l4.5 -4.3l3.2 -5.3l0.4 -5.8l1.5 -5.7l1.1 -4.5l2.2 -4.2l0.6 -4.7l2.6 -5.6l2.1 -5.9l-0.9 5.6l-3.3 4.8l-0.7 5.6l-0.8 -4.7l4 -7.1l3.1 -5.5l-0.8 -5l0.4 -5.1l1.6 -5.5l1.2 -3.2l-2.4 -7l2 -3.9l-0.4 -5.5l-0.4 -4.7l2.7 -5.5l1.6 -7.1l4.7 0.4l3.1 -0.8l7.1 4l2.3 -2.4l4.7 -0.5l4.7 0.5l4.7 0.7l4.8 -0.3l6.2 3.9l4.7 3.1l6.3 0.4l6.3 1.6l7.8 3.5l6.3 4.7l4.7 7.1l4.5 2.5l4.1 3l5.5 2.3l6.3 0.4l5 -0.3l4.9 0.6l5.6 -2l5.8 -1.1l5.9 -0.4l4.8 -2.7l4.7 -3l2.8 -3.6l3.7 -2.7l3.1 -3.3l3.6 -5l4.1 -4.6l2.5 -3.9l3.3 -3.3l1.8 -4.3l5.8 -5.7l8.6 -2l2.4 -4.8l2.4 -4.7l3 -4.7l2.8 -4.9l3.8 -1.9l2.9 7.6l8.6 -0.9l3.8 -6.7l-5.7 -6.8l-3.5 -3l-4.2 -1.7l-2.5 -4.6l-1.3 -5l-1.2 -4.7l1.1 -5l-0.7 -4.8l-1.1 -4.7l0 -5.3l0.9 -5.2l-4.6 -1.4l-4 -2.5l-1.9 -8.6l1.9 -3.8l-4.6 -3.3l-5 -2.5l-3.8 -4.4l7.6 -2.3l5.1 1.3l5.2 -1l5.1 1.1l3.6 -3.5l2.1 -4.6l1.7 -5l0.4 -5.2l0.8 -5.1l-1.1 -4.8l-0.8 -4.8l-2.9 -4.8l-6.7 -3.8l5.1 -1.5l5.4 0.1l2.1 -4.6l3.7 -3.6l4.8 0.9l4.8 -0.9l4.7 -1.5l4.9 -0.4l4.9 -1.1l4.6 -1.8l4.6 -2.4l5 -1.4l5 -0.8l4.6 -2.1l5.7 0.7l5.8 0.3l5.6 -2.8l5.9 -2l4.9 -0.2l4.7 1.1l4.5 4.2l5.1 3.5l7.6 0l4.1 -2.7l4.6 -1.7l4.7 -1.4l4.5 -0.6l4.6 -0.2l4.4 -1.5l5.1 -0.3l5.1 -1.1l5.1 -0.1l5.9 -0.1l5.6 -1.8l7.6 -4.8l4.6 -2l5 -0.9l4.9 -0.5l4.7 1.5l4.1 2.5l3.6 3.2l5.7 -2l5.8 -1.8l5.5 -2.7l6 -1.1l5.6 -1.6l5.9 -0.3l5.8 1.1l5.7 1.7l8.6 -0.9l3.5 -4.3l3.2 -4.4l4.8 -2.8l6.7 5.7l6.9 3.9l0 -0.3l4.9 -0.3l4.7 1l4.7 1.5l4.9 -0.3l4.5 2.1l5 0.6l4.7 1.3l4.9 0.8l4.8 1.1l4.9 0.1l4.9 0.7l4.6 1.9l5 0l4.4 2.7l4.9 0.5l4.9 0.6l3.2 4l4.4 2.7l5.4 -2.8l6.1 -1l4.9 -1.6l4.7 -2.2l4.8 -6.2l4.8 -0.4l4.8 0.1l4.8 -0.8l4.5 0.5l4.3 2.1l4.6 -0.1l4.7 0.4l4.2 2.2l4.5 1.2l4.6 2.3l5 1.5l3.3 3.5l4.3 2.3l5.8 6.7l4.7 1.4l4.9 0.5l7.6 2.9l3.5 4.6l4.2 4l2.4 4.2l3.4 3.5l3.3 3.3l4.3 2l4.8 0.4l4.8 1l5.8 -0.3l5.7 -1.1l4.3 1.6l4.5 0.7l4.6 0l4.8 -0.6l4.8 -0.3l5.6 2.5l5.9 1.3l5.9 -0.2l5.6 -1.7l5.7 1.1l5.8 0.8l5.9 -2.6l5.6 -3.1l4.4 -1.8l4.6 -1.2l4.4 -1.8l4.5 -1.4l4.2 -2.6l4.7 -0.8l4.6 -1.5l4.7 -1l4.1 -2.7l4.7 1.5l4.9 -0.1l7.7 3.2l6.7 0.8l6.7 -0.2l5.7 -0.9l5.8 -0.4l4.2 -3.8l3.5 -4.5l4.7 0.7l4.8 0.3l4.9 2.3l4.7 2.5l4.9 -0.3l4.7 -1.7l4.3 -4l5.3 -2.7l4.7 -2.4l4.1 -3.3l0 0l4.7 -1.4l4.9 0.4l4.4 -1.7l4.2 -2.1l1 -8.6l-0.5 -6.7l-0.5 -6.7l-4.8 -5.8l4.7 -1.5l4.9 -0.4l-4.6 -4.2l-5 -3.5l4.8 -5.7l0.5 -5.8l0.5 -5.7l3 -3.7l2.7 -4l3.1 -3.4l1.7 -4.3l5.8 0l5.7 4.8l6.7 2.9l4.2 3.5l3.5 4.2l5.7 2.9l5.8 -3.9l-1.9 -7.6l6.7 -3.9l4.8 3.9l7.6 0l8.6 0.9l0.4 4.8l-7.1 1.9l1 8.6l5 -2.3l5.5 -0.5l5.8 6.7l7.6 4.8l5 3l4.6 3.7l5.8 0.9l2.6 4.5l3.1 4.2l1.1 4.7l-0.1 4.8l-7.7 3.9l1.9 7.6l3 4l1.8 4.7l7.7 0.9l5.7 3.9l4.5 0.8l4.5 -0.5l4.5 -0.3l3.3 -3.5l3.4 -3.3l1.7 5.6l3.1 5l4.6 1.3l4.2 2.2l4.6 1.3l5.9 0.8l5.6 2l5.7 -2l5.8 -1.8l5 -0.9l4.6 -2l5 -0.6l4.5 -2.2l-0.9 -7.7l5.7 -3.8l1.7 -4.7l0.2 -4.9l6.7 -3.8l5.7 -1.2l5.8 -0.8l4.5 0.5l4.5 -0.2l4.5 0.7l5 1.2l4.5 2.6l3.9 3.3l3.8 3.4l5.8 5.8l5.5 2.5l6 1.3l4.5 2.6l5 1.3l5.8 4.7l1 5.4l1.9 5.2l-0.4 5.8l1.3 5.7l4.1 2.5l3.6 3.2l7.6 -1.9l4.5 -3l5.1 -1.8l3.9 4.2l3.8 4.4l4.2 3.5l3.5 4.2l5.1 3.4l4.4 4.3l3 4.7l2.8 4.9l5.7 2.6l5.8 2.2l5.7 6.7l4.8 0.9l4.8 1l5.9 3l5.6 3.7l2 1l-0.9 5.8l-5.6 1.8l-5 3l0 6.7l0.1 5l1.9 4.6l-4.8 1l-4.8 0.9l-5.1 1.1l-5.1 0.4l-5.2 -0.6l-3.5 3.9l-2.2 4.8l-1 5.1l-2.8 4.5l-3.2 3.5l-2.6 4.1l1.8 4.9l2 4.7l-4.7 4.8l-4.8 -4.8l-4.8 -0.1l-4.8 -0.9l-7.7 2.9l-1 4.7l0.1 4.9l6.7 5.7l0.3 4.6l-0.8 4.5l-1.4 4.4l-3.8 5.3l-3.9 5.2l2.8 3.9l1 4.7l2.7 3.7l4.1 2.3l2.8 3.6l2.6 4.5l1.2 5.1l3.7 4.3l2.1 5.3l2.3 4.3l2.9 3.9l2.4 4.2l-0.7 5.3l-0.2 5.3l-2.7 4.7l-2.1 4.9l-1 5.7l-5.5 1.3l-5 2.5l-5.5 -2.8l-6 -1l-4.7 -1.3l-4.9 -0.6l-4.6 2.5l-5 1.3l-4.7 2.9l-4.8 2.9l-2.8 4.7l-3.9 3.9l1.9 6.1l0 6.3l7.6 2.9l7.7 1l-1 5.7l-3.8 2.9l-3.8 2.9l-3.9 5.7l-5.7 3.9l-1.4 4.7l-0.5 4.8l3.8 7.7l4.4 4.4l3.3 5.2l3.2 3.8l2.5 4.4l-1 -0.3l5.8 1.6l5.7 2.2l2.9 3.8l3.5 3.2l3.2 3.5l5.2 -0.4l5.1 -0.4l5.1 -1.1l3.8 -5.7l5.7 0.9l3.9 7.7l6.7 0.3l6.7 0.7l4.2 2.4l4.4 2.1l4.8 1.2l5.5 -2.3l6 -0.6l2.9 -7.6l6.7 -3.9l5 -0.1l4.6 -1.8l3.8 -6.7l4.5 -2l4.1 -2.8l4 4.4l2.7 5.2l3.9 5.2l3.8 5.3l2.2 4l2.6 3.7l0.7 5.5l2.2 5l0.5 4.8l0 4.8l0.4 4.8l6.2 1.3l6.3 -0.3l3.8 5.7l1.9 8.6l2.8 3.9l2.9 3.8l3.9 2.9l5.1 0.2l5.1 0.7l5.1 0l6 2.4l5.5 3.4l3.6 2.8l4.1 2l5.7 1.1l5.8 -0.2l4.6 -1.3l4.5 -1.5l4.3 -2l7.7 -2.8l3.8 6.7l6.7 -0.6l6.7 0.6l5.9 -0.2l5.6 -1.7l4.8 1l4.8 -1l1.9 7.6l4.8 1l4.8 -1l4.5 -1.8l4.7 -1.5l4.2 -2.4l5.2 -1.8l5.6 -0.3l5.2 -1.6l5.1 -2.1l3.8 7.7l4.5 0.3l4.6 0.1l4.3 1.5l-0.8 5.8l-1.1 5.7l-3.8 7.7l1.8 4.8l2 4.8l3.5 3.3l4.2 2.4l3.8 7.7l-0.9 5.8l-1 5.7l-3.8 7.6l-3.7 4.1l-4.9 2.6l4.7 6.8l-2.5 4.5l-1.3 5l-0.1 5l-1.8 4.6l1.3 5.9l2.5 5.6l5.8 4.8l7.6 -0.4l-2.3 4.9l-3.4 4.1l-4.6 3.2l-5 2.6l-3.4 5.5l-2.3 6l3.8 3.8l4.8 2.9l-3.8 5.7l-1 8.7l-5.7 1.3l-5.8 0.7l-5.8 -0.1l-4.8 0.7l-4.8 0.3l-4.8 0.4l-4.7 1.4l-5.9 2.1l-5.6 2.7l-7.7 3.9l-8.6 1.9l-2.9 -7.7l-1.9 -7.6l-4.2 -2.2l-4.7 -0.4l-4.5 -1.3l-4.9 -1.8l-5.4 0.7l-5 -1.7l-4.2 -2.5l-3.4 -3.3l-3.9 -2.9l-5.9 -1.5l-5.6 -2.3l-5.6 -2.3l-5.9 -1.5l-5.7 -0.3l-5.8 0.3l-3.8 -2.9l-3.9 -2.9l-5.8 -0.2l-5.7 1.2l-5.8 2.3l-5.7 2.5l-5.8 -1.1l-5.7 -1.8l-4.8 -0.5l-4.7 -1.6l-4.8 -0.9l-4.9 0.1l-4.7 -0.2l-4.4 -2l-4.5 -1l-4.8 0.1l-4.6 -0.7l-3.7 -3l-3.9 -2.8l-4.8 0.6l-4.8 -0.7l-4.8 0.1l-4.8 0l-4.4 -1.8l-4.9 -0.5l-4.1 -2.5l-5 0.1l-4.6 1.9l-4.8 -1l-4.8 -1l-4.6 4.5l-4.9 4.2l-3.4 3.4l-2.4 4.2l-3.8 7.7l-4.6 -1.1l-4.7 -0.9l-4.8 1.9l-4.8 1.9l-3.8 -2.9l-4.7 -2.3l-4.9 -1.5l-2.8 -5l-1.1 -5.6l-4.7 -0.5l-4.8 -0.4l-3.7 3l-4 2.7l-3.8 -5.7l-5.8 -1.9l-3.8 -7.7l-5.4 -3.2l-6.1 -1.6l-3.3 -3.9l-4.7 -2.1l-3.5 -3.6l-7.7 1l-3.9 -2.6l-4.2 -2.1l-3.4 -3.2l-3.4 -3.3l-4.2 -2.2l-3.4 -3.3l-4.3 -2l-4 -2.4l-4 -2.5l-3.5 -3.2l-3.7 -2.7l-3.5 -3l-4.7 -1.2l-3.2 -3.6l-4.1 -2l-5.3 -2.1l-4.6 -3.1l-4.7 -3l-4.5 -3.3l-4.3 -2.6l-4.8 -1.5l-4.3 -2.6l-5.2 -2l-5 -2.7l-5.2 -2l-6.8 0.3l-6.6 -1.3l-7.7 -2.8l-4.4 -1.1l-4.6 0.5l-4.4 -1.4l-4.5 -1.6l-4.6 -1.1l-4.3 -2.1l-5.3 -0.8l-4.9 -2.1l-5.1 -1.3l-4.8 -0.8l-4.8 -1.1l-4.7 1.9l-4.9 1.4l-5.7 6.7l-3.7 3l-4 2.7l-5.8 1.9l-5.7 2l-4.5 3.4l-5.1 2.3l-5.7 1.5l-5.8 0.4l-5.2 1.7l-5.1 1.9l-5 2.2l-5.3 -1.3l-5.1 -1.8l-5.4 -0.7l-5.3 -1l-4.6 -0.1l-4.3 1.9l-4.5 0.1l-3.7 3l-3 3.7l-2.9 7.7l-6.7 -1.1l-6.7 0.1l0 -0.4l-4.6 -0.9l-4.6 1.1l-4.6 -0.1l-4.6 -0.5l-4.9 -0.5l-4.7 1.7l-4.9 -1.2l-4.7 1.3l-4.9 0l-4.5 2.2l-4.8 0.5l-4.9 0.2l-4.9 0.8l-4.6 2.1l-4.7 1.5l-5 0.4l-5.4 2.3l-4.7 3.6l-5.2 2.7l-3.7 4.1l-2.1 5.3l-3.8 4l-2.7 5.8l-3.1 5.7l-3.4 3.3l-2.2 4.4l-3.9 2.9l-7.7 0.9l-4.5 3.4l-5.1 2.4l-4.7 2.9l-4.7 2.8l-4 3.9l-1.9 5.7l-3.8 -2.9l-5.9 0.1l-5.6 1.9l-6 -1.7l-5.5 -3.1l-4.8 -2.4l-4.8 -2.4l-3.9 5.7l-4.2 5l-3.4 5.6l-3.9 4.8l-3.8 4.8l-3.5 3.6l-2.4 4.4l-3.7 3.4l-0.1 5.9l-1.8 5.6l-5.7 5.8l-1.9 4.3l-2.5 3.9l-3.3 3.3l-3.8 7.7l-2 5.2l-1.9 5.3l-2 5.2l-1.8 5.3l-0.6 5.9l-1.3 5.8l-1.9 5.6l0.6 5.1l-1.3 5.1l0.7 5.1l4.2 4.6l5.4 3.1l2.2 4.4l3.5 3.3l3.8 4.7l-4.3 1.8l-4.4 1l-4.7 0.1l-5.1 1.1l-4.5 2.7l-4.8 -3.3l-4.7 -3.4l-5.8 4.8l-3.3 3.5l-2.4 4.2l-1.6 4.9l-2.3 4.7l0.1 5.8l-0.1 5.7l0.9 4.8l1 4.8l2.1 4.7l1.8 4.8l5.7 1.2l5.8 0.8l5.9 0l5.6 1.9l7.6 1.9l4.7 1.3l4.9 0.6l-4.3 2.7l-3 4.2l-4.2 2.7l-0.9 4.8l-1 4.8l-4.2 4.8l-3.5 5.3l-1.4 2.8l1.4 5.1l1.1 5.2l-3.4 4.9l-4.3 4.1l-3 3.5l-3.9 2.5l-3.4 3l-5.6 -2.4l-4.6 -4l-2.6 2.5l-3.3 5.5l-1.8 6.1l-5.4 1.1l-5.1 1.9l-5 2.1l-5.4 2l-4.8 3.2l-3.4 3l-2.9 3.5l-3.5 3l-3.1 3.3l-1.9 4.2l-2.8 3.7l-1.6 4.4l-1.4 4.4l-0.8 5.3l-2.5 4.8l-1 5.2l-0.8 5.3l-1.5 5l-1.1 5.1l-0.1 5.3l-1.2 5.1l1.3 5.2l0.5 4.7l2.1 4.3l6.4 3.8l-4.8 1.3l-4.2 2.6l-4.5 -0.7l-4.5 -0.5l-4.5 -0.3l-4.5 0.2l-5 4l-5.3 3.7l-4.1 2.2l-3.1 3.6l-4.3 1.9l-4.1 -2.3l-3.7 -2.8l-1.2 -6.4l-5.2 -1.9l-5.1 -2l-6.2 -1.7l-5.4 -3.4l-6.4 1.2l-1 5.9l-1.6 5.7l-5.1 -2.2l-5.2 -1.6l-6.3 -2.2l-6.5 -1.7l0 0l-5 -3.4l-4.3 -4.3l-4.6 -4.6l-5.6 -3.1l-4.3 -4.3l-4.7 -3.9l6.4 -0.8l0.3 -5.8l1 -5.8l-3.9 -7.7l-2.7 -4.1l-3.2 -3.7l-3.1 -3.8l2.6 -6.4l-5.8 -1.3l-5.8 -1.2l-4 -3.7l-3.7 -4.1l-4.7 -3.4l-5.5 -1.7l-6.4 -1.6l-6.5 -1l-2.6 -6.4l-5 -1.7l-5.2 -0.9l-5.2 -0.1l-5.2 0l-5.1 1.4l-6.1 2.9l-6.7 1l-5.1 5.1l-5.2 -0.2l-5.1 -0.3l-5.2 0.5l-4.5 -1.7l-4.1 -2.4l-4.2 -2.3l-2.6 -5.1l7.7 -3.9l-5.4 -0.8l-5.1 -2l-4.9 -2.3l-5.2 -0.2l-5.1 0.1l-5.1 -1.2l-3.6 -3.5l-2.8 -4.2l-0.5 -5.3l-2 -5l-1.4 -5.1l0.7 -5.8l0.6 -5.8l4.6 0.3l4.4 -1.6l-5.2 -3.9l-5 -3.3l-5.2 -3.1l-5.2 -0.6l-5.1 1.2l-5.1 0.7l-7.8 2.6l2.1 4.2l3.1 3.5l-2.6 6.4l-4.9 2.1l-5.4 0.5l-4.6 3.7l-4.4 4l6.5 5.1l0.1 5.2l1.2 5.1l-4.7 1.3l-4.8 -1.3l-4.7 1.3l-4.2 2.5l-4.8 1.3l1.9 -5.1l2 -5.1l-4.4 -4.8l-3.3 -5.5l-4.3 -3.4l-4.2 -3.6l-4.4 -3.3l-5.6 -2.2l-4.2 -4.6l-5.6 -2.2l-4.6 -1.8l-4.4 -2.1l-4.4 -2.1l-4.6 -1.7l-4.5 -0.2l-4.5 -0.3l-4.5 -1.2l-4.5 -0.1l-5.1 0l-5.2 0.8l-5.1 -0.3l-5.1 -1.3l-5.2 0l-5.1 -1.2l-5.2 0.8l-5.1 -0.7l-5.1 -0.7l-5 1.9l-5.1 0.8l-5.3 0.4l-4.3 3.5l-3.5 4.2l-2.4 4l-2.7 3.7l-5.6 3.3l-4.7 4.5l-6.3 -1.8l-6.5 -0.8l-3.9 2.9l-5.1 0.5l-3.9 3l-5.4 0.4l-4.7 3l-5.3 0.5l-4.9 -2.1l-5.4 -0.4l-5.1 -1.4l-5.2 -1.9l-5.1 -1.9l-5.6 1.7l-4.7 3.4l-6.4 0.5l-6.4 -0.5l-5.1 -1.3l-5.2 -1.3l3.9 -6.4l-3.9 2.6l-2.6 3.8l-6.5 1.5l-6.3 2.4l-3.2 3.9l-3.2 3.8l-2.6 -3.9l-3.9 -2.5l0 -4.6l-1 -4.4l-1.6 -4.4l0.1 -4.6l-3.1 -3.4l-3.4 -3.1l-4.7 2.7l-4.4 3l-5 2.1l-4.9 2.3l-5.4 0.5l-5.1 1.5l-4.2 2.4l-4.8 1l-1.2 4.5l-1.4 4.5l2.3 5.3l2.9 4.9l0.7 4.5l0.6 4.5l-6.3 2.4l-6.6 1.5l-3.3 5.1l-3.1 5.2l0.5 4.5l-0.4 4.5l0.8 4.5l0.4 4.5l3.1 5.7l4.6 4.5l-0.3 2.7l-6.6 2.9l-3.9 4.8l1.9 4.8l-0.9 3.8l-4.8 1.9l-3.9 4.8l0 7.7l-3.8 1l-2.9 -2.9l-2.9 -7.7l-4.8 -1.9l-6.7 -1l-4.8 -2.8l-4.8 -1.5l-8.7 0.5l-6.7 2.9l-2.9 3.8l-4.8 3.9l-2.9 5.7l-3.8 2l-4.8 3.8l-3.9 3.8l-0.9 4.9l-3.9 2.8l-3.8 2.9l-1.9 -5.7l-3.9 -4.9l-4.8 -0.9l-6.7 1.9l-5.8 3.9l-4.8 5.7l-0.9 3.9l-2.9 3.8l-1 4.8l1 7.7l-1 7.7l-4.8 3.8l-3.8 2l2.8 3.8l-0.9 4.8l-4.8 1l-5.8 3.8l-5.8 4.8l-3.8 -1.9l1.9 -2.9l-2.9 -2.9l1 -2.9l4.8 -2.8l5.8 -2.9l4.8 -2.9l2.9 -1l-3.9 -7.7l2.4 -6.7l-1.4 -4.8l-2.9 -4.8l0 6.7l-1.8 4.6l-0.1 5l-2.4 4.7l-1.5 5l-3.8 -1.5l-4.8 1.5l-4.8 1.9l-1 -3.9l2.9 -5.7l1.9 -6.8l1.9 -7.6l4.4 -2l-1.5 -3.8l-0.9 2.9l-4.8 0.9l-2 -4.8l-1.5 -4.7l-0.4 -4.9l-1.9 -6.7l5.8 -1l1.9 -6.7l-1 -6.7l3.9 -2.9l3.8 -1l4.8 1.9l7.7 0l4.8 -0.9l3.8 1.9l3.9 -4.8l5.8 -1.9l-3.9 -3.9l3.4 -3.8l-1.5 -2.4l-3.8 3.4l-5.8 2.8l-1.9 3.9l-4.8 1.9l-6.7 0l-5.8 -2.9l-1.9 -3.8l2.9 -4.8l-2.9 -5.8l3.8 -3.8l1 -5.8l1.7 -6l3.1 -5.5l3.6 -4.4l2.2 -5.3l-2 -0.9l-3.8 4l-2.9 4.6l-2.6 4.7l-2.2 4.9l-1.9 7.7l-3.9 2.9l-5.7 -1.9l-4.8 -4.8l-2.9 -4.8l-4.8 -1.5l-4.8 2.4l3.8 7.7l5.8 2l5.7 3.8l3.9 4.8l3.8 4.8l-3.8 5.8l-7.7 -1.9l-5.8 -2.9l3.9 3.8l5.7 1l2 3.8l-5.8 1l-5.8 0.9l4.8 2l2.9 7.7l-1.9 3.8l-4.8 3.8l-4.8 2.9l-1.9 2.9l-2 -3.8l-2.8 -5.8l-6.8 1.4l-5.5 -0.7l-5.5 -1.2l-0.5 -1.4l5.8 0.8l5.7 1.6l1 3.3l3.8 4.9l2.9 3.8l3.9 2.9l1.9 4.8l-1.9 5.3l-6.8 0.9l-3.8 -2.4l-1 -1.9l4.8 2.9l4.8 1l3.9 1.9l4.8 2.9l0 4.8l-3.8 4.8l-4.9 2.9l-6.7 -1.5l-3.8 -2.9l-5.8 0.5l-6.7 -1.9l-1 -2.4l7.7 2.4l4.8 1.9l2.9 6.7l4.8 6.8l3.8 -1l1 -3.8l2.9 0.9l3.8 5.8l2 5.8l-5.8 -3.9l-6.7 2.9l-6.8 3.8l-5.4 6.6l-3.5 4.3l-2.9 4.7l1.8 6.5l2.1 6.4l-0.2 5.2l0.2 5.1l-3.3 5.1l-2.8 5.3l4.6 2.4l5 1.4l-0.1 4.6l-0.7 4.4l-1.2 4.4l3.3 3.7l4.4 2.1l1.6 6.1l3.2 5.4l-2.3 4.2l0 5l-2.5 4.2l-4.3 4.5l-5.3 3.1l-2.9 3.5l-3.4 3l-3.3 3.1l0 5.8l-3.1 4.6l-2.6 4.9l-4.9 0.3l-4.7 -1.2l-5.7 -1.5l-5.8 -1.4l-4.3 1.5l-4.5 0.6l-4.6 -0.2l-3.2 3.6l-2.6 4.1l-2 4.8l-1.8 4.8l-3.6 5.6l-3.1 5.9l-0.2 4.8l-0.8 4.8l-7.6 3.8l-5.7 0l-5.8 0l-1.9 -7.7l-5.8 -5.7l-5.5 -1.9l-5 -2.9l-1.8 -5.2l-1.1 -5.4l-3 -4.1l-3.7 -3.5l-1.3 -5.5l-2.5 -5.1l1.6 -6.5l3.2 -5.9l-1.4 -4.4l0.7 -4.6l-1.3 -4.4l-3.8 -7.7l-1.7 -5.8l-2.1 -5.7l-2.4 -5.1l-3.4 -4.5l-3.8 -3.4l-2.9 -4.2l-4.4 -4.7l-4.2 -4.9l-4.2 -3.5l-3.5 -4.2l-4.6 -2.5l-5 -1.3l-5.7 1.2l-5.8 0.7l-4.6 -4.1l-4.9 -3.6l-4.3 -3.7l-5.3 -2l-4.9 -0.6l-4.7 -1.3l-5.3 2.8l-5.2 2.9l-4 -5.1l-4.7 -4.5l-3.2 -4.4l-4.4 -3.2l-4 -3.7l-3.7 -4l-4.9 -2.2l-4.7 -2.6l-5 -0.5l-4.6 -2l-5.8 0l-5.7 1.5l-4 2.7l-4.6 1.2l-0.7 5l-2.2 4.6l-1.5 6.2l-1.3 6.2l1.4 4.3l1.4 4.3l-1.8 4.7l-1 4.9l-2 5l-2.8 4.6l-3.3 3.5l-2.5 4.2l-7.6 0.9l-4.4 3.6l-5.2 2.2l-5.7 1l-5.8 -0.1l-5.8 0.7l-5.7 1.3l-5.3 4.1l-6.2 2.6l-5 1.3l-5.3 0.1l-5 1.4l-5.8 1.1l-5.7 1.8l-3.2 -3.6l-2.6 -4.1l-2.6 -5l-1.2 -5.5l-4.9 -2.6l-4.7 -3.1l-1 -4.9l-1.9 -4.7l2.7 -4.4l3.1 -4.2l8.6 -1l0.7 -5l2.2 -4.6l-0.5 -4.9l-1.4 -4.7l-1.3 -4.8l-1.6 -4.8l0.3 -5.8l-1.3 -5.7l-3.8 -6.7l2.9 -4.7l3.6 -3.3l2.1 -4.4l2.7 -4.5l1.1 -5.1l3.8 -3.4l3.9 -3.3l4.8 -6.7l8.6 0l7.7 -1.9l5.8 0.1l5.7 -1.1l5.7 -6.7l5.8 -6.7l5.7 -5.7l7.7 -1l5.8 -4.8l7.6 -3.8l3.6 -2.7l4.1 -2.1l7.6 -4.8l4.8 -0.9l4.8 -0.1l4.8 -1.3l4.8 -1l5.9 0.1l5.6 -1.6l4.6 1.7l5 0.2l1.9 3.8l2.4 4.6l1.4 5l3.9 5.8l5.8 1.2l5.7 1.7l4.8 1.9z" fill="none" stroke="#000" stroke-width="2.6" stroke-linejoin="round"/>
<g fill="none" stroke="#000" stroke-linejoin="round" stroke-linecap="round"><path d="M443.8 1391.2l10.3 6.5l15.4 -3.9l15.4 -5.1l15.4 -1.3l12.9 -3.9l7.7 -5.1" stroke-width="3"/><path d="M472 1375.8l1.3 15.4" stroke-width="3"/><path d="M490 1378.4l-7.7 10.3" stroke-width="2.5"/><path d="M502.9 1402.8l10.3 -3.9" stroke-width="3"/><path d="M310.2 1285.9l1.2 10.3l-3.8 7.7" stroke-width="4"/><path d="M315.3 1293.6l5.1 -2.6" stroke-width="2"/><path d="M806.4 1174.1l1.2 -16.7l-3.8 -18l-6.4 -10.3l-7.7 -10.3l-2.6 -12.8" stroke-width="3"/><path d="M806.4 1131.7l11.5 -3.9" stroke-width="2.5"/><path d="M807.6 1152.3l12.9 0" stroke-width="2.5"/><path d="M802.5 1178l15.4 -5.2" stroke-width="3"/><path d="M915.6 1161.2l-2.6 -8.9l-7.7 -2.6" stroke-width="2"/><path d="M1334.7 1285.9l3.8 -15.4l-7.7 -20.6l9 -7.7" stroke-width="3"/><path d="M1338.5 1270.5l-12.8 -10.3" stroke-width="3"/><path d="M1341.1 1265.3l20.6 -12.8" stroke-width="4"/><path d="M1338.5 1283.3l-6.4 12.9" stroke-width="3"/><path d="M1336 1283.3l20.5 -5.1" stroke-width="3"/><path d="M1324.4 1265.3l14.1 10.3" stroke-width="3"/><path d="M1300 1225.5l7.7 -1.3" stroke-width="3"/><path d="M1392.5 1106l10.3 10.3l10.3 6.4l10.2 7.7l15.5 7.7l10.2 11.6l5.2 10.3l3.8 12.8l-2.5 7.7l6.4 7.7" stroke-width="3"/><path d="M1402.8 1133l15.4 -3.9" stroke-width="3.5"/><path d="M1438.8 1138.1l16.7 -1.3l-3.9 10.3" stroke-width="2.5"/><path d="M1441.3 1169l12.9 -6.5" stroke-width="3"/><path d="M1388.2 1090.5l3.8 10.5l9.6 13.5l11.5 7.6l9.5 7.7l9.6 7.7l9.6 9.5l9.6 7.7l3.8 6.3" stroke-width="3"/><path d="M1507 993.7l-15.4 1l-19.1 1.9l-21.1 1.9l-9.6 2.9" stroke-width="2.5"/><path d="M1451.4 998.5l3.8 -16.3l13.4 -11.5l7.7 5.8l1.9 13.4l13.4 1l15.4 1.9" stroke-width="2.5"/><path d="M1469.6 963.1l4.8 -2l4.8 5.8l-5.8 -1l-3.8 -2.8" stroke-width="2"/><path d="M1551 929.5l-7.6 4.8l-2.9 -11.5l-1.9 -15.3l-3.8 -19.2l-6.8 -9.6l0 -15.3l-7.6 -9.6l-7.7 -3.8" stroke-width="2.5"/><path d="M1554.9 923.8l1.9 -8.6l-5.8 -13.5l-5.7 -15.3l-5.8 -15.3l-2.8 -9.6l-6.7 -3.8" stroke-width="2.5"/><path d="M1623.9 912.3l-1 -8.6" stroke-width="4"/><path d="M621.2 953.5l6.7 11.5l1 15.3l9.6 0l11.5 1.9l19.1 0l9.6 1.9l9.6 9.6l9.6 7.7l9.6 1.9l11.5 5.8l11.5 3.8l5.7 1.9" stroke-width="2.5"/><path d="M634.6 959.2l2.9 7.7l7.7 7.7l10.5 1.9l15.3 0l7.7 3.8" stroke-width="2.5"/><path d="M628.9 982.2l-2.9 1.9l-1.9 9.6" stroke-width="3"/><path d="M696 997.6l11.5 -9.6l1.9 9.6l11.5 1.9l13.4 -11.5l3.8 -4.8l11.5 2.9l1.9 9.5" stroke-width="2"/><path d="M504.3 1088.6l9.6 0.9" stroke-width="4"/><path d="M519.7 1092.4l12.4 4.8" stroke-width="3.5"/><path d="M788.9 1103l1.9 15.3l6.7 11.5l5.8 7.7l1.9 11.5l-1 12" stroke-width="3"/><path d="M805.2 1131.7l9.6 -3.8" stroke-width="2.5"/><path d="M805.2 1154.7l15.3 -1.9" stroke-width="2.5"/><path d="M1084 1017.2l-3.9 7.7l-7.6 3.8l-7.7 -1.9l-1.9 11.5l1.9 7.7l-7.7 5.7l-3.8 5.8l0 7.7l5.8 0l1.9 -7.7l5.7 0l5.8 11.5l5.7 11.5l5.8 5.7l7.6 -7.6l7.7 -13.4l3.8 -5.8" stroke-width="2.6"/><path d="M1059.1 1065.2l7.6 -2l5.8 11.5l1.9 11.5l-5.8 5.8l-5.7 1.9l-5.8 -9.6l-2.8 -1.9" stroke-width="2.6"/><path d="M1054.3 1082.4l4.8 7.7l7.6 3.8" stroke-width="4"/><path d="M1068.6 1093.9l0 13.4l2 11.5l-5.8 3.8l-11.5 2l-11.5 5.7l-11.5 1.9l0 9.6l7.7 1.9l9.6 -5.7l9.5 -7.7l9.6 -1.9l5.8 5.7l3.8 9.6l-7.7 3.9l-7.6 1.9l-7.7 3.8l9.6 3.8l5.7 5.8l3.9 5.7l7.6 -5.7l7.7 -3.8" stroke-width="2.6"/><path d="M1103.1 1059.4l-5.7 13.4l-7.7 11.5l-7.6 9.6l-3.9 7.7l-3.8 11.5l-1.9 5.7l5.7 5.8l5.8 0" stroke-width="2.6"/><path d="M1082.1 1093.9l13.4 3.8" stroke-width="4"/><path d="M1078.2 1126.5l3.9 11.5l1.9 11.5l7.6 3.8l11.5 0l9.6 1.9l5.8 3.9l3.8 3.8" stroke-width="2.8"/><path d="M1143.4 1135.1l-9.6 2.9l-3.8 7.6l-3.9 11.5l-3.8 5.8" stroke-width="3"/><path d="M1024.6 1101.6l0 11.5l-3.9 9.5l-7.6 3.9l-11.5 0.9" stroke-width="3"/><path d="M1013.1 1126.5l9.5 11.5l7.7 7.6" stroke-width="4.5"/><path d="M1007.3 1124.6l7.7 9.5" stroke-width="4"/><path d="M1034.1 1132.2l11.5 -5.7l7.7 -3.9" stroke-width="3.5"/><path d="M1053.3 1153.3l5.8 5.8l7.6 9.5l9.6 -1.9" stroke-width="3"/><path d="M1162.5 1176.3l2.9 11.5l-2.9 9.6l-3.8 9.6" stroke-width="3.5"/><path d="M1181.7 1180.1l-11.5 5.8l-4.8 5.7" stroke-width="3"/><path d="M1156.8 1207.9l15.3 -1.9" stroke-width="3"/><path d="M1239.2 1180.1l-5.8 13.5l-3.8 7.6l-3.8 9.6" stroke-width="2.8"/><path d="M1290.9 1212.7l-9.5 7.7l-5.8 9.6l-3.8 9.5" stroke-width="3"/><path d="M1308.2 1223.3l-15.3 4.7l-13.5 6.8l-7.6 4.7" stroke-width="2.6"/><path d="M1308.2 1223.3l-9.6 -1l-11.5 4.8l-8.6 4.8" stroke-width="2.4"/><path d="M1098.2 479.7l3.9 -8.6l9.5 -4.8l11.5 -1.9l11.5 -1l2.9 -5.7l8.6 -1l7.7 5.8l7.7 3.8l7.6 2.9l7.7 1.9" stroke-width="2.5"/><path d="M1104 481.6l5.7 -3.8l7.7 -3.8l1.9 -3.9l19.2 -0.9l3.8 -6.7l5.7 0l2 5.7l11.5 1.9l9.5 2" stroke-width="2.5"/><path d="M1096.3 489.3l2.9 7.7l-1.9 9.6l-6.7 5.7l-1 9.6l-1 11.5l2 9.6l5.7 1.9l7.7 0.9l-1 6.7l-10.5 3.9l3.8 9.6l7.7 5.7l7.6 2.9" stroke-width="3"/><path d="M1104 481.6l-1.9 11.5l0.9 7.7" stroke-width="2"/><path d="M1787.4 369.2l12.6 -3.8" stroke-width="3"/><path d="M1785.4 375l13.5 -3.9" stroke-width="3"/><path d="M1783.5 382.6l7.7 11.5l5.7 8.7" stroke-width="3.5"/><path d="M1787.4 376.9l12.6 1.9" stroke-width="2.5"/><path d="M1805.7 352l-3.8 21.1l-1.9 3.8" stroke-width="3.5"/><path d="M1800 392.2l7.7 0l7.6 5.8l3.9 7.6l5.7 2l-1.9 7.6l-3.8 9.6" stroke-width="4.5"/><path d="M2354.9 911.9l-1 -9.6l6.7 -11.5l3.9 -11.5l-9.6 -7.7l-1.9 -5.7l11.5 -7.7l11.5 -5.7l1.9 -7.7l3.8 -5.7l9.6 -2l11.5 0l11.5 3.9l11.5 1.9l17.2 -3.8l5.8 3.8l9.6 9.6" stroke-width="2.5"/><path d="M2354.9 911.9l9.6 -7.7l3.8 -15.3l7.7 -11.5l13.4 2.9l9.6 -1l11.5 -8.6l5.7 2.9l5.8 11.5l7.6 -5.8l3.8 -3.8l3.9 11.5l7.6 -7.7l6.8 -12.5" stroke-width="2.5"/><path d="M2393.2 825.6l9.6 -2.8l-3.8 8.6l-7.7 -1.9l1.9 -3.9" stroke-width="2"/><path d="M2416.2 819.9l9.6 -1.9l3.8 15.3l-5.7 3.8l-5.8 -5.7l-1.9 -11.5" stroke-width="2.5"/></g>
<g fill="none" stroke="#000" stroke-width="1.6" stroke-dasharray="2 3"><path d="M1819.2 424.8l-1 11.5l2.9 7.7l7.6 7.6l9.6 11.5l9.6 11.5l9.6 11.5l9.6 11.5l9.6 5.8l5.7 3.8"/><path d="M1867.1 497.6l-9.6 9.6l-9.6 7.7l-9.6 7.6"/><path d="M1176.8 471.1l3.8 8.6l-0.9 9.6l2.8 9.6l3.9 9.6l1.9 3.8"/></g>
<g stroke="#000" stroke-width="2.8"><circle cx="2233.6" cy="808" r="9.2" fill="#a4f96f"/><circle cx="852.1" cy="1033.6" r="9.2" fill="#0b7491"/><circle cx="1155.1" cy="928.6" r="9.2" fill="#a4f96f"/><circle cx="739.1" cy="944.9" r="9.2" fill="#0b7491"/><circle cx="773.6" cy="988.9" r="9.2" fill="#0b7491"/><circle cx="737.5" cy="1119.3" r="9.2" fill="#0b7491"/><circle cx="1253.4" cy="372.4" r="9.2" fill="#0b7491"/><circle cx="1548.8" cy="552" r="9.2" fill="#0b7491"/><circle cx="484.9" cy="1291.5" r="9.2" fill="#0b7491"/><circle cx="955.8" cy="931.4" r="9.2" fill="#0b7491"/><circle cx="1464.4" cy="445.5" r="9.2" fill="#0b7491"/><circle cx="1739.4" cy="541.9" r="9.2" fill="#a4f96f"/><circle cx="1284.5" cy="880.7" r="9.2" fill="#0b7491"/><circle cx="839.8" cy="1152.3" r="9.2" fill="#0b7491"/><circle cx="1363.2" cy="926.7" r="9.2" fill="#0b7491"/><circle cx="970.2" cy="779.5" r="9.2" fill="#0b7491"/><circle cx="1501.2" cy="571.6" r="9.2" fill="#0b7491"/><circle cx="706.5" cy="1043.6" r="9.2" fill="#a4f96f"/><circle cx="1318.2" cy="995.6" r="9.2" fill="#0b7491"/><circle cx="1489.7" cy="570.6" r="9.2" fill="#0b7491"/><circle cx="1385.3" cy="998.5" r="9.2" fill="#0b7491"/><circle cx="804.2" cy="1055.1" r="9.2" fill="#0b7491"/><circle cx="912.1" cy="934.3" r="9.2" fill="#a4f96f"/><circle cx="1205" cy="489.3" r="9.2" fill="#a4f96f"/><circle cx="1423.6" cy="530.2" r="9.2" fill="#a4f96f"/><circle cx="1252.5" cy="586.9" r="9.2" fill="#a4f96f"/><circle cx="883" cy="991.8" r="9.2" fill="#a4f96f"/><circle cx="1105.9" cy="900.8" r="9.2" fill="#0b7491"/><circle cx="1282.6" cy="1070.4" r="9.2" fill="#0b7491"/><circle cx="1497" cy="505.3" r="9.2" fill="#0b7491"/><circle cx="1427.1" cy="965" r="9.2" fill="#0b7491"/><circle cx="1377.6" cy="926.7" r="9.2" fill="#0b7491"/><circle cx="1390.1" cy="858.6" r="9.2" fill="#0b7491"/><circle cx="830" cy="1161.2" r="9.2" fill="#0b7491"/><circle cx="1147.5" cy="1108.7" r="9.2" fill="#0b7491"/><circle cx="1350.4" cy="558.2" r="9.2" fill="#a4f96f"/><circle cx="1319.6" cy="533.4" r="9.2" fill="#0b7491"/><circle cx="1396.4" cy="357.7" r="9.2" fill="#a4f96f"/><circle cx="1546.7" cy="635.8" r="9.2" fill="#0b7491"/><circle cx="1076.6" cy="903.7" r="9.2" fill="#a4f96f"/><circle cx="1229.5" cy="358.4" r="9.2" fill="#0b7491"/><circle cx="948.2" cy="987" r="9.2" fill="#0b7491"/><circle cx="1067" cy="896" r="9.2" fill="#a4f96f"/><circle cx="886.8" cy="930.5" r="9.2" fill="#0b7491"/><circle cx="2310.8" cy="872.2" r="9.2" fill="#a4f96f"/><circle cx="1435.7" cy="498.6" r="9.2" fill="#0b7491"/><circle cx="1335.5" cy="579.6" r="9.2" fill="#a4f96f"/><circle cx="1390.1" cy="939.1" r="9.2" fill="#0b7491"/><circle cx="1230.5" cy="832.2" r="9.2" fill="#a4f96f"/><circle cx="1232.9" cy="531.1" r="9.2" fill="#0b7491"/><circle cx="1013.7" cy="838" r="9.2" fill="#a4f96f"/><circle cx="467.4" cy="1303.9" r="9.2" fill="#0b7491"/><circle cx="765.5" cy="1147.4" r="9.2" fill="#0b7491"/><circle cx="1525.2" cy="485.2" r="9.2" fill="#0b7491"/><circle cx="1337.4" cy="558.2" r="9.2" fill="#a4f96f"/><circle cx="1369.9" cy="929.5" r="9.2" fill="#0b7491"/><circle cx="1024.4" cy="894.1" r="9.2" fill="#a4f96f"/><circle cx="941.5" cy="683.3" r="9.2" fill="#0b7491"/><circle cx="1240.6" cy="1109.9" r="9.2" fill="#0b7491"/><circle cx="1185.8" cy="1057" r="9.2" fill="#a4f96f"/><circle cx="1940" cy="532.2" r="9.2" fill="#a4f96f"/><circle cx="220.2" cy="1369.4" r="9.2" fill="#0b7491"/><circle cx="1363.2" cy="853.8" r="9.2" fill="#0b7491"/><circle cx="1371.9" cy="527.3" r="9.2" fill="#0b7491"/><circle cx="1045.9" cy="860.5" r="9.2" fill="#a4f96f"/><circle cx="1240" cy="368.6" r="9.2" fill="#0b7491"/><circle cx="1673.7" cy="854.8" r="9.2" fill="#0b7491"/><circle cx="1491.7" cy="554.3" r="9.2" fill="#0b7491"/><circle cx="907.9" cy="1083.4" r="9.2" fill="#a4f96f"/><circle cx="1380.1" cy="518.7" r="9.2" fill="#a4f96f"/><circle cx="306.8" cy="1323.7" r="9.2" fill="#a4f96f"/><circle cx="2346.3" cy="863.6" r="9.2" fill="#a4f96f"/><circle cx="702.4" cy="1199" r="9.2" fill="#a4f96f"/><circle cx="971.1" cy="1006.2" r="9.2" fill="#0b7491"/><circle cx="1198.8" cy="530.1" r="9.2" fill="#a4f96f"/><circle cx="1204.6" cy="348.4" r="9.2" fill="#0b7491"/><circle cx="789.9" cy="1090.5" r="9.2" fill="#0b7491"/><circle cx="1337" cy="831.2" r="9.2" fill="#0b7491"/><circle cx="1522.3" cy="578.3" r="9.2" fill="#0b7491"/><circle cx="1417.9" cy="915.7" r="9.2" fill="#0b7491"/><circle cx="1179.7" cy="454.8" r="9.2" fill="#a4f96f"/><circle cx="1284.7" cy="546.3" r="9.2" fill="#a4f96f"/><circle cx="1232" cy="632.3" r="9.2" fill="#0b7491"/><circle cx="1524.4" cy="493.8" r="9.2" fill="#0b7491"/><circle cx="1298.5" cy="633.5" r="9.2" fill="#0b7491"/><circle cx="1423.6" cy="894.1" r="9.2" fill="#0b7491"/><circle cx="1119.7" cy="974.6" r="9.2" fill="#a4f96f"/><circle cx="1962.6" cy="495.8" r="9.2" fill="#a4f96f"/><circle cx="979.8" cy="783.3" r="9.2" fill="#0b7491"/><circle cx="1315.7" cy="962.1" r="9.2" fill="#a4f96f"/><circle cx="1044.9" cy="876.8" r="9.2" fill="#0b7491"/><circle cx="833.9" cy="1035.9" r="9.2" fill="#0b7491"/><circle cx="1189.3" cy="559.1" r="9.2" fill="#a4f96f"/><circle cx="1263.6" cy="719.1" r="9.2" fill="#a4f96f"/><circle cx="998" cy="934.3" r="9.2" fill="#0b7491"/><circle cx="758.2" cy="1133.6" r="9.2" fill="#0b7491"/><circle cx="1244.4" cy="810.2" r="9.2" fill="#a4f96f"/><circle cx="879.2" cy="897" r="9.2" fill="#0b7491"/><circle cx="1151.9" cy="1013.9" r="9.2" fill="#a4f96f"/><circle cx="1125.4" cy="940.1" r="9.2" fill="#a4f96f"/><circle cx="931.9" cy="916.1" r="9.2" fill="#a4f96f"/><circle cx="893.6" cy="829.3" r="9.2" fill="#0b7491"/><circle cx="837.8" cy="1012.9" r="9.2" fill="#0b7491"/><circle cx="1070.4" cy="913.2" r="9.2" fill="#a4f96f"/><circle cx="1969" cy="714.9" r="9.2" fill="#a4f96f"/><circle cx="998" cy="869.2" r="9.2" fill="#0b7491"/><circle cx="1911.1" cy="557.2" r="9.2" fill="#a4f96f"/><circle cx="946.2" cy="920.9" r="9.2" fill="#0b7491"/><circle cx="1137.9" cy="949.7" r="9.2" fill="#a4f96f"/><circle cx="850.2" cy="929.5" r="9.2" fill="#0b7491"/><circle cx="1254.4" cy="654" r="9.2" fill="#a4f96f"/><circle cx="1087.1" cy="900.8" r="9.2" fill="#0b7491"/><circle cx="1154.2" cy="914.2" r="9.2" fill="#a4f96f"/><circle cx="1282.8" cy="840.8" r="9.2" fill="#0b7491"/><circle cx="1318.2" cy="851" r="9.2" fill="#0b7491"/><circle cx="1259" cy="868.6" r="9.2" fill="#a4f96f"/><circle cx="1350.2" cy="534.3" r="9.2" fill="#a4f96f"/><circle cx="1135" cy="777.6" r="9.2" fill="#a4f96f"/><circle cx="1386.3" cy="627.2" r="9.2" fill="#a4f96f"/><circle cx="362.3" cy="1335.5" r="9.2" fill="#a4f96f"/><circle cx="1888.9" cy="517.2" r="9.2" fill="#a4f96f"/><circle cx="1314.8" cy="525.7" r="9.2" fill="#a4f96f"/><circle cx="1320.9" cy="407.9" r="9.2" fill="#0b7491"/><circle cx="1196" cy="347.5" r="9.2" fill="#0b7491"/><circle cx="990.3" cy="872" r="9.2" fill="#0b7491"/><circle cx="1400.6" cy="945.8" r="9.2" fill="#0b7491"/><circle cx="1397.8" cy="556.2" r="9.2" fill="#a4f96f"/><circle cx="1301.9" cy="674.7" r="9.2" fill="#0b7491"/><circle cx="481.8" cy="1159.4" r="9.2" fill="#a4f96f"/><circle cx="2256.6" cy="859.6" r="9.2" fill="#a4f96f"/><circle cx="1358.5" cy="669.9" r="9.2" fill="#0b7491"/><circle cx="1260.2" cy="340.2" r="9.2" fill="#0b7491"/><circle cx="1396.4" cy="601.7" r="9.2" fill="#0b7491"/><circle cx="1744.4" cy="673.7" r="9.2" fill="#a4f96f"/><circle cx="697" cy="1225" r="9.2" fill="#0b7491"/><circle cx="1443.7" cy="433.4" r="9.2" fill="#0b7491"/><circle cx="1454.9" cy="444" r="9.2" fill="#0b7491"/><circle cx="800.4" cy="1011.9" r="9.2" fill="#0b7491"/><circle cx="1275.7" cy="700.4" r="9.2" fill="#0b7491"/><circle cx="1369.4" cy="577.3" r="9.2" fill="#a4f96f"/><circle cx="1200.7" cy="805" r="9.2" fill="#a4f96f"/><circle cx="791.8" cy="874.9" r="9.2" fill="#0b7491"/><circle cx="1489.9" cy="455.9" r="9.2" fill="#0b7491"/><circle cx="1414" cy="874.5" r="9.2" fill="#0b7491"/><circle cx="1324.4" cy="462.5" r="9.2" fill="#a4f96f"/><circle cx="1293.7" cy="476.8" r="9.2" fill="#a4f96f"/><circle cx="780.3" cy="1083.8" r="9.2" fill="#0b7491"/><circle cx="1245.8" cy="360.9" r="9.2" fill="#0b7491"/><circle cx="986.1" cy="738.3" r="9.2" fill="#0b7491"/><circle cx="1219.9" cy="536.3" r="9.2" fill="#a4f96f"/><circle cx="976.9" cy="1017.7" r="9.2" fill="#0b7491"/><circle cx="995.5" cy="1034.9" r="9.2" fill="#0b7491"/><circle cx="1399.9" cy="444.9" r="9.2" fill="#0b7491"/><circle cx="1522.9" cy="502.4" r="9.2" fill="#0b7491"/><circle cx="1294.1" cy="1093.4" r="9.2" fill="#0b7491"/><circle cx="1213.2" cy="1123.1" r="9.2" fill="#a4f96f"/><circle cx="1458.1" cy="584.6" r="9.2" fill="#0b7491"/><circle cx="414.2" cy="1355.3" r="9.2" fill="#0b7491"/><circle cx="1063.5" cy="868.2" r="9.2" fill="#a4f96f"/><circle cx="1185.4" cy="446.2" r="9.2" fill="#a4f96f"/><circle cx="956.8" cy="993.7" r="9.2" fill="#0b7491"/><circle cx="823.4" cy="1024.4" r="9.2" fill="#0b7491"/><circle cx="899.9" cy="963.4" r="9.2" fill="#0b7491"/><circle cx="1517.5" cy="570.6" r="9.2" fill="#0b7491"/><circle cx="1226.6" cy="1006.6" r="9.2" fill="#0b7491"/><circle cx="1143.6" cy="1095.3" r="9.2" fill="#a4f96f"/><circle cx="2055.2" cy="749.8" r="9.2" fill="#a4f96f"/><circle cx="1010.8" cy="1074.2" r="9.2" fill="#0b7491"/><circle cx="927.1" cy="855.7" r="9.2" fill="#0b7491"/><circle cx="1167.6" cy="912.3" r="9.2" fill="#0b7491"/><circle cx="1153" cy="749.2" r="9.2" fill="#a4f96f"/><circle cx="1435.1" cy="983.2" r="9.2" fill="#0b7491"/><circle cx="841.6" cy="871.1" r="9.2" fill="#a4f96f"/><circle cx="852.1" cy="1009.1" r="9.2" fill="#0b7491"/><circle cx="1360" cy="642.5" r="9.2" fill="#a4f96f"/><circle cx="1107.8" cy="988.4" r="9.2" fill="#a4f96f"/><circle cx="1695.9" cy="635.8" r="9.2" fill="#a4f96f"/><circle cx="1420.9" cy="490.9" r="9.2" fill="#0b7491"/><circle cx="1039.2" cy="886.4" r="9.2" fill="#0b7491"/><circle cx="1210.7" cy="1105.3" r="9.2" fill="#a4f96f"/><circle cx="856.9" cy="1052.2" r="9.2" fill="#0b7491"/><circle cx="1399.3" cy="409.1" r="9.2" fill="#0b7491"/><circle cx="2128.4" cy="431.6" r="9.2" fill="#0b7491"/><circle cx="773.6" cy="947.7" r="9.2" fill="#a4f96f"/><circle cx="1170.1" cy="992.2" r="9.2" fill="#a4f96f"/><circle cx="1461.2" cy="415.2" r="9.2" fill="#0b7491"/><circle cx="1632.1" cy="827.8" r="9.2" fill="#a4f96f"/><circle cx="1778.7" cy="706.7" r="9.2" fill="#a4f96f"/><circle cx="1368" cy="845.6" r="9.2" fill="#0b7491"/><circle cx="1694" cy="838" r="9.2" fill="#0b7491"/><circle cx="1325.9" cy="713" r="9.2" fill="#a4f96f"/><circle cx="475.9" cy="1300" r="9.2" fill="#0b7491"/><circle cx="1512.9" cy="637.7" r="9.2" fill="#0b7491"/><circle cx="1102" cy="1036.8" r="9.2" fill="#a4f96f"/><circle cx="231.8" cy="1367.6" r="9.2" fill="#0b7491"/><circle cx="1462.7" cy="646.7" r="9.2" fill="#0b7491"/><circle cx="1486.1" cy="430.2" r="9.2" fill="#0b7491"/><circle cx="1940.7" cy="589.2" r="9.2" fill="#a4f96f"/><circle cx="1236.2" cy="434.1" r="9.2" fill="#a4f96f"/><circle cx="919.4" cy="954.4" r="9.2" fill="#0b7491"/><circle cx="488.8" cy="1167.2" r="9.2" fill="#a4f96f"/><circle cx="1098.6" cy="1005.2" r="9.2" fill="#a4f96f"/><circle cx="1387.8" cy="970.3" r="9.2" fill="#0b7491"/><circle cx="1431.3" cy="605.1" r="9.2" fill="#a4f96f"/><circle cx="710" cy="1180.5" r="9.2" fill="#a4f96f"/><circle cx="1400.6" cy="590.7" r="9.2" fill="#a4f96f"/><circle cx="791.8" cy="1063.7" r="9.2" fill="#0b7491"/><circle cx="710.3" cy="1033.4" r="9.2" fill="#0b7491"/><circle cx="677.4" cy="1008.5" r="9.2" fill="#0b7491"/><circle cx="1253.1" cy="623.9" r="9.2" fill="#a4f96f"/><circle cx="1280.3" cy="429.3" r="9.2" fill="#a4f96f"/><circle cx="1281.8" cy="654.6" r="9.2" fill="#0b7491"/><circle cx="1262.6" cy="744.1" r="9.2" fill="#0b7491"/><circle cx="1381.7" cy="460.8" r="9.2" fill="#0b7491"/><circle cx="1378.6" cy="507.2" r="9.2" fill="#0b7491"/><circle cx="1296.9" cy="860.5" r="9.2" fill="#0b7491"/><circle cx="1754.9" cy="804.8" r="9.2" fill="#a4f96f"/><circle cx="1309" cy="623.3" r="9.2" fill="#a4f96f"/><circle cx="1291.8" cy="446.2" r="9.2" fill="#0b7491"/><circle cx="900.3" cy="839.9" r="9.2" fill="#0b7491"/><circle cx="860.6" cy="815" r="9.2" fill="#a4f96f"/><circle cx="947.2" cy="978.4" r="9.2" fill="#0b7491"/><circle cx="993.2" cy="857.7" r="9.2" fill="#0b7491"/><circle cx="1483.6" cy="513" r="9.2" fill="#0b7491"/><circle cx="1393.5" cy="999.9" r="9.2" fill="#0b7491"/><circle cx="731.4" cy="997.6" r="9.2" fill="#0b7491"/><circle cx="799.4" cy="1027.3" r="9.2" fill="#0b7491"/><circle cx="940.1" cy="710.1" r="9.2" fill="#a4f96f"/><circle cx="1461.9" cy="916.1" r="9.2" fill="#a4f96f"/><circle cx="705.5" cy="1104.9" r="9.2" fill="#0b7491"/><circle cx="1116.8" cy="966.9" r="9.2" fill="#a4f96f"/><circle cx="1361.9" cy="420" r="9.2" fill="#a4f96f"/><circle cx="1244.4" cy="656.3" r="9.2" fill="#0b7491"/><circle cx="743.9" cy="1024.8" r="9.2" fill="#0b7491"/><circle cx="798.5" cy="967.9" r="9.2" fill="#0b7491"/><circle cx="2298.3" cy="826.6" r="9.2" fill="#a4f96f"/><circle cx="1083.8" cy="962.1" r="9.2" fill="#a4f96f"/><circle cx="1413.1" cy="956.9" r="9.2" fill="#0b7491"/><circle cx="1209.8" cy="1157.4" r="9.2" fill="#a4f96f"/><circle cx="1147.5" cy="1049.3" r="9.2" fill="#0b7491"/><circle cx="788.9" cy="885.5" r="9.2" fill="#0b7491"/><circle cx="1171.4" cy="968.4" r="9.2" fill="#a4f96f"/><circle cx="2016" cy="378.2" r="9.2" fill="#0b7491"/><circle cx="1333" cy="701.5" r="9.2" fill="#a4f96f"/><circle cx="1488.8" cy="578.3" r="9.2" fill="#0b7491"/><circle cx="732.4" cy="1127.9" r="9.2" fill="#0b7491"/><circle cx="1420.9" cy="614.7" r="9.2" fill="#0b7491"/><circle cx="1339.7" cy="467.3" r="9.2" fill="#a4f96f"/><circle cx="895.5" cy="1023.4" r="9.2" fill="#0b7491"/><circle cx="1026.9" cy="634.2" r="9.2" fill="#a4f96f"/><circle cx="778.4" cy="1044.5" r="9.2" fill="#a4f96f"/><circle cx="1137.9" cy="942" r="9.2" fill="#a4f96f"/><circle cx="841.6" cy="1061.8" r="9.2" fill="#0b7491"/><circle cx="729.5" cy="1070.4" r="9.2" fill="#0b7491"/><circle cx="782.2" cy="973.6" r="9.2" fill="#0b7491"/><circle cx="722.2" cy="1115.4" r="9.2" fill="#0b7491"/><circle cx="1342.6" cy="682.7" r="9.2" fill="#a4f96f"/><circle cx="1482.6" cy="466" r="9.2" fill="#0b7491"/><circle cx="1355" cy="399.2" r="9.2" fill="#a4f96f"/><circle cx="1300" cy="982.2" r="9.2" fill="#0b7491"/><circle cx="1388.7" cy="411" r="9.2" fill="#0b7491"/><circle cx="743.9" cy="1098.6" r="9.2" fill="#0b7491"/><circle cx="1297.1" cy="562.4" r="9.2" fill="#a4f96f"/><circle cx="1534.4" cy="642.5" r="9.2" fill="#0b7491"/><circle cx="1147.7" cy="745" r="9.2" fill="#a4f96f"/><circle cx="1369.2" cy="452.2" r="9.2" fill="#0b7491"/><circle cx="1287.2" cy="688.9" r="9.2" fill="#a4f96f"/><circle cx="985.5" cy="886.4" r="9.2" fill="#0b7491"/><circle cx="1313.4" cy="972.6" r="9.2" fill="#0b7491"/><circle cx="1253.2" cy="938.2" r="9.2" fill="#a4f96f"/><circle cx="790.8" cy="900.8" r="9.2" fill="#a4f96f"/><circle cx="1508.9" cy="619.5" r="9.2" fill="#0b7491"/><circle cx="1425.5" cy="451.6" r="9.2" fill="#0b7491"/><circle cx="1772" cy="421.6" r="9.2" fill="#a4f96f"/><circle cx="1631.2" cy="722.6" r="9.2" fill="#a4f96f"/><circle cx="1026.7" cy="1090.5" r="9.2" fill="#0b7491"/><circle cx="1306.7" cy="886.4" r="9.2" fill="#0b7491"/><circle cx="1278.9" cy="559.1" r="9.2" fill="#a4f96f"/><circle cx="424.5" cy="1346.3" r="9.2" fill="#0b7491"/><circle cx="1044" cy="845.6" r="9.2" fill="#a4f96f"/><circle cx="1328.2" cy="412.6" r="9.2" fill="#a4f96f"/><circle cx="1604.1" cy="515.3" r="9.2" fill="#a4f96f"/><circle cx="835.9" cy="1029.2" r="9.2" fill="#0b7491"/><circle cx="1924" cy="546.3" r="9.2" fill="#a4f96f"/><circle cx="1328.2" cy="521.9" r="9.2" fill="#0b7491"/><circle cx="1300" cy="458.1" r="9.2" fill="#0b7491"/><circle cx="1117.8" cy="860.5" r="9.2" fill="#a4f96f"/><circle cx="1364.2" cy="1273.5" r="9.2" fill="#a4f96f"/><circle cx="907.9" cy="850" r="9.2" fill="#0b7491"/><circle cx="1420.7" cy="1007.5" r="9.2" fill="#0b7491"/><circle cx="1513.7" cy="625.6" r="9.2" fill="#0b7491"/><circle cx="692.3" cy="1177" r="9.2" fill="#a4f96f"/><circle cx="829.1" cy="1051.2" r="9.2" fill="#0b7491"/><circle cx="1340.6" cy="488.3" r="9.2" fill="#a4f96f"/><circle cx="1080.4" cy="852.9" r="9.2" fill="#a4f96f"/><circle cx="1413.3" cy="415.2" r="9.2" fill="#0b7491"/><circle cx="1406.4" cy="855.7" r="9.2" fill="#0b7491"/><circle cx="920.4" cy="845.6" r="9.2" fill="#0b7491"/><circle cx="1284.1" cy="409.8" r="9.2" fill="#a4f96f"/><circle cx="1181" cy="1063.7" r="9.2" fill="#0b7491"/><circle cx="977.3" cy="792.9" r="9.2" fill="#0b7491"/><circle cx="888.6" cy="1126.6" r="9.2" fill="#a4f96f"/><circle cx="1285.3" cy="600.7" r="9.2" fill="#0b7491"/><circle cx="992.2" cy="1051.2" r="9.2" fill="#0b7491"/><circle cx="1146.1" cy="445.2" r="9.2" fill="#a4f96f"/><circle cx="1368" cy="851" r="9.2" fill="#0b7491"/><circle cx="1675.8" cy="840.8" r="9.2" fill="#0b7491"/><circle cx="1676.8" cy="825.9" r="9.2" fill="#0b7491"/><circle cx="1512" cy="465.4" r="9.2" fill="#0b7491"/><circle cx="703.7" cy="1225.5" r="9.2" fill="#0b7491"/><circle cx="699.8" cy="1093.4" r="9.2" fill="#0b7491"/><circle cx="1963.3" cy="693.3" r="9.2" fill="#a4f96f"/><circle cx="1360.4" cy="843.7" r="9.2" fill="#0b7491"/><circle cx="1118.7" cy="1007.1" r="9.2" fill="#a4f96f"/><circle cx="1051.6" cy="886.4" r="9.2" fill="#0b7491"/><circle cx="1383" cy="438.2" r="9.2" fill="#0b7491"/><circle cx="1308.6" cy="848.5" r="9.2" fill="#0b7491"/><circle cx="988.8" cy="955.4" r="9.2" fill="#0b7491"/><circle cx="787" cy="1034.9" r="9.2" fill="#0b7491"/><circle cx="500.3" cy="1291" r="9.2" fill="#0b7491"/><circle cx="951" cy="679.9" r="9.2" fill="#0b7491"/><circle cx="1445.1" cy="913.2" r="9.2" fill="#a4f96f"/><circle cx="398.8" cy="1377.9" r="9.2" fill="#0b7491"/><circle cx="1216.7" cy="448.7" r="9.2" fill="#a4f96f"/><circle cx="1179.7" cy="534" r="9.2" fill="#a4f96f"/><circle cx="1492.6" cy="480" r="9.2" fill="#0b7491"/><circle cx="2270.6" cy="815.5" r="9.2" fill="#a4f96f"/><circle cx="1606.4" cy="684.1" r="9.2" fill="#a4f96f"/><circle cx="1297.9" cy="1099.1" r="9.2" fill="#0b7491"/><circle cx="1379.2" cy="528.3" r="9.2" fill="#a4f96f"/><circle cx="1497" cy="774.3" r="9.2" fill="#0b7491"/><circle cx="1348.9" cy="580.2" r="9.2" fill="#a4f96f"/><circle cx="753.4" cy="937.2" r="9.2" fill="#a4f96f"/><circle cx="872.5" cy="1016.7" r="9.2" fill="#0b7491"/><circle cx="1281.6" cy="1060.8" r="9.2" fill="#0b7491"/><circle cx="1101.5" cy="1026.3" r="9.2" fill="#a4f96f"/><circle cx="1122.9" cy="897" r="9.2" fill="#a4f96f"/><circle cx="321.5" cy="1341.6" r="9.2" fill="#a4f96f"/><circle cx="1220.9" cy="433.3" r="9.2" fill="#a4f96f"/><circle cx="1377.2" cy="407.2" r="9.2" fill="#0b7491"/><circle cx="1294.8" cy="769.5" r="9.2" fill="#a4f96f"/><circle cx="921.3" cy="903.7" r="9.2" fill="#0b7491"/><circle cx="1893.3" cy="366.7" r="9.2" fill="#a4f96f"/><circle cx="1224.7" cy="393.5" r="9.2" fill="#0b7491"/><circle cx="1332" cy="479.7" r="9.2" fill="#a4f96f"/><circle cx="1248.1" cy="994.7" r="9.2" fill="#0b7491"/><circle cx="822.6" cy="1118.8" r="9.2" fill="#0b7491"/><circle cx="907" cy="912.3" r="9.2" fill="#a4f96f"/><circle cx="1307.7" cy="855.7" r="9.2" fill="#0b7491"/><circle cx="1278.9" cy="517.7" r="9.2" fill="#0b7491"/><circle cx="873.4" cy="894.1" r="9.2" fill="#a4f96f"/><circle cx="1155.1" cy="1080" r="9.2" fill="#a4f96f"/><circle cx="751.1" cy="1007.5" r="9.2" fill="#0b7491"/><circle cx="1471.7" cy="455.5" r="9.2" fill="#0b7491"/><circle cx="1403.5" cy="530.2" r="9.2" fill="#a4f96f"/><circle cx="1351.4" cy="1229.3" r="9.2" fill="#a4f96f"/><circle cx="1511.4" cy="507.2" r="9.2" fill="#0b7491"/><circle cx="826.3" cy="983.2" r="9.2" fill="#0b7491"/><circle cx="1033.4" cy="882.6" r="9.2" fill="#a4f96f"/><circle cx="1278.9" cy="535.3" r="9.2" fill="#a4f96f"/><circle cx="1130.2" cy="959.2" r="9.2" fill="#a4f96f"/><circle cx="780.3" cy="1073.3" r="9.2" fill="#0b7491"/><circle cx="1498.9" cy="536" r="9.2" fill="#0b7491"/><circle cx="856.9" cy="1062.7" r="9.2" fill="#0b7491"/><circle cx="1447.2" cy="493.4" r="9.2" fill="#0b7491"/><circle cx="1221.2" cy="1110.6" r="9.2" fill="#a4f96f"/><circle cx="1364.8" cy="341.4" r="9.2" fill="#a4f96f"/><circle cx="1955.2" cy="640.2" r="9.2" fill="#a4f96f"/><circle cx="1338.3" cy="843.7" r="9.2" fill="#0b7491"/><circle cx="1334.9" cy="897.9" r="9.2" fill="#0b7491"/><circle cx="1317.3" cy="644.4" r="9.2" fill="#a4f96f"/><circle cx="1437" cy="942.4" r="9.2" fill="#0b7491"/><circle cx="1487.8" cy="443.6" r="9.2" fill="#0b7491"/><circle cx="1141.7" cy="1018.6" r="9.2" fill="#a4f96f"/><circle cx="1160.9" cy="919" r="9.2" fill="#0b7491"/><circle cx="1153.2" cy="1039.7" r="9.2" fill="#0b7491"/><circle cx="877.2" cy="1031.1" r="9.2" fill="#0b7491"/><circle cx="1332" cy="467.3" r="9.2" fill="#a4f96f"/><circle cx="1497.4" cy="546.7" r="9.2" fill="#0b7491"/><circle cx="2273.4" cy="870.3" r="9.2" fill="#a4f96f"/><circle cx="1325.9" cy="547.6" r="9.2" fill="#0b7491"/><circle cx="1518.1" cy="476.2" r="9.2" fill="#0b7491"/><circle cx="1341.6" cy="424.1" r="9.2" fill="#0b7491"/><circle cx="1926.9" cy="470.2" r="9.2" fill="#a4f96f"/><circle cx="783.2" cy="915.2" r="9.2" fill="#a4f96f"/><circle cx="974" cy="775.7" r="9.2" fill="#0b7491"/><circle cx="1292.2" cy="496" r="9.2" fill="#a4f96f"/><circle cx="1507.2" cy="526.4" r="9.2" fill="#0b7491"/><circle cx="1232.9" cy="821.7" r="9.2" fill="#0b7491"/><circle cx="771.7" cy="981.3" r="9.2" fill="#0b7491"/><circle cx="1239.4" cy="1099.1" r="9.2" fill="#0b7491"/><circle cx="888.7" cy="1005.2" r="9.2" fill="#0b7491"/><circle cx="1356.9" cy="529.5" r="9.2" fill="#a4f96f"/><circle cx="1168.5" cy="1040.7" r="9.2" fill="#0b7491"/><circle cx="1325.7" cy="1151" r="9.2" fill="#0b7491"/><circle cx="892.6" cy="914.2" r="9.2" fill="#0b7491"/><circle cx="626" cy="1014.4" r="9.2" fill="#0b7491"/><circle cx="1435.5" cy="465.1" r="9.2" fill="#0b7491"/><circle cx="1217.6" cy="494.5" r="9.2" fill="#0b7491"/><circle cx="1680" cy="803.1" r="9.2" fill="#0b7491"/><circle cx="720.9" cy="1106.8" r="9.2" fill="#0b7491"/><circle cx="1662.2" cy="851" r="9.2" fill="#0b7491"/><circle cx="1242.5" cy="391.2" r="9.2" fill="#0b7491"/><circle cx="1398.3" cy="650.5" r="9.2" fill="#a4f96f"/><circle cx="1012.4" cy="852.9" r="9.2" fill="#0b7491"/><circle cx="1322.6" cy="890.2" r="9.2" fill="#a4f96f"/><circle cx="858.9" cy="949.7" r="9.2" fill="#a4f96f"/><circle cx="1090.5" cy="980.3" r="9.2" fill="#a4f96f"/><circle cx="461.8" cy="1309" r="9.2" fill="#0b7491"/><circle cx="1289.3" cy="942.4" r="9.2" fill="#a4f96f"/><circle cx="745.8" cy="1126" r="9.2" fill="#0b7491"/><circle cx="1155.1" cy="1064.6" r="9.2" fill="#0b7491"/><circle cx="1429" cy="423.9" r="9.2" fill="#0b7491"/><circle cx="1510.2" cy="611.8" r="9.2" fill="#0b7491"/><circle cx="776.4" cy="899.8" r="9.2" fill="#0b7491"/><circle cx="737.2" cy="1047.4" r="9.2" fill="#0b7491"/><circle cx="1688.3" cy="842.7" r="9.2" fill="#0b7491"/><circle cx="1473.1" cy="584" r="9.2" fill="#0b7491"/><circle cx="1327" cy="1156.1" r="9.2" fill="#0b7491"/><circle cx="1513.7" cy="591.1" r="9.2" fill="#0b7491"/><circle cx="1275.9" cy="888.3" r="9.2" fill="#0b7491"/><circle cx="1315.5" cy="498.9" r="9.2" fill="#0b7491"/><circle cx="1953.7" cy="662.2" r="9.2" fill="#a4f96f"/><circle cx="1363.8" cy="443" r="9.2" fill="#0b7491"/><circle cx="778.4" cy="922.4" r="9.2" fill="#a4f96f"/><circle cx="1683.5" cy="822.6" r="9.2" fill="#0b7491"/><circle cx="1116.8" cy="438.9" r="9.2" fill="#a4f96f"/><circle cx="700.7" cy="1160.5" r="9.2" fill="#a4f96f"/><circle cx="1247.7" cy="1074.2" r="9.2" fill="#0b7491"/><circle cx="1259.2" cy="769.3" r="9.2" fill="#0b7491"/><circle cx="2204.8" cy="835.8" r="9.2" fill="#a4f96f"/><circle cx="1130.2" cy="851.9" r="9.2" fill="#a4f96f"/><circle cx="1665.7" cy="679.9" r="9.2" fill="#0b7491"/><circle cx="1428.8" cy="1008.7" r="9.2" fill="#0b7491"/><circle cx="1241.4" cy="1141.2" r="9.2" fill="#a4f96f"/><circle cx="1267.1" cy="641" r="9.2" fill="#0b7491"/><circle cx="1338.5" cy="1192.1" r="9.2" fill="#0b7491"/><circle cx="875.3" cy="980.3" r="9.2" fill="#0b7491"/><circle cx="1511.4" cy="514.9" r="9.2" fill="#0b7491"/><circle cx="1400.6" cy="913.2" r="9.2" fill="#0b7491"/><circle cx="1261.1" cy="762.3" r="9.2" fill="#a4f96f"/><circle cx="2164.5" cy="835.1" r="9.2" fill="#a4f96f"/><circle cx="1501.8" cy="516.8" r="9.2" fill="#0b7491"/><circle cx="1433.2" cy="916.1" r="9.2" fill="#0b7491"/><circle cx="791.8" cy="928.6" r="9.2" fill="#0b7491"/><circle cx="822.4" cy="1057" r="9.2" fill="#0b7491"/><circle cx="999.9" cy="1057" r="9.2" fill="#0b7491"/><circle cx="1245.8" cy="423.8" r="9.2" fill="#0b7491"/><circle cx="891.6" cy="1028.2" r="9.2" fill="#0b7491"/><circle cx="1253.4" cy="410.7" r="9.2" fill="#0b7491"/><circle cx="1504.1" cy="579.2" r="9.2" fill="#0b7491"/><circle cx="1372.8" cy="555.7" r="9.2" fill="#a4f96f"/><circle cx="1259.8" cy="782.4" r="9.2" fill="#a4f96f"/><circle cx="959.7" cy="1066.6" r="9.2" fill="#0b7491"/><circle cx="1712.2" cy="654.6" r="9.2" fill="#a4f96f"/><circle cx="787" cy="1054.1" r="9.2" fill="#0b7491"/><circle cx="1402.7" cy="481.3" r="9.2" fill="#0b7491"/><circle cx="1158.4" cy="1133" r="9.2" fill="#a4f96f"/><circle cx="1287.4" cy="1085.7" r="9.2" fill="#0b7491"/><circle cx="1101.5" cy="875.9" r="9.2" fill="#a4f96f"/><circle cx="1145.5" cy="1101" r="9.2" fill="#0b7491"/><circle cx="1414" cy="867.2" r="9.2" fill="#0b7491"/><circle cx="814.8" cy="1059.8" r="9.2" fill="#0b7491"/><circle cx="1283.5" cy="1078" r="9.2" fill="#0b7491"/><circle cx="464.3" cy="1296.2" r="9.2" fill="#0b7491"/><circle cx="1279.7" cy="857.7" r="9.2" fill="#a4f96f"/><circle cx="872.5" cy="1050.3" r="9.2" fill="#0b7491"/><circle cx="1282.6" cy="875.9" r="9.2" fill="#0b7491"/><circle cx="1430.5" cy="764.2" r="9.2" fill="#a4f96f"/></g>
<g stroke="#000" stroke-width="2.8"><circle cx="130.5" cy="198" r="9.2" fill="#a4f96f"/><circle cx="130.5" cy="250.5" r="9.2" fill="#0b7491"/></g>
<g stroke="#000" stroke-width="2" fill="none"><path d="M221.7 1727.5V1743.4H652.8V1727.5M437.2 1727.5V1743.4"/><path d="M264.8 1734.5v9M307.9 1734.5v9M351 1734.5v9M394.1 1734.5v9M480.3 1734.5v9M523.4 1734.5v9M566.5 1734.5v9M609.6 1734.5v9"/></g>
<path d="M154 1709.5L141.5 1748L153.4 1734.3z" fill="#000" stroke="#000" stroke-width="1"/>
<path d="M154 1709.5L164.8 1748L153.4 1734.3z" fill="#fff" stroke="#000" stroke-width="1.2"/>
<g><path id="ltop" d="M2338.6 116.5A66.2 66.2 0 0 1 2467.4 116.5" fill="none"/><path id="lbot" d="M2328.8 162.7A80.3 80.3 0 0 0 2476.1 165.3" fill="none"/><g font-family="Liberation Sans, sans-serif" font-weight="700" fill="#0c6f8b" font-size="18.8"><text textLength="176.8" lengthAdjust="spacing"><textPath href="#ltop" textLength="176.8" lengthAdjust="spacing">WESTCOUNTRY</textPath></text><text font-size="17.8" font-weight="400" stroke="#0c6f8b" stroke-width="0.6" textLength="186.4" lengthAdjust="spacing"><textPath href="#lbot" textLength="186.4" lengthAdjust="spacing">RIVERS TRUST</textPath></text></g><g fill="#0c6f8b" stroke="none"><path d="M2426.0 89.3C2426.5 89.1 2433.3 92.8 2436.5 95.4C2439.6 98.1 2442.7 101.6 2445.1 105.3C2447.4 109.0 2449.2 113.3 2450.6 117.6C2452.1 121.9 2453.4 127.1 2453.7 131.2C2454.0 135.3 2453.3 138.6 2452.5 142.3C2451.7 146.0 2450.6 149.9 2448.8 153.3C2446.9 156.8 2444.1 160.1 2441.4 163.2C2438.7 166.3 2436.1 169.2 2432.8 171.8C2429.5 174.5 2425.6 177.4 2421.7 179.2C2417.8 181.1 2413.5 182.5 2409.4 182.9C2405.3 183.3 2400.7 182.5 2397.0 181.7C2393.3 180.9 2390.5 179.5 2387.2 178.0C2383.9 176.4 2380.2 174.5 2377.3 172.4C2374.5 170.4 2371.8 167.7 2369.9 165.7C2368.1 163.6 2367.2 162.0 2366.2 160.1C2365.3 158.3 2364.2 156.0 2364.4 154.6C2364.6 153.1 2365.9 151.6 2367.5 151.5C2369.0 151.4 2371.2 153.1 2373.6 154.0C2376.1 154.8 2379.4 155.4 2382.3 156.4C2385.1 157.4 2387.8 159.7 2390.9 160.1C2394.0 160.5 2397.4 159.4 2400.7 158.9C2404.0 158.4 2407.3 157.9 2410.6 157.0C2413.9 156.2 2417.7 155.8 2420.4 154.0C2423.2 152.1 2425.0 148.6 2427.2 146.0C2429.5 143.3 2431.4 140.3 2434.0 137.9C2436.6 135.6 2440.8 134.8 2442.6 131.8C2444.4 128.8 2445.2 124.3 2444.8 120.1C2444.4 115.9 2442.1 110.4 2440.2 106.5C2438.2 102.6 2435.7 99.5 2433.4 96.7C2431.0 93.8 2425.5 89.5 2426.0 89.3z"/><path d="M2371.8 95.4C2373.5 95.5 2374.8 96.7 2375.1 98.5C2375.4 100.4 2374.2 104.2 2373.6 106.5C2373.0 108.9 2371.7 110.7 2371.4 112.7C2371.2 114.6 2372.6 117.1 2372.2 118.2C2371.7 119.4 2369.9 118.5 2368.9 119.5C2368.0 120.4 2367.3 122.2 2366.2 123.8C2365.1 125.3 2363.3 127.2 2362.3 128.7C2361.3 130.2 2360.1 131.9 2360.1 133.0C2360.1 134.1 2360.4 134.8 2362.3 135.5C2364.2 136.2 2370.7 135.9 2371.4 137.3C2372.2 138.8 2368.4 142.1 2366.9 144.1C2365.3 146.1 2363.5 149.5 2362.3 149.4C2361.1 149.3 2360.5 145.5 2359.5 143.5C2358.4 141.5 2357.1 139.4 2356.1 137.3C2355.2 135.3 2354.6 133.2 2353.9 131.2C2353.2 129.1 2352.3 127.3 2352.1 125.0C2351.9 122.7 2352.2 120.1 2352.7 117.6C2353.2 115.2 2354.0 112.6 2355.2 110.2C2356.3 107.9 2357.8 105.5 2359.5 103.4C2361.1 101.4 2363.0 99.2 2365.0 97.9C2367.1 96.6 2370.1 95.3 2371.8 95.4z"/><path d="M2408.1 90.5C2408.9 89.8 2410.6 88.9 2412.4 88.7C2414.3 88.5 2417.9 88.7 2419.2 89.3C2420.5 89.9 2421.1 91.5 2420.4 92.4C2419.8 93.2 2417.2 93.9 2415.5 94.2C2413.9 94.5 2411.9 94.4 2410.6 94.2C2409.3 94.0 2407.9 93.6 2407.5 93.0C2407.1 92.4 2407.3 91.2 2408.1 90.5z"/><path d="M2406.9 87.4C2405.9 87.1 2403.7 85.5 2402.0 84.4C2400.2 83.2 2397.2 81.9 2396.4 80.7C2395.6 79.4 2396.2 78.0 2397.0 77.0C2397.9 75.9 2400.1 74.5 2401.4 74.5C2402.6 74.5 2403.5 75.7 2404.4 77.0C2405.4 78.2 2406.3 80.3 2406.9 81.9C2407.5 83.4 2408.1 85.3 2408.1 86.2C2408.1 87.1 2407.9 87.7 2406.9 87.4z"/><circle cx="2442.6" cy="125.0" r="2.6"/><circle cx="2456.2" cy="133.0" r="3"/></g><path d="M2408.1 91.7L2398.3 91.1L2388.4 95.4L2378.6 96.1" fill="none" stroke="#0c6f8b" stroke-width="1.1" stroke-linecap="round" stroke-linejoin="round"/><path d="M2408.1 92.4L2397.0 94.2L2388.4 97.9L2381.0 99.1" fill="none" stroke="#0c6f8b" stroke-width="1.0" stroke-linecap="round" stroke-linejoin="round"/><path d="M2398.3 91.7L2394.6 95.4L2390.9 99.1" fill="none" stroke="#0c6f8b" stroke-width="0.9" stroke-linecap="round" stroke-linejoin="round"/><path d="M2403.2 93.0L2402.0 97.9L2398.9 99.8" fill="none" stroke="#0c6f8b" stroke-width="0.9" stroke-linecap="round" stroke-linejoin="round"/><path d="M2410.6 89.3L2410.0 83.1L2412.4 78.8" fill="none" stroke="#0c6f8b" stroke-width="0.9" stroke-linecap="round" stroke-linejoin="round"/><path d="M2412.4 88.0L2416.8 85.6L2419.8 83.7" fill="none" stroke="#0c6f8b" stroke-width="0.9" stroke-linecap="round" stroke-linejoin="round"/><path d="M2365.0 158.3L2362.5 163.2" fill="none" stroke="#0c6f8b" stroke-width="0.8" stroke-linecap="round" stroke-linejoin="round"/><path d="M2366.2 160.1L2365.0 165.7" fill="none" stroke="#0c6f8b" stroke-width="0.8" stroke-linecap="round" stroke-linejoin="round"/><path d="M2367.5 162.0L2368.1 168.1" fill="none" stroke="#0c6f8b" stroke-width="0.8" stroke-linecap="round" stroke-linejoin="round"/><path d="M2398.3 177.0L2405.7 179.2L2419.2 178.6" fill="none" stroke="#fff" stroke-width="1.6" stroke-linecap="round"/><path d="M2445.1 144.7L2440.2 152.1L2439.5 158.3" fill="none" stroke="#fff" stroke-width="0.9" stroke-linecap="round"/><path d="M2374.9 160.1L2381.0 163.2L2384.7 166.9" fill="none" stroke="#fff" stroke-width="0.9" stroke-linecap="round"/><circle cx="2361.3" cy="109.0" r="0.7" fill="#fff"/><circle cx="2365.0" cy="105.3" r="0.7" fill="#fff"/><circle cx="2360.1" cy="115.2" r="0.7" fill="#fff"/><circle cx="2357.0" cy="120.1" r="0.7" fill="#fff"/><circle cx="2363.8" cy="113.9" r="0.7" fill="#fff"/></g>
</svg>
<div id="title"><span style="position:absolute;left:76.16px;top:0;transform-origin:0 0;transform:scaleX(1.0740)">South</span><span style="position:absolute;left:262.00px;top:0;transform-origin:0 0;transform:scaleX(1.0119)">West</span><span style="position:absolute;left:414.09px;top:0;transform-origin:0 0;transform:scaleX(1.0647)">Electric</span><span style="position:absolute;left:636.89px;top:0;transform-origin:0 0;transform:scaleX(1.0638)">Fishing</span><span style="position:absolute;left:857.02px;top:0;transform-origin:0 0;transform:scaleX(0.9939)">Surveys</span><span style="position:absolute;left:1085.20px;top:0;transform-origin:0 0;transform:scaleX(1.0016)">2025</span></div>
<div class="leg" style="top:183px">Environment Agency</div>
<div class="leg" style="top:236px;left:182px;letter-spacing:-0.1px">Westcountry Rivers Trust</div>
<div class="sb" style="left:216px;top:1697px">0</div>
<div class="sb" style="left:426px;top:1697px">25</div>
<div class="sb" style="left:641px;top:1697px">50<span style="margin-left:7px;letter-spacing:-0.4px">Kilometers</span></div>
<div class="sb" style="left:148.5px;top:1687px;font-size:15px">N</div>
<div id="copy"><div>Copyright: Contains OS data and catchment data available under the Open</div><div style="letter-spacing:0.32px">Government Licence v3.0 © Crown copyright and database right (2025)</div><div style="letter-spacing:0.33px">© Westcountry Rivers Trust 2025</div></div>
</body></html>
